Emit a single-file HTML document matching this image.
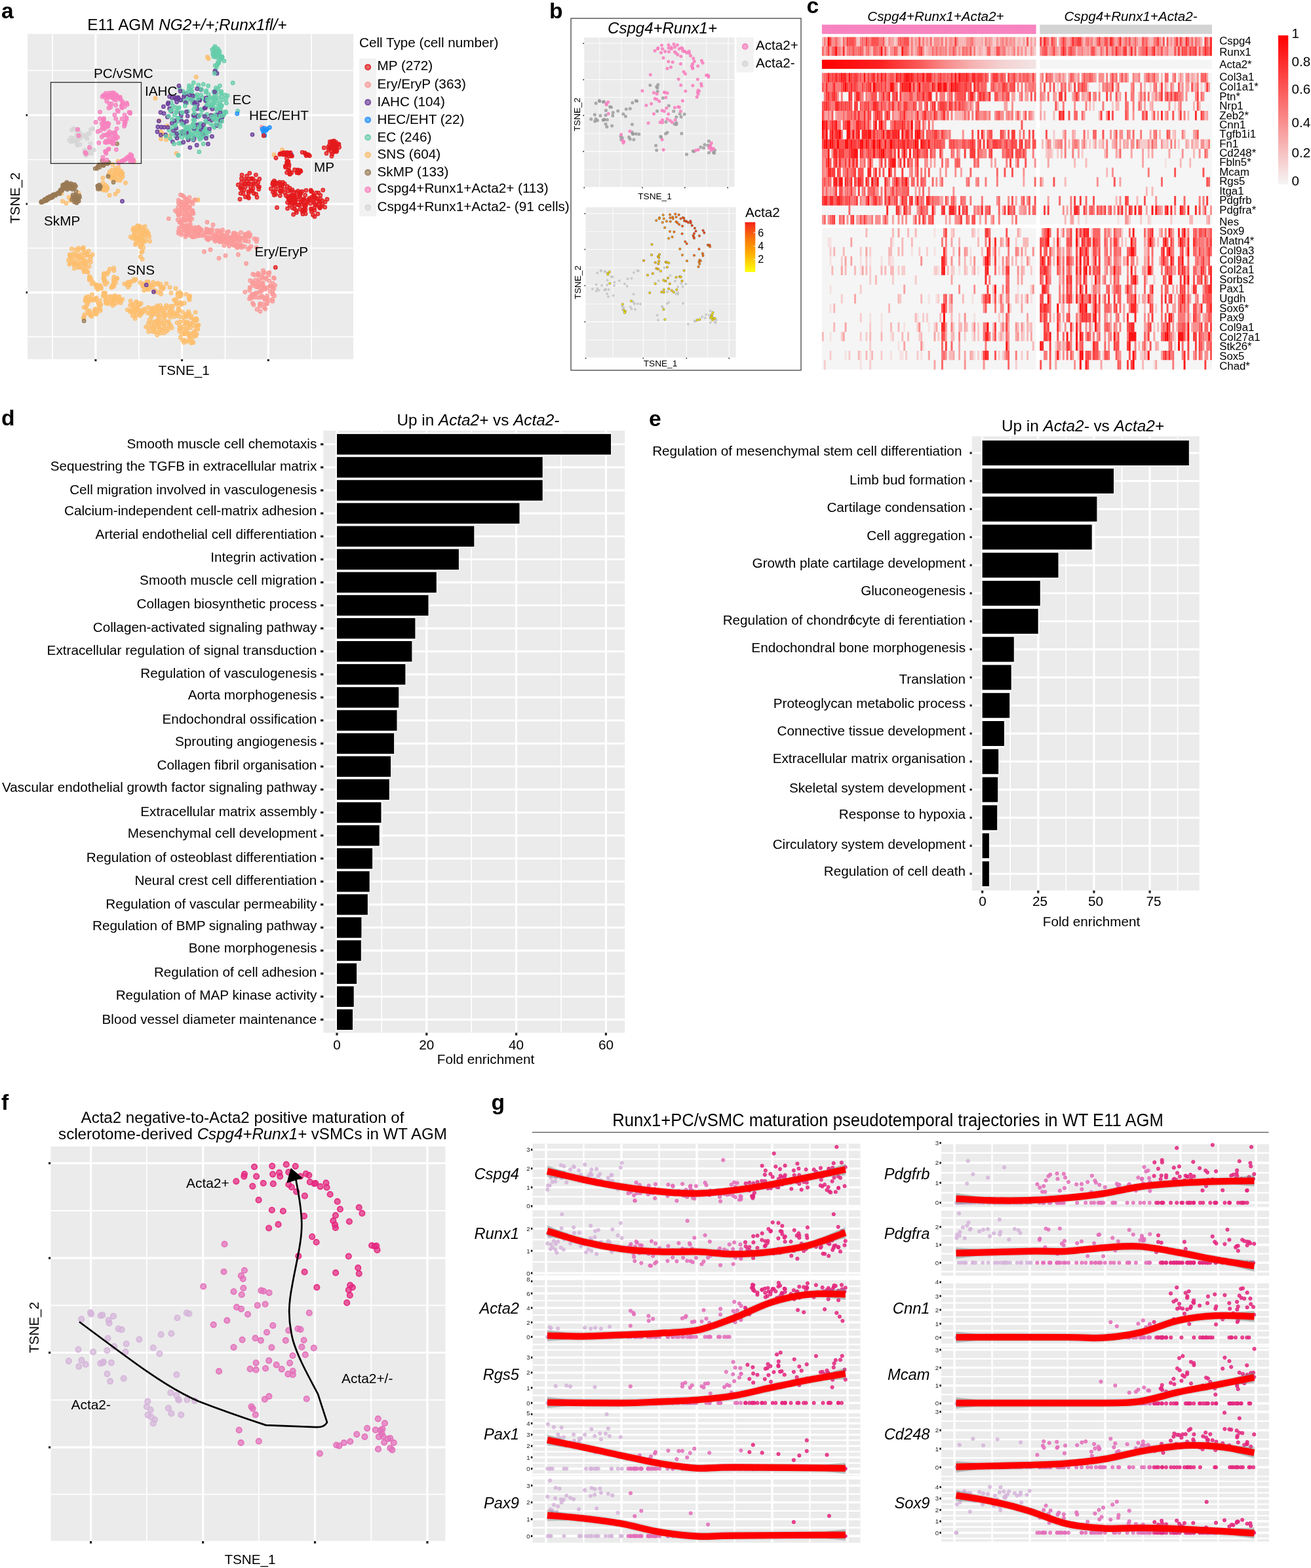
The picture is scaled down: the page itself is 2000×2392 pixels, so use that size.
<!DOCTYPE html>
<html><head><meta charset="utf-8"><title>Figure</title>
<style>html,body{margin:0;padding:0;background:#fff}svg{display:block}text{font-family:'Liberation Sans', sans-serif}</style>
</head><body>
<svg width="2000" height="2392" viewBox="0 0 2000 2392">
<rect width="2000" height="2392" fill="#fff"/>
<rect x="42.1" y="51.7" width="496.9" height="496.2" fill="#ebebeb" />
<path d="M80.0 51.7V547.9M211.8 51.7V547.9M343.5 51.7V547.9M475.2 51.7V547.9M42.1 107.5H539.0M42.1 243.5H539.0M42.1 378.5H539.0M42.1 513.7H539.0" stroke="#fff" stroke-width="1.7" fill="none"/>
<path d="M145.9 51.7V547.9M277.6 51.7V547.9M409.3 51.7V547.9M42.1 175.7H539.0M42.1 311.1H539.0M42.1 446.1H539.0" stroke="#fff" stroke-width="3.1" fill="none"/>
<g fill="#d6d6d6" fill-opacity="0.70" stroke="#d6d6d6" stroke-opacity="0.92" stroke-width="1.43">
<circle cx="109.3" cy="198.6" r="2.69"/>
<circle cx="112.0" cy="196.2" r="2.69"/>
<circle cx="112.2" cy="196.7" r="2.69"/>
<circle cx="115.1" cy="197.3" r="2.69"/>
<circle cx="115.6" cy="197.1" r="2.69"/>
<circle cx="119.0" cy="197.5" r="2.69"/>
<circle cx="117.5" cy="199.0" r="2.69"/>
<circle cx="117.7" cy="200.1" r="2.69"/>
<circle cx="120.5" cy="202.2" r="2.69"/>
<circle cx="121.5" cy="202.5" r="2.69"/>
<circle cx="117.3" cy="205.7" r="2.69"/>
<circle cx="126.8" cy="206.1" r="2.69"/>
<circle cx="122.9" cy="207.8" r="2.69"/>
<circle cx="119.2" cy="208.8" r="2.69"/>
<circle cx="108.4" cy="209.8" r="2.69"/>
<circle cx="112.9" cy="210.8" r="2.69"/>
<circle cx="117.0" cy="210.2" r="2.69"/>
<circle cx="122.6" cy="210.8" r="2.69"/>
<circle cx="105.5" cy="214.1" r="2.69"/>
<circle cx="109.3" cy="213.9" r="2.69"/>
<circle cx="108.5" cy="216.2" r="2.69"/>
<circle cx="110.6" cy="215.4" r="2.69"/>
<circle cx="115.0" cy="215.0" r="2.69"/>
<circle cx="115.7" cy="214.8" r="2.69"/>
<circle cx="116.0" cy="214.5" r="2.69"/>
<circle cx="118.3" cy="214.8" r="2.69"/>
<circle cx="117.0" cy="218.9" r="2.69"/>
<circle cx="122.1" cy="220.6" r="2.69"/>
<circle cx="118.0" cy="221.7" r="2.69"/>
<circle cx="138.3" cy="198.2" r="2.69"/>
<circle cx="141.1" cy="196.3" r="2.69"/>
<circle cx="141.8" cy="196.6" r="2.69"/>
<circle cx="133.3" cy="204.3" r="2.69"/>
<circle cx="136.5" cy="204.0" r="2.69"/>
<circle cx="131.0" cy="209.2" r="2.69"/>
<circle cx="132.9" cy="211.4" r="2.69"/>
<circle cx="138.0" cy="219.2" r="2.69"/>
<circle cx="136.2" cy="225.9" r="2.69"/>
<circle cx="138.0" cy="226.9" r="2.69"/>
<circle cx="138.6" cy="228.4" r="2.69"/>
<circle cx="138.7" cy="228.6" r="2.69"/>
<circle cx="141.2" cy="228.5" r="2.69"/>
<circle cx="143.5" cy="228.8" r="2.69"/>
<circle cx="129.3" cy="229.1" r="2.69"/>
<circle cx="129.0" cy="231.1" r="2.69"/>
<circle cx="130.2" cy="232.3" r="2.69"/>
<circle cx="135.6" cy="231.6" r="2.69"/>
<circle cx="136.5" cy="233.6" r="2.69"/>
<circle cx="139.4" cy="234.1" r="2.69"/>
<circle cx="129.4" cy="234.2" r="2.69"/>
<circle cx="130.4" cy="234.9" r="2.69"/>
<circle cx="131.4" cy="235.9" r="2.69"/>
<circle cx="131.0" cy="237.3" r="2.69"/>
</g>
<g fill="#fdbf6f" fill-opacity="0.70" stroke="#fdbf6f" stroke-opacity="0.92" stroke-width="1.43">
<circle cx="217.3" cy="359.6" r="2.69"/>
<circle cx="214.3" cy="359.4" r="2.69"/>
<circle cx="214.8" cy="354.3" r="2.69"/>
<circle cx="214.9" cy="363.6" r="2.69"/>
<circle cx="210.3" cy="358.4" r="2.69"/>
<circle cx="216.3" cy="356.3" r="2.69"/>
<circle cx="210.9" cy="365.7" r="2.69"/>
<circle cx="211.2" cy="353.0" r="2.69"/>
<circle cx="217.4" cy="360.7" r="2.69"/>
<circle cx="207.8" cy="362.2" r="2.69"/>
<circle cx="218.5" cy="352.5" r="2.69"/>
<circle cx="215.6" cy="366.2" r="2.69"/>
<circle cx="208.1" cy="352.2" r="2.69"/>
<circle cx="220.6" cy="357.4" r="2.69"/>
<circle cx="210.1" cy="363.1" r="2.69"/>
<circle cx="212.3" cy="349.4" r="2.69"/>
<circle cx="217.4" cy="366.6" r="2.69"/>
<circle cx="205.4" cy="359.7" r="2.69"/>
<circle cx="220.2" cy="352.9" r="2.69"/>
<circle cx="212.6" cy="367.9" r="2.69"/>
<circle cx="208.6" cy="350.8" r="2.69"/>
<circle cx="223.3" cy="360.6" r="2.69"/>
<circle cx="207.1" cy="363.5" r="2.69"/>
<circle cx="213.4" cy="347.3" r="2.69"/>
<circle cx="218.6" cy="367.4" r="2.69"/>
<circle cx="204.5" cy="356.4" r="2.69"/>
<circle cx="223.0" cy="354.8" r="2.69"/>
<circle cx="208.6" cy="371.0" r="2.69"/>
<circle cx="211.2" cy="345.7" r="2.69"/>
<circle cx="222.3" cy="367.0" r="2.69"/>
<circle cx="206.6" cy="362.9" r="2.69"/>
<circle cx="219.0" cy="350.6" r="2.69"/>
<circle cx="215.5" cy="370.7" r="2.69"/>
<circle cx="204.9" cy="349.2" r="2.69"/>
<circle cx="226.4" cy="356.6" r="2.69"/>
<circle cx="207.5" cy="366.9" r="2.69"/>
<circle cx="213.4" cy="345.3" r="2.69"/>
<circle cx="220.2" cy="369.1" r="2.69"/>
<circle cx="205.2" cy="358.7" r="2.69"/>
<circle cx="224.1" cy="351.9" r="2.69"/>
<circle cx="213.8" cy="375.6" r="2.69"/>
<circle cx="207.8" cy="346.4" r="2.69"/>
<circle cx="227.7" cy="360.9" r="2.69"/>
<circle cx="202.1" cy="363.6" r="2.69"/>
<circle cx="217.8" cy="346.8" r="2.69"/>
<circle cx="216.5" cy="373.2" r="2.69"/>
<circle cx="202.7" cy="350.7" r="2.69"/>
<circle cx="226.1" cy="355.6" r="2.69"/>
<circle cx="206.4" cy="372.9" r="2.69"/>
<circle cx="210.4" cy="344.1" r="2.69"/>
<circle cx="228.6" cy="368.0" r="2.69"/>
<circle cx="199.2" cy="361.3" r="2.69"/>
<circle cx="221.1" cy="345.3" r="2.69"/>
<circle cx="215.7" cy="372.5" r="2.69"/>
<circle cx="203.8" cy="348.0" r="2.69"/>
<circle cx="215.8" cy="384.7" r="2.69"/>
<circle cx="217.3" cy="383.8" r="2.69"/>
<circle cx="218.6" cy="377.7" r="2.69"/>
<circle cx="214.4" cy="391.7" r="2.69"/>
<circle cx="217.3" cy="395.3" r="2.69"/>
<circle cx="214.3" cy="377.1" r="2.69"/>
<circle cx="122.1" cy="392.9" r="2.69"/>
<circle cx="125.9" cy="394.5" r="2.69"/>
<circle cx="119.2" cy="392.4" r="2.69"/>
<circle cx="123.5" cy="387.8" r="2.69"/>
<circle cx="123.6" cy="402.1" r="2.69"/>
<circle cx="116.2" cy="389.8" r="2.69"/>
<circle cx="127.4" cy="395.4" r="2.69"/>
<circle cx="118.9" cy="397.9" r="2.69"/>
<circle cx="121.8" cy="391.1" r="2.69"/>
<circle cx="125.1" cy="399.7" r="2.69"/>
<circle cx="112.8" cy="392.6" r="2.69"/>
<circle cx="128.0" cy="389.7" r="2.69"/>
<circle cx="118.5" cy="403.8" r="2.69"/>
<circle cx="116.6" cy="387.9" r="2.69"/>
<circle cx="129.3" cy="398.3" r="2.69"/>
<circle cx="112.8" cy="401.3" r="2.69"/>
<circle cx="128.7" cy="385.7" r="2.69"/>
<circle cx="128.0" cy="403.0" r="2.69"/>
<circle cx="109.4" cy="389.3" r="2.69"/>
<circle cx="133.8" cy="389.9" r="2.69"/>
<circle cx="113.0" cy="402.9" r="2.69"/>
<circle cx="119.2" cy="381.5" r="2.69"/>
<circle cx="130.9" cy="401.6" r="2.69"/>
<circle cx="110.6" cy="396.8" r="2.69"/>
<circle cx="131.1" cy="385.3" r="2.69"/>
<circle cx="119.5" cy="403.5" r="2.69"/>
<circle cx="112.0" cy="387.1" r="2.69"/>
<circle cx="133.8" cy="398.4" r="2.69"/>
<circle cx="114.3" cy="399.7" r="2.69"/>
<circle cx="125.9" cy="379.3" r="2.69"/>
<circle cx="130.2" cy="403.8" r="2.69"/>
<circle cx="107.3" cy="393.4" r="2.69"/>
<circle cx="133.2" cy="387.8" r="2.69"/>
<circle cx="119.5" cy="408.0" r="2.69"/>
<circle cx="115.1" cy="380.8" r="2.69"/>
<circle cx="138.2" cy="400.1" r="2.69"/>
<circle cx="106.8" cy="401.0" r="2.69"/>
<circle cx="127.4" cy="380.4" r="2.69"/>
<circle cx="125.9" cy="409.3" r="2.69"/>
<circle cx="106.2" cy="388.2" r="2.69"/>
<circle cx="138.2" cy="391.4" r="2.69"/>
<circle cx="112.9" cy="404.1" r="2.69"/>
<circle cx="119.8" cy="378.4" r="2.69"/>
<circle cx="136.1" cy="406.6" r="2.69"/>
<circle cx="104.5" cy="397.0" r="2.69"/>
<circle cx="135.2" cy="382.8" r="2.69"/>
<circle cx="122.1" cy="407.4" r="2.69"/>
<circle cx="109.3" cy="379.6" r="2.69"/>
<circle cx="137.9" cy="395.7" r="2.69"/>
<circle cx="105.8" cy="403.3" r="2.69"/>
<circle cx="127.2" cy="377.3" r="2.69"/>
<circle cx="131.7" cy="409.6" r="2.69"/>
<circle cx="106.6" cy="391.1" r="2.69"/>
<circle cx="141.1" cy="388.5" r="2.69"/>
<circle cx="113.5" cy="409.4" r="2.69"/>
<circle cx="136.9" cy="424.6" r="2.69"/>
<circle cx="142.2" cy="430.9" r="2.69"/>
<circle cx="136.2" cy="427.1" r="2.69"/>
<circle cx="153.4" cy="439.7" r="2.69"/>
<circle cx="139.1" cy="426.6" r="2.69"/>
<circle cx="146.8" cy="438.6" r="2.69"/>
<circle cx="134.0" cy="415.2" r="2.69"/>
<circle cx="140.1" cy="432.8" r="2.69"/>
<circle cx="153.2" cy="436.2" r="2.69"/>
<circle cx="128.3" cy="414.7" r="2.69"/>
<circle cx="146.8" cy="434.5" r="2.69"/>
<circle cx="136.7" cy="423.0" r="2.69"/>
<circle cx="128.3" cy="412.1" r="2.69"/>
<circle cx="151.9" cy="435.3" r="2.69"/>
<circle cx="133.0" cy="414.3" r="2.69"/>
<circle cx="136.8" cy="422.0" r="2.69"/>
<circle cx="151.1" cy="439.2" r="2.69"/>
<circle cx="148.1" cy="435.4" r="2.69"/>
<circle cx="136.3" cy="423.5" r="2.69"/>
<circle cx="149.0" cy="441.5" r="2.69"/>
<circle cx="145.8" cy="434.7" r="2.69"/>
<circle cx="138.4" cy="424.6" r="2.69"/>
<circle cx="159.5" cy="427.1" r="2.69"/>
<circle cx="160.0" cy="427.9" r="2.69"/>
<circle cx="173.8" cy="412.8" r="2.69"/>
<circle cx="178.0" cy="424.2" r="2.69"/>
<circle cx="171.6" cy="435.9" r="2.69"/>
<circle cx="173.6" cy="430.2" r="2.69"/>
<circle cx="165.4" cy="414.4" r="2.69"/>
<circle cx="173.6" cy="409.0" r="2.69"/>
<circle cx="173.5" cy="427.5" r="2.69"/>
<circle cx="167.5" cy="410.5" r="2.69"/>
<circle cx="174.4" cy="428.0" r="2.69"/>
<circle cx="163.5" cy="417.4" r="2.69"/>
<circle cx="162.7" cy="417.9" r="2.69"/>
<circle cx="173.7" cy="437.0" r="2.69"/>
<circle cx="173.9" cy="426.5" r="2.69"/>
<circle cx="173.4" cy="432.8" r="2.69"/>
<circle cx="157.7" cy="423.6" r="2.69"/>
<circle cx="159.2" cy="421.9" r="2.69"/>
<circle cx="158.1" cy="425.2" r="2.69"/>
<circle cx="172.7" cy="434.1" r="2.69"/>
<circle cx="163.3" cy="431.5" r="2.69"/>
<circle cx="158.2" cy="417.8" r="2.69"/>
<circle cx="159.1" cy="429.6" r="2.69"/>
<circle cx="170.0" cy="438.5" r="2.69"/>
<circle cx="160.5" cy="433.7" r="2.69"/>
<circle cx="173.9" cy="422.7" r="2.69"/>
<circle cx="178.8" cy="425.1" r="2.69"/>
<circle cx="159.3" cy="417.1" r="2.69"/>
<circle cx="176.6" cy="431.3" r="2.69"/>
<circle cx="170.9" cy="438.1" r="2.69"/>
<circle cx="130.6" cy="469.2" r="2.69"/>
<circle cx="127.9" cy="468.8" r="2.69"/>
<circle cx="141.6" cy="478.5" r="2.69"/>
<circle cx="146.3" cy="457.7" r="2.69"/>
<circle cx="133.5" cy="460.4" r="2.69"/>
<circle cx="145.0" cy="472.7" r="2.69"/>
<circle cx="141.2" cy="458.1" r="2.69"/>
<circle cx="148.1" cy="477.1" r="2.69"/>
<circle cx="144.3" cy="473.6" r="2.69"/>
<circle cx="145.4" cy="455.6" r="2.69"/>
<circle cx="131.2" cy="454.0" r="2.69"/>
<circle cx="135.5" cy="459.1" r="2.69"/>
<circle cx="134.7" cy="452.7" r="2.69"/>
<circle cx="152.5" cy="458.5" r="2.69"/>
<circle cx="151.8" cy="464.8" r="2.69"/>
<circle cx="139.2" cy="456.6" r="2.69"/>
<circle cx="133.8" cy="478.0" r="2.69"/>
<circle cx="145.1" cy="477.8" r="2.69"/>
<circle cx="145.7" cy="471.2" r="2.69"/>
<circle cx="151.6" cy="470.8" r="2.69"/>
<circle cx="143.3" cy="456.8" r="2.69"/>
<circle cx="132.1" cy="453.2" r="2.69"/>
<circle cx="139.1" cy="457.8" r="2.69"/>
<circle cx="146.6" cy="479.4" r="2.69"/>
<circle cx="133.8" cy="462.6" r="2.69"/>
<circle cx="147.0" cy="454.3" r="2.69"/>
<circle cx="150.8" cy="465.4" r="2.69"/>
<circle cx="130.0" cy="457.5" r="2.69"/>
<circle cx="133.1" cy="473.4" r="2.69"/>
<circle cx="136.7" cy="477.8" r="2.69"/>
<circle cx="139.8" cy="456.0" r="2.69"/>
<circle cx="140.3" cy="449.5" r="2.69"/>
<circle cx="149.2" cy="461.6" r="2.69"/>
<circle cx="136.6" cy="474.2" r="2.69"/>
<circle cx="139.8" cy="482.7" r="2.69"/>
<circle cx="132.1" cy="466.5" r="2.69"/>
<circle cx="153.1" cy="473.8" r="2.69"/>
<circle cx="134.1" cy="462.0" r="2.69"/>
<circle cx="152.6" cy="470.4" r="2.69"/>
<circle cx="130.1" cy="459.3" r="2.69"/>
<circle cx="138.2" cy="481.4" r="2.69"/>
<circle cx="153.9" cy="464.7" r="2.69"/>
<circle cx="127.5" cy="485.0" r="2.69"/>
<circle cx="129.0" cy="480.0" r="2.69"/>
<circle cx="154.6" cy="439.6" r="2.69"/>
<circle cx="157.7" cy="451.2" r="2.69"/>
<circle cx="160.5" cy="447.2" r="2.69"/>
<circle cx="160.0" cy="450.4" r="2.69"/>
<circle cx="157.9" cy="446.9" r="2.69"/>
<circle cx="159.5" cy="448.3" r="2.69"/>
<circle cx="157.8" cy="451.4" r="2.69"/>
<circle cx="174.3" cy="456.9" r="2.69"/>
<circle cx="173.6" cy="458.9" r="2.69"/>
<circle cx="169.3" cy="458.0" r="2.69"/>
<circle cx="174.9" cy="455.1" r="2.69"/>
<circle cx="172.4" cy="461.1" r="2.69"/>
<circle cx="170.2" cy="456.8" r="2.69"/>
<circle cx="180.6" cy="458.0" r="2.69"/>
<circle cx="167.7" cy="461.3" r="2.69"/>
<circle cx="171.6" cy="453.5" r="2.69"/>
<circle cx="180.5" cy="460.9" r="2.69"/>
<circle cx="163.1" cy="458.6" r="2.69"/>
<circle cx="179.6" cy="454.4" r="2.69"/>
<circle cx="172.7" cy="463.4" r="2.69"/>
<circle cx="165.9" cy="453.0" r="2.69"/>
<circle cx="183.7" cy="458.8" r="2.69"/>
<circle cx="161.4" cy="461.2" r="2.69"/>
<circle cx="176.7" cy="453.1" r="2.69"/>
<circle cx="176.0" cy="463.3" r="2.69"/>
<circle cx="160.7" cy="453.8" r="2.69"/>
<circle cx="186.8" cy="456.6" r="2.69"/>
<circle cx="165.4" cy="463.6" r="2.69"/>
<circle cx="169.3" cy="452.3" r="2.69"/>
<circle cx="184.1" cy="462.0" r="2.69"/>
<circle cx="161.0" cy="458.3" r="2.69"/>
<circle cx="181.8" cy="452.5" r="2.69"/>
<circle cx="172.0" cy="466.0" r="2.69"/>
<circle cx="160.9" cy="453.1" r="2.69"/>
<circle cx="184.4" cy="458.2" r="2.69"/>
<circle cx="161.9" cy="462.7" r="2.69"/>
<circle cx="175.3" cy="450.9" r="2.69"/>
<circle cx="232.1" cy="435.2" r="2.69"/>
<circle cx="235.1" cy="434.4" r="2.69"/>
<circle cx="219.7" cy="443.1" r="2.69"/>
<circle cx="228.8" cy="435.2" r="2.69"/>
<circle cx="224.4" cy="429.8" r="2.69"/>
<circle cx="245.6" cy="443.0" r="2.69"/>
<circle cx="197.6" cy="435.1" r="2.69"/>
<circle cx="196.4" cy="430.2" r="2.69"/>
<circle cx="193.4" cy="433.9" r="2.69"/>
<circle cx="217.6" cy="434.6" r="2.69"/>
<circle cx="245.1" cy="437.5" r="2.69"/>
<circle cx="200.4" cy="429.4" r="2.69"/>
<circle cx="213.9" cy="431.2" r="2.69"/>
<circle cx="259.0" cy="438.3" r="2.69"/>
<circle cx="204.5" cy="426.1" r="2.69"/>
<circle cx="207.3" cy="426.2" r="2.69"/>
<circle cx="245.7" cy="448.6" r="2.69"/>
<circle cx="217.6" cy="432.9" r="2.69"/>
<circle cx="226.0" cy="430.1" r="2.69"/>
<circle cx="200.0" cy="430.1" r="2.69"/>
<circle cx="232.5" cy="438.4" r="2.69"/>
<circle cx="223.7" cy="430.3" r="2.69"/>
<circle cx="236.8" cy="443.4" r="2.69"/>
<circle cx="189.8" cy="433.1" r="2.69"/>
<circle cx="225.5" cy="439.5" r="2.69"/>
<circle cx="244.6" cy="433.2" r="2.69"/>
<circle cx="241.9" cy="446.2" r="2.69"/>
<circle cx="197.5" cy="434.9" r="2.69"/>
<circle cx="240.4" cy="432.0" r="2.69"/>
<circle cx="194.3" cy="431.5" r="2.69"/>
<circle cx="248.6" cy="440.4" r="2.69"/>
<circle cx="247.5" cy="437.8" r="2.69"/>
<circle cx="233.6" cy="430.7" r="2.69"/>
<circle cx="235.7" cy="445.4" r="2.69"/>
<circle cx="227.4" cy="441.6" r="2.69"/>
<circle cx="219.4" cy="435.6" r="2.69"/>
<circle cx="249.6" cy="438.7" r="2.69"/>
<circle cx="195.3" cy="437.9" r="2.69"/>
<circle cx="240.7" cy="433.4" r="2.69"/>
<circle cx="217.7" cy="436.3" r="2.69"/>
<circle cx="223.9" cy="441.7" r="2.69"/>
<circle cx="218.6" cy="437.1" r="2.69"/>
<circle cx="205.1" cy="428.3" r="2.69"/>
<circle cx="226.5" cy="438.8" r="2.69"/>
<circle cx="253.8" cy="432.6" r="2.69"/>
<circle cx="211.8" cy="473.2" r="2.69"/>
<circle cx="205.1" cy="471.9" r="2.69"/>
<circle cx="208.2" cy="469.3" r="2.69"/>
<circle cx="207.4" cy="474.0" r="2.69"/>
<circle cx="204.5" cy="468.9" r="2.69"/>
<circle cx="211.7" cy="472.8" r="2.69"/>
<circle cx="205.3" cy="475.7" r="2.69"/>
<circle cx="207.9" cy="468.9" r="2.69"/>
<circle cx="215.6" cy="477.3" r="2.69"/>
<circle cx="202.4" cy="475.1" r="2.69"/>
<circle cx="210.2" cy="466.6" r="2.69"/>
<circle cx="207.9" cy="479.7" r="2.69"/>
<circle cx="202.2" cy="465.8" r="2.69"/>
<circle cx="215.8" cy="473.5" r="2.69"/>
<circle cx="200.7" cy="476.0" r="2.69"/>
<circle cx="206.7" cy="462.0" r="2.69"/>
<circle cx="213.5" cy="478.8" r="2.69"/>
<circle cx="200.2" cy="472.3" r="2.69"/>
<circle cx="213.1" cy="465.2" r="2.69"/>
<circle cx="205.7" cy="482.6" r="2.69"/>
<circle cx="201.8" cy="464.7" r="2.69"/>
<circle cx="217.7" cy="476.6" r="2.69"/>
<circle cx="198.0" cy="475.2" r="2.69"/>
<circle cx="212.3" cy="463.0" r="2.69"/>
<circle cx="213.2" cy="481.4" r="2.69"/>
<circle cx="198.5" cy="465.6" r="2.69"/>
<circle cx="220.6" cy="471.3" r="2.69"/>
<circle cx="202.2" cy="481.5" r="2.69"/>
<circle cx="208.4" cy="460.1" r="2.69"/>
<circle cx="215.3" cy="478.9" r="2.69"/>
<circle cx="194.4" cy="472.7" r="2.69"/>
<circle cx="215.3" cy="462.8" r="2.69"/>
<circle cx="206.1" cy="485.9" r="2.69"/>
<circle cx="199.1" cy="459.1" r="2.69"/>
<circle cx="220.7" cy="473.9" r="2.69"/>
<circle cx="246.2" cy="473.6" r="2.69"/>
<circle cx="250.6" cy="473.2" r="2.69"/>
<circle cx="251.1" cy="477.6" r="2.69"/>
<circle cx="240.2" cy="474.1" r="2.69"/>
<circle cx="260.1" cy="474.0" r="2.69"/>
<circle cx="244.7" cy="478.0" r="2.69"/>
<circle cx="247.1" cy="471.0" r="2.69"/>
<circle cx="258.4" cy="476.6" r="2.69"/>
<circle cx="238.9" cy="476.6" r="2.69"/>
<circle cx="257.1" cy="470.5" r="2.69"/>
<circle cx="250.7" cy="479.1" r="2.69"/>
<circle cx="239.6" cy="470.5" r="2.69"/>
<circle cx="264.5" cy="476.4" r="2.69"/>
<circle cx="235.1" cy="479.1" r="2.69"/>
<circle cx="247.3" cy="470.3" r="2.69"/>
<circle cx="263.4" cy="479.3" r="2.69"/>
<circle cx="235.4" cy="474.9" r="2.69"/>
<circle cx="262.2" cy="470.9" r="2.69"/>
<circle cx="249.2" cy="482.8" r="2.69"/>
<circle cx="236.4" cy="469.4" r="2.69"/>
<circle cx="269.5" cy="478.4" r="2.69"/>
<circle cx="233.3" cy="478.7" r="2.69"/>
<circle cx="252.6" cy="469.0" r="2.69"/>
<circle cx="257.3" cy="480.9" r="2.69"/>
<circle cx="232.6" cy="471.6" r="2.69"/>
<circle cx="272.0" cy="472.5" r="2.69"/>
<circle cx="240.9" cy="481.5" r="2.69"/>
<circle cx="241.7" cy="468.9" r="2.69"/>
<circle cx="263.4" cy="479.2" r="2.69"/>
<circle cx="232.2" cy="475.2" r="2.69"/>
<circle cx="260.1" cy="467.2" r="2.69"/>
<circle cx="251.7" cy="482.5" r="2.69"/>
<circle cx="232.0" cy="470.1" r="2.69"/>
<circle cx="278.7" cy="476.1" r="2.69"/>
<circle cx="230.5" cy="480.6" r="2.69"/>
<circle cx="253.7" cy="465.9" r="2.69"/>
<circle cx="265.4" cy="483.2" r="2.69"/>
<circle cx="228.2" cy="475.4" r="2.69"/>
<circle cx="272.4" cy="470.2" r="2.69"/>
<circle cx="242.7" cy="483.5" r="2.69"/>
<circle cx="239.8" cy="466.7" r="2.69"/>
<circle cx="270.5" cy="478.0" r="2.69"/>
<circle cx="225.5" cy="477.5" r="2.69"/>
<circle cx="263.4" cy="467.0" r="2.69"/>
<circle cx="259.9" cy="484.0" r="2.69"/>
<circle cx="226.1" cy="469.0" r="2.69"/>
<circle cx="273.8" cy="473.4" r="2.69"/>
<circle cx="231.2" cy="483.1" r="2.69"/>
<circle cx="244.4" cy="465.8" r="2.69"/>
<circle cx="270.0" cy="482.1" r="2.69"/>
<circle cx="288.2" cy="455.3" r="2.69"/>
<circle cx="269.1" cy="463.3" r="2.69"/>
<circle cx="267.0" cy="458.6" r="2.69"/>
<circle cx="274.7" cy="461.5" r="2.69"/>
<circle cx="289.1" cy="453.5" r="2.69"/>
<circle cx="271.1" cy="447.5" r="2.69"/>
<circle cx="274.5" cy="452.3" r="2.69"/>
<circle cx="284.1" cy="449.0" r="2.69"/>
<circle cx="276.7" cy="464.6" r="2.69"/>
<circle cx="276.4" cy="448.3" r="2.69"/>
<circle cx="275.9" cy="450.4" r="2.69"/>
<circle cx="265.7" cy="457.6" r="2.69"/>
<circle cx="272.7" cy="462.7" r="2.69"/>
<circle cx="271.8" cy="447.4" r="2.69"/>
<circle cx="269.0" cy="456.3" r="2.69"/>
<circle cx="281.4" cy="462.3" r="2.69"/>
<circle cx="289.1" cy="457.3" r="2.69"/>
<circle cx="276.2" cy="450.8" r="2.69"/>
<circle cx="271.2" cy="450.2" r="2.69"/>
<circle cx="269.2" cy="463.3" r="2.69"/>
<circle cx="276.5" cy="462.4" r="2.69"/>
<circle cx="289.5" cy="451.3" r="2.69"/>
<circle cx="274.4" cy="445.9" r="2.69"/>
<circle cx="275.6" cy="451.1" r="2.69"/>
<circle cx="269.7" cy="463.6" r="2.69"/>
<circle cx="239.8" cy="498.5" r="2.69"/>
<circle cx="242.5" cy="495.3" r="2.69"/>
<circle cx="243.2" cy="500.0" r="2.69"/>
<circle cx="239.0" cy="493.9" r="2.69"/>
<circle cx="250.5" cy="500.7" r="2.69"/>
<circle cx="234.1" cy="499.5" r="2.69"/>
<circle cx="245.2" cy="493.3" r="2.69"/>
<circle cx="244.2" cy="502.0" r="2.69"/>
<circle cx="235.7" cy="493.0" r="2.69"/>
<circle cx="250.2" cy="496.3" r="2.69"/>
<circle cx="235.6" cy="505.2" r="2.69"/>
<circle cx="240.9" cy="491.0" r="2.69"/>
<circle cx="248.6" cy="503.5" r="2.69"/>
<circle cx="231.7" cy="499.9" r="2.69"/>
<circle cx="250.6" cy="493.8" r="2.69"/>
<circle cx="242.4" cy="506.1" r="2.69"/>
<circle cx="232.2" cy="490.3" r="2.69"/>
<circle cx="256.9" cy="498.0" r="2.69"/>
<circle cx="235.1" cy="502.1" r="2.69"/>
<circle cx="246.3" cy="489.5" r="2.69"/>
<circle cx="250.1" cy="508.1" r="2.69"/>
<circle cx="230.0" cy="494.4" r="2.69"/>
<circle cx="257.7" cy="492.4" r="2.69"/>
<circle cx="237.6" cy="506.8" r="2.69"/>
<circle cx="238.2" cy="489.8" r="2.69"/>
<circle cx="256.7" cy="502.6" r="2.69"/>
<circle cx="226.0" cy="500.5" r="2.69"/>
<circle cx="250.9" cy="489.2" r="2.69"/>
<circle cx="244.8" cy="508.3" r="2.69"/>
<circle cx="226.4" cy="492.9" r="2.69"/>
<circle cx="260.6" cy="496.6" r="2.69"/>
<circle cx="232.7" cy="505.9" r="2.69"/>
<circle cx="241.1" cy="488.5" r="2.69"/>
<circle cx="254.1" cy="505.5" r="2.69"/>
<circle cx="222.7" cy="498.6" r="2.69"/>
<circle cx="256.8" cy="490.6" r="2.69"/>
<circle cx="239.8" cy="511.1" r="2.69"/>
<circle cx="228.1" cy="488.0" r="2.69"/>
<circle cx="262.1" cy="500.3" r="2.69"/>
<circle cx="226.7" cy="506.0" r="2.69"/>
<circle cx="286.8" cy="501.1" r="2.69"/>
<circle cx="289.3" cy="496.1" r="2.69"/>
<circle cx="284.2" cy="507.8" r="2.69"/>
<circle cx="288.7" cy="495.2" r="2.69"/>
<circle cx="291.0" cy="499.8" r="2.69"/>
<circle cx="283.4" cy="501.7" r="2.69"/>
<circle cx="290.9" cy="493.3" r="2.69"/>
<circle cx="288.2" cy="509.7" r="2.69"/>
<circle cx="284.6" cy="492.0" r="2.69"/>
<circle cx="294.9" cy="496.4" r="2.69"/>
<circle cx="285.3" cy="507.2" r="2.69"/>
<circle cx="286.2" cy="491.6" r="2.69"/>
<circle cx="292.4" cy="508.6" r="2.69"/>
<circle cx="280.4" cy="497.6" r="2.69"/>
<circle cx="295.0" cy="490.3" r="2.69"/>
<circle cx="287.7" cy="511.7" r="2.69"/>
<circle cx="284.0" cy="491.9" r="2.69"/>
<circle cx="296.5" cy="505.9" r="2.69"/>
<circle cx="281.1" cy="508.7" r="2.69"/>
<circle cx="286.6" cy="492.1" r="2.69"/>
<circle cx="291.2" cy="512.5" r="2.69"/>
<circle cx="283.7" cy="493.9" r="2.69"/>
<circle cx="299.3" cy="496.3" r="2.69"/>
<circle cx="281.4" cy="509.4" r="2.69"/>
<circle cx="284.1" cy="483.5" r="2.69"/>
<circle cx="296.3" cy="507.6" r="2.69"/>
<circle cx="278.9" cy="503.3" r="2.69"/>
<circle cx="295.2" cy="487.7" r="2.69"/>
<circle cx="289.5" cy="516.2" r="2.69"/>
<circle cx="279.9" cy="490.1" r="2.69"/>
<circle cx="301.9" cy="502.2" r="2.69"/>
<circle cx="282.8" cy="509.0" r="2.69"/>
<circle cx="290.7" cy="484.6" r="2.69"/>
<circle cx="296.1" cy="512.8" r="2.69"/>
<circle cx="274.0" cy="496.5" r="2.69"/>
<circle cx="299.3" cy="489.0" r="2.69"/>
<circle cx="284.6" cy="521.0" r="2.69"/>
<circle cx="282.6" cy="481.9" r="2.69"/>
<circle cx="297.0" cy="507.4" r="2.69"/>
<circle cx="277.1" cy="509.3" r="2.69"/>
<circle cx="291.9" cy="482.2" r="2.69"/>
<circle cx="292.6" cy="517.2" r="2.69"/>
<circle cx="274.6" cy="490.8" r="2.69"/>
<circle cx="301.6" cy="496.2" r="2.69"/>
<circle cx="281.3" cy="518.9" r="2.69"/>
<circle cx="287.8" cy="479.6" r="2.69"/>
<circle cx="298.7" cy="512.6" r="2.69"/>
<circle cx="276.0" cy="500.2" r="2.69"/>
<circle cx="297.0" cy="487.0" r="2.69"/>
<circle cx="288.1" cy="519.9" r="2.69"/>
<circle cx="279.6" cy="483.8" r="2.69"/>
<circle cx="299.7" cy="502.0" r="2.69"/>
<circle cx="275.4" cy="515.0" r="2.69"/>
<circle cx="288.4" cy="478.2" r="2.69"/>
<circle cx="293.5" cy="522.2" r="2.69"/>
<circle cx="270.1" cy="492.3" r="2.69"/>
<circle cx="299.6" cy="485.9" r="2.69"/>
<circle cx="280.5" cy="522.5" r="2.69"/>
<circle cx="283.7" cy="479.6" r="2.69"/>
<circle cx="300.1" cy="509.6" r="2.69"/>
<circle cx="273.9" cy="505.0" r="2.69"/>
<circle cx="298.2" cy="476.3" r="2.69"/>
<circle cx="291.6" cy="523.2" r="2.69"/>
<circle cx="274.6" cy="483.0" r="2.69"/>
<circle cx="302.9" cy="495.9" r="2.69"/>
<circle cx="278.6" cy="519.1" r="2.69"/>
<circle cx="287.4" cy="475.3" r="2.69"/>
<circle cx="294.9" cy="522.5" r="2.69"/>
<circle cx="273.9" cy="501.2" r="2.69"/>
<circle cx="300.4" cy="488.1" r="2.69"/>
<circle cx="297.0" cy="305.0" r="2.69"/>
<circle cx="302.0" cy="305.0" r="2.69"/>
<circle cx="128.0" cy="484.0" r="2.69"/>
<circle cx="268.0" cy="440.0" r="2.69"/>
<circle cx="261.0" cy="447.0" r="2.69"/>
<circle cx="179.4" cy="265.7" r="2.69"/>
<circle cx="173.8" cy="266.9" r="2.69"/>
<circle cx="178.8" cy="264.8" r="2.69"/>
<circle cx="175.4" cy="268.7" r="2.69"/>
<circle cx="175.7" cy="263.1" r="2.69"/>
<circle cx="183.7" cy="266.5" r="2.69"/>
<circle cx="171.6" cy="269.7" r="2.69"/>
<circle cx="178.8" cy="260.2" r="2.69"/>
<circle cx="179.8" cy="271.1" r="2.69"/>
<circle cx="170.5" cy="263.6" r="2.69"/>
<circle cx="185.5" cy="263.3" r="2.69"/>
<circle cx="174.0" cy="272.5" r="2.69"/>
<circle cx="176.6" cy="259.6" r="2.69"/>
<circle cx="185.0" cy="269.0" r="2.69"/>
<circle cx="168.2" cy="269.7" r="2.69"/>
<circle cx="181.6" cy="261.0" r="2.69"/>
<circle cx="178.0" cy="274.5" r="2.69"/>
<circle cx="167.1" cy="262.0" r="2.69"/>
<circle cx="187.0" cy="264.4" r="2.69"/>
<circle cx="169.6" cy="272.0" r="2.69"/>
<circle cx="176.4" cy="256.8" r="2.69"/>
<circle cx="184.9" cy="272.3" r="2.69"/>
<circle cx="165.9" cy="266.1" r="2.69"/>
<circle cx="184.5" cy="260.6" r="2.69"/>
<circle cx="175.5" cy="274.7" r="2.69"/>
<circle cx="171.1" cy="259.1" r="2.69"/>
<circle cx="187.2" cy="269.3" r="2.69"/>
<circle cx="167.2" cy="269.7" r="2.69"/>
<circle cx="180.7" cy="255.5" r="2.69"/>
<circle cx="182.8" cy="275.6" r="2.69"/>
<circle cx="159.6" cy="287.9" r="2.69"/>
<circle cx="160.3" cy="285.8" r="2.69"/>
<circle cx="161.6" cy="289.1" r="2.69"/>
<circle cx="157.6" cy="286.6" r="2.69"/>
<circle cx="163.3" cy="285.0" r="2.69"/>
<circle cx="158.5" cy="290.2" r="2.69"/>
<circle cx="158.1" cy="284.8" r="2.69"/>
<circle cx="164.1" cy="288.1" r="2.69"/>
<circle cx="155.7" cy="288.9" r="2.69"/>
<circle cx="161.0" cy="282.5" r="2.69"/>
<circle cx="161.9" cy="290.6" r="2.69"/>
<circle cx="155.1" cy="285.0" r="2.69"/>
<circle cx="180.0" cy="291.5" r="2.69"/>
<circle cx="176.0" cy="296.0" r="2.69"/>
<circle cx="167.0" cy="298.0" r="2.69"/>
<circle cx="191.5" cy="279.0" r="2.69"/>
<circle cx="157.0" cy="271.5" r="2.69"/>
<circle cx="157.0" cy="279.0" r="2.69"/>
<circle cx="180.0" cy="246.0" r="2.69"/>
<circle cx="172.0" cy="251.0" r="2.69"/>
<circle cx="204.5" cy="246.0" r="2.69"/>
<circle cx="94.0" cy="295.0" r="2.69"/>
<circle cx="120.0" cy="294.5" r="2.69"/>
<circle cx="105.0" cy="301.0" r="2.69"/>
<circle cx="111.0" cy="301.0" r="2.69"/>
<circle cx="107.5" cy="306.0" r="2.69"/>
<circle cx="95.5" cy="307.0" r="2.69"/>
<circle cx="101.0" cy="310.0" r="2.69"/>
<circle cx="316.5" cy="87.0" r="2.69"/>
<circle cx="318.0" cy="89.5" r="2.69"/>
<circle cx="299.3" cy="117.5" r="2.69"/>
<circle cx="243.0" cy="184.0" r="2.69"/>
<circle cx="255.0" cy="192.0" r="2.69"/>
<circle cx="245.5" cy="201.0" r="2.69"/>
<circle cx="248.0" cy="204.0" r="2.69"/>
<circle cx="259.0" cy="207.5" r="2.69"/>
<circle cx="245.5" cy="212.0" r="2.69"/>
<circle cx="253.5" cy="213.0" r="2.69"/>
<circle cx="269.0" cy="234.0" r="2.69"/>
<circle cx="430.5" cy="228.5" r="2.69"/>
<circle cx="418.0" cy="236.0" r="2.69"/>
<circle cx="237.0" cy="150.0" r="2.69"/>
<circle cx="297.0" cy="305.0" r="2.69"/>
<circle cx="302.0" cy="305.0" r="2.69"/>
<circle cx="128.0" cy="484.0" r="2.69"/>
</g>
<g fill="#fb9a99" fill-opacity="0.70" stroke="#fb9a99" stroke-opacity="0.92" stroke-width="1.43">
<circle cx="283.8" cy="318.4" r="2.69"/>
<circle cx="282.7" cy="325.3" r="2.69"/>
<circle cx="279.8" cy="315.1" r="2.69"/>
<circle cx="283.1" cy="320.9" r="2.69"/>
<circle cx="280.8" cy="329.1" r="2.69"/>
<circle cx="281.1" cy="315.0" r="2.69"/>
<circle cx="283.1" cy="321.1" r="2.69"/>
<circle cx="279.0" cy="321.8" r="2.69"/>
<circle cx="285.0" cy="315.7" r="2.69"/>
<circle cx="283.2" cy="329.7" r="2.69"/>
<circle cx="277.0" cy="317.4" r="2.69"/>
<circle cx="284.7" cy="323.6" r="2.69"/>
<circle cx="277.2" cy="326.4" r="2.69"/>
<circle cx="283.1" cy="313.6" r="2.69"/>
<circle cx="287.6" cy="328.3" r="2.69"/>
<circle cx="272.6" cy="324.0" r="2.69"/>
<circle cx="287.0" cy="315.7" r="2.69"/>
<circle cx="280.5" cy="334.2" r="2.69"/>
<circle cx="278.4" cy="311.8" r="2.69"/>
<circle cx="288.5" cy="326.4" r="2.69"/>
<circle cx="273.5" cy="326.7" r="2.69"/>
<circle cx="284.0" cy="311.7" r="2.69"/>
<circle cx="283.9" cy="335.6" r="2.69"/>
<circle cx="277.3" cy="318.8" r="2.69"/>
<circle cx="288.9" cy="317.5" r="2.69"/>
<circle cx="276.1" cy="334.3" r="2.69"/>
<circle cx="280.5" cy="310.5" r="2.69"/>
<circle cx="288.9" cy="328.8" r="2.69"/>
<circle cx="272.9" cy="327.9" r="2.69"/>
<circle cx="285.3" cy="309.2" r="2.69"/>
<circle cx="282.9" cy="336.3" r="2.69"/>
<circle cx="275.6" cy="311.6" r="2.69"/>
<circle cx="289.8" cy="321.0" r="2.69"/>
<circle cx="276.7" cy="338.2" r="2.69"/>
<circle cx="283.6" cy="308.3" r="2.69"/>
<circle cx="286.8" cy="335.2" r="2.69"/>
<circle cx="271.8" cy="320.8" r="2.69"/>
<circle cx="289.5" cy="315.3" r="2.69"/>
<circle cx="280.7" cy="336.3" r="2.69"/>
<circle cx="277.6" cy="307.9" r="2.69"/>
<circle cx="290.0" cy="330.0" r="2.69"/>
<circle cx="272.0" cy="327.9" r="2.69"/>
<circle cx="286.9" cy="306.9" r="2.69"/>
<circle cx="283.2" cy="335.5" r="2.69"/>
<circle cx="272.4" cy="309.5" r="2.69"/>
<circle cx="293.6" cy="322.3" r="2.69"/>
<circle cx="275.2" cy="339.2" r="2.69"/>
<circle cx="280.5" cy="299.9" r="2.69"/>
<circle cx="289.8" cy="334.5" r="2.69"/>
<circle cx="274.1" cy="324.5" r="2.69"/>
<circle cx="289.9" cy="307.9" r="2.69"/>
<circle cx="281.5" cy="344.1" r="2.69"/>
<circle cx="275.5" cy="307.7" r="2.69"/>
<circle cx="294.4" cy="324.7" r="2.69"/>
<circle cx="271.2" cy="335.2" r="2.69"/>
<circle cx="284.9" cy="303.4" r="2.69"/>
<circle cx="288.3" cy="344.2" r="2.69"/>
<circle cx="271.7" cy="315.9" r="2.69"/>
<circle cx="294.1" cy="310.9" r="2.69"/>
<circle cx="277.1" cy="341.5" r="2.69"/>
<circle cx="278.0" cy="298.1" r="2.69"/>
<circle cx="292.7" cy="333.9" r="2.69"/>
<circle cx="270.1" cy="323.5" r="2.69"/>
<circle cx="289.2" cy="301.2" r="2.69"/>
<circle cx="284.8" cy="347.2" r="2.69"/>
<circle cx="272.3" cy="305.3" r="2.69"/>
<circle cx="293.5" cy="321.0" r="2.69"/>
<circle cx="273.7" cy="338.7" r="2.69"/>
<circle cx="282.7" cy="303.1" r="2.69"/>
<circle cx="289.8" cy="337.2" r="2.69"/>
<circle cx="267.4" cy="321.3" r="2.69"/>
<circle cx="292.9" cy="307.8" r="2.69"/>
<circle cx="280.1" cy="347.1" r="2.69"/>
<circle cx="275.5" cy="297.2" r="2.69"/>
<circle cx="294.9" cy="325.7" r="2.69"/>
<circle cx="285.2" cy="351.4" r="2.69"/>
<circle cx="287.9" cy="353.1" r="2.69"/>
<circle cx="283.4" cy="351.9" r="2.69"/>
<circle cx="290.1" cy="351.9" r="2.69"/>
<circle cx="285.7" cy="356.3" r="2.69"/>
<circle cx="280.7" cy="350.2" r="2.69"/>
<circle cx="293.1" cy="351.8" r="2.69"/>
<circle cx="280.3" cy="355.6" r="2.69"/>
<circle cx="286.6" cy="347.5" r="2.69"/>
<circle cx="292.3" cy="356.9" r="2.69"/>
<circle cx="276.3" cy="350.0" r="2.69"/>
<circle cx="293.7" cy="348.1" r="2.69"/>
<circle cx="284.1" cy="358.6" r="2.69"/>
<circle cx="284.2" cy="346.0" r="2.69"/>
<circle cx="298.6" cy="353.6" r="2.69"/>
<circle cx="275.4" cy="355.0" r="2.69"/>
<circle cx="291.1" cy="346.6" r="2.69"/>
<circle cx="288.9" cy="358.8" r="2.69"/>
<circle cx="273.2" cy="347.9" r="2.69"/>
<circle cx="299.1" cy="348.9" r="2.69"/>
<circle cx="276.6" cy="358.1" r="2.69"/>
<circle cx="284.6" cy="343.3" r="2.69"/>
<circle cx="296.9" cy="358.0" r="2.69"/>
<circle cx="272.5" cy="352.4" r="2.69"/>
<circle cx="297.6" cy="346.8" r="2.69"/>
<circle cx="283.0" cy="361.3" r="2.69"/>
<circle cx="276.7" cy="344.7" r="2.69"/>
<circle cx="302.3" cy="352.5" r="2.69"/>
<circle cx="272.3" cy="356.0" r="2.69"/>
<circle cx="290.5" cy="342.1" r="2.69"/>
<circle cx="302.0" cy="347.8" r="2.69"/>
<circle cx="299.4" cy="353.7" r="2.69"/>
<circle cx="328.6" cy="365.9" r="2.69"/>
<circle cx="303.8" cy="359.7" r="2.69"/>
<circle cx="316.5" cy="350.1" r="2.69"/>
<circle cx="298.8" cy="361.1" r="2.69"/>
<circle cx="306.6" cy="350.0" r="2.69"/>
<circle cx="301.5" cy="352.5" r="2.69"/>
<circle cx="319.3" cy="354.2" r="2.69"/>
<circle cx="315.6" cy="354.6" r="2.69"/>
<circle cx="338.6" cy="362.6" r="2.69"/>
<circle cx="351.8" cy="366.0" r="2.69"/>
<circle cx="317.5" cy="351.5" r="2.69"/>
<circle cx="293.1" cy="361.0" r="2.69"/>
<circle cx="325.2" cy="364.3" r="2.69"/>
<circle cx="294.3" cy="361.7" r="2.69"/>
<circle cx="343.5" cy="364.2" r="2.69"/>
<circle cx="302.6" cy="348.9" r="2.69"/>
<circle cx="323.4" cy="355.0" r="2.69"/>
<circle cx="334.2" cy="366.2" r="2.69"/>
<circle cx="328.6" cy="357.8" r="2.69"/>
<circle cx="295.7" cy="360.6" r="2.69"/>
<circle cx="301.0" cy="348.7" r="2.69"/>
<circle cx="334.9" cy="354.6" r="2.69"/>
<circle cx="319.3" cy="362.4" r="2.69"/>
<circle cx="302.8" cy="348.9" r="2.69"/>
<circle cx="315.1" cy="363.9" r="2.69"/>
<circle cx="328.4" cy="368.0" r="2.69"/>
<circle cx="333.4" cy="352.0" r="2.69"/>
<circle cx="303.0" cy="346.7" r="2.69"/>
<circle cx="318.7" cy="350.9" r="2.69"/>
<circle cx="317.7" cy="365.8" r="2.69"/>
<circle cx="296.0" cy="353.8" r="2.69"/>
<circle cx="336.4" cy="361.0" r="2.69"/>
<circle cx="335.2" cy="365.5" r="2.69"/>
<circle cx="316.0" cy="362.0" r="2.69"/>
<circle cx="302.8" cy="356.5" r="2.69"/>
<circle cx="337.9" cy="354.5" r="2.69"/>
<circle cx="317.4" cy="365.6" r="2.69"/>
<circle cx="325.6" cy="360.3" r="2.69"/>
<circle cx="330.5" cy="351.8" r="2.69"/>
<circle cx="339.8" cy="365.0" r="2.69"/>
<circle cx="332.8" cy="362.5" r="2.69"/>
<circle cx="330.3" cy="360.3" r="2.69"/>
<circle cx="348.7" cy="353.4" r="2.69"/>
<circle cx="326.6" cy="361.9" r="2.69"/>
<circle cx="331.1" cy="358.2" r="2.69"/>
<circle cx="337.6" cy="364.7" r="2.69"/>
<circle cx="337.7" cy="367.8" r="2.69"/>
<circle cx="313.4" cy="354.4" r="2.69"/>
<circle cx="333.7" cy="366.0" r="2.69"/>
<circle cx="317.7" cy="354.7" r="2.69"/>
<circle cx="304.0" cy="348.5" r="2.69"/>
<circle cx="314.7" cy="349.3" r="2.69"/>
<circle cx="321.3" cy="351.7" r="2.69"/>
<circle cx="337.9" cy="361.9" r="2.69"/>
<circle cx="302.7" cy="359.0" r="2.69"/>
<circle cx="321.5" cy="355.6" r="2.69"/>
<circle cx="306.0" cy="351.3" r="2.69"/>
<circle cx="318.9" cy="364.3" r="2.69"/>
<circle cx="339.6" cy="358.5" r="2.69"/>
<circle cx="344.2" cy="363.1" r="2.69"/>
<circle cx="346.4" cy="359.0" r="2.69"/>
<circle cx="302.8" cy="347.9" r="2.69"/>
<circle cx="309.2" cy="359.5" r="2.69"/>
<circle cx="335.3" cy="368.9" r="2.69"/>
<circle cx="336.6" cy="363.1" r="2.69"/>
<circle cx="307.2" cy="351.5" r="2.69"/>
<circle cx="316.6" cy="354.9" r="2.69"/>
<circle cx="305.4" cy="353.4" r="2.69"/>
<circle cx="334.1" cy="367.8" r="2.69"/>
<circle cx="327.7" cy="363.4" r="2.69"/>
<circle cx="323.6" cy="349.8" r="2.69"/>
<circle cx="345.9" cy="354.3" r="2.69"/>
<circle cx="311.1" cy="357.9" r="2.69"/>
<circle cx="349.2" cy="361.8" r="2.69"/>
<circle cx="379.4" cy="354.9" r="2.69"/>
<circle cx="373.4" cy="359.5" r="2.69"/>
<circle cx="378.8" cy="380.4" r="2.69"/>
<circle cx="349.6" cy="375.6" r="2.69"/>
<circle cx="359.6" cy="372.9" r="2.69"/>
<circle cx="342.3" cy="359.8" r="2.69"/>
<circle cx="355.2" cy="366.1" r="2.69"/>
<circle cx="373.0" cy="361.3" r="2.69"/>
<circle cx="373.3" cy="376.1" r="2.69"/>
<circle cx="349.1" cy="365.8" r="2.69"/>
<circle cx="369.8" cy="375.4" r="2.69"/>
<circle cx="337.6" cy="362.9" r="2.69"/>
<circle cx="379.2" cy="368.4" r="2.69"/>
<circle cx="388.0" cy="364.2" r="2.69"/>
<circle cx="363.2" cy="376.3" r="2.69"/>
<circle cx="363.1" cy="376.0" r="2.69"/>
<circle cx="361.6" cy="360.8" r="2.69"/>
<circle cx="361.0" cy="363.2" r="2.69"/>
<circle cx="355.8" cy="365.9" r="2.69"/>
<circle cx="358.7" cy="356.2" r="2.69"/>
<circle cx="365.6" cy="361.6" r="2.69"/>
<circle cx="366.7" cy="374.3" r="2.69"/>
<circle cx="346.3" cy="361.7" r="2.69"/>
<circle cx="367.4" cy="374.4" r="2.69"/>
<circle cx="365.9" cy="365.8" r="2.69"/>
<circle cx="341.3" cy="367.2" r="2.69"/>
<circle cx="355.5" cy="360.2" r="2.69"/>
<circle cx="391.2" cy="377.6" r="2.69"/>
<circle cx="346.7" cy="371.1" r="2.69"/>
<circle cx="380.6" cy="378.2" r="2.69"/>
<circle cx="338.6" cy="368.8" r="2.69"/>
<circle cx="361.2" cy="364.0" r="2.69"/>
<circle cx="382.9" cy="375.9" r="2.69"/>
<circle cx="356.8" cy="360.2" r="2.69"/>
<circle cx="381.8" cy="357.9" r="2.69"/>
<circle cx="368.7" cy="377.5" r="2.69"/>
<circle cx="344.7" cy="368.5" r="2.69"/>
<circle cx="367.6" cy="354.6" r="2.69"/>
<circle cx="357.2" cy="363.7" r="2.69"/>
<circle cx="354.9" cy="370.7" r="2.69"/>
<circle cx="377.7" cy="356.5" r="2.69"/>
<circle cx="358.4" cy="356.5" r="2.69"/>
<circle cx="339.6" cy="350.6" r="2.69"/>
<circle cx="391.9" cy="364.7" r="2.69"/>
<circle cx="355.9" cy="373.5" r="2.69"/>
<circle cx="366.4" cy="369.8" r="2.69"/>
<circle cx="375.1" cy="366.9" r="2.69"/>
<circle cx="376.0" cy="360.7" r="2.69"/>
<circle cx="356.9" cy="374.3" r="2.69"/>
<circle cx="330.9" cy="362.9" r="2.69"/>
<circle cx="356.9" cy="355.4" r="2.69"/>
<circle cx="366.1" cy="363.4" r="2.69"/>
<circle cx="373.6" cy="367.4" r="2.69"/>
<circle cx="352.9" cy="366.6" r="2.69"/>
<circle cx="359.2" cy="359.5" r="2.69"/>
<circle cx="391.4" cy="368.4" r="2.69"/>
<circle cx="351.1" cy="371.7" r="2.69"/>
<circle cx="364.2" cy="365.7" r="2.69"/>
<circle cx="362.7" cy="357.8" r="2.69"/>
<circle cx="368.0" cy="363.6" r="2.69"/>
<circle cx="374.2" cy="357.1" r="2.69"/>
<circle cx="341.9" cy="374.5" r="2.69"/>
<circle cx="361.5" cy="374.4" r="2.69"/>
<circle cx="339.0" cy="363.1" r="2.69"/>
<circle cx="361.2" cy="369.6" r="2.69"/>
<circle cx="362.4" cy="377.7" r="2.69"/>
<circle cx="380.0" cy="359.2" r="2.69"/>
<circle cx="355.8" cy="357.0" r="2.69"/>
<circle cx="360.9" cy="376.9" r="2.69"/>
<circle cx="347.9" cy="369.6" r="2.69"/>
<circle cx="378.3" cy="358.7" r="2.69"/>
<circle cx="380.5" cy="361.2" r="2.69"/>
<circle cx="360.6" cy="372.9" r="2.69"/>
<circle cx="353.2" cy="361.9" r="2.69"/>
<circle cx="400.0" cy="438.8" r="2.69"/>
<circle cx="400.9" cy="433.9" r="2.69"/>
<circle cx="399.0" cy="444.3" r="2.69"/>
<circle cx="394.3" cy="437.7" r="2.69"/>
<circle cx="404.2" cy="439.7" r="2.69"/>
<circle cx="397.2" cy="443.6" r="2.69"/>
<circle cx="398.1" cy="433.3" r="2.69"/>
<circle cx="404.7" cy="441.3" r="2.69"/>
<circle cx="391.0" cy="447.0" r="2.69"/>
<circle cx="401.8" cy="437.3" r="2.69"/>
<circle cx="399.8" cy="451.6" r="2.69"/>
<circle cx="393.2" cy="435.5" r="2.69"/>
<circle cx="412.8" cy="436.7" r="2.69"/>
<circle cx="394.9" cy="446.3" r="2.69"/>
<circle cx="400.9" cy="431.3" r="2.69"/>
<circle cx="403.9" cy="454.4" r="2.69"/>
<circle cx="391.7" cy="437.9" r="2.69"/>
<circle cx="407.8" cy="438.7" r="2.69"/>
<circle cx="393.8" cy="453.9" r="2.69"/>
<circle cx="395.1" cy="426.6" r="2.69"/>
<circle cx="411.8" cy="444.4" r="2.69"/>
<circle cx="390.4" cy="447.6" r="2.69"/>
<circle cx="404.6" cy="423.8" r="2.69"/>
<circle cx="406.9" cy="456.9" r="2.69"/>
<circle cx="390.7" cy="432.6" r="2.69"/>
<circle cx="412.0" cy="435.8" r="2.69"/>
<circle cx="388.9" cy="452.0" r="2.69"/>
<circle cx="399.6" cy="422.2" r="2.69"/>
<circle cx="407.6" cy="451.2" r="2.69"/>
<circle cx="387.6" cy="435.8" r="2.69"/>
<circle cx="410.8" cy="428.5" r="2.69"/>
<circle cx="396.8" cy="463.6" r="2.69"/>
<circle cx="394.7" cy="429.8" r="2.69"/>
<circle cx="415.7" cy="442.7" r="2.69"/>
<circle cx="384.4" cy="449.1" r="2.69"/>
<circle cx="401.5" cy="416.6" r="2.69"/>
<circle cx="407.2" cy="454.6" r="2.69"/>
<circle cx="385.4" cy="429.5" r="2.69"/>
<circle cx="414.9" cy="436.1" r="2.69"/>
<circle cx="398.0" cy="453.5" r="2.69"/>
<circle cx="394.5" cy="418.5" r="2.69"/>
<circle cx="415.5" cy="448.4" r="2.69"/>
<circle cx="386.6" cy="448.4" r="2.69"/>
<circle cx="406.4" cy="425.9" r="2.69"/>
<circle cx="403.8" cy="457.0" r="2.69"/>
<circle cx="389.9" cy="427.5" r="2.69"/>
<circle cx="416.2" cy="437.5" r="2.69"/>
<circle cx="388.5" cy="453.4" r="2.69"/>
<circle cx="400.4" cy="424.2" r="2.69"/>
<circle cx="411.2" cy="458.2" r="2.69"/>
<circle cx="381.2" cy="439.2" r="2.69"/>
<circle cx="418.4" cy="424.6" r="2.69"/>
<circle cx="396.8" cy="463.4" r="2.69"/>
<circle cx="388.4" cy="419.5" r="2.69"/>
<circle cx="416.5" cy="448.0" r="2.69"/>
<circle cx="381.9" cy="452.5" r="2.69"/>
<circle cx="409.6" cy="416.9" r="2.69"/>
<circle cx="407.3" cy="463.1" r="2.69"/>
<circle cx="385.1" cy="432.7" r="2.69"/>
<circle cx="416.3" cy="432.2" r="2.69"/>
<circle cx="385.5" cy="462.3" r="2.69"/>
<circle cx="393.2" cy="419.8" r="2.69"/>
<circle cx="415.7" cy="456.4" r="2.69"/>
<circle cx="380.6" cy="443.0" r="2.69"/>
<circle cx="410.0" cy="419.9" r="2.69"/>
<circle cx="401.2" cy="464.1" r="2.69"/>
<circle cx="385.7" cy="418.1" r="2.69"/>
<circle cx="417.9" cy="440.6" r="2.69"/>
<circle cx="383.4" cy="454.9" r="2.69"/>
<circle cx="403.3" cy="415.8" r="2.69"/>
<circle cx="407.4" cy="463.4" r="2.69"/>
<circle cx="381.2" cy="438.7" r="2.69"/>
<circle cx="417.5" cy="423.6" r="2.69"/>
<circle cx="396.2" cy="467.1" r="2.69"/>
<circle cx="393.7" cy="417.0" r="2.69"/>
<circle cx="418.6" cy="451.2" r="2.69"/>
<circle cx="380.5" cy="455.8" r="2.69"/>
<circle cx="410.9" cy="415.7" r="2.69"/>
<circle cx="404.8" cy="471.3" r="2.69"/>
<circle cx="381.6" cy="428.0" r="2.69"/>
<circle cx="419.6" cy="435.3" r="2.69"/>
<circle cx="386.9" cy="465.0" r="2.69"/>
<circle cx="401.4" cy="412.6" r="2.69"/>
<circle cx="415.9" cy="459.6" r="2.69"/>
<circle cx="373.8" cy="445.5" r="2.69"/>
<circle cx="257.3" cy="333.6" r="2.69"/>
<circle cx="316.0" cy="339.0" r="2.69"/>
<circle cx="325.0" cy="343.0" r="2.69"/>
<circle cx="334.0" cy="394.0" r="2.69"/>
<circle cx="344.0" cy="390.0" r="2.69"/>
<circle cx="363.5" cy="388.4" r="2.69"/>
<circle cx="375.6" cy="402.0" r="2.69"/>
<circle cx="311.5" cy="384.0" r="2.69"/>
<circle cx="321.0" cy="381.0" r="2.69"/>
<circle cx="392.0" cy="472.0" r="2.69"/>
<circle cx="397.0" cy="475.0" r="2.69"/>
<circle cx="403.0" cy="469.0" r="2.69"/>
<circle cx="298.0" cy="305.0" r="2.69"/>
<circle cx="399.5" cy="194.0" r="2.69"/>
</g>
<g fill="#66cdaa" fill-opacity="0.70" stroke="#66cdaa" stroke-opacity="0.92" stroke-width="1.43">
<circle cx="304.4" cy="201.1" r="2.69"/>
<circle cx="329.1" cy="137.7" r="2.69"/>
<circle cx="273.3" cy="164.2" r="2.69"/>
<circle cx="261.2" cy="156.3" r="2.69"/>
<circle cx="333.1" cy="149.0" r="2.69"/>
<circle cx="329.7" cy="78.3" r="2.69"/>
<circle cx="344.8" cy="171.6" r="2.69"/>
<circle cx="272.0" cy="237.0" r="2.69"/>
<circle cx="321.1" cy="188.4" r="2.69"/>
<circle cx="305.1" cy="212.4" r="2.69"/>
<circle cx="345.4" cy="157.2" r="2.69"/>
<circle cx="307.0" cy="188.7" r="2.69"/>
<circle cx="271.6" cy="165.7" r="2.69"/>
<circle cx="304.7" cy="209.5" r="2.69"/>
<circle cx="329.4" cy="151.9" r="2.69"/>
<circle cx="327.0" cy="194.5" r="2.69"/>
<circle cx="282.9" cy="206.2" r="2.69"/>
<circle cx="333.3" cy="85.1" r="2.69"/>
<circle cx="362.7" cy="169.5" r="2.69"/>
<circle cx="286.5" cy="170.0" r="2.69"/>
<circle cx="334.8" cy="185.2" r="2.69"/>
<circle cx="306.7" cy="174.6" r="2.69"/>
<circle cx="267.8" cy="187.9" r="2.69"/>
<circle cx="321.0" cy="163.6" r="2.69"/>
<circle cx="343.0" cy="145.0" r="2.69"/>
<circle cx="308.2" cy="193.7" r="2.69"/>
<circle cx="299.4" cy="200.1" r="2.69"/>
<circle cx="323.0" cy="160.9" r="2.69"/>
<circle cx="294.4" cy="189.3" r="2.69"/>
<circle cx="330.8" cy="87.8" r="2.69"/>
<circle cx="332.2" cy="95.7" r="2.69"/>
<circle cx="288.5" cy="203.7" r="2.69"/>
<circle cx="309.2" cy="149.0" r="2.69"/>
<circle cx="266.5" cy="150.3" r="2.69"/>
<circle cx="325.5" cy="155.1" r="2.69"/>
<circle cx="337.3" cy="179.2" r="2.69"/>
<circle cx="302.8" cy="129.7" r="2.69"/>
<circle cx="322.1" cy="159.3" r="2.69"/>
<circle cx="329.2" cy="165.7" r="2.69"/>
<circle cx="270.1" cy="185.5" r="2.69"/>
<circle cx="290.5" cy="137.7" r="2.69"/>
<circle cx="314.0" cy="196.1" r="2.69"/>
<circle cx="334.7" cy="183.1" r="2.69"/>
<circle cx="327.4" cy="83.3" r="2.69"/>
<circle cx="288.9" cy="193.1" r="2.69"/>
<circle cx="307.4" cy="210.4" r="2.69"/>
<circle cx="337.1" cy="141.8" r="2.69"/>
<circle cx="330.3" cy="84.7" r="2.69"/>
<circle cx="329.3" cy="106.5" r="2.69"/>
<circle cx="330.1" cy="142.4" r="2.69"/>
<circle cx="315.8" cy="174.3" r="2.69"/>
<circle cx="306.6" cy="145.1" r="2.69"/>
<circle cx="285.3" cy="156.9" r="2.69"/>
<circle cx="335.3" cy="188.9" r="2.69"/>
<circle cx="295.3" cy="126.2" r="2.69"/>
<circle cx="268.8" cy="194.3" r="2.69"/>
<circle cx="327.7" cy="175.4" r="2.69"/>
<circle cx="278.8" cy="139.1" r="2.69"/>
<circle cx="326.0" cy="181.1" r="2.69"/>
<circle cx="326.4" cy="73.3" r="2.69"/>
<circle cx="288.3" cy="210.7" r="2.69"/>
<circle cx="263.4" cy="161.2" r="2.69"/>
<circle cx="333.9" cy="83.1" r="2.69"/>
<circle cx="285.8" cy="151.7" r="2.69"/>
<circle cx="276.1" cy="204.1" r="2.69"/>
<circle cx="285.3" cy="202.2" r="2.69"/>
<circle cx="328.5" cy="75.7" r="2.69"/>
<circle cx="304.4" cy="210.6" r="2.69"/>
<circle cx="327.6" cy="144.3" r="2.69"/>
<circle cx="294.7" cy="151.0" r="2.69"/>
<circle cx="296.4" cy="175.2" r="2.69"/>
<circle cx="355.2" cy="126.5" r="2.69"/>
<circle cx="310.9" cy="207.8" r="2.69"/>
<circle cx="328.4" cy="183.4" r="2.69"/>
<circle cx="300.8" cy="144.3" r="2.69"/>
<circle cx="285.5" cy="148.0" r="2.69"/>
<circle cx="279.5" cy="188.3" r="2.69"/>
<circle cx="347.0" cy="146.0" r="2.69"/>
<circle cx="288.5" cy="200.7" r="2.69"/>
<circle cx="270.9" cy="180.6" r="2.69"/>
<circle cx="267.7" cy="208.3" r="2.69"/>
<circle cx="337.7" cy="139.7" r="2.69"/>
<circle cx="341.9" cy="92.9" r="2.69"/>
<circle cx="341.4" cy="174.8" r="2.69"/>
<circle cx="301.1" cy="191.0" r="2.69"/>
<circle cx="312.0" cy="201.7" r="2.69"/>
<circle cx="295.4" cy="208.4" r="2.69"/>
<circle cx="314.8" cy="138.5" r="2.69"/>
<circle cx="280.2" cy="153.6" r="2.69"/>
<circle cx="331.8" cy="177.2" r="2.69"/>
<circle cx="298.7" cy="197.9" r="2.69"/>
<circle cx="272.7" cy="218.6" r="2.69"/>
<circle cx="322.5" cy="149.8" r="2.69"/>
<circle cx="328.2" cy="100.0" r="2.69"/>
<circle cx="273.9" cy="152.8" r="2.69"/>
<circle cx="293.0" cy="203.9" r="2.69"/>
<circle cx="276.0" cy="218.3" r="2.69"/>
<circle cx="296.9" cy="190.7" r="2.69"/>
<circle cx="257.8" cy="198.5" r="2.69"/>
<circle cx="318.1" cy="143.9" r="2.69"/>
<circle cx="335.4" cy="165.5" r="2.69"/>
<circle cx="303.4" cy="196.8" r="2.69"/>
<circle cx="331.2" cy="81.7" r="2.69"/>
<circle cx="339.2" cy="87.5" r="2.69"/>
<circle cx="304.2" cy="188.9" r="2.69"/>
<circle cx="293.4" cy="157.0" r="2.69"/>
<circle cx="260.0" cy="211.6" r="2.69"/>
<circle cx="298.7" cy="146.3" r="2.69"/>
<circle cx="301.8" cy="152.6" r="2.69"/>
<circle cx="319.1" cy="200.7" r="2.69"/>
<circle cx="324.6" cy="191.8" r="2.69"/>
<circle cx="303.4" cy="198.2" r="2.69"/>
<circle cx="305.3" cy="152.1" r="2.69"/>
<circle cx="328.0" cy="70.9" r="2.69"/>
<circle cx="325.0" cy="79.4" r="2.69"/>
<circle cx="333.8" cy="96.0" r="2.69"/>
<circle cx="338.8" cy="86.5" r="2.69"/>
<circle cx="313.5" cy="176.6" r="2.69"/>
<circle cx="332.0" cy="74.2" r="2.69"/>
<circle cx="326.0" cy="139.9" r="2.69"/>
<circle cx="286.6" cy="198.6" r="2.69"/>
<circle cx="337.9" cy="147.1" r="2.69"/>
<circle cx="276.1" cy="181.6" r="2.69"/>
<circle cx="294.7" cy="176.2" r="2.69"/>
<circle cx="319.5" cy="148.5" r="2.69"/>
<circle cx="277.8" cy="209.7" r="2.69"/>
<circle cx="295.2" cy="197.5" r="2.69"/>
<circle cx="268.3" cy="203.0" r="2.69"/>
<circle cx="315.2" cy="161.3" r="2.69"/>
<circle cx="280.6" cy="191.4" r="2.69"/>
<circle cx="296.5" cy="194.9" r="2.69"/>
<circle cx="314.0" cy="140.7" r="2.69"/>
<circle cx="292.8" cy="143.6" r="2.69"/>
<circle cx="294.9" cy="207.0" r="2.69"/>
<circle cx="309.1" cy="195.7" r="2.69"/>
<circle cx="308.4" cy="168.1" r="2.69"/>
<circle cx="294.9" cy="190.2" r="2.69"/>
<circle cx="288.5" cy="130.7" r="2.69"/>
<circle cx="315.4" cy="207.5" r="2.69"/>
<circle cx="274.1" cy="134.6" r="2.69"/>
<circle cx="312.9" cy="152.6" r="2.69"/>
<circle cx="335.7" cy="159.7" r="2.69"/>
<circle cx="331.7" cy="169.9" r="2.69"/>
<circle cx="340.4" cy="171.4" r="2.69"/>
<circle cx="284.6" cy="198.2" r="2.69"/>
<circle cx="306.2" cy="166.8" r="2.69"/>
<circle cx="305.9" cy="135.9" r="2.69"/>
<circle cx="329.0" cy="110.6" r="2.69"/>
<circle cx="284.6" cy="193.6" r="2.69"/>
<circle cx="314.7" cy="186.3" r="2.69"/>
<circle cx="272.7" cy="206.7" r="2.69"/>
<circle cx="298.3" cy="204.4" r="2.69"/>
</g>
<g fill="#6a3d9a" fill-opacity="0.70" stroke="#6a3d9a" stroke-opacity="0.92" stroke-width="1.43">
<circle cx="284.8" cy="185.1" r="2.69"/>
<circle cx="276.3" cy="176.5" r="2.69"/>
<circle cx="295.6" cy="175.9" r="2.69"/>
<circle cx="280.6" cy="186.8" r="2.69"/>
<circle cx="286.2" cy="177.1" r="2.69"/>
<circle cx="300.7" cy="190.6" r="2.69"/>
<circle cx="276.8" cy="184.9" r="2.69"/>
<circle cx="301.5" cy="176.4" r="2.69"/>
<circle cx="283.9" cy="202.1" r="2.69"/>
<circle cx="284.4" cy="170.6" r="2.69"/>
<circle cx="297.3" cy="179.2" r="2.69"/>
<circle cx="262.3" cy="187.9" r="2.69"/>
<circle cx="300.5" cy="165.9" r="2.69"/>
<circle cx="296.1" cy="196.1" r="2.69"/>
<circle cx="275.8" cy="172.4" r="2.69"/>
<circle cx="302.3" cy="178.1" r="2.69"/>
<circle cx="278.4" cy="200.7" r="2.69"/>
<circle cx="283.1" cy="156.7" r="2.69"/>
<circle cx="307.5" cy="193.7" r="2.69"/>
<circle cx="266.1" cy="184.2" r="2.69"/>
<circle cx="301.1" cy="159.7" r="2.69"/>
<circle cx="284.5" cy="203.2" r="2.69"/>
<circle cx="269.6" cy="155.6" r="2.69"/>
<circle cx="318.3" cy="181.5" r="2.69"/>
<circle cx="268.6" cy="195.7" r="2.69"/>
<circle cx="296.5" cy="157.8" r="2.69"/>
<circle cx="306.9" cy="197.7" r="2.69"/>
<circle cx="261.3" cy="169.7" r="2.69"/>
<circle cx="313.5" cy="164.5" r="2.69"/>
<circle cx="278.9" cy="203.2" r="2.69"/>
<circle cx="275.9" cy="152.7" r="2.69"/>
<circle cx="310.5" cy="190.3" r="2.69"/>
<circle cx="256.1" cy="194.2" r="2.69"/>
<circle cx="297.2" cy="156.5" r="2.69"/>
<circle cx="294.9" cy="213.4" r="2.69"/>
<circle cx="258.6" cy="165.6" r="2.69"/>
<circle cx="312.1" cy="177.7" r="2.69"/>
<circle cx="269.9" cy="203.8" r="2.69"/>
<circle cx="291.9" cy="152.0" r="2.69"/>
<circle cx="309.1" cy="204.2" r="2.69"/>
<circle cx="255.5" cy="178.4" r="2.69"/>
<circle cx="313.9" cy="153.8" r="2.69"/>
<circle cx="286.8" cy="209.9" r="2.69"/>
<circle cx="266.8" cy="148.6" r="2.69"/>
<circle cx="326.1" cy="177.9" r="2.69"/>
<circle cx="264.5" cy="199.4" r="2.69"/>
<circle cx="304.1" cy="152.3" r="2.69"/>
<circle cx="296.2" cy="211.8" r="2.69"/>
<circle cx="256.2" cy="158.6" r="2.69"/>
<circle cx="323.9" cy="166.3" r="2.69"/>
<circle cx="270.1" cy="210.7" r="2.69"/>
<circle cx="281.4" cy="144.9" r="2.69"/>
<circle cx="319.5" cy="196.8" r="2.69"/>
<circle cx="250.6" cy="194.1" r="2.69"/>
<circle cx="304.5" cy="153.2" r="2.69"/>
<circle cx="287.2" cy="213.4" r="2.69"/>
<circle cx="256.6" cy="156.8" r="2.69"/>
<circle cx="323.0" cy="183.1" r="2.69"/>
<circle cx="252.7" cy="205.7" r="2.69"/>
<circle cx="294.0" cy="146.2" r="2.69"/>
<circle cx="314.4" cy="210.9" r="2.69"/>
<circle cx="245.0" cy="171.5" r="2.69"/>
<circle cx="312.0" cy="165.0" r="2.69"/>
<circle cx="279.7" cy="217.0" r="2.69"/>
<circle cx="271.6" cy="148.6" r="2.69"/>
<circle cx="330.8" cy="191.6" r="2.69"/>
<circle cx="240.8" cy="193.5" r="2.69"/>
<circle cx="306.9" cy="137.0" r="2.69"/>
<circle cx="300.2" cy="221.4" r="2.69"/>
<circle cx="249.4" cy="162.7" r="2.69"/>
<circle cx="331.2" cy="175.5" r="2.69"/>
<circle cx="263.5" cy="216.3" r="2.69"/>
<circle cx="280.3" cy="147.4" r="2.69"/>
<circle cx="323.4" cy="208.2" r="2.69"/>
<circle cx="242.3" cy="184.7" r="2.69"/>
<circle cx="314.5" cy="149.3" r="2.69"/>
<circle cx="289.8" cy="225.1" r="2.69"/>
<circle cx="258.5" cy="147.3" r="2.69"/>
<circle cx="336.9" cy="183.8" r="2.69"/>
<circle cx="245.3" cy="206.0" r="2.69"/>
<circle cx="300.7" cy="135.4" r="2.69"/>
<circle cx="317.4" cy="219.7" r="2.69"/>
<circle cx="272.2" cy="150.0" r="2.69"/>
<circle cx="268.0" cy="150.7" r="2.69"/>
<circle cx="272.4" cy="149.8" r="2.69"/>
<circle cx="270.7" cy="150.3" r="2.69"/>
<circle cx="262.2" cy="149.1" r="2.69"/>
<circle cx="273.0" cy="131.0" r="2.69"/>
<circle cx="275.0" cy="139.0" r="2.69"/>
<circle cx="284.0" cy="143.0" r="2.69"/>
<circle cx="289.0" cy="145.0" r="2.69"/>
<circle cx="327.8" cy="108.5" r="2.69"/>
<circle cx="331.0" cy="112.0" r="2.69"/>
<circle cx="327.6" cy="140.0" r="2.69"/>
<circle cx="336.0" cy="172.0" r="2.69"/>
<circle cx="339.0" cy="179.0" r="2.69"/>
<circle cx="322.0" cy="176.0" r="2.69"/>
<circle cx="385.0" cy="205.3" r="2.69"/>
<circle cx="186.5" cy="307.0" r="2.69"/>
<circle cx="223.2" cy="434.7" r="2.69"/>
<circle cx="234.4" cy="445.2" r="2.69"/>
<circle cx="240.0" cy="201.0" r="2.69"/>
<circle cx="246.0" cy="194.0" r="2.69"/>
<circle cx="250.0" cy="173.0" r="2.69"/>
</g>
<g fill="#66cdaa" fill-opacity="0.70" stroke="#66cdaa" stroke-opacity="0.92" stroke-width="1.43">
<circle cx="334.3" cy="92.8" r="2.69"/>
<circle cx="262.9" cy="193.9" r="2.69"/>
<circle cx="344.9" cy="150.8" r="2.69"/>
<circle cx="301.7" cy="207.2" r="2.69"/>
<circle cx="335.0" cy="79.5" r="2.69"/>
<circle cx="302.3" cy="150.2" r="2.69"/>
<circle cx="278.0" cy="172.2" r="2.69"/>
<circle cx="315.7" cy="159.6" r="2.69"/>
<circle cx="335.4" cy="130.8" r="2.69"/>
<circle cx="333.3" cy="81.0" r="2.69"/>
<circle cx="310.9" cy="200.8" r="2.69"/>
<circle cx="294.2" cy="212.2" r="2.69"/>
<circle cx="292.7" cy="132.2" r="2.69"/>
<circle cx="288.1" cy="207.8" r="2.69"/>
<circle cx="281.7" cy="199.1" r="2.69"/>
<circle cx="335.6" cy="193.3" r="2.69"/>
<circle cx="267.7" cy="163.6" r="2.69"/>
<circle cx="281.3" cy="141.9" r="2.69"/>
<circle cx="307.4" cy="136.5" r="2.69"/>
<circle cx="316.2" cy="151.5" r="2.69"/>
<circle cx="331.3" cy="158.0" r="2.69"/>
<circle cx="262.0" cy="167.7" r="2.69"/>
<circle cx="328.5" cy="86.1" r="2.69"/>
<circle cx="337.0" cy="90.1" r="2.69"/>
<circle cx="261.6" cy="204.8" r="2.69"/>
<circle cx="333.8" cy="76.9" r="2.69"/>
<circle cx="333.1" cy="164.7" r="2.69"/>
<circle cx="322.8" cy="178.2" r="2.69"/>
<circle cx="277.2" cy="189.0" r="2.69"/>
<circle cx="253.3" cy="207.8" r="2.69"/>
<circle cx="295.7" cy="192.2" r="2.69"/>
<circle cx="303.8" cy="231.7" r="2.69"/>
<circle cx="275.2" cy="201.2" r="2.69"/>
<circle cx="324.7" cy="83.1" r="2.69"/>
<circle cx="340.8" cy="175.7" r="2.69"/>
<circle cx="310.2" cy="128.6" r="2.69"/>
<circle cx="267.3" cy="191.4" r="2.69"/>
<circle cx="304.1" cy="193.4" r="2.69"/>
<circle cx="326.9" cy="80.6" r="2.69"/>
<circle cx="308.6" cy="207.5" r="2.69"/>
<circle cx="286.5" cy="140.5" r="2.69"/>
<circle cx="316.1" cy="201.6" r="2.69"/>
<circle cx="325.7" cy="181.3" r="2.69"/>
<circle cx="328.4" cy="150.5" r="2.69"/>
<circle cx="312.6" cy="198.9" r="2.69"/>
<circle cx="325.5" cy="157.3" r="2.69"/>
<circle cx="283.4" cy="196.9" r="2.69"/>
<circle cx="335.9" cy="155.7" r="2.69"/>
<circle cx="327.2" cy="112.0" r="2.69"/>
<circle cx="328.2" cy="176.4" r="2.69"/>
<circle cx="324.8" cy="161.7" r="2.69"/>
<circle cx="326.7" cy="178.9" r="2.69"/>
<circle cx="329.3" cy="189.9" r="2.69"/>
<circle cx="265.5" cy="219.7" r="2.69"/>
<circle cx="295.9" cy="194.1" r="2.69"/>
<circle cx="336.1" cy="177.2" r="2.69"/>
<circle cx="338.6" cy="184.9" r="2.69"/>
<circle cx="262.8" cy="182.2" r="2.69"/>
<circle cx="305.4" cy="204.0" r="2.69"/>
<circle cx="297.5" cy="162.7" r="2.69"/>
<circle cx="329.6" cy="82.1" r="2.69"/>
<circle cx="292.8" cy="138.9" r="2.69"/>
<circle cx="327.1" cy="76.5" r="2.69"/>
<circle cx="344.2" cy="170.4" r="2.69"/>
<circle cx="295.1" cy="182.9" r="2.69"/>
<circle cx="277.8" cy="171.4" r="2.69"/>
<circle cx="329.5" cy="133.9" r="2.69"/>
<circle cx="329.3" cy="180.7" r="2.69"/>
<circle cx="292.9" cy="205.3" r="2.69"/>
<circle cx="337.9" cy="88.6" r="2.69"/>
<circle cx="337.1" cy="161.6" r="2.69"/>
<circle cx="282.3" cy="161.4" r="2.69"/>
<circle cx="271.6" cy="180.0" r="2.69"/>
<circle cx="269.6" cy="171.6" r="2.69"/>
<circle cx="318.2" cy="153.8" r="2.69"/>
<circle cx="331.7" cy="98.1" r="2.69"/>
<circle cx="339.7" cy="152.2" r="2.69"/>
<circle cx="332.6" cy="136.0" r="2.69"/>
<circle cx="313.6" cy="184.5" r="2.69"/>
<circle cx="288.8" cy="196.1" r="2.69"/>
<circle cx="330.9" cy="100.7" r="2.69"/>
<circle cx="335.1" cy="84.7" r="2.69"/>
<circle cx="269.0" cy="170.6" r="2.69"/>
<circle cx="257.3" cy="177.2" r="2.69"/>
<circle cx="266.2" cy="175.4" r="2.69"/>
<circle cx="285.9" cy="209.9" r="2.69"/>
<circle cx="288.3" cy="134.7" r="2.69"/>
<circle cx="326.2" cy="148.6" r="2.69"/>
<circle cx="291.9" cy="151.9" r="2.69"/>
<circle cx="296.5" cy="173.1" r="2.69"/>
<circle cx="296.9" cy="183.5" r="2.69"/>
<circle cx="281.3" cy="204.4" r="2.69"/>
<circle cx="323.8" cy="75.6" r="2.69"/>
<circle cx="295.6" cy="167.1" r="2.69"/>
<circle cx="336.6" cy="165.8" r="2.69"/>
<circle cx="331.0" cy="77.0" r="2.69"/>
<circle cx="303.5" cy="177.5" r="2.69"/>
<circle cx="260.0" cy="169.1" r="2.69"/>
<circle cx="325.9" cy="86.5" r="2.69"/>
<circle cx="310.2" cy="219.5" r="2.69"/>
<circle cx="338.4" cy="161.2" r="2.69"/>
<circle cx="317.7" cy="131.0" r="2.69"/>
</g>
<g fill="#997a55" fill-opacity="0.70" stroke="#997a55" stroke-opacity="0.92" stroke-width="1.43">
<circle cx="80.9" cy="299.9" r="2.69"/>
<circle cx="72.0" cy="302.0" r="2.69"/>
<circle cx="63.0" cy="308.7" r="2.69"/>
<circle cx="78.1" cy="301.8" r="2.69"/>
<circle cx="75.0" cy="300.8" r="2.69"/>
<circle cx="77.2" cy="300.4" r="2.69"/>
<circle cx="74.6" cy="300.6" r="2.69"/>
<circle cx="86.7" cy="295.6" r="2.69"/>
<circle cx="74.5" cy="303.0" r="2.69"/>
<circle cx="80.3" cy="298.4" r="2.69"/>
<circle cx="68.4" cy="304.2" r="2.69"/>
<circle cx="79.6" cy="301.1" r="2.69"/>
<circle cx="63.8" cy="307.9" r="2.69"/>
<circle cx="62.8" cy="308.0" r="2.69"/>
<circle cx="81.0" cy="297.1" r="2.69"/>
<circle cx="68.3" cy="304.5" r="2.69"/>
<circle cx="76.9" cy="299.4" r="2.69"/>
<circle cx="84.6" cy="296.6" r="2.69"/>
<circle cx="70.2" cy="306.2" r="2.69"/>
<circle cx="65.1" cy="308.0" r="2.69"/>
<circle cx="77.4" cy="300.4" r="2.69"/>
<circle cx="79.6" cy="299.8" r="2.69"/>
<circle cx="64.4" cy="307.0" r="2.69"/>
<circle cx="64.1" cy="308.1" r="2.69"/>
<circle cx="71.7" cy="304.5" r="2.69"/>
<circle cx="71.8" cy="305.1" r="2.69"/>
<circle cx="74.5" cy="302.9" r="2.69"/>
<circle cx="72.6" cy="302.9" r="2.69"/>
<circle cx="73.4" cy="301.5" r="2.69"/>
<circle cx="82.5" cy="296.7" r="2.69"/>
<circle cx="68.0" cy="306.5" r="2.69"/>
<circle cx="76.8" cy="301.7" r="2.69"/>
<circle cx="68.7" cy="304.6" r="2.69"/>
<circle cx="73.4" cy="303.2" r="2.69"/>
<circle cx="70.4" cy="303.8" r="2.69"/>
<circle cx="84.9" cy="298.0" r="2.69"/>
<circle cx="88.2" cy="294.9" r="2.69"/>
<circle cx="87.8" cy="294.9" r="2.69"/>
<circle cx="74.9" cy="302.2" r="2.69"/>
<circle cx="79.0" cy="300.2" r="2.69"/>
<circle cx="98.9" cy="282.3" r="2.69"/>
<circle cx="95.6" cy="282.5" r="2.69"/>
<circle cx="98.2" cy="286.4" r="2.69"/>
<circle cx="89.5" cy="293.7" r="2.69"/>
<circle cx="91.0" cy="295.6" r="2.69"/>
<circle cx="96.3" cy="285.5" r="2.69"/>
<circle cx="88.1" cy="295.4" r="2.69"/>
<circle cx="92.5" cy="291.1" r="2.69"/>
<circle cx="94.7" cy="289.1" r="2.69"/>
<circle cx="101.4" cy="281.3" r="2.69"/>
<circle cx="94.3" cy="290.8" r="2.69"/>
<circle cx="97.3" cy="283.5" r="2.69"/>
<circle cx="96.5" cy="288.0" r="2.69"/>
<circle cx="97.8" cy="281.3" r="2.69"/>
<circle cx="92.1" cy="289.8" r="2.69"/>
<circle cx="96.3" cy="286.1" r="2.69"/>
<circle cx="94.9" cy="287.3" r="2.69"/>
<circle cx="97.9" cy="285.3" r="2.69"/>
<circle cx="100.6" cy="280.5" r="2.69"/>
<circle cx="94.6" cy="290.2" r="2.69"/>
<circle cx="97.1" cy="287.8" r="2.69"/>
<circle cx="90.8" cy="294.2" r="2.69"/>
<circle cx="108.0" cy="283.0" r="2.69"/>
<circle cx="104.7" cy="284.0" r="2.69"/>
<circle cx="104.3" cy="282.3" r="2.69"/>
<circle cx="108.9" cy="285.5" r="2.69"/>
<circle cx="101.1" cy="286.1" r="2.69"/>
<circle cx="106.4" cy="281.9" r="2.69"/>
<circle cx="109.0" cy="286.8" r="2.69"/>
<circle cx="101.4" cy="283.2" r="2.69"/>
<circle cx="110.2" cy="284.2" r="2.69"/>
<circle cx="102.0" cy="287.3" r="2.69"/>
<circle cx="103.5" cy="280.2" r="2.69"/>
<circle cx="112.0" cy="285.8" r="2.69"/>
<circle cx="97.7" cy="284.4" r="2.69"/>
<circle cx="111.2" cy="281.6" r="2.69"/>
<circle cx="107.0" cy="287.7" r="2.69"/>
<circle cx="100.2" cy="280.6" r="2.69"/>
<circle cx="115.5" cy="284.1" r="2.69"/>
<circle cx="99.0" cy="286.9" r="2.69"/>
<circle cx="108.2" cy="279.8" r="2.69"/>
<circle cx="110.8" cy="288.8" r="2.69"/>
<circle cx="97.9" cy="282.6" r="2.69"/>
<circle cx="113.8" cy="281.6" r="2.69"/>
<circle cx="102.6" cy="289.0" r="2.69"/>
<circle cx="101.9" cy="278.2" r="2.69"/>
<circle cx="113.4" cy="286.5" r="2.69"/>
<circle cx="98.0" cy="285.9" r="2.69"/>
<circle cx="116.2" cy="303.1" r="2.69"/>
<circle cx="114.6" cy="303.5" r="2.69"/>
<circle cx="117.7" cy="301.2" r="2.69"/>
<circle cx="115.2" cy="305.8" r="2.69"/>
<circle cx="112.8" cy="300.7" r="2.69"/>
<circle cx="119.6" cy="303.7" r="2.69"/>
<circle cx="113.4" cy="304.8" r="2.69"/>
<circle cx="117.2" cy="299.0" r="2.69"/>
<circle cx="117.8" cy="307.4" r="2.69"/>
<circle cx="111.2" cy="300.8" r="2.69"/>
<circle cx="121.5" cy="301.1" r="2.69"/>
<circle cx="113.6" cy="308.2" r="2.69"/>
<circle cx="115.2" cy="297.2" r="2.69"/>
<circle cx="120.2" cy="306.8" r="2.69"/>
<circle cx="109.6" cy="304.5" r="2.69"/>
<circle cx="120.9" cy="298.3" r="2.69"/>
<circle cx="116.9" cy="309.6" r="2.69"/>
<circle cx="111.2" cy="297.5" r="2.69"/>
<circle cx="158.9" cy="250.8" r="2.69"/>
<circle cx="164.1" cy="249.8" r="2.69"/>
<circle cx="151.4" cy="251.4" r="2.69"/>
<circle cx="152.0" cy="254.9" r="2.69"/>
<circle cx="160.1" cy="248.3" r="2.69"/>
<circle cx="157.8" cy="249.5" r="2.69"/>
<circle cx="148.1" cy="257.1" r="2.69"/>
<circle cx="158.0" cy="252.7" r="2.69"/>
<circle cx="149.0" cy="254.2" r="2.69"/>
<circle cx="157.1" cy="251.8" r="2.69"/>
<circle cx="151.4" cy="251.3" r="2.69"/>
<circle cx="165.2" cy="247.4" r="2.69"/>
<circle cx="145.1" cy="257.1" r="2.69"/>
<circle cx="166.0" cy="248.1" r="2.69"/>
<circle cx="152.0" cy="285.8" r="2.69"/>
<circle cx="149.4" cy="284.5" r="2.69"/>
<circle cx="151.5" cy="282.2" r="2.69"/>
<circle cx="152.0" cy="288.2" r="2.69"/>
<circle cx="148.8" cy="283.7" r="2.69"/>
<circle cx="153.3" cy="284.7" r="2.69"/>
<circle cx="149.4" cy="288.3" r="2.69"/>
<circle cx="165.0" cy="269.0" r="2.69"/>
<circle cx="173.0" cy="278.0" r="2.69"/>
<circle cx="178.6" cy="219.3" r="2.69"/>
<circle cx="128.2" cy="489.5" r="2.69"/>
<circle cx="156.0" cy="245.0" r="2.69"/>
<circle cx="116.0" cy="292.0" r="2.69"/>
</g>
<g fill="#f781bf" fill-opacity="0.70" stroke="#f781bf" stroke-opacity="0.92" stroke-width="1.43">
<circle cx="161.5" cy="142.2" r="2.69"/>
<circle cx="166.9" cy="141.9" r="2.69"/>
<circle cx="171.2" cy="141.3" r="2.69"/>
<circle cx="173.9" cy="141.9" r="2.69"/>
<circle cx="158.5" cy="144.8" r="2.69"/>
<circle cx="158.4" cy="145.7" r="2.69"/>
<circle cx="162.1" cy="145.7" r="2.69"/>
<circle cx="167.1" cy="144.9" r="2.69"/>
<circle cx="169.1" cy="144.3" r="2.69"/>
<circle cx="169.3" cy="145.7" r="2.69"/>
<circle cx="171.9" cy="144.2" r="2.69"/>
<circle cx="175.4" cy="145.7" r="2.69"/>
<circle cx="177.1" cy="144.7" r="2.69"/>
<circle cx="178.0" cy="145.3" r="2.69"/>
<circle cx="156.0" cy="147.5" r="2.69"/>
<circle cx="161.0" cy="149.3" r="2.69"/>
<circle cx="164.2" cy="148.2" r="2.69"/>
<circle cx="167.2" cy="148.4" r="2.69"/>
<circle cx="171.9" cy="148.7" r="2.69"/>
<circle cx="172.8" cy="149.7" r="2.69"/>
<circle cx="178.3" cy="147.8" r="2.69"/>
<circle cx="179.6" cy="148.4" r="2.69"/>
<circle cx="180.0" cy="148.2" r="2.69"/>
<circle cx="181.4" cy="149.5" r="2.69"/>
<circle cx="183.2" cy="148.1" r="2.69"/>
<circle cx="183.4" cy="149.8" r="2.69"/>
<circle cx="174.2" cy="151.4" r="2.69"/>
<circle cx="176.8" cy="152.9" r="2.69"/>
<circle cx="184.4" cy="152.3" r="2.69"/>
<circle cx="162.8" cy="154.5" r="2.69"/>
<circle cx="186.6" cy="155.0" r="2.69"/>
<circle cx="187.4" cy="157.9" r="2.69"/>
<circle cx="193.1" cy="157.2" r="2.69"/>
<circle cx="194.1" cy="159.4" r="2.69"/>
<circle cx="166.8" cy="158.2" r="2.69"/>
<circle cx="170.2" cy="158.5" r="2.69"/>
<circle cx="176.6" cy="160.4" r="2.69"/>
<circle cx="186.1" cy="160.2" r="2.69"/>
<circle cx="185.3" cy="162.2" r="2.69"/>
<circle cx="185.9" cy="163.6" r="2.69"/>
<circle cx="186.1" cy="164.7" r="2.69"/>
<circle cx="190.2" cy="162.4" r="2.69"/>
<circle cx="168.7" cy="163.5" r="2.69"/>
<circle cx="165.9" cy="164.9" r="2.69"/>
<circle cx="179.0" cy="168.1" r="2.69"/>
<circle cx="180.3" cy="170.1" r="2.69"/>
<circle cx="197.0" cy="171.3" r="2.69"/>
<circle cx="197.9" cy="171.6" r="2.69"/>
<circle cx="198.4" cy="171.5" r="2.69"/>
<circle cx="198.7" cy="173.0" r="2.69"/>
<circle cx="174.8" cy="175.2" r="2.69"/>
<circle cx="190.0" cy="175.3" r="2.69"/>
<circle cx="176.7" cy="181.1" r="2.69"/>
<circle cx="186.1" cy="181.4" r="2.69"/>
<circle cx="192.8" cy="179.6" r="2.69"/>
<circle cx="193.1" cy="181.7" r="2.69"/>
<circle cx="180.4" cy="186.8" r="2.69"/>
<circle cx="190.5" cy="186.0" r="2.69"/>
<circle cx="191.2" cy="186.8" r="2.69"/>
<circle cx="190.0" cy="187.8" r="2.69"/>
<circle cx="190.4" cy="189.8" r="2.69"/>
<circle cx="189.5" cy="192.6" r="2.69"/>
<circle cx="152.5" cy="170.8" r="2.69"/>
<circle cx="152.3" cy="181.0" r="2.69"/>
<circle cx="158.5" cy="180.6" r="2.69"/>
<circle cx="157.5" cy="182.5" r="2.69"/>
<circle cx="158.1" cy="183.7" r="2.69"/>
<circle cx="146.1" cy="186.5" r="2.69"/>
<circle cx="158.2" cy="187.1" r="2.69"/>
<circle cx="155.3" cy="188.4" r="2.69"/>
<circle cx="157.7" cy="189.5" r="2.69"/>
<circle cx="163.6" cy="188.0" r="2.69"/>
<circle cx="164.3" cy="188.2" r="2.69"/>
<circle cx="166.0" cy="188.8" r="2.69"/>
<circle cx="156.2" cy="194.2" r="2.69"/>
<circle cx="157.6" cy="194.8" r="2.69"/>
<circle cx="162.5" cy="193.5" r="2.69"/>
<circle cx="164.8" cy="193.1" r="2.69"/>
<circle cx="159.5" cy="196.8" r="2.69"/>
<circle cx="178.1" cy="196.3" r="2.69"/>
<circle cx="153.3" cy="199.1" r="2.69"/>
<circle cx="149.2" cy="200.7" r="2.69"/>
<circle cx="167.1" cy="201.0" r="2.69"/>
<circle cx="165.3" cy="203.5" r="2.69"/>
<circle cx="171.9" cy="202.8" r="2.69"/>
<circle cx="174.7" cy="202.2" r="2.69"/>
<circle cx="175.5" cy="202.4" r="2.69"/>
<circle cx="157.9" cy="206.2" r="2.69"/>
<circle cx="161.8" cy="205.7" r="2.69"/>
<circle cx="163.5" cy="206.5" r="2.69"/>
<circle cx="171.0" cy="206.5" r="2.69"/>
<circle cx="176.5" cy="206.4" r="2.69"/>
<circle cx="155.3" cy="209.0" r="2.69"/>
<circle cx="166.8" cy="209.1" r="2.69"/>
<circle cx="175.9" cy="209.0" r="2.69"/>
<circle cx="179.5" cy="209.3" r="2.69"/>
<circle cx="173.1" cy="212.1" r="2.69"/>
<circle cx="176.9" cy="211.8" r="2.69"/>
<circle cx="162.0" cy="214.8" r="2.69"/>
<circle cx="165.9" cy="214.0" r="2.69"/>
<circle cx="168.2" cy="215.6" r="2.69"/>
<circle cx="172.2" cy="214.9" r="2.69"/>
<circle cx="160.3" cy="217.1" r="2.69"/>
<circle cx="162.0" cy="217.4" r="2.69"/>
<circle cx="164.9" cy="216.9" r="2.69"/>
<circle cx="169.8" cy="217.1" r="2.69"/>
<circle cx="171.7" cy="219.0" r="2.69"/>
<circle cx="173.1" cy="217.9" r="2.69"/>
<circle cx="173.1" cy="219.2" r="2.69"/>
<circle cx="150.8" cy="217.9" r="2.69"/>
<circle cx="164.7" cy="228.3" r="2.69"/>
<circle cx="166.0" cy="227.2" r="2.69"/>
<circle cx="177.3" cy="228.2" r="2.69"/>
<circle cx="160.6" cy="231.0" r="2.69"/>
<circle cx="161.1" cy="231.8" r="2.69"/>
<circle cx="161.9" cy="234.1" r="2.69"/>
<circle cx="156.9" cy="239.8" r="2.69"/>
<circle cx="157.5" cy="244.4" r="2.69"/>
<circle cx="162.9" cy="243.9" r="2.69"/>
<circle cx="181.3" cy="248.4" r="2.69"/>
<circle cx="186.3" cy="245.3" r="2.69"/>
<circle cx="187.1" cy="245.6" r="2.69"/>
<circle cx="188.6" cy="244.5" r="2.69"/>
<circle cx="190.5" cy="244.0" r="2.69"/>
<circle cx="192.4" cy="241.3" r="2.69"/>
<circle cx="194.9" cy="242.2" r="2.69"/>
<circle cx="195.6" cy="239.1" r="2.69"/>
<circle cx="198.9" cy="235.6" r="2.69"/>
<circle cx="200.9" cy="237.2" r="2.69"/>
<circle cx="198.1" cy="239.7" r="2.69"/>
<circle cx="199.7" cy="239.8" r="2.69"/>
<circle cx="200.2" cy="239.4" r="2.69"/>
<circle cx="199.1" cy="242.3" r="2.69"/>
<circle cx="200.0" cy="241.0" r="2.69"/>
<circle cx="200.4" cy="242.1" r="2.69"/>
<circle cx="200.7" cy="244.3" r="2.69"/>
<circle cx="201.8" cy="243.0" r="2.69"/>
<circle cx="202.6" cy="242.8" r="2.69"/>
<circle cx="203.6" cy="244.4" r="2.69"/>
<circle cx="198.9" cy="246.8" r="2.69"/>
<circle cx="202.6" cy="246.5" r="2.69"/>
<circle cx="203.2" cy="247.1" r="2.69"/>
<circle cx="118.5" cy="197.5" r="2.69"/>
<circle cx="120.0" cy="207.0" r="2.69"/>
<circle cx="130.0" cy="232.5" r="2.69"/>
<circle cx="136.5" cy="225.0" r="2.69"/>
<circle cx="131.5" cy="234.5" r="2.69"/>
</g>
<g fill="#1e90ff" fill-opacity="0.70" stroke="#1e90ff" stroke-opacity="0.92" stroke-width="1.43">
<circle cx="361.8" cy="173.5" r="2.69"/>
<circle cx="411.4" cy="194.5" r="2.69"/>
<circle cx="407.7" cy="196.7" r="2.69"/>
<circle cx="404.1" cy="198.5" r="2.69"/>
<circle cx="401.4" cy="200.3" r="2.69"/>
<circle cx="402.3" cy="203.0" r="2.69"/>
<circle cx="404.0" cy="206.7" r="2.69"/>
<circle cx="400.0" cy="197.0" r="2.69"/>
<circle cx="406.0" cy="199.0" r="2.69"/>
<circle cx="403.0" cy="195.5" r="2.69"/>
<circle cx="444.5" cy="236.0" r="2.69"/>
</g>
<g fill="#e41a1c" fill-opacity="0.70" stroke="#e41a1c" stroke-opacity="0.92" stroke-width="1.43">
<circle cx="509.1" cy="224.9" r="2.69"/>
<circle cx="506.2" cy="221.1" r="2.69"/>
<circle cx="511.1" cy="223.1" r="2.69"/>
<circle cx="507.2" cy="226.2" r="2.69"/>
<circle cx="508.5" cy="217.8" r="2.69"/>
<circle cx="511.8" cy="226.6" r="2.69"/>
<circle cx="505.3" cy="223.1" r="2.69"/>
<circle cx="512.4" cy="219.5" r="2.69"/>
<circle cx="509.7" cy="228.8" r="2.69"/>
<circle cx="505.7" cy="217.8" r="2.69"/>
<circle cx="513.2" cy="225.1" r="2.69"/>
<circle cx="503.3" cy="226.4" r="2.69"/>
<circle cx="509.8" cy="217.1" r="2.69"/>
<circle cx="511.9" cy="230.4" r="2.69"/>
<circle cx="503.0" cy="220.5" r="2.69"/>
<circle cx="515.6" cy="219.8" r="2.69"/>
<circle cx="505.2" cy="231.2" r="2.69"/>
<circle cx="506.6" cy="215.7" r="2.69"/>
<circle cx="514.1" cy="228.8" r="2.69"/>
<circle cx="502.9" cy="226.1" r="2.69"/>
<circle cx="512.5" cy="216.8" r="2.69"/>
<circle cx="509.8" cy="231.4" r="2.69"/>
<circle cx="503.3" cy="216.1" r="2.69"/>
<circle cx="517.6" cy="224.6" r="2.69"/>
<circle cx="501.1" cy="228.7" r="2.69"/>
<circle cx="509.5" cy="214.8" r="2.69"/>
<circle cx="513.4" cy="231.3" r="2.69"/>
<circle cx="500.9" cy="224.0" r="2.69"/>
<circle cx="516.9" cy="219.9" r="2.69"/>
<circle cx="506.8" cy="234.7" r="2.69"/>
<circle cx="494.3" cy="225.5" r="2.69"/>
<circle cx="498.0" cy="234.0" r="2.69"/>
<circle cx="506.0" cy="238.3" r="2.69"/>
<circle cx="437.1" cy="235.8" r="2.69"/>
<circle cx="438.5" cy="234.9" r="2.69"/>
<circle cx="437.3" cy="235.8" r="2.69"/>
<circle cx="444.4" cy="237.5" r="2.69"/>
<circle cx="440.8" cy="233.2" r="2.69"/>
<circle cx="435.6" cy="236.2" r="2.69"/>
<circle cx="445.5" cy="238.1" r="2.69"/>
<circle cx="435.6" cy="235.5" r="2.69"/>
<circle cx="438.8" cy="233.1" r="2.69"/>
<circle cx="432.9" cy="233.8" r="2.69"/>
<circle cx="437.5" cy="232.6" r="2.69"/>
<circle cx="426.9" cy="235.4" r="2.69"/>
<circle cx="432.8" cy="232.6" r="2.69"/>
<circle cx="442.0" cy="238.2" r="2.69"/>
<circle cx="427.3" cy="234.7" r="2.69"/>
<circle cx="431.8" cy="235.8" r="2.69"/>
<circle cx="443.1" cy="233.0" r="2.69"/>
<circle cx="429.1" cy="233.8" r="2.69"/>
<circle cx="466.3" cy="235.3" r="2.69"/>
<circle cx="469.5" cy="236.2" r="2.69"/>
<circle cx="464.9" cy="233.1" r="2.69"/>
<circle cx="470.2" cy="236.7" r="2.69"/>
<circle cx="467.2" cy="237.6" r="2.69"/>
<circle cx="466.7" cy="234.9" r="2.69"/>
<circle cx="461.1" cy="232.3" r="2.69"/>
<circle cx="472.4" cy="237.7" r="2.69"/>
<circle cx="470.5" cy="236.0" r="2.69"/>
<circle cx="442.6" cy="265.5" r="2.69"/>
<circle cx="435.4" cy="255.0" r="2.69"/>
<circle cx="438.3" cy="250.3" r="2.69"/>
<circle cx="437.6" cy="263.3" r="2.69"/>
<circle cx="439.8" cy="259.5" r="2.69"/>
<circle cx="442.0" cy="265.8" r="2.69"/>
<circle cx="439.9" cy="246.3" r="2.69"/>
<circle cx="438.0" cy="248.6" r="2.69"/>
<circle cx="437.4" cy="241.8" r="2.69"/>
<circle cx="441.5" cy="261.1" r="2.69"/>
<circle cx="441.0" cy="251.5" r="2.69"/>
<circle cx="437.6" cy="247.4" r="2.69"/>
<circle cx="439.5" cy="247.4" r="2.69"/>
<circle cx="440.5" cy="254.9" r="2.69"/>
<circle cx="435.3" cy="253.3" r="2.69"/>
<circle cx="438.2" cy="250.1" r="2.69"/>
<circle cx="444.8" cy="263.6" r="2.69"/>
<circle cx="455.7" cy="260.1" r="2.69"/>
<circle cx="449.5" cy="259.0" r="2.69"/>
<circle cx="457.8" cy="260.2" r="2.69"/>
<circle cx="454.0" cy="259.2" r="2.69"/>
<circle cx="458.3" cy="261.1" r="2.69"/>
<circle cx="455.7" cy="264.1" r="2.69"/>
<circle cx="453.6" cy="262.9" r="2.69"/>
<circle cx="456.1" cy="263.4" r="2.69"/>
<circle cx="452.9" cy="263.4" r="2.69"/>
<circle cx="457.8" cy="260.2" r="2.69"/>
<circle cx="458.9" cy="261.3" r="2.69"/>
<circle cx="378.9" cy="280.7" r="2.69"/>
<circle cx="379.8" cy="279.3" r="2.69"/>
<circle cx="382.2" cy="285.4" r="2.69"/>
<circle cx="372.7" cy="280.7" r="2.69"/>
<circle cx="386.0" cy="280.2" r="2.69"/>
<circle cx="379.1" cy="292.2" r="2.69"/>
<circle cx="376.1" cy="276.0" r="2.69"/>
<circle cx="386.0" cy="287.5" r="2.69"/>
<circle cx="374.5" cy="284.9" r="2.69"/>
<circle cx="383.7" cy="272.4" r="2.69"/>
<circle cx="382.7" cy="290.4" r="2.69"/>
<circle cx="373.7" cy="280.7" r="2.69"/>
<circle cx="387.4" cy="281.0" r="2.69"/>
<circle cx="372.4" cy="289.7" r="2.69"/>
<circle cx="380.1" cy="272.8" r="2.69"/>
<circle cx="384.7" cy="291.5" r="2.69"/>
<circle cx="368.1" cy="284.3" r="2.69"/>
<circle cx="390.1" cy="276.5" r="2.69"/>
<circle cx="379.2" cy="294.7" r="2.69"/>
<circle cx="373.4" cy="273.4" r="2.69"/>
<circle cx="393.4" cy="283.9" r="2.69"/>
<circle cx="368.5" cy="289.0" r="2.69"/>
<circle cx="383.8" cy="273.0" r="2.69"/>
<circle cx="387.2" cy="295.0" r="2.69"/>
<circle cx="368.4" cy="278.1" r="2.69"/>
<circle cx="393.8" cy="278.2" r="2.69"/>
<circle cx="371.0" cy="295.4" r="2.69"/>
<circle cx="376.5" cy="268.5" r="2.69"/>
<circle cx="394.7" cy="288.7" r="2.69"/>
<circle cx="366.7" cy="286.6" r="2.69"/>
<circle cx="390.4" cy="266.8" r="2.69"/>
<circle cx="378.2" cy="300.2" r="2.69"/>
<circle cx="368.4" cy="272.3" r="2.69"/>
<circle cx="395.5" cy="285.1" r="2.69"/>
<circle cx="367.0" cy="295.1" r="2.69"/>
<circle cx="380.8" cy="264.2" r="2.69"/>
<circle cx="390.6" cy="296.2" r="2.69"/>
<circle cx="363.3" cy="281.9" r="2.69"/>
<circle cx="395.8" cy="272.9" r="2.69"/>
<circle cx="374.3" cy="300.4" r="2.69"/>
<circle cx="423.7" cy="283.9" r="2.69"/>
<circle cx="428.3" cy="287.0" r="2.69"/>
<circle cx="420.6" cy="288.9" r="2.69"/>
<circle cx="426.6" cy="280.7" r="2.69"/>
<circle cx="427.0" cy="291.4" r="2.69"/>
<circle cx="418.3" cy="281.7" r="2.69"/>
<circle cx="429.8" cy="283.5" r="2.69"/>
<circle cx="419.0" cy="292.4" r="2.69"/>
<circle cx="423.2" cy="279.7" r="2.69"/>
<circle cx="429.1" cy="290.9" r="2.69"/>
<circle cx="417.2" cy="283.0" r="2.69"/>
<circle cx="431.1" cy="281.7" r="2.69"/>
<circle cx="420.6" cy="296.6" r="2.69"/>
<circle cx="420.0" cy="278.2" r="2.69"/>
<circle cx="434.3" cy="288.6" r="2.69"/>
<circle cx="416.4" cy="293.1" r="2.69"/>
<circle cx="426.5" cy="278.0" r="2.69"/>
<circle cx="428.6" cy="292.6" r="2.69"/>
<circle cx="415.7" cy="280.7" r="2.69"/>
<circle cx="434.3" cy="280.4" r="2.69"/>
<circle cx="418.2" cy="297.6" r="2.69"/>
<circle cx="418.4" cy="276.0" r="2.69"/>
<circle cx="434.7" cy="294.3" r="2.69"/>
<circle cx="413.3" cy="287.9" r="2.69"/>
<circle cx="431.5" cy="278.1" r="2.69"/>
<circle cx="427.3" cy="298.6" r="2.69"/>
<circle cx="416.4" cy="278.1" r="2.69"/>
<circle cx="438.4" cy="284.5" r="2.69"/>
<circle cx="467.0" cy="311.8" r="2.69"/>
<circle cx="469.8" cy="305.6" r="2.69"/>
<circle cx="468.8" cy="308.3" r="2.69"/>
<circle cx="462.6" cy="309.1" r="2.69"/>
<circle cx="472.3" cy="304.8" r="2.69"/>
<circle cx="466.0" cy="314.9" r="2.69"/>
<circle cx="461.0" cy="305.6" r="2.69"/>
<circle cx="478.9" cy="308.5" r="2.69"/>
<circle cx="465.1" cy="311.9" r="2.69"/>
<circle cx="464.1" cy="303.6" r="2.69"/>
<circle cx="473.7" cy="310.5" r="2.69"/>
<circle cx="459.3" cy="307.9" r="2.69"/>
<circle cx="478.4" cy="306.2" r="2.69"/>
<circle cx="464.7" cy="314.8" r="2.69"/>
<circle cx="462.6" cy="303.9" r="2.69"/>
<circle cx="480.7" cy="312.5" r="2.69"/>
<circle cx="460.0" cy="311.9" r="2.69"/>
<circle cx="478.0" cy="299.8" r="2.69"/>
<circle cx="474.5" cy="318.4" r="2.69"/>
<circle cx="454.5" cy="304.1" r="2.69"/>
<circle cx="486.3" cy="311.5" r="2.69"/>
<circle cx="455.9" cy="312.9" r="2.69"/>
<circle cx="471.8" cy="302.6" r="2.69"/>
<circle cx="479.6" cy="317.4" r="2.69"/>
<circle cx="449.9" cy="307.9" r="2.69"/>
<circle cx="480.9" cy="301.1" r="2.69"/>
<circle cx="462.5" cy="320.2" r="2.69"/>
<circle cx="456.9" cy="298.0" r="2.69"/>
<circle cx="482.2" cy="313.0" r="2.69"/>
<circle cx="455.4" cy="312.4" r="2.69"/>
<circle cx="475.5" cy="301.0" r="2.69"/>
<circle cx="475.8" cy="319.6" r="2.69"/>
<circle cx="448.9" cy="302.6" r="2.69"/>
<circle cx="484.2" cy="303.2" r="2.69"/>
<circle cx="463.8" cy="320.1" r="2.69"/>
<circle cx="465.6" cy="297.6" r="2.69"/>
<circle cx="490.3" cy="315.0" r="2.69"/>
<circle cx="448.5" cy="310.3" r="2.69"/>
<circle cx="481.6" cy="301.8" r="2.69"/>
<circle cx="466.1" cy="320.0" r="2.69"/>
<circle cx="457.5" cy="299.7" r="2.69"/>
<circle cx="491.9" cy="306.3" r="2.69"/>
<circle cx="458.2" cy="319.2" r="2.69"/>
<circle cx="475.7" cy="292.3" r="2.69"/>
<circle cx="479.8" cy="320.8" r="2.69"/>
<circle cx="447.2" cy="305.4" r="2.69"/>
<circle cx="486.1" cy="306.9" r="2.69"/>
<circle cx="461.1" cy="322.5" r="2.69"/>
<circle cx="460.9" cy="292.1" r="2.69"/>
<circle cx="488.0" cy="316.3" r="2.69"/>
<circle cx="449.5" cy="314.0" r="2.69"/>
<circle cx="478.6" cy="297.9" r="2.69"/>
<circle cx="466.1" cy="326.0" r="2.69"/>
<circle cx="448.8" cy="299.4" r="2.69"/>
<circle cx="488.1" cy="307.9" r="2.69"/>
<circle cx="452.0" cy="321.2" r="2.69"/>
<circle cx="467.0" cy="290.4" r="2.69"/>
<circle cx="487.1" cy="316.1" r="2.69"/>
<circle cx="442.5" cy="307.6" r="2.69"/>
<circle cx="478.4" cy="298.9" r="2.69"/>
<circle cx="463.6" cy="321.9" r="2.69"/>
<circle cx="458.5" cy="296.1" r="2.69"/>
<circle cx="491.9" cy="311.6" r="2.69"/>
<circle cx="445.8" cy="316.9" r="2.69"/>
<circle cx="474.7" cy="291.9" r="2.69"/>
<circle cx="475.3" cy="322.7" r="2.69"/>
<circle cx="440.3" cy="303.8" r="2.69"/>
<circle cx="488.9" cy="303.8" r="2.69"/>
<circle cx="452.4" cy="324.2" r="2.69"/>
<circle cx="458.4" cy="293.2" r="2.69"/>
<circle cx="488.0" cy="317.4" r="2.69"/>
<circle cx="443.9" cy="309.4" r="2.69"/>
<circle cx="485.9" cy="294.2" r="2.69"/>
<circle cx="477.5" cy="327.9" r="2.69"/>
<circle cx="447.2" cy="300.0" r="2.69"/>
<circle cx="496.0" cy="308.2" r="2.69"/>
<circle cx="449.0" cy="318.6" r="2.69"/>
<circle cx="474.2" cy="290.1" r="2.69"/>
<circle cx="484.9" cy="326.2" r="2.69"/>
<circle cx="441.7" cy="304.9" r="2.69"/>
<circle cx="488.8" cy="298.0" r="2.69"/>
<circle cx="461.9" cy="326.5" r="2.69"/>
<circle cx="454.6" cy="291.3" r="2.69"/>
<circle cx="495.7" cy="316.1" r="2.69"/>
<circle cx="438.6" cy="318.1" r="2.69"/>
<circle cx="482.4" cy="294.2" r="2.69"/>
<circle cx="480.0" cy="330.4" r="2.69"/>
<circle cx="444.7" cy="297.8" r="2.69"/>
<circle cx="499.0" cy="303.9" r="2.69"/>
<circle cx="447.6" cy="327.2" r="2.69"/>
<circle cx="442.4" cy="302.0" r="2.69"/>
<circle cx="445.4" cy="297.3" r="2.69"/>
<circle cx="445.7" cy="303.3" r="2.69"/>
<circle cx="440.8" cy="299.1" r="2.69"/>
<circle cx="449.4" cy="299.2" r="2.69"/>
<circle cx="441.8" cy="306.5" r="2.69"/>
<circle cx="443.0" cy="290.6" r="2.69"/>
<circle cx="450.4" cy="306.5" r="2.69"/>
<circle cx="439.0" cy="301.0" r="2.69"/>
<circle cx="448.3" cy="292.9" r="2.69"/>
<circle cx="444.3" cy="309.1" r="2.69"/>
<circle cx="440.0" cy="291.4" r="2.69"/>
<circle cx="452.9" cy="300.8" r="2.69"/>
<circle cx="438.5" cy="308.8" r="2.69"/>
<circle cx="446.0" cy="289.7" r="2.69"/>
<circle cx="450.4" cy="309.8" r="2.69"/>
<circle cx="436.1" cy="298.2" r="2.69"/>
<circle cx="452.2" cy="293.6" r="2.69"/>
<circle cx="442.2" cy="313.1" r="2.69"/>
<circle cx="441.8" cy="287.0" r="2.69"/>
<circle cx="421.0" cy="241.0" r="2.69"/>
<circle cx="422.5" cy="316.7" r="2.69"/>
<circle cx="492.7" cy="290.0" r="2.69"/>
<circle cx="420.3" cy="407.9" r="2.69"/>
<circle cx="402.3" cy="207.0" r="2.69"/>
<circle cx="366.0" cy="304.0" r="2.69"/>
<circle cx="379.5" cy="302.0" r="2.69"/>
<circle cx="392.0" cy="301.0" r="2.69"/>
<circle cx="369.0" cy="267.0" r="2.69"/>
<circle cx="386.0" cy="273.0" r="2.69"/>
</g>
<rect x="77.5" y="125.6" width="138" height="123.8" fill="none" stroke="#2a2a2a" stroke-width="1.3"/>
<rect x="39.5" y="174.2" width="2.6" height="3.0" fill="#222" />
<rect x="39.5" y="309.6" width="2.6" height="3.0" fill="#222" />
<rect x="39.5" y="444.6" width="2.6" height="3.0" fill="#222" />
<rect x="144.4" y="547.9" width="3.0" height="3.2" fill="#222" />
<rect x="276.1" y="547.9" width="3.0" height="3.2" fill="#222" />
<rect x="407.8" y="547.9" width="3.0" height="3.2" fill="#222" />
<text x="143.0" y="119.0" font-size="20.7" text-anchor="start" fill="#000" >PC/vSMC</text>
<text x="221.0" y="146.0" font-size="20.7" text-anchor="start" fill="#000" >IAHC</text>
<text x="354.5" y="159.0" font-size="20.7" text-anchor="start" fill="#000" >EC</text>
<text x="380.0" y="182.5" font-size="20.7" text-anchor="start" fill="#000" >HEC/EHT</text>
<text x="479.0" y="262.0" font-size="20.7" text-anchor="start" fill="#000" >MP</text>
<text x="67.0" y="343.5" font-size="20.7" text-anchor="start" fill="#000" >SkMP</text>
<text x="193.5" y="419.2" font-size="20.7" text-anchor="start" fill="#000" >SNS</text>
<text x="388.5" y="391.0" font-size="20.7" text-anchor="start" fill="#000" >Ery/EryP</text>
<text x="280.6" y="571.5" font-size="20.7" text-anchor="middle" fill="#000" >TSNE_1</text>
<text x="30.0" y="302.0" font-size="20.7" text-anchor="middle" transform="rotate(-90 30.0 302.0)" fill="#000" >TSNE_2</text>
<text x="133.3" y="46.0" font-size="24.3" text-anchor="start" fill="#000" >E11 AGM <tspan font-style="italic">NG2+/+;Runx1fl/+</tspan></text>
<text x="2.0" y="28.0" font-size="33.6" text-anchor="start" font-weight="bold" fill="#000" >a</text>
<text x="548.0" y="72.0" font-size="20.7" text-anchor="start" fill="#000" >Cell Type (cell number)</text>
<rect x="548.0" y="89.0" width="26.0" height="241.0" fill="#f2f2f2" />
<g fill="#e41a1c" fill-opacity="0.64" stroke="#e41a1c" stroke-opacity="0.80" stroke-width="2.10">
<circle cx="561.2" cy="102.4" r="3.95"/>
</g>
<text x="575.5" y="106.9" font-size="20.7" text-anchor="start" fill="#000" >MP (272)</text>
<g fill="#fb9a99" fill-opacity="0.64" stroke="#fb9a99" stroke-opacity="0.80" stroke-width="2.10">
<circle cx="561.2" cy="129.2" r="3.95"/>
</g>
<text x="575.5" y="134.5" font-size="20.7" text-anchor="start" fill="#000" >Ery/EryP (363)</text>
<g fill="#6a3d9a" fill-opacity="0.64" stroke="#6a3d9a" stroke-opacity="0.80" stroke-width="2.10">
<circle cx="561.2" cy="156.1" r="3.95"/>
</g>
<text x="575.5" y="161.6" font-size="20.7" text-anchor="start" fill="#000" >IAHC (104)</text>
<g fill="#1e90ff" fill-opacity="0.64" stroke="#1e90ff" stroke-opacity="0.80" stroke-width="2.10">
<circle cx="561.2" cy="182.9" r="3.95"/>
</g>
<text x="575.5" y="188.9" font-size="20.7" text-anchor="start" fill="#000" >HEC/EHT (22)</text>
<g fill="#66cdaa" fill-opacity="0.64" stroke="#66cdaa" stroke-opacity="0.80" stroke-width="2.10">
<circle cx="561.2" cy="209.8" r="3.95"/>
</g>
<text x="575.5" y="216.1" font-size="20.7" text-anchor="start" fill="#000" >EC (246)</text>
<g fill="#fdbf6f" fill-opacity="0.64" stroke="#fdbf6f" stroke-opacity="0.80" stroke-width="2.10">
<circle cx="561.2" cy="236.2" r="3.95"/>
</g>
<text x="575.5" y="242.2" font-size="20.7" text-anchor="start" fill="#000" >SNS (604)</text>
<g fill="#997a55" fill-opacity="0.64" stroke="#997a55" stroke-opacity="0.80" stroke-width="2.10">
<circle cx="561.2" cy="263.1" r="3.95"/>
</g>
<text x="575.5" y="269.2" font-size="20.7" text-anchor="start" fill="#000" >SkMP (133)</text>
<g fill="#f781bf" fill-opacity="0.64" stroke="#f781bf" stroke-opacity="0.80" stroke-width="2.10">
<circle cx="561.2" cy="289.5" r="3.95"/>
</g>
<text x="575.5" y="294.4" font-size="20.7" text-anchor="start" fill="#000" >Cspg4+Runx1+Acta2+ (113)</text>
<g fill="#d6d6d6" fill-opacity="0.64" stroke="#d6d6d6" stroke-opacity="0.80" stroke-width="2.10">
<circle cx="561.2" cy="316.6" r="3.95"/>
</g>
<text x="575.5" y="322.1" font-size="20.7" text-anchor="start" fill="#000" >Cspg4+Runx1+Acta2- (91 cells)</text>
<rect x="871" y="28" width="351" height="536.8" fill="#fff" stroke="#666" stroke-width="1.6"/>
<rect x="891.3" y="57.2" width="229.2" height="228.0" fill="#ebebeb" />
<path d="M914.8 57.2V285.2M947.9 57.2V285.2M1012.2 57.2V285.2M1077.7 57.2V285.2M891.3 93.9H1120.5M891.3 148.5H1120.5M891.3 203.8H1120.5M891.3 258.7H1120.5" stroke="#fff" stroke-width="0.8" fill="none"/>
<path d="M979.9 57.2V285.2M1044.0 57.2V285.2M1111.0 57.2V285.2M891.3 66.3H1120.5M891.3 121.5H1120.5M891.3 176.2H1120.5M891.3 231.1H1120.5" stroke="#fff" stroke-width="1.1" fill="none"/>
<g fill="#9a9a9a" fill-opacity="0.75" stroke="#9a9a9a" stroke-opacity="0.80" stroke-width="1.05">
<circle cx="991.8" cy="129.9" r="1.98"/>
<circle cx="1003.8" cy="129.2" r="1.98"/>
<circle cx="1001.8" cy="132.3" r="1.98"/>
<circle cx="1002.9" cy="134.0" r="1.98"/>
<circle cx="1003.1" cy="139.4" r="1.98"/>
<circle cx="1011.3" cy="149.4" r="1.98"/>
<circle cx="1020.3" cy="161.2" r="1.98"/>
<circle cx="1002.5" cy="169.4" r="1.98"/>
<circle cx="1027.7" cy="169.8" r="1.98"/>
<circle cx="1037.1" cy="173.7" r="1.98"/>
<circle cx="1044.1" cy="174.2" r="1.98"/>
<circle cx="1031.8" cy="178.6" r="1.98"/>
<circle cx="1039.1" cy="178.2" r="1.98"/>
<circle cx="1016.0" cy="186.1" r="1.98"/>
<circle cx="1029.1" cy="189.3" r="1.98"/>
<circle cx="1031.9" cy="187.6" r="1.98"/>
<circle cx="1031.9" cy="189.7" r="1.98"/>
<circle cx="1015.5" cy="204.0" r="1.98"/>
<circle cx="1018.0" cy="202.3" r="1.98"/>
<circle cx="1039.8" cy="203.8" r="1.98"/>
<circle cx="1007.8" cy="208.3" r="1.98"/>
<circle cx="1008.6" cy="209.5" r="1.98"/>
<circle cx="1000.6" cy="221.9" r="1.98"/>
<circle cx="1001.7" cy="229.2" r="1.98"/>
<circle cx="1047.5" cy="235.5" r="1.98"/>
<circle cx="1057.2" cy="230.6" r="1.98"/>
<circle cx="1058.8" cy="231.0" r="1.98"/>
<circle cx="1069.0" cy="224.4" r="1.98"/>
<circle cx="1073.6" cy="225.8" r="1.98"/>
<circle cx="1075.1" cy="220.8" r="1.98"/>
<circle cx="1081.4" cy="215.3" r="1.98"/>
<circle cx="1079.9" cy="221.8" r="1.98"/>
<circle cx="1082.8" cy="222.0" r="1.98"/>
<circle cx="1090.5" cy="229.2" r="1.98"/>
<circle cx="1081.5" cy="233.0" r="1.98"/>
<circle cx="1088.4" cy="232.4" r="1.98"/>
<circle cx="1089.6" cy="233.4" r="1.98"/>
<circle cx="909.1" cy="157.4" r="1.98"/>
<circle cx="914.4" cy="153.6" r="1.98"/>
<circle cx="914.7" cy="154.5" r="1.98"/>
<circle cx="920.2" cy="155.4" r="1.98"/>
<circle cx="921.3" cy="155.1" r="1.98"/>
<circle cx="930.6" cy="163.1" r="1.98"/>
<circle cx="932.5" cy="163.5" r="1.98"/>
<circle cx="924.4" cy="168.6" r="1.98"/>
<circle cx="942.7" cy="169.2" r="1.98"/>
<circle cx="935.2" cy="171.8" r="1.98"/>
<circle cx="907.3" cy="175.1" r="1.98"/>
<circle cx="915.9" cy="176.5" r="1.98"/>
<circle cx="924.0" cy="175.7" r="1.98"/>
<circle cx="934.7" cy="176.5" r="1.98"/>
<circle cx="901.7" cy="181.8" r="1.98"/>
<circle cx="909.1" cy="181.4" r="1.98"/>
<circle cx="907.6" cy="185.0" r="1.98"/>
<circle cx="911.5" cy="183.7" r="1.98"/>
<circle cx="920.1" cy="183.2" r="1.98"/>
<circle cx="921.5" cy="182.8" r="1.98"/>
<circle cx="921.9" cy="182.3" r="1.98"/>
<circle cx="926.4" cy="182.8" r="1.98"/>
<circle cx="924.0" cy="189.2" r="1.98"/>
<circle cx="933.6" cy="191.9" r="1.98"/>
<circle cx="925.8" cy="193.6" r="1.98"/>
<circle cx="964.8" cy="156.7" r="1.98"/>
<circle cx="970.2" cy="153.8" r="1.98"/>
<circle cx="971.6" cy="154.3" r="1.98"/>
<circle cx="955.3" cy="166.4" r="1.98"/>
<circle cx="961.3" cy="165.8" r="1.98"/>
<circle cx="950.8" cy="174.1" r="1.98"/>
<circle cx="954.4" cy="177.6" r="1.98"/>
<circle cx="964.4" cy="189.8" r="1.98"/>
<circle cx="964.3" cy="201.7" r="1.98"/>
<circle cx="965.3" cy="204.1" r="1.98"/>
<circle cx="965.7" cy="204.5" r="1.98"/>
<circle cx="970.4" cy="204.3" r="1.98"/>
<circle cx="974.8" cy="204.8" r="1.98"/>
<circle cx="947.0" cy="208.3" r="1.98"/>
<circle cx="949.2" cy="210.2" r="1.98"/>
<circle cx="959.6" cy="209.2" r="1.98"/>
<circle cx="961.3" cy="212.3" r="1.98"/>
<circle cx="966.9" cy="213.0" r="1.98"/>
<circle cx="947.7" cy="213.1" r="1.98"/>
</g>
<g fill="#f781bf" fill-opacity="0.85" stroke="#f781bf" stroke-opacity="0.90" stroke-width="1.05">
<circle cx="1009.5" cy="69.0" r="1.98"/>
<circle cx="1019.9" cy="68.5" r="1.98"/>
<circle cx="1028.0" cy="67.6" r="1.98"/>
<circle cx="1033.4" cy="68.7" r="1.98"/>
<circle cx="1003.8" cy="73.2" r="1.98"/>
<circle cx="1003.5" cy="74.6" r="1.98"/>
<circle cx="1010.7" cy="74.6" r="1.98"/>
<circle cx="1020.2" cy="73.3" r="1.98"/>
<circle cx="1024.0" cy="72.3" r="1.98"/>
<circle cx="1024.4" cy="74.6" r="1.98"/>
<circle cx="1029.4" cy="72.1" r="1.98"/>
<circle cx="1036.2" cy="74.6" r="1.98"/>
<circle cx="1039.5" cy="73.0" r="1.98"/>
<circle cx="1041.2" cy="73.9" r="1.98"/>
<circle cx="999.0" cy="77.4" r="1.98"/>
<circle cx="1008.5" cy="80.3" r="1.98"/>
<circle cx="1014.7" cy="78.5" r="1.98"/>
<circle cx="1020.5" cy="78.9" r="1.98"/>
<circle cx="1029.4" cy="79.3" r="1.98"/>
<circle cx="1031.2" cy="80.8" r="1.98"/>
<circle cx="1041.8" cy="77.8" r="1.98"/>
<circle cx="1044.3" cy="78.7" r="1.98"/>
<circle cx="1045.0" cy="78.5" r="1.98"/>
<circle cx="1047.8" cy="80.5" r="1.98"/>
<circle cx="1051.1" cy="78.3" r="1.98"/>
<circle cx="1051.6" cy="81.0" r="1.98"/>
<circle cx="1033.9" cy="83.4" r="1.98"/>
<circle cx="1038.8" cy="85.9" r="1.98"/>
<circle cx="1053.5" cy="85.0" r="1.98"/>
<circle cx="1012.0" cy="88.3" r="1.98"/>
<circle cx="1057.7" cy="89.1" r="1.98"/>
<circle cx="1059.3" cy="93.6" r="1.98"/>
<circle cx="1070.3" cy="92.6" r="1.98"/>
<circle cx="1072.1" cy="96.0" r="1.98"/>
<circle cx="1019.7" cy="94.1" r="1.98"/>
<circle cx="1026.2" cy="94.7" r="1.98"/>
<circle cx="1038.4" cy="97.6" r="1.98"/>
<circle cx="1056.7" cy="97.3" r="1.98"/>
<circle cx="1055.3" cy="100.4" r="1.98"/>
<circle cx="1056.3" cy="102.7" r="1.98"/>
<circle cx="1056.7" cy="104.4" r="1.98"/>
<circle cx="1064.7" cy="100.8" r="1.98"/>
<circle cx="1023.4" cy="102.5" r="1.98"/>
<circle cx="1017.9" cy="104.6" r="1.98"/>
<circle cx="1043.1" cy="109.6" r="1.98"/>
<circle cx="1045.5" cy="112.8" r="1.98"/>
<circle cx="1077.7" cy="114.7" r="1.98"/>
<circle cx="1079.4" cy="115.2" r="1.98"/>
<circle cx="1080.4" cy="114.9" r="1.98"/>
<circle cx="1080.9" cy="117.3" r="1.98"/>
<circle cx="1035.1" cy="120.8" r="1.98"/>
<circle cx="1064.3" cy="121.0" r="1.98"/>
<circle cx="1038.7" cy="130.1" r="1.98"/>
<circle cx="1056.8" cy="130.6" r="1.98"/>
<circle cx="1069.7" cy="127.7" r="1.98"/>
<circle cx="1070.3" cy="131.0" r="1.98"/>
<circle cx="1045.8" cy="139.0" r="1.98"/>
<circle cx="1065.2" cy="137.7" r="1.98"/>
<circle cx="1066.5" cy="139.0" r="1.98"/>
<circle cx="1064.3" cy="140.5" r="1.98"/>
<circle cx="1065.0" cy="143.6" r="1.98"/>
<circle cx="1063.3" cy="148.0" r="1.98"/>
<circle cx="992.2" cy="113.9" r="1.98"/>
<circle cx="979.9" cy="138.5" r="1.98"/>
<circle cx="997.5" cy="141.4" r="1.98"/>
<circle cx="1002.2" cy="143.3" r="1.98"/>
<circle cx="1013.5" cy="140.8" r="1.98"/>
<circle cx="1014.9" cy="141.2" r="1.98"/>
<circle cx="1018.1" cy="142.1" r="1.98"/>
<circle cx="999.2" cy="150.6" r="1.98"/>
<circle cx="1001.9" cy="151.5" r="1.98"/>
<circle cx="1015.8" cy="148.7" r="1.98"/>
<circle cx="1005.7" cy="154.6" r="1.98"/>
<circle cx="1041.4" cy="153.8" r="1.98"/>
<circle cx="993.6" cy="158.2" r="1.98"/>
<circle cx="985.8" cy="160.7" r="1.98"/>
<circle cx="1016.7" cy="165.1" r="1.98"/>
<circle cx="1029.4" cy="164.0" r="1.98"/>
<circle cx="1034.8" cy="163.0" r="1.98"/>
<circle cx="1036.4" cy="163.5" r="1.98"/>
<circle cx="1010.1" cy="168.5" r="1.98"/>
<circle cx="1013.3" cy="169.8" r="1.98"/>
<circle cx="1038.3" cy="169.7" r="1.98"/>
<circle cx="997.5" cy="173.8" r="1.98"/>
<circle cx="1019.6" cy="173.9" r="1.98"/>
<circle cx="1010.5" cy="182.9" r="1.98"/>
<circle cx="1018.0" cy="181.6" r="1.98"/>
<circle cx="1022.3" cy="184.1" r="1.98"/>
<circle cx="1030.1" cy="183.0" r="1.98"/>
<circle cx="1007.1" cy="186.4" r="1.98"/>
<circle cx="1010.5" cy="186.9" r="1.98"/>
<circle cx="1025.4" cy="186.5" r="1.98"/>
<circle cx="989.0" cy="187.7" r="1.98"/>
<circle cx="1010.2" cy="213.0" r="1.98"/>
<circle cx="1012.1" cy="228.4" r="1.98"/>
<circle cx="1061.5" cy="229.3" r="1.98"/>
<circle cx="1065.2" cy="228.5" r="1.98"/>
<circle cx="1085.3" cy="217.9" r="1.98"/>
<circle cx="1083.9" cy="221.3" r="1.98"/>
<circle cx="1081.8" cy="225.8" r="1.98"/>
<circle cx="1083.5" cy="223.9" r="1.98"/>
<circle cx="1084.2" cy="225.6" r="1.98"/>
<circle cx="1084.9" cy="229.1" r="1.98"/>
<circle cx="1087.0" cy="227.0" r="1.98"/>
<circle cx="1088.4" cy="226.7" r="1.98"/>
<circle cx="927.7" cy="155.8" r="1.98"/>
<circle cx="924.9" cy="158.1" r="1.98"/>
<circle cx="925.2" cy="159.7" r="1.98"/>
<circle cx="928.1" cy="173.4" r="1.98"/>
<circle cx="960.9" cy="200.2" r="1.98"/>
<circle cx="947.6" cy="205.2" r="1.98"/>
<circle cx="949.6" cy="214.3" r="1.98"/>
<circle cx="951.7" cy="215.9" r="1.98"/>
<circle cx="950.8" cy="218.0" r="1.98"/>
</g>
<rect x="889.3" y="65.5" width="1.8" height="1.6" fill="#333" />
<rect x="889.3" y="120.7" width="1.8" height="1.6" fill="#333" />
<rect x="889.3" y="175.4" width="1.8" height="1.6" fill="#333" />
<rect x="889.3" y="230.3" width="1.8" height="1.6" fill="#333" />
<rect x="890.5" y="285.4" width="1.6" height="1.8" fill="#333" />
<rect x="979.1" y="285.4" width="1.6" height="1.8" fill="#333" />
<rect x="1044.0" y="285.4" width="1.6" height="1.8" fill="#333" />
<rect x="1109.2" y="285.4" width="1.6" height="1.8" fill="#333" />
<text x="1010.5" y="50.5" font-size="24.0" text-anchor="middle" font-style="italic" fill="#000" >Cspg4+Runx1+</text>
<text x="999.0" y="303.7" font-size="13.6" text-anchor="middle" fill="#000" >TSNE_1</text>
<text x="885.2" y="174.5" font-size="13.6" text-anchor="middle" transform="rotate(-90 885.2 174.5)" fill="#000" >TSNE_2</text>
<rect x="1123.5" y="57.2" width="26.2" height="53.2" fill="#f2f2f2" />
<g fill="#f781bf" fill-opacity="0.68" stroke="#f781bf" stroke-opacity="0.85" stroke-width="2.10">
<circle cx="1136.7" cy="71.0" r="3.95"/>
</g>
<g fill="#d6d6d6" fill-opacity="0.72" stroke="#d6d6d6" stroke-opacity="0.90" stroke-width="2.10">
<circle cx="1136.7" cy="97.2" r="3.95"/>
</g>
<text x="1153.0" y="75.9" font-size="20.6" text-anchor="start" fill="#000" >Acta2+</text>
<text x="1153.0" y="102.7" font-size="20.6" text-anchor="start" fill="#000" >Acta2-</text>
<rect x="893.5" y="316.2" width="229.2" height="229.2" fill="#ebebeb" />
<path d="M934.9 316.2V545.4M1015.0 316.2V545.4M1079.3 316.2V545.4M893.5 353.4H1122.7M893.5 408.1H1122.7M893.5 463.8H1122.7M893.5 518.5H1122.7" stroke="#fff" stroke-width="0.8" fill="none"/>
<path d="M981.3 316.2V545.4M1047.3 316.2V545.4M1112.2 316.2V545.4M893.5 325.8H1122.7M893.5 380.5H1122.7M893.5 435.7H1122.7M893.5 490.9H1122.7" stroke="#fff" stroke-width="1.1" fill="none"/>
<g fill="#c4c4c4" fill-opacity="0.90" stroke="#c4c4c4" stroke-opacity="0.90" stroke-width="0.82">
<circle cx="1013.5" cy="408.4" r="1.54"/>
<circle cx="1022.5" cy="420.2" r="1.54"/>
<circle cx="1004.7" cy="428.4" r="1.54"/>
<circle cx="1029.9" cy="428.8" r="1.54"/>
<circle cx="1039.3" cy="432.7" r="1.54"/>
<circle cx="1046.3" cy="433.2" r="1.54"/>
<circle cx="1034.0" cy="437.6" r="1.54"/>
<circle cx="1041.3" cy="437.2" r="1.54"/>
<circle cx="1018.2" cy="445.1" r="1.54"/>
<circle cx="1031.3" cy="448.3" r="1.54"/>
<circle cx="1034.1" cy="446.6" r="1.54"/>
<circle cx="1034.1" cy="448.7" r="1.54"/>
<circle cx="1017.7" cy="463.0" r="1.54"/>
<circle cx="1020.2" cy="461.3" r="1.54"/>
<circle cx="1042.0" cy="462.8" r="1.54"/>
<circle cx="1010.0" cy="467.3" r="1.54"/>
<circle cx="1010.8" cy="468.5" r="1.54"/>
<circle cx="1002.8" cy="480.9" r="1.54"/>
<circle cx="1003.9" cy="488.2" r="1.54"/>
<circle cx="1049.7" cy="494.5" r="1.54"/>
<circle cx="1059.4" cy="489.6" r="1.54"/>
<circle cx="1061.0" cy="490.0" r="1.54"/>
<circle cx="1071.2" cy="483.4" r="1.54"/>
<circle cx="1075.8" cy="484.8" r="1.54"/>
<circle cx="1077.3" cy="479.8" r="1.54"/>
<circle cx="1083.6" cy="474.3" r="1.54"/>
<circle cx="1082.1" cy="480.8" r="1.54"/>
<circle cx="1085.0" cy="481.0" r="1.54"/>
<circle cx="1092.7" cy="488.2" r="1.54"/>
<circle cx="1083.7" cy="492.0" r="1.54"/>
<circle cx="1090.6" cy="491.4" r="1.54"/>
<circle cx="1091.8" cy="492.4" r="1.54"/>
<circle cx="911.3" cy="416.4" r="1.54"/>
<circle cx="916.6" cy="412.6" r="1.54"/>
<circle cx="916.9" cy="413.5" r="1.54"/>
<circle cx="922.4" cy="414.4" r="1.54"/>
<circle cx="923.5" cy="414.1" r="1.54"/>
<circle cx="932.8" cy="422.1" r="1.54"/>
<circle cx="934.7" cy="422.5" r="1.54"/>
<circle cx="926.6" cy="427.6" r="1.54"/>
<circle cx="944.9" cy="428.2" r="1.54"/>
<circle cx="937.4" cy="430.8" r="1.54"/>
<circle cx="909.5" cy="434.1" r="1.54"/>
<circle cx="918.1" cy="435.5" r="1.54"/>
<circle cx="926.2" cy="434.7" r="1.54"/>
<circle cx="936.9" cy="435.5" r="1.54"/>
<circle cx="903.9" cy="440.8" r="1.54"/>
<circle cx="911.3" cy="440.4" r="1.54"/>
<circle cx="909.8" cy="444.0" r="1.54"/>
<circle cx="913.7" cy="442.7" r="1.54"/>
<circle cx="922.3" cy="442.2" r="1.54"/>
<circle cx="923.7" cy="441.8" r="1.54"/>
<circle cx="924.1" cy="441.3" r="1.54"/>
<circle cx="928.6" cy="441.8" r="1.54"/>
<circle cx="926.2" cy="448.2" r="1.54"/>
<circle cx="935.8" cy="450.9" r="1.54"/>
<circle cx="928.0" cy="452.6" r="1.54"/>
<circle cx="967.0" cy="415.7" r="1.54"/>
<circle cx="972.4" cy="412.8" r="1.54"/>
<circle cx="973.8" cy="413.3" r="1.54"/>
<circle cx="957.5" cy="425.4" r="1.54"/>
<circle cx="963.5" cy="424.8" r="1.54"/>
<circle cx="953.0" cy="433.1" r="1.54"/>
<circle cx="956.6" cy="436.6" r="1.54"/>
<circle cx="966.6" cy="448.8" r="1.54"/>
<circle cx="966.5" cy="460.7" r="1.54"/>
<circle cx="967.5" cy="463.1" r="1.54"/>
<circle cx="967.9" cy="463.5" r="1.54"/>
<circle cx="972.6" cy="463.3" r="1.54"/>
<circle cx="977.0" cy="463.8" r="1.54"/>
<circle cx="949.2" cy="467.3" r="1.54"/>
<circle cx="951.4" cy="469.2" r="1.54"/>
<circle cx="961.8" cy="468.2" r="1.54"/>
<circle cx="963.5" cy="471.3" r="1.54"/>
<circle cx="969.1" cy="472.0" r="1.54"/>
<circle cx="949.9" cy="472.1" r="1.54"/>
</g>
<circle cx="1011.7" cy="328.0" r="1.7" fill="#ff9503" stroke="#6b5a3a" stroke-width="0.55"/>
<circle cx="1022.1" cy="327.5" r="1.7" fill="#ff7d05" stroke="#6b5a3a" stroke-width="0.55"/>
<circle cx="1030.2" cy="326.6" r="1.7" fill="#fe7307" stroke="#6b5a3a" stroke-width="0.55"/>
<circle cx="1035.6" cy="327.7" r="1.7" fill="#fd610a" stroke="#6b5a3a" stroke-width="0.55"/>
<circle cx="1006.0" cy="332.2" r="1.7" fill="#ff9503" stroke="#6b5a3a" stroke-width="0.55"/>
<circle cx="1005.7" cy="333.6" r="1.7" fill="#ff9803" stroke="#6b5a3a" stroke-width="0.55"/>
<circle cx="1012.9" cy="333.6" r="1.7" fill="#ff9104" stroke="#6b5a3a" stroke-width="0.55"/>
<circle cx="1022.4" cy="332.3" r="1.7" fill="#ff7c05" stroke="#6b5a3a" stroke-width="0.55"/>
<circle cx="1026.2" cy="331.3" r="1.7" fill="#ff8005" stroke="#6b5a3a" stroke-width="0.55"/>
<circle cx="1026.6" cy="333.6" r="1.7" fill="#fe7506" stroke="#6b5a3a" stroke-width="0.55"/>
<circle cx="1031.6" cy="331.1" r="1.7" fill="#fe6f08" stroke="#6b5a3a" stroke-width="0.55"/>
<circle cx="1038.4" cy="333.6" r="1.7" fill="#fb4f0e" stroke="#6b5a3a" stroke-width="0.55"/>
<circle cx="1041.7" cy="332.0" r="1.7" fill="#fb520d" stroke="#6b5a3a" stroke-width="0.55"/>
<circle cx="1043.4" cy="332.9" r="1.7" fill="#fa450f" stroke="#6b5a3a" stroke-width="0.55"/>
<circle cx="1001.2" cy="336.4" r="1.7" fill="#ff8d04" stroke="#6b5a3a" stroke-width="0.55"/>
<circle cx="1010.7" cy="339.3" r="1.7" fill="#ff9303" stroke="#6b5a3a" stroke-width="0.55"/>
<circle cx="1016.9" cy="337.5" r="1.7" fill="#ff8f04" stroke="#6b5a3a" stroke-width="0.55"/>
<circle cx="1022.7" cy="337.9" r="1.7" fill="#ff7906" stroke="#6b5a3a" stroke-width="0.55"/>
<circle cx="1031.6" cy="338.3" r="1.7" fill="#fe6c08" stroke="#6b5a3a" stroke-width="0.55"/>
<circle cx="1033.4" cy="339.8" r="1.7" fill="#fe6c08" stroke="#6b5a3a" stroke-width="0.55"/>
<circle cx="1044.0" cy="336.8" r="1.7" fill="#fa4110" stroke="#6b5a3a" stroke-width="0.55"/>
<circle cx="1046.5" cy="337.7" r="1.7" fill="#fa4410" stroke="#6b5a3a" stroke-width="0.55"/>
<circle cx="1047.2" cy="337.5" r="1.7" fill="#fa4210" stroke="#6b5a3a" stroke-width="0.55"/>
<circle cx="1050.0" cy="339.5" r="1.7" fill="#f93a12" stroke="#6b5a3a" stroke-width="0.55"/>
<circle cx="1053.3" cy="337.3" r="1.7" fill="#f83013" stroke="#6b5a3a" stroke-width="0.55"/>
<circle cx="1053.8" cy="340.0" r="1.7" fill="#f93912" stroke="#6b5a3a" stroke-width="0.55"/>
<circle cx="1036.1" cy="342.4" r="1.7" fill="#fc5f0b" stroke="#6b5a3a" stroke-width="0.55"/>
<circle cx="1041.0" cy="344.9" r="1.7" fill="#fb500d" stroke="#6b5a3a" stroke-width="0.55"/>
<circle cx="1055.7" cy="344.0" r="1.7" fill="#eb2814" stroke="#6b5a3a" stroke-width="0.55"/>
<circle cx="1014.2" cy="347.3" r="1.7" fill="#ff9503" stroke="#6b5a3a" stroke-width="0.55"/>
<circle cx="1059.9" cy="348.1" r="1.7" fill="#f93b11" stroke="#6b5a3a" stroke-width="0.55"/>
<circle cx="1061.5" cy="352.6" r="1.7" fill="#f83113" stroke="#6b5a3a" stroke-width="0.55"/>
<circle cx="1072.5" cy="351.6" r="1.7" fill="#f93812" stroke="#6b5a3a" stroke-width="0.55"/>
<circle cx="1074.3" cy="355.0" r="1.7" fill="#f93512" stroke="#6b5a3a" stroke-width="0.55"/>
<circle cx="1021.9" cy="353.1" r="1.7" fill="#ff8904" stroke="#6b5a3a" stroke-width="0.55"/>
<circle cx="1028.4" cy="353.7" r="1.7" fill="#fe7606" stroke="#6b5a3a" stroke-width="0.55"/>
<circle cx="1040.6" cy="356.6" r="1.7" fill="#fb530d" stroke="#6b5a3a" stroke-width="0.55"/>
<circle cx="1058.9" cy="356.3" r="1.7" fill="#f93d11" stroke="#6b5a3a" stroke-width="0.55"/>
<circle cx="1057.5" cy="359.4" r="1.7" fill="#fa4110" stroke="#6b5a3a" stroke-width="0.55"/>
<circle cx="1058.5" cy="361.7" r="1.7" fill="#fa490f" stroke="#6b5a3a" stroke-width="0.55"/>
<circle cx="1058.9" cy="363.4" r="1.7" fill="#fa4510" stroke="#6b5a3a" stroke-width="0.55"/>
<circle cx="1066.9" cy="359.8" r="1.7" fill="#fa470f" stroke="#6b5a3a" stroke-width="0.55"/>
<circle cx="1025.6" cy="361.5" r="1.7" fill="#ff8d04" stroke="#6b5a3a" stroke-width="0.55"/>
<circle cx="1020.1" cy="363.6" r="1.7" fill="#ff9c03" stroke="#6b5a3a" stroke-width="0.55"/>
<circle cx="1045.3" cy="368.6" r="1.7" fill="#fc590c" stroke="#6b5a3a" stroke-width="0.55"/>
<circle cx="1047.7" cy="371.8" r="1.7" fill="#fb540d" stroke="#6b5a3a" stroke-width="0.55"/>
<circle cx="1079.9" cy="373.7" r="1.7" fill="#fc5a0b" stroke="#6b5a3a" stroke-width="0.55"/>
<circle cx="1081.6" cy="374.2" r="1.7" fill="#fb510d" stroke="#6b5a3a" stroke-width="0.55"/>
<circle cx="1082.6" cy="373.9" r="1.7" fill="#fc5f0b" stroke="#6b5a3a" stroke-width="0.55"/>
<circle cx="1083.1" cy="376.3" r="1.7" fill="#fd630a" stroke="#6b5a3a" stroke-width="0.55"/>
<circle cx="1037.3" cy="379.8" r="1.7" fill="#ff8b04" stroke="#6b5a3a" stroke-width="0.55"/>
<circle cx="1066.5" cy="380.0" r="1.7" fill="#fc580c" stroke="#6b5a3a" stroke-width="0.55"/>
<circle cx="1040.9" cy="389.1" r="1.7" fill="#ff8e04" stroke="#6b5a3a" stroke-width="0.55"/>
<circle cx="1059.0" cy="389.6" r="1.7" fill="#fd6609" stroke="#6b5a3a" stroke-width="0.55"/>
<circle cx="1071.9" cy="386.7" r="1.7" fill="#fd610a" stroke="#6b5a3a" stroke-width="0.55"/>
<circle cx="1072.5" cy="390.0" r="1.7" fill="#fd6709" stroke="#6b5a3a" stroke-width="0.55"/>
<circle cx="1048.0" cy="398.0" r="1.7" fill="#ff8804" stroke="#6b5a3a" stroke-width="0.55"/>
<circle cx="1067.4" cy="396.7" r="1.7" fill="#fe7407" stroke="#6b5a3a" stroke-width="0.55"/>
<circle cx="1068.7" cy="398.0" r="1.7" fill="#fe7107" stroke="#6b5a3a" stroke-width="0.55"/>
<circle cx="1066.5" cy="399.5" r="1.7" fill="#fe7107" stroke="#6b5a3a" stroke-width="0.55"/>
<circle cx="1067.2" cy="402.6" r="1.7" fill="#ff8005" stroke="#6b5a3a" stroke-width="0.55"/>
<circle cx="1065.5" cy="407.0" r="1.7" fill="#ff7e05" stroke="#6b5a3a" stroke-width="0.55"/>
<circle cx="994.4" cy="372.9" r="1.7" fill="#ffcf02" stroke="#6b5a3a" stroke-width="0.55"/>
<circle cx="994.0" cy="388.9" r="1.7" fill="#ffd403" stroke="#6b5a3a" stroke-width="0.55"/>
<circle cx="1006.0" cy="388.2" r="1.7" fill="#ffc500" stroke="#6b5a3a" stroke-width="0.55"/>
<circle cx="1004.0" cy="391.3" r="1.7" fill="#ffcb01" stroke="#6b5a3a" stroke-width="0.55"/>
<circle cx="1005.1" cy="393.0" r="1.7" fill="#ffb801" stroke="#6b5a3a" stroke-width="0.55"/>
<circle cx="982.1" cy="397.5" r="1.7" fill="#ffb301" stroke="#6b5a3a" stroke-width="0.55"/>
<circle cx="1005.3" cy="398.4" r="1.7" fill="#ffcc02" stroke="#6b5a3a" stroke-width="0.55"/>
<circle cx="999.7" cy="400.4" r="1.7" fill="#ffc300" stroke="#6b5a3a" stroke-width="0.55"/>
<circle cx="1004.4" cy="402.3" r="1.7" fill="#ffc600" stroke="#6b5a3a" stroke-width="0.55"/>
<circle cx="1015.7" cy="399.8" r="1.7" fill="#ffc901" stroke="#6b5a3a" stroke-width="0.55"/>
<circle cx="1017.1" cy="400.2" r="1.7" fill="#ffd002" stroke="#6b5a3a" stroke-width="0.55"/>
<circle cx="1020.3" cy="401.1" r="1.7" fill="#ffda04" stroke="#6b5a3a" stroke-width="0.55"/>
<circle cx="1001.4" cy="409.6" r="1.7" fill="#ffb901" stroke="#6b5a3a" stroke-width="0.55"/>
<circle cx="1004.1" cy="410.5" r="1.7" fill="#ffca01" stroke="#6b5a3a" stroke-width="0.55"/>
<circle cx="1018.0" cy="407.7" r="1.7" fill="#ffdc04" stroke="#6b5a3a" stroke-width="0.55"/>
<circle cx="1007.9" cy="413.6" r="1.7" fill="#ffdd04" stroke="#6b5a3a" stroke-width="0.55"/>
<circle cx="1043.6" cy="412.8" r="1.7" fill="#ffdc04" stroke="#6b5a3a" stroke-width="0.55"/>
<circle cx="995.8" cy="417.2" r="1.7" fill="#ffcc01" stroke="#6b5a3a" stroke-width="0.55"/>
<circle cx="988.0" cy="419.7" r="1.7" fill="#ffdb04" stroke="#6b5a3a" stroke-width="0.55"/>
<circle cx="1018.9" cy="424.1" r="1.7" fill="#ffd102" stroke="#6b5a3a" stroke-width="0.55"/>
<circle cx="1031.6" cy="423.0" r="1.7" fill="#ffe005" stroke="#6b5a3a" stroke-width="0.55"/>
<circle cx="1037.0" cy="422.0" r="1.7" fill="#ffda04" stroke="#6b5a3a" stroke-width="0.55"/>
<circle cx="1038.6" cy="422.5" r="1.7" fill="#ffd703" stroke="#6b5a3a" stroke-width="0.55"/>
<circle cx="1012.3" cy="427.5" r="1.7" fill="#ffe305" stroke="#6b5a3a" stroke-width="0.55"/>
<circle cx="1015.5" cy="428.8" r="1.7" fill="#ffcb01" stroke="#6b5a3a" stroke-width="0.55"/>
<circle cx="1040.5" cy="428.7" r="1.7" fill="#ffcd02" stroke="#6b5a3a" stroke-width="0.55"/>
<circle cx="999.7" cy="432.8" r="1.7" fill="#ffe305" stroke="#6b5a3a" stroke-width="0.55"/>
<circle cx="1021.8" cy="432.9" r="1.7" fill="#ffd203" stroke="#6b5a3a" stroke-width="0.55"/>
<circle cx="1012.7" cy="441.9" r="1.7" fill="#ffe606" stroke="#6b5a3a" stroke-width="0.55"/>
<circle cx="1020.2" cy="440.6" r="1.7" fill="#ffd603" stroke="#6b5a3a" stroke-width="0.55"/>
<circle cx="1024.5" cy="443.1" r="1.7" fill="#ffd703" stroke="#6b5a3a" stroke-width="0.55"/>
<circle cx="1032.3" cy="442.0" r="1.7" fill="#ffe305" stroke="#6b5a3a" stroke-width="0.55"/>
<circle cx="1009.3" cy="445.4" r="1.7" fill="#ffdd04" stroke="#6b5a3a" stroke-width="0.55"/>
<circle cx="1012.7" cy="445.9" r="1.7" fill="#ffe405" stroke="#6b5a3a" stroke-width="0.55"/>
<circle cx="1027.6" cy="445.5" r="1.7" fill="#ffe205" stroke="#6b5a3a" stroke-width="0.55"/>
<circle cx="991.2" cy="446.7" r="1.7" fill="#ffe205" stroke="#6b5a3a" stroke-width="0.55"/>
<circle cx="1012.4" cy="472.0" r="1.7" fill="#ffef07" stroke="#6b5a3a" stroke-width="0.55"/>
<circle cx="1014.3" cy="487.4" r="1.7" fill="#fff609" stroke="#6b5a3a" stroke-width="0.55"/>
<circle cx="1063.7" cy="488.3" r="1.7" fill="#fff609" stroke="#6b5a3a" stroke-width="0.55"/>
<circle cx="1067.4" cy="487.5" r="1.7" fill="#fff609" stroke="#6b5a3a" stroke-width="0.55"/>
<circle cx="1087.5" cy="476.9" r="1.7" fill="#fff208" stroke="#6b5a3a" stroke-width="0.55"/>
<circle cx="1086.1" cy="480.3" r="1.7" fill="#fff308" stroke="#6b5a3a" stroke-width="0.55"/>
<circle cx="1084.0" cy="484.8" r="1.7" fill="#fff508" stroke="#6b5a3a" stroke-width="0.55"/>
<circle cx="1085.7" cy="482.9" r="1.7" fill="#fff308" stroke="#6b5a3a" stroke-width="0.55"/>
<circle cx="1086.4" cy="484.6" r="1.7" fill="#fff508" stroke="#6b5a3a" stroke-width="0.55"/>
<circle cx="1087.1" cy="488.1" r="1.7" fill="#fff609" stroke="#6b5a3a" stroke-width="0.55"/>
<circle cx="1089.2" cy="486.0" r="1.7" fill="#fff508" stroke="#6b5a3a" stroke-width="0.55"/>
<circle cx="1090.6" cy="485.7" r="1.7" fill="#fff508" stroke="#6b5a3a" stroke-width="0.55"/>
<circle cx="929.9" cy="414.8" r="1.7" fill="#fff609" stroke="#6b5a3a" stroke-width="0.55"/>
<circle cx="927.1" cy="417.1" r="1.7" fill="#fff609" stroke="#6b5a3a" stroke-width="0.55"/>
<circle cx="927.4" cy="418.7" r="1.7" fill="#fff609" stroke="#6b5a3a" stroke-width="0.55"/>
<circle cx="930.3" cy="432.4" r="1.7" fill="#fff609" stroke="#6b5a3a" stroke-width="0.55"/>
<circle cx="963.1" cy="459.2" r="1.7" fill="#fff609" stroke="#6b5a3a" stroke-width="0.55"/>
<circle cx="949.8" cy="464.2" r="1.7" fill="#fff609" stroke="#6b5a3a" stroke-width="0.55"/>
<circle cx="951.8" cy="473.3" r="1.7" fill="#fff609" stroke="#6b5a3a" stroke-width="0.55"/>
<circle cx="953.9" cy="474.9" r="1.7" fill="#fff609" stroke="#6b5a3a" stroke-width="0.55"/>
<circle cx="953.0" cy="477.0" r="1.7" fill="#fff609" stroke="#6b5a3a" stroke-width="0.55"/>
<rect x="891.5" y="325.0" width="1.8" height="1.6" fill="#333" />
<rect x="891.5" y="379.7" width="1.8" height="1.6" fill="#333" />
<rect x="891.5" y="434.9" width="1.8" height="1.6" fill="#333" />
<rect x="891.5" y="490.1" width="1.8" height="1.6" fill="#333" />
<rect x="892.7" y="545.6" width="1.6" height="1.8" fill="#333" />
<rect x="980.5" y="545.6" width="1.6" height="1.8" fill="#333" />
<rect x="1046.5" y="545.6" width="1.6" height="1.8" fill="#333" />
<rect x="1111.4" y="545.6" width="1.6" height="1.8" fill="#333" />
<text x="1007.5" y="558.5" font-size="13.6" text-anchor="middle" fill="#000" >TSNE_1</text>
<text x="886.2" y="430.7" font-size="13.6" text-anchor="middle" transform="rotate(-90 886.2 430.7)" fill="#000" >TSNE_2</text>
<text x="1137.0" y="330.5" font-size="20.6" text-anchor="start" fill="#000" >Acta2</text>
<defs><linearGradient id="gb" x1="0" y1="0" x2="0" y2="1"><stop offset="0" stop-color="#f5241a"/><stop offset="0.3" stop-color="#f8700c"/><stop offset="0.6" stop-color="#fda800"/><stop offset="1" stop-color="#ffff10"/></linearGradient></defs>
<rect x="1136.5" y="339.0" width="15.8" height="76.0" fill="url(#gb)" />
<rect x="1149.5" y="354.3" width="2.8" height="1.0" fill="#fff" />
<text x="1156.3" y="360.5" font-size="16" text-anchor="start" fill="#000" >6</text>
<rect x="1149.5" y="375.0" width="2.8" height="1.0" fill="#fff" />
<text x="1156.3" y="381.2" font-size="16" text-anchor="start" fill="#000" >4</text>
<rect x="1149.5" y="395.2" width="2.8" height="1.0" fill="#fff" />
<text x="1156.3" y="401.4" font-size="16" text-anchor="start" fill="#000" >2</text>
<text x="838.0" y="27.8" font-size="33.6" text-anchor="start" font-weight="bold" fill="#000" >b</text>
<rect x="1253.9" y="56.5" width="326.7" height="28.7" fill="#f5f5f5" />
<rect x="1586.3" y="56.5" width="262.6" height="28.7" fill="#f5f5f5" />
<rect x="1253.9" y="91.1" width="326.7" height="14.0" fill="#f5f5f5" />
<rect x="1586.3" y="91.1" width="262.6" height="14.0" fill="#f5f5f5" />
<rect x="1253.9" y="111.2" width="326.7" height="231.3" fill="#f5f5f5" />
<rect x="1586.3" y="111.2" width="262.6" height="231.3" fill="#f5f5f5" />
<rect x="1253.9" y="347.9" width="326.7" height="215.8" fill="#f5f5f5" />
<rect x="1586.3" y="347.9" width="262.6" height="215.8" fill="#f5f5f5" />
<rect x="1253.9" y="37.6" width="326.7" height="14.2" fill="#f781bf" />
<rect x="1586.3" y="37.6" width="262.6" height="14.2" fill="#d3d3d3" />
<path d="M1256.8 37.6v14.2M1259.7 37.6v14.2M1262.6 37.6v14.2M1265.5 37.6v14.2M1268.4 37.6v14.2M1271.2 37.6v14.2M1274.1 37.6v14.2M1277.0 37.6v14.2M1279.9 37.6v14.2M1282.8 37.6v14.2M1285.7 37.6v14.2M1288.6 37.6v14.2M1291.5 37.6v14.2M1294.4 37.6v14.2M1297.3 37.6v14.2M1300.2 37.6v14.2M1303.0 37.6v14.2M1305.9 37.6v14.2M1308.8 37.6v14.2M1311.7 37.6v14.2M1314.6 37.6v14.2M1317.5 37.6v14.2M1320.4 37.6v14.2M1323.3 37.6v14.2M1326.2 37.6v14.2M1329.1 37.6v14.2M1332.0 37.6v14.2M1334.9 37.6v14.2M1337.7 37.6v14.2M1340.6 37.6v14.2M1343.5 37.6v14.2M1346.4 37.6v14.2M1349.3 37.6v14.2M1352.2 37.6v14.2M1355.1 37.6v14.2M1358.0 37.6v14.2M1360.9 37.6v14.2M1363.8 37.6v14.2M1366.7 37.6v14.2M1369.5 37.6v14.2M1372.4 37.6v14.2M1375.3 37.6v14.2M1378.2 37.6v14.2M1381.1 37.6v14.2M1384.0 37.6v14.2M1386.9 37.6v14.2M1389.8 37.6v14.2M1392.7 37.6v14.2M1395.6 37.6v14.2M1398.5 37.6v14.2M1401.3 37.6v14.2M1404.2 37.6v14.2M1407.1 37.6v14.2M1410.0 37.6v14.2M1412.9 37.6v14.2M1415.8 37.6v14.2M1418.7 37.6v14.2M1421.6 37.6v14.2M1424.5 37.6v14.2M1427.4 37.6v14.2M1430.3 37.6v14.2M1433.2 37.6v14.2M1436.0 37.6v14.2M1438.9 37.6v14.2M1441.8 37.6v14.2M1444.7 37.6v14.2M1447.6 37.6v14.2M1450.5 37.6v14.2M1453.4 37.6v14.2M1456.3 37.6v14.2M1459.2 37.6v14.2M1462.1 37.6v14.2M1465.0 37.6v14.2M1467.8 37.6v14.2M1470.7 37.6v14.2M1473.6 37.6v14.2M1476.5 37.6v14.2M1479.4 37.6v14.2M1482.3 37.6v14.2M1485.2 37.6v14.2M1488.1 37.6v14.2M1491.0 37.6v14.2M1493.9 37.6v14.2M1496.8 37.6v14.2M1499.6 37.6v14.2M1502.5 37.6v14.2M1505.4 37.6v14.2M1508.3 37.6v14.2M1511.2 37.6v14.2M1514.1 37.6v14.2M1517.0 37.6v14.2M1519.9 37.6v14.2M1522.8 37.6v14.2M1525.7 37.6v14.2M1528.6 37.6v14.2M1531.5 37.6v14.2M1534.3 37.6v14.2M1537.2 37.6v14.2M1540.1 37.6v14.2M1543.0 37.6v14.2M1545.9 37.6v14.2M1548.8 37.6v14.2M1551.7 37.6v14.2M1554.6 37.6v14.2M1557.5 37.6v14.2M1560.4 37.6v14.2M1563.3 37.6v14.2M1566.1 37.6v14.2M1569.0 37.6v14.2M1571.9 37.6v14.2M1574.8 37.6v14.2M1577.7 37.6v14.2" stroke="#fff" stroke-opacity="0.12" stroke-width="0.6"/>
<defs><linearGradient id="ga" x1="0" y1="0" x2="1" y2="0"><stop offset="0" stop-color="#ff0000"/><stop offset="0.27" stop-color="#fc2020"/><stop offset="0.46" stop-color="#fa5a5a"/><stop offset="0.58" stop-color="#f88c8c"/><stop offset="0.71" stop-color="#f6b4b4"/><stop offset="0.84" stop-color="#f4d2d2"/><stop offset="1" stop-color="#f2e4e4"/></linearGradient></defs>
<rect x="1253.9" y="91.1" width="326.7" height="14.0" fill="url(#ga)" />
<path fill="#f6e1e1" d="M1776.8 241.3h2.9v14.5h-2.9zM1655.6 328.0h2.9v14.5h-2.9zM1704.6 328.0h2.9v14.5h-2.9zM1753.7 328.0h2.9v14.5h-2.9zM1424.5 347.9h2.9v14.4h-2.9zM1491.0 347.9h2.9v14.4h-2.9zM1262.6 362.3h5.8v14.4h-5.8zM1360.9 362.3h2.9v14.4h-2.9zM1514.1 362.3h2.9v14.4h-2.9zM1389.8 376.7h2.9v14.4h-2.9zM1424.5 376.7h2.9v14.4h-2.9zM1479.4 376.7h2.9v14.4h-2.9zM1265.5 391.1h2.9v14.4h-2.9zM1311.7 391.1h2.9v14.4h-2.9zM1326.2 391.1h2.9v14.4h-2.9zM1343.5 391.1h2.9v14.4h-2.9zM1358.0 391.1h5.8v14.4h-5.8zM1514.1 391.1h2.9v14.4h-2.9zM1522.8 391.1h2.9v14.4h-2.9zM1311.7 405.4h2.9v14.4h-2.9zM1430.3 405.4h2.9v14.4h-2.9zM1462.1 405.4h2.9v14.4h-2.9zM1491.0 405.4h2.9v14.4h-2.9zM1265.5 434.2h2.9v14.4h-2.9zM1551.7 434.2h2.9v14.4h-2.9zM1415.8 448.6h2.9v14.4h-2.9zM1427.4 448.6h2.9v14.4h-2.9zM1482.3 448.6h2.9v14.4h-2.9zM1571.9 448.6h2.9v14.4h-2.9zM1265.5 463.0h2.9v14.4h-2.9zM1326.2 477.4h2.9v14.4h-2.9zM1343.5 477.4h2.9v14.4h-2.9zM1398.5 477.4h2.9v14.4h-2.9zM1485.2 477.4h2.9v14.4h-2.9zM1343.5 491.8h2.9v14.4h-2.9zM1378.2 491.8h2.9v14.4h-2.9zM1415.8 491.8h2.9v14.4h-2.9zM1618.0 491.8h2.9v14.4h-2.9zM1265.5 506.2h2.9v14.4h-2.9zM1358.0 506.2h2.9v14.4h-2.9zM1482.3 506.2h2.9v14.4h-2.9zM1531.5 506.2h2.9v14.4h-2.9zM1664.2 506.2h2.9v14.4h-2.9zM1369.5 520.5h2.9v14.4h-2.9zM1407.1 520.5h2.9v14.4h-2.9zM1664.2 520.5h2.9v14.4h-2.9zM1288.6 534.9h2.9v14.4h-2.9zM1311.7 534.9h2.9v14.4h-2.9zM1326.2 534.9h2.9v14.4h-2.9zM1358.0 534.9h2.9v14.4h-2.9zM1372.4 534.9h5.8v14.4h-5.8zM1404.2 534.9h2.9v14.4h-2.9zM1485.2 534.9h2.9v14.4h-2.9zM1311.7 549.3h2.9v14.4h-2.9zM1759.4 549.3h2.9v14.4h-2.9z"/>
<path fill="#f7cccc" d="M1282.8 56.5h2.9v14.3h-2.9zM1308.8 56.5h2.9v14.3h-2.9zM1352.2 56.5h2.9v14.3h-2.9zM1363.8 56.5h2.9v14.3h-2.9zM1421.6 56.5h2.9v14.3h-2.9zM1438.9 56.5h2.9v14.3h-2.9zM1499.6 56.5h2.9v14.3h-2.9zM1514.1 56.5h5.8v14.3h-5.8zM1548.8 56.5h2.9v14.3h-2.9zM1557.5 56.5h2.9v14.3h-2.9zM1563.3 56.5h2.9v14.3h-2.9zM1569.0 56.5h2.9v14.3h-2.9zM1574.8 56.5h2.9v14.3h-2.9zM1355.1 70.8h2.9v14.4h-2.9zM1410.0 70.8h2.9v14.4h-2.9zM1488.1 70.8h2.9v14.4h-2.9zM1499.6 70.8h2.9v14.4h-2.9zM1548.8 70.8h2.9v14.4h-2.9zM1560.4 70.8h2.9v14.4h-2.9zM1566.1 70.8h5.8v14.4h-5.8zM1577.7 70.8h2.9v14.4h-2.9zM1733.5 70.8h2.9v14.4h-2.9zM1606.5 111.2h2.9v14.5h-2.9zM1797.0 111.2h2.9v14.5h-2.9zM1814.3 111.2h2.9v14.5h-2.9zM1822.9 111.2h2.9v14.5h-2.9zM1612.3 125.7h2.9v14.5h-2.9zM1658.4 125.7h2.9v14.5h-2.9zM1675.8 125.7h2.9v14.5h-2.9zM1753.7 125.7h2.9v14.5h-2.9zM1768.1 125.7h2.9v14.5h-2.9zM1779.6 125.7h2.9v14.5h-2.9zM1831.6 125.7h2.9v14.5h-2.9zM1667.1 154.6h2.9v14.5h-2.9zM1696.0 154.6h2.9v14.5h-2.9zM1791.2 154.6h2.9v14.5h-2.9zM1606.5 197.9h2.9v14.5h-2.9zM1788.3 197.9h2.9v14.5h-2.9zM1606.5 212.4h2.9v14.5h-2.9zM1655.6 212.4h2.9v14.5h-2.9zM1661.3 212.4h2.9v14.5h-2.9zM1667.1 212.4h2.9v14.5h-2.9zM1675.8 212.4h5.8v14.5h-5.8zM1739.2 212.4h11.5v14.5h-11.5zM1753.7 212.4h2.9v14.5h-2.9zM1773.9 212.4h5.8v14.5h-5.8zM1797.0 212.4h2.9v14.5h-2.9zM1820.0 212.4h2.9v14.5h-2.9zM1837.4 212.4h2.9v14.5h-2.9zM1595.0 226.9h2.9v14.5h-2.9zM1603.6 226.9h2.9v14.5h-2.9zM1612.3 226.9h2.9v14.5h-2.9zM1649.8 226.9h2.9v14.5h-2.9zM1704.6 226.9h2.9v14.5h-2.9zM1644.0 328.0h2.9v14.5h-2.9zM1721.9 328.0h2.9v14.5h-2.9zM1739.2 328.0h2.9v14.5h-2.9zM1750.8 328.0h2.9v14.5h-2.9zM1785.4 328.0h2.9v14.5h-2.9zM1450.5 347.9h2.9v14.4h-2.9zM1485.2 347.9h2.9v14.4h-2.9zM1554.6 347.9h2.9v14.4h-2.9zM1618.0 347.9h2.9v14.4h-2.9zM1664.2 347.9h2.9v14.4h-2.9zM1710.4 347.9h2.9v14.4h-2.9zM1747.9 347.9h2.9v14.4h-2.9zM1808.5 347.9h2.9v14.4h-2.9zM1548.8 362.3h2.9v14.4h-2.9zM1664.2 362.3h2.9v14.4h-2.9zM1696.0 362.3h2.9v14.4h-2.9zM1716.2 362.3h2.9v14.4h-2.9zM1747.9 362.3h2.9v14.4h-2.9zM1265.5 376.7h2.9v14.4h-2.9zM1311.7 376.7h2.9v14.4h-2.9zM1326.2 376.7h2.9v14.4h-2.9zM1401.3 376.7h2.9v14.4h-2.9zM1412.9 376.7h2.9v14.4h-2.9zM1522.8 376.7h2.9v14.4h-2.9zM1618.0 376.7h2.9v14.4h-2.9zM1644.0 376.7h2.9v14.4h-2.9zM1664.2 376.7h2.9v14.4h-2.9zM1282.8 391.1h2.9v14.4h-2.9zM1320.4 391.1h2.9v14.4h-2.9zM1355.1 391.1h2.9v14.4h-2.9zM1479.4 391.1h2.9v14.4h-2.9zM1557.5 391.1h2.9v14.4h-2.9zM1569.0 391.1h2.9v14.4h-2.9zM1618.0 391.1h2.9v14.4h-2.9zM1664.2 391.1h2.9v14.4h-2.9zM1326.2 405.4h2.9v14.4h-2.9zM1369.5 405.4h2.9v14.4h-2.9zM1375.3 405.4h5.8v14.4h-5.8zM1424.5 405.4h5.8v14.4h-5.8zM1450.5 405.4h5.8v14.4h-5.8zM1473.6 405.4h2.9v14.4h-2.9zM1482.3 405.4h2.9v14.4h-2.9zM1522.8 405.4h2.9v14.4h-2.9zM1531.5 405.4h2.9v14.4h-2.9zM1571.9 405.4h2.9v14.4h-2.9zM1618.0 405.4h2.9v14.4h-2.9zM1664.2 405.4h2.9v14.4h-2.9zM1326.2 419.8h2.9v14.4h-2.9zM1360.9 419.8h2.9v14.4h-2.9zM1395.6 419.8h2.9v14.4h-2.9zM1618.0 419.8h2.9v14.4h-2.9zM1664.2 419.8h2.9v14.4h-2.9zM1759.4 419.8h2.9v14.4h-2.9zM1311.7 434.2h2.9v14.4h-2.9zM1571.9 434.2h2.9v14.4h-2.9zM1664.2 434.2h2.9v14.4h-2.9zM1817.2 434.2h2.9v14.4h-2.9zM1282.8 448.6h2.9v14.4h-2.9zM1372.4 448.6h2.9v14.4h-2.9zM1430.3 448.6h2.9v14.4h-2.9zM1514.1 448.6h2.9v14.4h-2.9zM1522.8 448.6h2.9v14.4h-2.9zM1528.6 448.6h2.9v14.4h-2.9zM1551.7 448.6h2.9v14.4h-2.9zM1563.3 448.6h2.9v14.4h-2.9zM1618.0 448.6h2.9v14.4h-2.9zM1623.8 448.6h2.9v14.4h-2.9zM1635.4 448.6h2.9v14.4h-2.9zM1747.9 448.6h2.9v14.4h-2.9zM1540.1 463.0h2.9v14.4h-2.9zM1618.0 463.0h2.9v14.4h-2.9zM1664.2 463.0h2.9v14.4h-2.9zM1762.3 463.0h2.9v14.4h-2.9zM1311.7 477.4h2.9v14.4h-2.9zM1407.1 477.4h2.9v14.4h-2.9zM1412.9 477.4h2.9v14.4h-2.9zM1462.1 477.4h2.9v14.4h-2.9zM1522.8 477.4h2.9v14.4h-2.9zM1528.6 477.4h2.9v14.4h-2.9zM1606.5 477.4h2.9v14.4h-2.9zM1664.2 477.4h2.9v14.4h-2.9zM1808.5 477.4h2.9v14.4h-2.9zM1814.3 477.4h2.9v14.4h-2.9zM1326.2 491.8h2.9v14.4h-2.9zM1398.5 491.8h2.9v14.4h-2.9zM1424.5 491.8h2.9v14.4h-2.9zM1453.4 491.8h2.9v14.4h-2.9zM1482.3 491.8h2.9v14.4h-2.9zM1491.0 491.8h2.9v14.4h-2.9zM1531.5 491.8h2.9v14.4h-2.9zM1560.4 491.8h2.9v14.4h-2.9zM1569.0 491.8h2.9v14.4h-2.9zM1664.2 491.8h2.9v14.4h-2.9zM1759.4 491.8h2.9v14.4h-2.9zM1282.8 506.2h2.9v14.4h-2.9zM1311.7 506.2h2.9v14.4h-2.9zM1320.4 506.2h2.9v14.4h-2.9zM1360.9 506.2h2.9v14.4h-2.9zM1401.3 506.2h2.9v14.4h-2.9zM1430.3 506.2h2.9v14.4h-2.9zM1470.7 506.2h2.9v14.4h-2.9zM1491.0 506.2h2.9v14.4h-2.9zM1522.8 506.2h2.9v14.4h-2.9zM1528.6 506.2h2.9v14.4h-2.9zM1560.4 506.2h2.9v14.4h-2.9zM1791.2 506.2h2.9v14.4h-2.9zM1326.2 520.5h2.9v14.4h-2.9zM1609.4 520.5h2.9v14.4h-2.9zM1618.0 520.5h2.9v14.4h-2.9zM1747.9 520.5h2.9v14.4h-2.9zM1791.2 520.5h2.9v14.4h-2.9zM1265.5 534.9h2.9v14.4h-2.9zM1294.4 534.9h2.9v14.4h-2.9zM1343.5 534.9h2.9v14.4h-2.9zM1381.1 534.9h2.9v14.4h-2.9zM1398.5 534.9h2.9v14.4h-2.9zM1491.0 534.9h2.9v14.4h-2.9zM1496.8 534.9h2.9v14.4h-2.9zM1522.8 534.9h2.9v14.4h-2.9zM1528.6 534.9h2.9v14.4h-2.9zM1557.5 534.9h2.9v14.4h-2.9zM1644.0 534.9h2.9v14.4h-2.9zM1681.5 534.9h2.9v14.4h-2.9zM1739.2 534.9h5.8v14.4h-5.8zM1256.8 549.3h2.9v14.4h-2.9zM1326.2 549.3h2.9v14.4h-2.9zM1548.8 549.3h2.9v14.4h-2.9z"/>
<path fill="#f8b8b8" d="M1253.9 56.5h2.9v14.3h-2.9zM1305.9 56.5h2.9v14.3h-2.9zM1349.3 56.5h2.9v14.3h-2.9zM1366.7 56.5h2.9v14.3h-2.9zM1386.9 56.5h2.9v14.3h-2.9zM1392.7 56.5h2.9v14.3h-2.9zM1404.2 56.5h2.9v14.3h-2.9zM1410.0 56.5h2.9v14.3h-2.9zM1415.8 56.5h2.9v14.3h-2.9zM1444.7 56.5h2.9v14.3h-2.9zM1462.1 56.5h11.6v14.3h-11.6zM1488.1 56.5h8.7v14.3h-8.7zM1522.8 56.5h2.9v14.3h-2.9zM1551.7 56.5h5.8v14.3h-5.8zM1600.7 56.5h2.9v14.3h-2.9zM1652.7 56.5h2.9v14.3h-2.9zM1667.1 56.5h2.9v14.3h-2.9zM1736.4 56.5h5.8v14.3h-5.8zM1753.7 56.5h5.8v14.3h-5.8zM1771.0 56.5h2.9v14.3h-2.9zM1782.5 56.5h2.9v14.3h-2.9zM1788.3 56.5h2.9v14.3h-2.9zM1820.0 56.5h2.9v14.3h-2.9zM1831.6 56.5h2.9v14.3h-2.9zM1288.6 70.8h2.9v14.4h-2.9zM1317.5 70.8h2.9v14.4h-2.9zM1329.1 70.8h2.9v14.4h-2.9zM1369.5 70.8h5.8v14.4h-5.8zM1386.9 70.8h2.9v14.4h-2.9zM1392.7 70.8h2.9v14.4h-2.9zM1412.9 70.8h2.9v14.4h-2.9zM1444.7 70.8h2.9v14.4h-2.9zM1459.2 70.8h2.9v14.4h-2.9zM1465.0 70.8h2.9v14.4h-2.9zM1482.3 70.8h2.9v14.4h-2.9zM1491.0 70.8h2.9v14.4h-2.9zM1496.8 70.8h2.9v14.4h-2.9zM1502.5 70.8h2.9v14.4h-2.9zM1511.2 70.8h5.8v14.4h-5.8zM1534.3 70.8h2.9v14.4h-2.9zM1540.1 70.8h2.9v14.4h-2.9zM1554.6 70.8h2.9v14.4h-2.9zM1574.8 70.8h2.9v14.4h-2.9zM1615.2 70.8h2.9v14.4h-2.9zM1641.1 70.8h2.9v14.4h-2.9zM1672.9 70.8h5.8v14.4h-5.8zM1684.4 70.8h2.9v14.4h-2.9zM1719.0 70.8h2.9v14.4h-2.9zM1782.5 70.8h8.7v14.4h-8.7zM1825.8 70.8h2.9v14.4h-2.9zM1618.0 111.2h2.9v14.5h-2.9zM1623.8 111.2h2.9v14.5h-2.9zM1641.1 111.2h2.9v14.5h-2.9zM1771.0 111.2h2.9v14.5h-2.9zM1802.7 111.2h2.9v14.5h-2.9zM1820.0 111.2h2.9v14.5h-2.9zM1632.5 125.7h2.9v14.5h-2.9zM1745.0 125.7h2.9v14.5h-2.9zM1799.8 125.7h2.9v14.5h-2.9zM1820.0 125.7h2.9v14.5h-2.9zM1837.4 125.7h2.9v14.5h-2.9zM1655.6 140.1h2.9v14.5h-2.9zM1704.6 140.1h2.9v14.5h-2.9zM1736.4 140.1h2.9v14.5h-2.9zM1742.1 140.1h2.9v14.5h-2.9zM1756.6 140.1h5.8v14.5h-5.8zM1765.2 140.1h2.9v14.5h-2.9zM1586.3 154.6h2.9v14.5h-2.9zM1612.3 154.6h2.9v14.5h-2.9zM1661.3 154.6h2.9v14.5h-2.9zM1701.7 154.6h5.8v14.5h-5.8zM1753.7 154.6h2.9v14.5h-2.9zM1820.0 154.6h2.9v14.5h-2.9zM1828.7 154.6h2.9v14.5h-2.9zM1456.3 169.0h11.6v14.5h-11.6zM1554.6 169.0h2.9v14.5h-2.9zM1574.8 169.0h2.9v14.5h-2.9zM1592.1 169.0h2.9v14.5h-2.9zM1606.5 169.0h2.9v14.5h-2.9zM1675.8 169.0h2.9v14.5h-2.9zM1756.6 169.0h2.9v14.5h-2.9zM1797.0 169.0h2.9v14.5h-2.9zM1811.4 169.0h2.9v14.5h-2.9zM1837.4 169.0h2.9v14.5h-2.9zM1620.9 197.9h2.9v14.5h-2.9zM1638.2 197.9h2.9v14.5h-2.9zM1658.4 197.9h2.9v14.5h-2.9zM1768.1 197.9h2.9v14.5h-2.9zM1791.2 197.9h2.9v14.5h-2.9zM1805.6 197.9h2.9v14.5h-2.9zM1589.2 212.4h2.9v14.5h-2.9zM1595.0 212.4h2.9v14.5h-2.9zM1629.6 212.4h2.9v14.5h-2.9zM1696.0 212.4h2.9v14.5h-2.9zM1716.2 212.4h2.9v14.5h-2.9zM1779.6 212.4h2.9v14.5h-2.9zM1811.4 212.4h2.9v14.5h-2.9zM1822.9 212.4h5.8v14.5h-5.8zM1840.2 212.4h2.9v14.5h-2.9zM1597.8 226.9h5.8v14.5h-5.8zM1618.0 226.9h2.9v14.5h-2.9zM1684.4 226.9h2.9v14.5h-2.9zM1750.8 226.9h2.9v14.5h-2.9zM1820.0 226.9h2.9v14.5h-2.9zM1638.2 241.3h2.9v14.5h-2.9zM1655.6 241.3h2.9v14.5h-2.9zM1799.8 241.3h2.9v14.5h-2.9zM1814.3 241.3h2.9v14.5h-2.9zM1687.3 255.8h2.9v14.5h-2.9zM1589.2 270.2h2.9v14.5h-2.9zM1623.8 270.2h2.9v14.5h-2.9zM1747.9 284.7h2.9v14.5h-2.9zM1756.6 284.7h2.9v14.5h-2.9zM1701.7 299.1h2.9v14.5h-2.9zM1733.5 299.1h2.9v14.5h-2.9zM1623.8 328.0h2.9v14.5h-2.9zM1814.3 328.0h5.8v14.5h-5.8zM1840.2 328.0h2.9v14.5h-2.9zM1320.4 347.9h2.9v14.4h-2.9zM1360.9 347.9h2.9v14.4h-2.9zM1384.0 347.9h2.9v14.4h-2.9zM1395.6 347.9h2.9v14.4h-2.9zM1453.4 347.9h2.9v14.4h-2.9zM1482.3 347.9h2.9v14.4h-2.9zM1693.1 347.9h2.9v14.4h-2.9zM1768.1 347.9h2.9v14.4h-2.9zM1358.0 362.3h2.9v14.4h-2.9zM1375.3 362.3h2.9v14.4h-2.9zM1389.8 362.3h2.9v14.4h-2.9zM1462.1 362.3h2.9v14.4h-2.9zM1491.0 362.3h2.9v14.4h-2.9zM1528.6 362.3h2.9v14.4h-2.9zM1560.4 362.3h8.7v14.4h-8.7zM1606.5 362.3h2.9v14.4h-2.9zM1615.2 362.3h2.9v14.4h-2.9zM1710.4 362.3h2.9v14.4h-2.9zM1765.2 362.3h2.9v14.4h-2.9zM1808.5 362.3h2.9v14.4h-2.9zM1271.2 376.7h2.9v14.4h-2.9zM1285.7 376.7h2.9v14.4h-2.9zM1355.1 376.7h5.8v14.4h-5.8zM1369.5 376.7h2.9v14.4h-2.9zM1375.3 376.7h2.9v14.4h-2.9zM1453.4 376.7h2.9v14.4h-2.9zM1496.8 376.7h2.9v14.4h-2.9zM1514.1 376.7h2.9v14.4h-2.9zM1563.3 376.7h2.9v14.4h-2.9zM1606.5 376.7h2.9v14.4h-2.9zM1745.0 376.7h5.8v14.4h-5.8zM1470.7 391.1h2.9v14.4h-2.9zM1543.0 391.1h2.9v14.4h-2.9zM1548.8 391.1h2.9v14.4h-2.9zM1606.5 391.1h2.9v14.4h-2.9zM1644.0 391.1h2.9v14.4h-2.9zM1716.2 391.1h2.9v14.4h-2.9zM1747.9 391.1h2.9v14.4h-2.9zM1768.1 391.1h2.9v14.4h-2.9zM1268.4 405.4h2.9v14.4h-2.9zM1288.6 405.4h2.9v14.4h-2.9zM1303.0 405.4h2.9v14.4h-2.9zM1320.4 405.4h2.9v14.4h-2.9zM1343.5 405.4h2.9v14.4h-2.9zM1349.3 405.4h2.9v14.4h-2.9zM1358.0 405.4h5.8v14.4h-5.8zM1444.7 405.4h2.9v14.4h-2.9zM1470.7 405.4h2.9v14.4h-2.9zM1560.4 405.4h2.9v14.4h-2.9zM1747.9 405.4h2.9v14.4h-2.9zM1334.9 419.8h2.9v14.4h-2.9zM1747.9 419.8h2.9v14.4h-2.9zM1514.1 434.2h2.9v14.4h-2.9zM1696.0 434.2h2.9v14.4h-2.9zM1369.5 448.6h2.9v14.4h-2.9zM1404.2 448.6h2.9v14.4h-2.9zM1467.8 448.6h2.9v14.4h-2.9zM1496.8 448.6h2.9v14.4h-2.9zM1548.8 448.6h2.9v14.4h-2.9zM1557.5 448.6h2.9v14.4h-2.9zM1664.2 448.6h2.9v14.4h-2.9zM1681.5 448.6h2.9v14.4h-2.9zM1736.4 448.6h2.9v14.4h-2.9zM1791.2 448.6h2.9v14.4h-2.9zM1808.5 448.6h2.9v14.4h-2.9zM1271.2 463.0h2.9v14.4h-2.9zM1355.1 463.0h2.9v14.4h-2.9zM1447.6 463.0h2.9v14.4h-2.9zM1644.0 463.0h2.9v14.4h-2.9zM1745.0 463.0h2.9v14.4h-2.9zM1395.6 477.4h2.9v14.4h-2.9zM1433.2 477.4h2.9v14.4h-2.9zM1450.5 477.4h2.9v14.4h-2.9zM1644.0 477.4h2.9v14.4h-2.9zM1271.2 491.8h2.9v14.4h-2.9zM1358.0 491.8h2.9v14.4h-2.9zM1369.5 491.8h2.9v14.4h-2.9zM1462.1 491.8h5.8v14.4h-5.8zM1473.6 491.8h2.9v14.4h-2.9zM1514.1 491.8h2.9v14.4h-2.9zM1525.7 491.8h2.9v14.4h-2.9zM1551.7 491.8h2.9v14.4h-2.9zM1566.1 491.8h2.9v14.4h-2.9zM1571.9 491.8h2.9v14.4h-2.9zM1635.4 491.8h2.9v14.4h-2.9zM1644.0 491.8h2.9v14.4h-2.9zM1765.2 491.8h2.9v14.4h-2.9zM1794.1 491.8h2.9v14.4h-2.9zM1253.9 506.2h2.9v14.4h-2.9zM1326.2 506.2h2.9v14.4h-2.9zM1343.5 506.2h2.9v14.4h-2.9zM1375.3 506.2h2.9v14.4h-2.9zM1384.0 506.2h2.9v14.4h-2.9zM1404.2 506.2h2.9v14.4h-2.9zM1450.5 506.2h5.8v14.4h-5.8zM1485.2 506.2h2.9v14.4h-2.9zM1557.5 506.2h2.9v14.4h-2.9zM1566.1 506.2h2.9v14.4h-2.9zM1808.5 506.2h2.9v14.4h-2.9zM1574.8 520.5h2.9v14.4h-2.9zM1623.8 520.5h2.9v14.4h-2.9zM1644.0 520.5h2.9v14.4h-2.9zM1736.4 520.5h2.9v14.4h-2.9zM1765.2 520.5h2.9v14.4h-2.9zM1308.8 534.9h2.9v14.4h-2.9zM1320.4 534.9h2.9v14.4h-2.9zM1329.1 534.9h2.9v14.4h-2.9zM1447.6 534.9h5.8v14.4h-5.8zM1482.3 534.9h2.9v14.4h-2.9zM1566.1 534.9h2.9v14.4h-2.9zM1615.2 534.9h2.9v14.4h-2.9zM1664.2 534.9h2.9v14.4h-2.9zM1747.9 534.9h2.9v14.4h-2.9zM1742.1 549.3h2.9v14.4h-2.9z"/>
<path fill="#f8a3a3" d="M1259.7 56.5h2.9v14.3h-2.9zM1279.9 56.5h2.9v14.3h-2.9zM1358.0 56.5h5.8v14.3h-5.8zM1398.5 56.5h2.9v14.3h-2.9zM1433.2 56.5h2.9v14.3h-2.9zM1453.4 56.5h2.9v14.3h-2.9zM1485.2 56.5h2.9v14.3h-2.9zM1496.8 56.5h2.9v14.3h-2.9zM1505.4 56.5h2.9v14.3h-2.9zM1511.2 56.5h2.9v14.3h-2.9zM1531.5 56.5h2.9v14.3h-2.9zM1537.2 56.5h2.9v14.3h-2.9zM1543.0 56.5h2.9v14.3h-2.9zM1560.4 56.5h2.9v14.3h-2.9zM1571.9 56.5h2.9v14.3h-2.9zM1577.7 56.5h2.9v14.3h-2.9zM1589.2 56.5h2.9v14.3h-2.9zM1615.2 56.5h2.9v14.3h-2.9zM1626.7 56.5h5.8v14.3h-5.8zM1670.0 56.5h2.9v14.3h-2.9zM1701.7 56.5h2.9v14.3h-2.9zM1710.4 56.5h2.9v14.3h-2.9zM1724.8 56.5h2.9v14.3h-2.9zM1750.8 56.5h2.9v14.3h-2.9zM1797.0 56.5h2.9v14.3h-2.9zM1805.6 56.5h2.9v14.3h-2.9zM1814.3 56.5h2.9v14.3h-2.9zM1843.1 56.5h2.9v14.3h-2.9zM1256.8 70.8h2.9v14.4h-2.9zM1265.5 70.8h2.9v14.4h-2.9zM1282.8 70.8h2.9v14.4h-2.9zM1326.2 70.8h2.9v14.4h-2.9zM1346.4 70.8h2.9v14.4h-2.9zM1352.2 70.8h2.9v14.4h-2.9zM1395.6 70.8h2.9v14.4h-2.9zM1415.8 70.8h5.8v14.4h-5.8zM1493.9 70.8h2.9v14.4h-2.9zM1517.0 70.8h2.9v14.4h-2.9zM1537.2 70.8h2.9v14.4h-2.9zM1543.0 70.8h2.9v14.4h-2.9zM1597.8 70.8h2.9v14.4h-2.9zM1612.3 70.8h2.9v14.4h-2.9zM1626.7 70.8h2.9v14.4h-2.9zM1652.7 70.8h5.8v14.4h-5.8zM1661.3 70.8h2.9v14.4h-2.9zM1690.2 70.8h5.8v14.4h-5.8zM1727.7 70.8h2.9v14.4h-2.9zM1762.3 70.8h2.9v14.4h-2.9zM1773.9 70.8h2.9v14.4h-2.9zM1794.1 70.8h2.9v14.4h-2.9zM1799.8 70.8h2.9v14.4h-2.9zM1831.6 70.8h2.9v14.4h-2.9zM1586.3 111.2h2.9v14.5h-2.9zM1609.4 111.2h5.8v14.5h-5.8zM1629.6 111.2h2.9v14.5h-2.9zM1638.2 111.2h2.9v14.5h-2.9zM1670.0 111.2h2.9v14.5h-2.9zM1713.3 111.2h2.9v14.5h-2.9zM1719.0 111.2h2.9v14.5h-2.9zM1730.6 111.2h5.8v14.5h-5.8zM1745.0 111.2h2.9v14.5h-2.9zM1762.3 111.2h5.8v14.5h-5.8zM1817.2 111.2h2.9v14.5h-2.9zM1840.2 111.2h2.9v14.5h-2.9zM1566.1 125.7h2.9v14.5h-2.9zM1701.7 125.7h2.9v14.5h-2.9zM1776.8 125.7h2.9v14.5h-2.9zM1788.3 125.7h2.9v14.5h-2.9zM1808.5 125.7h5.8v14.5h-5.8zM1822.9 125.7h2.9v14.5h-2.9zM1843.1 125.7h2.9v14.5h-2.9zM1543.0 140.1h5.8v14.5h-5.8zM1563.3 140.1h5.8v14.5h-5.8zM1592.1 140.1h2.9v14.5h-2.9zM1609.4 140.1h2.9v14.5h-2.9zM1635.4 140.1h2.9v14.5h-2.9zM1649.8 140.1h5.8v14.5h-5.8zM1707.5 140.1h2.9v14.5h-2.9zM1476.5 154.6h2.9v14.5h-2.9zM1482.3 154.6h2.9v14.5h-2.9zM1531.5 154.6h5.8v14.5h-5.8zM1745.0 154.6h2.9v14.5h-2.9zM1756.6 154.6h2.9v14.5h-2.9zM1797.0 154.6h2.9v14.5h-2.9zM1259.7 169.0h2.9v14.5h-2.9zM1265.5 169.0h2.9v14.5h-2.9zM1274.1 169.0h2.9v14.5h-2.9zM1363.8 169.0h5.8v14.5h-5.8zM1392.7 169.0h2.9v14.5h-2.9zM1401.3 169.0h2.9v14.5h-2.9zM1430.3 169.0h2.9v14.5h-2.9zM1441.8 169.0h2.9v14.5h-2.9zM1467.8 169.0h2.9v14.5h-2.9zM1473.6 169.0h2.9v14.5h-2.9zM1505.4 169.0h2.9v14.5h-2.9zM1540.1 169.0h2.9v14.5h-2.9zM1548.8 169.0h2.9v14.5h-2.9zM1560.4 169.0h2.9v14.5h-2.9zM1586.3 169.0h2.9v14.5h-2.9zM1652.7 169.0h2.9v14.5h-2.9zM1776.8 169.0h2.9v14.5h-2.9zM1840.2 169.0h2.9v14.5h-2.9zM1410.0 183.5h2.9v14.5h-2.9zM1635.4 197.9h2.9v14.5h-2.9zM1698.8 197.9h2.9v14.5h-2.9zM1753.7 197.9h2.9v14.5h-2.9zM1820.0 197.9h2.9v14.5h-2.9zM1609.4 212.4h2.9v14.5h-2.9zM1644.0 212.4h2.9v14.5h-2.9zM1649.8 212.4h2.9v14.5h-2.9zM1670.0 212.4h2.9v14.5h-2.9zM1681.5 212.4h2.9v14.5h-2.9zM1698.8 212.4h2.9v14.5h-2.9zM1707.5 212.4h2.9v14.5h-2.9zM1713.3 212.4h2.9v14.5h-2.9zM1719.0 212.4h2.9v14.5h-2.9zM1736.4 212.4h2.9v14.5h-2.9zM1759.4 212.4h2.9v14.5h-2.9zM1808.5 212.4h2.9v14.5h-2.9zM1817.2 212.4h2.9v14.5h-2.9zM1462.1 226.9h2.9v14.5h-2.9zM1644.0 226.9h2.9v14.5h-2.9zM1701.7 226.9h2.9v14.5h-2.9zM1724.8 226.9h2.9v14.5h-2.9zM1742.1 226.9h2.9v14.5h-2.9zM1756.6 226.9h2.9v14.5h-2.9zM1782.5 226.9h2.9v14.5h-2.9zM1418.7 241.3h2.9v14.5h-2.9zM1424.5 241.3h2.9v14.5h-2.9zM1511.2 241.3h2.9v14.5h-2.9zM1517.0 241.3h2.9v14.5h-2.9zM1548.8 241.3h2.9v14.5h-2.9zM1597.8 241.3h2.9v14.5h-2.9zM1742.1 241.3h2.9v14.5h-2.9zM1433.2 255.8h2.9v14.5h-2.9zM1465.0 255.8h2.9v14.5h-2.9zM1433.2 270.2h2.9v14.5h-2.9zM1560.4 270.2h2.9v14.5h-2.9zM1707.5 270.2h2.9v14.5h-2.9zM1256.8 284.7h2.9v14.5h-2.9zM1262.6 284.7h2.9v14.5h-2.9zM1268.4 284.7h2.9v14.5h-2.9zM1285.7 284.7h2.9v14.5h-2.9zM1352.2 284.7h5.8v14.5h-5.8zM1395.6 284.7h2.9v14.5h-2.9zM1314.6 299.1h5.8v14.5h-5.8zM1326.2 299.1h2.9v14.5h-2.9zM1372.4 299.1h2.9v14.5h-2.9zM1433.2 299.1h5.8v14.5h-5.8zM1456.3 299.1h2.9v14.5h-2.9zM1548.8 299.1h2.9v14.5h-2.9zM1597.8 299.1h2.9v14.5h-2.9zM1372.4 313.6h2.9v14.5h-2.9zM1384.0 313.6h2.9v14.5h-2.9zM1488.1 313.6h2.9v14.5h-2.9zM1493.9 313.6h2.9v14.5h-2.9zM1528.6 313.6h2.9v14.5h-2.9zM1554.6 313.6h5.8v14.5h-5.8zM1626.7 313.6h2.9v14.5h-2.9zM1707.5 313.6h2.9v14.5h-2.9zM1747.9 313.6h2.9v14.5h-2.9zM1771.0 313.6h2.9v14.5h-2.9zM1834.5 313.6h2.9v14.5h-2.9zM1305.9 328.0h5.8v14.5h-5.8zM1323.3 328.0h5.8v14.5h-5.8zM1360.9 328.0h2.9v14.5h-2.9zM1392.7 328.0h2.9v14.5h-2.9zM1441.8 328.0h2.9v14.5h-2.9zM1447.6 328.0h2.9v14.5h-2.9zM1493.9 328.0h2.9v14.5h-2.9zM1511.2 328.0h2.9v14.5h-2.9zM1543.0 328.0h2.9v14.5h-2.9zM1632.5 328.0h5.8v14.5h-5.8zM1719.0 328.0h2.9v14.5h-2.9zM1843.1 328.0h2.9v14.5h-2.9zM1369.5 347.9h2.9v14.4h-2.9zM1551.7 347.9h2.9v14.4h-2.9zM1644.0 347.9h2.9v14.4h-2.9zM1687.3 347.9h2.9v14.4h-2.9zM1788.3 347.9h2.9v14.4h-2.9zM1825.8 347.9h2.9v14.4h-2.9zM1297.3 362.3h2.9v14.4h-2.9zM1450.5 362.3h2.9v14.4h-2.9zM1644.0 362.3h2.9v14.4h-2.9zM1745.0 362.3h2.9v14.4h-2.9zM1759.4 362.3h2.9v14.4h-2.9zM1320.4 376.7h2.9v14.4h-2.9zM1473.6 376.7h2.9v14.4h-2.9zM1603.6 376.7h2.9v14.4h-2.9zM1620.9 376.7h2.9v14.4h-2.9zM1632.5 376.7h2.9v14.4h-2.9zM1808.5 376.7h2.9v14.4h-2.9zM1825.8 376.7h2.9v14.4h-2.9zM1288.6 391.1h2.9v14.4h-2.9zM1297.3 391.1h2.9v14.4h-2.9zM1462.1 391.1h2.9v14.4h-2.9zM1693.1 391.1h2.9v14.4h-2.9zM1707.5 391.1h2.9v14.4h-2.9zM1713.3 391.1h2.9v14.4h-2.9zM1733.5 391.1h2.9v14.4h-2.9zM1745.0 391.1h2.9v14.4h-2.9zM1282.8 405.4h2.9v14.4h-2.9zM1314.6 405.4h2.9v14.4h-2.9zM1485.2 405.4h2.9v14.4h-2.9zM1528.6 405.4h2.9v14.4h-2.9zM1557.5 405.4h2.9v14.4h-2.9zM1644.0 405.4h2.9v14.4h-2.9zM1684.4 405.4h2.9v14.4h-2.9zM1696.0 405.4h2.9v14.4h-2.9zM1742.1 405.4h2.9v14.4h-2.9zM1788.3 405.4h5.8v14.4h-5.8zM1808.5 405.4h2.9v14.4h-2.9zM1825.8 405.4h5.8v14.4h-5.8zM1450.5 419.8h2.9v14.4h-2.9zM1551.7 419.8h2.9v14.4h-2.9zM1557.5 419.8h2.9v14.4h-2.9zM1615.2 419.8h2.9v14.4h-2.9zM1644.0 419.8h2.9v14.4h-2.9zM1681.5 419.8h2.9v14.4h-2.9zM1693.1 419.8h2.9v14.4h-2.9zM1808.5 419.8h2.9v14.4h-2.9zM1378.2 434.2h2.9v14.4h-2.9zM1672.9 434.2h2.9v14.4h-2.9zM1788.3 434.2h2.9v14.4h-2.9zM1794.1 434.2h2.9v14.4h-2.9zM1303.0 448.6h2.9v14.4h-2.9zM1447.6 448.6h2.9v14.4h-2.9zM1644.0 448.6h2.9v14.4h-2.9zM1742.1 448.6h5.8v14.4h-5.8zM1814.3 448.6h2.9v14.4h-2.9zM1450.5 463.0h2.9v14.4h-2.9zM1557.5 463.0h2.9v14.4h-2.9zM1620.9 463.0h2.9v14.4h-2.9zM1713.3 463.0h2.9v14.4h-2.9zM1733.5 463.0h2.9v14.4h-2.9zM1788.3 463.0h5.8v14.4h-5.8zM1808.5 463.0h2.9v14.4h-2.9zM1825.8 463.0h2.9v14.4h-2.9zM1566.1 477.4h2.9v14.4h-2.9zM1620.9 477.4h2.9v14.4h-2.9zM1687.3 477.4h2.9v14.4h-2.9zM1693.1 477.4h2.9v14.4h-2.9zM1713.3 477.4h2.9v14.4h-2.9zM1834.5 477.4h2.9v14.4h-2.9zM1288.6 491.8h2.9v14.4h-2.9zM1427.4 491.8h2.9v14.4h-2.9zM1470.7 491.8h2.9v14.4h-2.9zM1537.2 491.8h2.9v14.4h-2.9zM1615.2 491.8h2.9v14.4h-2.9zM1693.1 491.8h2.9v14.4h-2.9zM1745.0 491.8h5.8v14.4h-5.8zM1808.5 491.8h2.9v14.4h-2.9zM1817.2 491.8h2.9v14.4h-2.9zM1285.7 506.2h2.9v14.4h-2.9zM1424.5 506.2h2.9v14.4h-2.9zM1441.8 506.2h2.9v14.4h-2.9zM1514.1 506.2h2.9v14.4h-2.9zM1525.7 506.2h2.9v14.4h-2.9zM1548.8 506.2h2.9v14.4h-2.9zM1571.9 506.2h2.9v14.4h-2.9zM1747.9 506.2h2.9v14.4h-2.9zM1759.4 506.2h2.9v14.4h-2.9zM1788.3 506.2h2.9v14.4h-2.9zM1378.2 520.5h2.9v14.4h-2.9zM1462.1 520.5h2.9v14.4h-2.9zM1620.9 520.5h2.9v14.4h-2.9zM1762.3 520.5h2.9v14.4h-2.9zM1415.8 534.9h2.9v14.4h-2.9zM1453.4 534.9h2.9v14.4h-2.9zM1462.1 534.9h2.9v14.4h-2.9zM1470.7 534.9h2.9v14.4h-2.9zM1479.4 534.9h2.9v14.4h-2.9zM1531.5 534.9h2.9v14.4h-2.9zM1609.4 534.9h2.9v14.4h-2.9zM1745.0 534.9h2.9v14.4h-2.9zM1771.0 534.9h2.9v14.4h-2.9zM1424.5 549.3h2.9v14.4h-2.9zM1609.4 549.3h2.9v14.4h-2.9zM1678.6 549.3h2.9v14.4h-2.9zM1762.3 549.3h2.9v14.4h-2.9z"/>
<path fill="#f98f8f" d="M1268.4 56.5h5.8v14.3h-5.8zM1277.0 56.5h2.9v14.3h-2.9zM1288.6 56.5h2.9v14.3h-2.9zM1355.1 56.5h2.9v14.3h-2.9zM1395.6 56.5h2.9v14.3h-2.9zM1412.9 56.5h2.9v14.3h-2.9zM1424.5 56.5h8.7v14.3h-8.7zM1447.6 56.5h5.8v14.3h-5.8zM1459.2 56.5h2.9v14.3h-2.9zM1473.6 56.5h5.8v14.3h-5.8zM1508.3 56.5h2.9v14.3h-2.9zM1519.9 56.5h2.9v14.3h-2.9zM1525.7 56.5h2.9v14.3h-2.9zM1540.1 56.5h2.9v14.3h-2.9zM1545.9 56.5h2.9v14.3h-2.9zM1609.4 56.5h2.9v14.3h-2.9zM1649.8 56.5h2.9v14.3h-2.9zM1661.3 56.5h2.9v14.3h-2.9zM1678.6 56.5h5.8v14.3h-5.8zM1690.2 56.5h2.9v14.3h-2.9zM1698.8 56.5h2.9v14.3h-2.9zM1713.3 56.5h2.9v14.3h-2.9zM1719.0 56.5h2.9v14.3h-2.9zM1727.7 56.5h2.9v14.3h-2.9zM1733.5 56.5h2.9v14.3h-2.9zM1768.1 56.5h2.9v14.3h-2.9zM1785.4 56.5h2.9v14.3h-2.9zM1802.7 56.5h2.9v14.3h-2.9zM1825.8 56.5h5.8v14.3h-5.8zM1358.0 70.8h5.8v14.4h-5.8zM1407.1 70.8h2.9v14.4h-2.9zM1424.5 70.8h2.9v14.4h-2.9zM1430.3 70.8h2.9v14.4h-2.9zM1436.0 70.8h5.8v14.4h-5.8zM1450.5 70.8h2.9v14.4h-2.9zM1462.1 70.8h2.9v14.4h-2.9zM1476.5 70.8h2.9v14.4h-2.9zM1525.7 70.8h2.9v14.4h-2.9zM1557.5 70.8h2.9v14.4h-2.9zM1563.3 70.8h2.9v14.4h-2.9zM1571.9 70.8h2.9v14.4h-2.9zM1586.3 70.8h2.9v14.4h-2.9zM1600.7 70.8h2.9v14.4h-2.9zM1609.4 70.8h2.9v14.4h-2.9zM1644.0 70.8h5.8v14.4h-5.8zM1658.4 70.8h2.9v14.4h-2.9zM1670.0 70.8h2.9v14.4h-2.9zM1681.5 70.8h2.9v14.4h-2.9zM1698.8 70.8h2.9v14.4h-2.9zM1710.4 70.8h2.9v14.4h-2.9zM1721.9 70.8h2.9v14.4h-2.9zM1736.4 70.8h2.9v14.4h-2.9zM1750.8 70.8h5.8v14.4h-5.8zM1768.1 70.8h2.9v14.4h-2.9zM1776.8 70.8h2.9v14.4h-2.9zM1811.4 70.8h2.9v14.4h-2.9zM1551.7 111.2h2.9v14.5h-2.9zM1571.9 111.2h2.9v14.5h-2.9zM1577.7 111.2h2.9v14.5h-2.9zM1620.9 111.2h2.9v14.5h-2.9zM1644.0 111.2h2.9v14.5h-2.9zM1649.8 111.2h2.9v14.5h-2.9zM1667.1 111.2h2.9v14.5h-2.9zM1675.8 111.2h8.7v14.5h-8.7zM1693.1 111.2h2.9v14.5h-2.9zM1698.8 111.2h2.9v14.5h-2.9zM1707.5 111.2h2.9v14.5h-2.9zM1753.7 111.2h2.9v14.5h-2.9zM1788.3 111.2h2.9v14.5h-2.9zM1799.8 111.2h2.9v14.5h-2.9zM1808.5 111.2h2.9v14.5h-2.9zM1825.8 111.2h2.9v14.5h-2.9zM1329.1 125.7h2.9v14.5h-2.9zM1395.6 125.7h2.9v14.5h-2.9zM1519.9 125.7h2.9v14.5h-2.9zM1537.2 125.7h2.9v14.5h-2.9zM1586.3 125.7h2.9v14.5h-2.9zM1620.9 125.7h2.9v14.5h-2.9zM1684.4 125.7h2.9v14.5h-2.9zM1690.2 125.7h5.8v14.5h-5.8zM1724.8 125.7h2.9v14.5h-2.9zM1802.7 125.7h2.9v14.5h-2.9zM1277.0 140.1h2.9v14.5h-2.9zM1323.3 140.1h2.9v14.5h-2.9zM1375.3 140.1h2.9v14.5h-2.9zM1392.7 140.1h5.8v14.5h-5.8zM1444.7 140.1h2.9v14.5h-2.9zM1522.8 140.1h5.8v14.5h-5.8zM1554.6 140.1h2.9v14.5h-2.9zM1589.2 140.1h2.9v14.5h-2.9zM1606.5 140.1h2.9v14.5h-2.9zM1658.4 140.1h2.9v14.5h-2.9zM1667.1 140.1h2.9v14.5h-2.9zM1782.5 140.1h2.9v14.5h-2.9zM1788.3 140.1h2.9v14.5h-2.9zM1802.7 140.1h2.9v14.5h-2.9zM1808.5 140.1h2.9v14.5h-2.9zM1822.9 140.1h2.9v14.5h-2.9zM1834.5 140.1h2.9v14.5h-2.9zM1352.2 154.6h2.9v14.5h-2.9zM1366.7 154.6h2.9v14.5h-2.9zM1375.3 154.6h2.9v14.5h-2.9zM1444.7 154.6h2.9v14.5h-2.9zM1453.4 154.6h2.9v14.5h-2.9zM1543.0 154.6h2.9v14.5h-2.9zM1638.2 154.6h2.9v14.5h-2.9zM1739.2 154.6h2.9v14.5h-2.9zM1782.5 154.6h2.9v14.5h-2.9zM1256.8 169.0h2.9v14.5h-2.9zM1277.0 169.0h8.7v14.5h-8.7zM1288.6 169.0h2.9v14.5h-2.9zM1320.4 169.0h2.9v14.5h-2.9zM1369.5 169.0h2.9v14.5h-2.9zM1384.0 169.0h5.8v14.5h-5.8zM1404.2 169.0h2.9v14.5h-2.9zM1421.6 169.0h2.9v14.5h-2.9zM1433.2 169.0h2.9v14.5h-2.9zM1493.9 169.0h5.8v14.5h-5.8zM1517.0 169.0h2.9v14.5h-2.9zM1525.7 169.0h5.8v14.5h-5.8zM1534.3 169.0h2.9v14.5h-2.9zM1571.9 169.0h2.9v14.5h-2.9zM1687.3 169.0h2.9v14.5h-2.9zM1727.7 169.0h2.9v14.5h-2.9zM1745.0 169.0h2.9v14.5h-2.9zM1765.2 169.0h2.9v14.5h-2.9zM1297.3 183.5h2.9v14.5h-2.9zM1326.2 183.5h2.9v14.5h-2.9zM1421.6 183.5h2.9v14.5h-2.9zM1433.2 197.9h2.9v14.5h-2.9zM1444.7 197.9h2.9v14.5h-2.9zM1467.8 197.9h2.9v14.5h-2.9zM1499.6 197.9h2.9v14.5h-2.9zM1531.5 197.9h2.9v14.5h-2.9zM1554.6 197.9h2.9v14.5h-2.9zM1693.1 197.9h2.9v14.5h-2.9zM1707.5 197.9h5.8v14.5h-5.8zM1721.9 197.9h2.9v14.5h-2.9zM1822.9 197.9h2.9v14.5h-2.9zM1600.7 212.4h2.9v14.5h-2.9zM1612.3 212.4h5.8v14.5h-5.8zM1635.4 212.4h2.9v14.5h-2.9zM1724.8 212.4h5.8v14.5h-5.8zM1750.8 212.4h2.9v14.5h-2.9zM1762.3 212.4h2.9v14.5h-2.9zM1771.0 212.4h2.9v14.5h-2.9zM1791.2 212.4h2.9v14.5h-2.9zM1831.6 212.4h5.8v14.5h-5.8zM1268.4 226.9h2.9v14.5h-2.9zM1360.9 226.9h2.9v14.5h-2.9zM1436.0 226.9h2.9v14.5h-2.9zM1499.6 226.9h5.8v14.5h-5.8zM1802.7 226.9h2.9v14.5h-2.9zM1828.7 226.9h2.9v14.5h-2.9zM1840.2 226.9h2.9v14.5h-2.9zM1256.8 241.3h2.9v14.5h-2.9zM1277.0 241.3h2.9v14.5h-2.9zM1291.5 241.3h2.9v14.5h-2.9zM1297.3 241.3h2.9v14.5h-2.9zM1314.6 241.3h2.9v14.5h-2.9zM1329.1 241.3h2.9v14.5h-2.9zM1340.6 241.3h2.9v14.5h-2.9zM1369.5 241.3h2.9v14.5h-2.9zM1410.0 241.3h5.8v14.5h-5.8zM1441.8 241.3h2.9v14.5h-2.9zM1488.1 241.3h2.9v14.5h-2.9zM1577.7 241.3h2.9v14.5h-2.9zM1256.8 255.8h2.9v14.5h-2.9zM1386.9 255.8h2.9v14.5h-2.9zM1441.8 255.8h2.9v14.5h-2.9zM1456.3 255.8h2.9v14.5h-2.9zM1560.4 255.8h2.9v14.5h-2.9zM1696.0 255.8h2.9v14.5h-2.9zM1355.1 270.2h2.9v14.5h-2.9zM1372.4 270.2h2.9v14.5h-2.9zM1427.4 270.2h2.9v14.5h-2.9zM1488.1 270.2h2.9v14.5h-2.9zM1672.9 270.2h2.9v14.5h-2.9zM1265.5 284.7h2.9v14.5h-2.9zM1300.2 284.7h5.8v14.5h-5.8zM1334.9 284.7h5.8v14.5h-5.8zM1363.8 284.7h2.9v14.5h-2.9zM1401.3 284.7h2.9v14.5h-2.9zM1415.8 284.7h2.9v14.5h-2.9zM1453.4 284.7h2.9v14.5h-2.9zM1401.3 299.1h2.9v14.5h-2.9zM1444.7 299.1h2.9v14.5h-2.9zM1519.9 299.1h2.9v14.5h-2.9zM1537.2 299.1h2.9v14.5h-2.9zM1566.1 299.1h2.9v14.5h-2.9zM1707.5 299.1h2.9v14.5h-2.9zM1762.3 299.1h2.9v14.5h-2.9zM1398.5 313.6h2.9v14.5h-2.9zM1424.5 313.6h2.9v14.5h-2.9zM1560.4 313.6h5.8v14.5h-5.8zM1620.9 313.6h2.9v14.5h-2.9zM1681.5 313.6h2.9v14.5h-2.9zM1698.8 313.6h2.9v14.5h-2.9zM1768.1 313.6h2.9v14.5h-2.9zM1791.2 313.6h2.9v14.5h-2.9zM1846.0 313.6h2.9v14.5h-2.9zM1253.9 328.0h2.9v14.5h-2.9zM1262.6 328.0h2.9v14.5h-2.9zM1282.8 328.0h2.9v14.5h-2.9zM1291.5 328.0h2.9v14.5h-2.9zM1314.6 328.0h2.9v14.5h-2.9zM1334.9 328.0h8.7v14.5h-8.7zM1346.4 328.0h2.9v14.5h-2.9zM1352.2 328.0h2.9v14.5h-2.9zM1369.5 328.0h2.9v14.5h-2.9zM1375.3 328.0h2.9v14.5h-2.9zM1381.1 328.0h2.9v14.5h-2.9zM1456.3 328.0h5.8v14.5h-5.8zM1716.2 328.0h2.9v14.5h-2.9zM1589.2 347.9h2.9v14.4h-2.9zM1626.7 347.9h5.8v14.4h-5.8zM1704.6 347.9h2.9v14.4h-2.9zM1771.0 347.9h2.9v14.4h-2.9zM1840.2 347.9h2.9v14.4h-2.9zM1525.7 362.3h2.9v14.4h-2.9zM1534.3 362.3h2.9v14.4h-2.9zM1704.6 362.3h2.9v14.4h-2.9zM1837.4 362.3h2.9v14.4h-2.9zM1441.8 376.7h2.9v14.4h-2.9zM1470.7 376.7h2.9v14.4h-2.9zM1551.7 376.7h2.9v14.4h-2.9zM1557.5 376.7h2.9v14.4h-2.9zM1574.8 376.7h2.9v14.4h-2.9zM1615.2 376.7h2.9v14.4h-2.9zM1672.9 376.7h2.9v14.4h-2.9zM1837.4 376.7h2.9v14.4h-2.9zM1404.2 391.1h2.9v14.4h-2.9zM1450.5 391.1h2.9v14.4h-2.9zM1485.2 391.1h2.9v14.4h-2.9zM1499.6 391.1h2.9v14.4h-2.9zM1528.6 391.1h2.9v14.4h-2.9zM1537.2 391.1h2.9v14.4h-2.9zM1566.1 391.1h2.9v14.4h-2.9zM1635.4 391.1h2.9v14.4h-2.9zM1684.4 391.1h5.8v14.4h-5.8zM1704.6 391.1h2.9v14.4h-2.9zM1828.7 391.1h2.9v14.4h-2.9zM1837.4 391.1h5.8v14.4h-5.8zM1551.7 405.4h2.9v14.4h-2.9zM1600.7 405.4h2.9v14.4h-2.9zM1632.5 405.4h2.9v14.4h-2.9zM1693.1 405.4h2.9v14.4h-2.9zM1719.0 405.4h2.9v14.4h-2.9zM1745.0 405.4h2.9v14.4h-2.9zM1756.6 405.4h2.9v14.4h-2.9zM1672.9 419.8h2.9v14.4h-2.9zM1701.7 419.8h2.9v14.4h-2.9zM1733.5 419.8h2.9v14.4h-2.9zM1840.2 419.8h2.9v14.4h-2.9zM1462.1 434.2h2.9v14.4h-2.9zM1485.2 434.2h2.9v14.4h-2.9zM1528.6 434.2h2.9v14.4h-2.9zM1574.8 434.2h2.9v14.4h-2.9zM1620.9 434.2h2.9v14.4h-2.9zM1675.8 434.2h2.9v14.4h-2.9zM1716.2 434.2h2.9v14.4h-2.9zM1834.5 434.2h2.9v14.4h-2.9zM1534.3 448.6h2.9v14.4h-2.9zM1566.1 448.6h2.9v14.4h-2.9zM1756.6 448.6h2.9v14.4h-2.9zM1822.9 448.6h2.9v14.4h-2.9zM1499.6 463.0h2.9v14.4h-2.9zM1525.7 463.0h5.8v14.4h-5.8zM1672.9 463.0h2.9v14.4h-2.9zM1693.1 463.0h2.9v14.4h-2.9zM1828.7 463.0h2.9v14.4h-2.9zM1470.7 477.4h2.9v14.4h-2.9zM1537.2 477.4h2.9v14.4h-2.9zM1589.2 477.4h2.9v14.4h-2.9zM1745.0 477.4h2.9v14.4h-2.9zM1788.3 477.4h2.9v14.4h-2.9zM1825.8 477.4h5.8v14.4h-5.8zM1837.4 477.4h5.8v14.4h-5.8zM1401.3 491.8h2.9v14.4h-2.9zM1441.8 491.8h2.9v14.4h-2.9zM1485.2 491.8h2.9v14.4h-2.9zM1548.8 491.8h2.9v14.4h-2.9zM1557.5 491.8h2.9v14.4h-2.9zM1623.8 491.8h2.9v14.4h-2.9zM1655.6 491.8h2.9v14.4h-2.9zM1675.8 491.8h2.9v14.4h-2.9zM1701.7 491.8h2.9v14.4h-2.9zM1771.0 491.8h2.9v14.4h-2.9zM1788.3 491.8h2.9v14.4h-2.9zM1820.0 491.8h8.7v14.4h-8.7zM1537.2 506.2h2.9v14.4h-2.9zM1551.7 506.2h2.9v14.4h-2.9zM1655.6 506.2h2.9v14.4h-2.9zM1672.9 506.2h2.9v14.4h-2.9zM1684.4 506.2h2.9v14.4h-2.9zM1690.2 506.2h2.9v14.4h-2.9zM1701.7 506.2h2.9v14.4h-2.9zM1837.4 506.2h5.8v14.4h-5.8zM1404.2 520.5h2.9v14.4h-2.9zM1537.2 520.5h2.9v14.4h-2.9zM1612.3 520.5h5.8v14.4h-5.8zM1690.2 520.5h2.9v14.4h-2.9zM1742.1 520.5h2.9v14.4h-2.9zM1834.5 520.5h2.9v14.4h-2.9zM1441.8 534.9h2.9v14.4h-2.9zM1620.9 534.9h2.9v14.4h-2.9zM1635.4 534.9h2.9v14.4h-2.9zM1675.8 534.9h2.9v14.4h-2.9zM1707.5 534.9h2.9v14.4h-2.9zM1820.0 534.9h2.9v14.4h-2.9zM1837.4 534.9h5.8v14.4h-5.8zM1470.7 549.3h2.9v14.4h-2.9zM1499.6 549.3h2.9v14.4h-2.9zM1638.2 549.3h2.9v14.4h-2.9z"/>
<path fill="#fa7a7a" d="M1256.8 56.5h2.9v14.3h-2.9zM1311.7 56.5h2.9v14.3h-2.9zM1317.5 56.5h2.9v14.3h-2.9zM1326.2 56.5h2.9v14.3h-2.9zM1340.6 56.5h5.8v14.3h-5.8zM1389.8 56.5h2.9v14.3h-2.9zM1407.1 56.5h2.9v14.3h-2.9zM1436.0 56.5h2.9v14.3h-2.9zM1441.8 56.5h2.9v14.3h-2.9zM1479.4 56.5h5.8v14.3h-5.8zM1502.5 56.5h2.9v14.3h-2.9zM1528.6 56.5h2.9v14.3h-2.9zM1534.3 56.5h2.9v14.3h-2.9zM1597.8 56.5h2.9v14.3h-2.9zM1618.0 56.5h2.9v14.3h-2.9zM1632.5 56.5h2.9v14.3h-2.9zM1655.6 56.5h2.9v14.3h-2.9zM1664.2 56.5h2.9v14.3h-2.9zM1704.6 56.5h2.9v14.3h-2.9zM1745.0 56.5h2.9v14.3h-2.9zM1759.4 56.5h2.9v14.3h-2.9zM1791.2 56.5h2.9v14.3h-2.9zM1259.7 70.8h2.9v14.4h-2.9zM1277.0 70.8h5.8v14.4h-5.8zM1291.5 70.8h2.9v14.4h-2.9zM1297.3 70.8h2.9v14.4h-2.9zM1303.0 70.8h5.8v14.4h-5.8zM1320.4 70.8h2.9v14.4h-2.9zM1337.7 70.8h2.9v14.4h-2.9zM1384.0 70.8h2.9v14.4h-2.9zM1389.8 70.8h2.9v14.4h-2.9zM1398.5 70.8h2.9v14.4h-2.9zM1433.2 70.8h2.9v14.4h-2.9zM1441.8 70.8h2.9v14.4h-2.9zM1447.6 70.8h2.9v14.4h-2.9zM1456.3 70.8h2.9v14.4h-2.9zM1470.7 70.8h2.9v14.4h-2.9zM1485.2 70.8h2.9v14.4h-2.9zM1528.6 70.8h5.8v14.4h-5.8zM1545.9 70.8h2.9v14.4h-2.9zM1551.7 70.8h2.9v14.4h-2.9zM1603.6 70.8h2.9v14.4h-2.9zM1638.2 70.8h2.9v14.4h-2.9zM1649.8 70.8h2.9v14.4h-2.9zM1707.5 70.8h2.9v14.4h-2.9zM1739.2 70.8h2.9v14.4h-2.9zM1765.2 70.8h2.9v14.4h-2.9zM1779.6 70.8h2.9v14.4h-2.9zM1253.9 111.2h2.9v14.5h-2.9zM1314.6 111.2h2.9v14.5h-2.9zM1320.4 111.2h2.9v14.5h-2.9zM1334.9 111.2h2.9v14.5h-2.9zM1352.2 111.2h2.9v14.5h-2.9zM1363.8 111.2h2.9v14.5h-2.9zM1427.4 111.2h2.9v14.5h-2.9zM1511.2 111.2h2.9v14.5h-2.9zM1522.8 111.2h2.9v14.5h-2.9zM1540.1 111.2h2.9v14.5h-2.9zM1548.8 111.2h2.9v14.5h-2.9zM1557.5 111.2h2.9v14.5h-2.9zM1569.0 111.2h2.9v14.5h-2.9zM1589.2 111.2h2.9v14.5h-2.9zM1597.8 111.2h2.9v14.5h-2.9zM1603.6 111.2h2.9v14.5h-2.9zM1615.2 111.2h2.9v14.5h-2.9zM1655.6 111.2h5.8v14.5h-5.8zM1687.3 111.2h2.9v14.5h-2.9zM1727.7 111.2h2.9v14.5h-2.9zM1736.4 111.2h2.9v14.5h-2.9zM1747.9 111.2h2.9v14.5h-2.9zM1756.6 111.2h2.9v14.5h-2.9zM1811.4 111.2h2.9v14.5h-2.9zM1256.8 125.7h2.9v14.5h-2.9zM1262.6 125.7h5.8v14.5h-5.8zM1274.1 125.7h8.7v14.5h-8.7zM1308.8 125.7h5.8v14.5h-5.8zM1352.2 125.7h2.9v14.5h-2.9zM1366.7 125.7h2.9v14.5h-2.9zM1389.8 125.7h2.9v14.5h-2.9zM1404.2 125.7h2.9v14.5h-2.9zM1418.7 125.7h2.9v14.5h-2.9zM1427.4 125.7h2.9v14.5h-2.9zM1444.7 125.7h2.9v14.5h-2.9zM1493.9 125.7h2.9v14.5h-2.9zM1517.0 125.7h2.9v14.5h-2.9zM1525.7 125.7h2.9v14.5h-2.9zM1551.7 125.7h2.9v14.5h-2.9zM1557.5 125.7h2.9v14.5h-2.9zM1563.3 125.7h2.9v14.5h-2.9zM1569.0 125.7h5.8v14.5h-5.8zM1577.7 125.7h2.9v14.5h-2.9zM1629.6 125.7h2.9v14.5h-2.9zM1646.9 125.7h2.9v14.5h-2.9zM1681.5 125.7h2.9v14.5h-2.9zM1739.2 125.7h2.9v14.5h-2.9zM1759.4 125.7h2.9v14.5h-2.9zM1785.4 125.7h2.9v14.5h-2.9zM1256.8 140.1h2.9v14.5h-2.9zM1282.8 140.1h2.9v14.5h-2.9zM1303.0 140.1h2.9v14.5h-2.9zM1314.6 140.1h2.9v14.5h-2.9zM1320.4 140.1h2.9v14.5h-2.9zM1326.2 140.1h2.9v14.5h-2.9zM1340.6 140.1h2.9v14.5h-2.9zM1349.3 140.1h2.9v14.5h-2.9zM1378.2 140.1h8.7v14.5h-8.7zM1433.2 140.1h8.7v14.5h-8.7zM1485.2 140.1h2.9v14.5h-2.9zM1505.4 140.1h2.9v14.5h-2.9zM1531.5 140.1h2.9v14.5h-2.9zM1586.3 140.1h2.9v14.5h-2.9zM1638.2 140.1h2.9v14.5h-2.9zM1644.0 140.1h2.9v14.5h-2.9zM1670.0 140.1h2.9v14.5h-2.9zM1675.8 140.1h2.9v14.5h-2.9zM1693.1 140.1h2.9v14.5h-2.9zM1724.8 140.1h5.8v14.5h-5.8zM1762.3 140.1h2.9v14.5h-2.9zM1768.1 140.1h2.9v14.5h-2.9zM1797.0 140.1h5.8v14.5h-5.8zM1268.4 154.6h5.8v14.5h-5.8zM1326.2 154.6h2.9v14.5h-2.9zM1340.6 154.6h2.9v14.5h-2.9zM1358.0 154.6h2.9v14.5h-2.9zM1363.8 154.6h2.9v14.5h-2.9zM1386.9 154.6h5.8v14.5h-5.8zM1401.3 154.6h5.8v14.5h-5.8zM1418.7 154.6h2.9v14.5h-2.9zM1459.2 154.6h2.9v14.5h-2.9zM1473.6 154.6h2.9v14.5h-2.9zM1479.4 154.6h2.9v14.5h-2.9zM1488.1 154.6h2.9v14.5h-2.9zM1620.9 154.6h2.9v14.5h-2.9zM1655.6 154.6h2.9v14.5h-2.9zM1681.5 154.6h2.9v14.5h-2.9zM1719.0 154.6h2.9v14.5h-2.9zM1727.7 154.6h2.9v14.5h-2.9zM1799.8 154.6h2.9v14.5h-2.9zM1262.6 169.0h2.9v14.5h-2.9zM1300.2 169.0h2.9v14.5h-2.9zM1305.9 169.0h2.9v14.5h-2.9zM1311.7 169.0h5.8v14.5h-5.8zM1332.0 169.0h2.9v14.5h-2.9zM1360.9 169.0h2.9v14.5h-2.9zM1381.1 169.0h2.9v14.5h-2.9zM1389.8 169.0h2.9v14.5h-2.9zM1395.6 169.0h2.9v14.5h-2.9zM1412.9 169.0h5.8v14.5h-5.8zM1450.5 169.0h2.9v14.5h-2.9zM1482.3 169.0h2.9v14.5h-2.9zM1499.6 169.0h5.8v14.5h-5.8zM1508.3 169.0h2.9v14.5h-2.9zM1537.2 169.0h2.9v14.5h-2.9zM1543.0 169.0h2.9v14.5h-2.9zM1569.0 169.0h2.9v14.5h-2.9zM1719.0 169.0h2.9v14.5h-2.9zM1779.6 169.0h2.9v14.5h-2.9zM1805.6 169.0h2.9v14.5h-2.9zM1262.6 183.5h2.9v14.5h-2.9zM1277.0 183.5h5.8v14.5h-5.8zM1300.2 183.5h5.8v14.5h-5.8zM1320.4 183.5h2.9v14.5h-2.9zM1346.4 183.5h2.9v14.5h-2.9zM1358.0 183.5h2.9v14.5h-2.9zM1381.1 183.5h2.9v14.5h-2.9zM1386.9 183.5h2.9v14.5h-2.9zM1297.3 197.9h2.9v14.5h-2.9zM1303.0 197.9h2.9v14.5h-2.9zM1349.3 197.9h2.9v14.5h-2.9zM1378.2 197.9h2.9v14.5h-2.9zM1386.9 197.9h2.9v14.5h-2.9zM1404.2 197.9h2.9v14.5h-2.9zM1441.8 197.9h2.9v14.5h-2.9zM1447.6 197.9h2.9v14.5h-2.9zM1505.4 197.9h2.9v14.5h-2.9zM1623.8 197.9h2.9v14.5h-2.9zM1719.0 197.9h2.9v14.5h-2.9zM1739.2 197.9h2.9v14.5h-2.9zM1759.4 197.9h2.9v14.5h-2.9zM1802.7 197.9h2.9v14.5h-2.9zM1462.1 212.4h5.8v14.5h-5.8zM1511.2 212.4h2.9v14.5h-2.9zM1528.6 212.4h2.9v14.5h-2.9zM1537.2 212.4h2.9v14.5h-2.9zM1566.1 212.4h2.9v14.5h-2.9zM1597.8 212.4h2.9v14.5h-2.9zM1618.0 212.4h2.9v14.5h-2.9zM1623.8 212.4h2.9v14.5h-2.9zM1638.2 212.4h5.8v14.5h-5.8zM1652.7 212.4h2.9v14.5h-2.9zM1687.3 212.4h2.9v14.5h-2.9zM1701.7 212.4h2.9v14.5h-2.9zM1785.4 212.4h2.9v14.5h-2.9zM1843.1 212.4h2.9v14.5h-2.9zM1253.9 226.9h8.7v14.5h-8.7zM1317.5 226.9h2.9v14.5h-2.9zM1404.2 226.9h2.9v14.5h-2.9zM1421.6 226.9h2.9v14.5h-2.9zM1453.4 226.9h2.9v14.5h-2.9zM1459.2 226.9h2.9v14.5h-2.9zM1493.9 226.9h5.8v14.5h-5.8zM1531.5 226.9h2.9v14.5h-2.9zM1557.5 226.9h2.9v14.5h-2.9zM1563.3 226.9h2.9v14.5h-2.9zM1574.8 226.9h2.9v14.5h-2.9zM1623.8 226.9h2.9v14.5h-2.9zM1635.4 226.9h2.9v14.5h-2.9zM1687.3 226.9h2.9v14.5h-2.9zM1253.9 241.3h2.9v14.5h-2.9zM1282.8 241.3h5.8v14.5h-5.8zM1303.0 241.3h2.9v14.5h-2.9zM1311.7 241.3h2.9v14.5h-2.9zM1323.3 241.3h2.9v14.5h-2.9zM1386.9 241.3h2.9v14.5h-2.9zM1444.7 241.3h2.9v14.5h-2.9zM1534.3 241.3h2.9v14.5h-2.9zM1253.9 255.8h2.9v14.5h-2.9zM1259.7 255.8h2.9v14.5h-2.9zM1285.7 255.8h2.9v14.5h-2.9zM1294.4 255.8h2.9v14.5h-2.9zM1332.0 255.8h2.9v14.5h-2.9zM1389.8 255.8h2.9v14.5h-2.9zM1395.6 255.8h2.9v14.5h-2.9zM1404.2 255.8h2.9v14.5h-2.9zM1410.0 255.8h2.9v14.5h-2.9zM1750.8 255.8h2.9v14.5h-2.9zM1259.7 270.2h2.9v14.5h-2.9zM1277.0 270.2h2.9v14.5h-2.9zM1305.9 270.2h2.9v14.5h-2.9zM1360.9 270.2h2.9v14.5h-2.9zM1384.0 270.2h2.9v14.5h-2.9zM1410.0 270.2h2.9v14.5h-2.9zM1473.6 270.2h2.9v14.5h-2.9zM1491.0 270.2h2.9v14.5h-2.9zM1502.5 270.2h2.9v14.5h-2.9zM1519.9 270.2h2.9v14.5h-2.9zM1586.3 270.2h2.9v14.5h-2.9zM1271.2 284.7h2.9v14.5h-2.9zM1288.6 284.7h2.9v14.5h-2.9zM1294.4 284.7h2.9v14.5h-2.9zM1314.6 284.7h2.9v14.5h-2.9zM1343.5 284.7h2.9v14.5h-2.9zM1358.0 284.7h2.9v14.5h-2.9zM1369.5 284.7h5.8v14.5h-5.8zM1297.3 299.1h5.8v14.5h-5.8zM1311.7 299.1h2.9v14.5h-2.9zM1329.1 299.1h2.9v14.5h-2.9zM1337.7 299.1h2.9v14.5h-2.9zM1343.5 299.1h2.9v14.5h-2.9zM1352.2 299.1h2.9v14.5h-2.9zM1358.0 299.1h5.8v14.5h-5.8zM1395.6 299.1h2.9v14.5h-2.9zM1407.1 299.1h2.9v14.5h-2.9zM1418.7 299.1h2.9v14.5h-2.9zM1424.5 299.1h8.7v14.5h-8.7zM1467.8 299.1h5.8v14.5h-5.8zM1479.4 299.1h2.9v14.5h-2.9zM1496.8 299.1h2.9v14.5h-2.9zM1557.5 299.1h2.9v14.5h-2.9zM1632.5 299.1h2.9v14.5h-2.9zM1828.7 299.1h2.9v14.5h-2.9zM1834.5 299.1h2.9v14.5h-2.9zM1386.9 313.6h2.9v14.5h-2.9zM1401.3 313.6h2.9v14.5h-2.9zM1410.0 313.6h2.9v14.5h-2.9zM1485.2 313.6h2.9v14.5h-2.9zM1491.0 313.6h2.9v14.5h-2.9zM1543.0 313.6h2.9v14.5h-2.9zM1632.5 313.6h2.9v14.5h-2.9zM1655.6 313.6h2.9v14.5h-2.9zM1667.1 313.6h2.9v14.5h-2.9zM1675.8 313.6h2.9v14.5h-2.9zM1690.2 313.6h2.9v14.5h-2.9zM1716.2 313.6h2.9v14.5h-2.9zM1765.2 313.6h2.9v14.5h-2.9zM1805.6 313.6h2.9v14.5h-2.9zM1320.4 328.0h2.9v14.5h-2.9zM1329.1 328.0h2.9v14.5h-2.9zM1410.0 328.0h2.9v14.5h-2.9zM1462.1 328.0h2.9v14.5h-2.9zM1476.5 328.0h2.9v14.5h-2.9zM1502.5 328.0h2.9v14.5h-2.9zM1514.1 328.0h2.9v14.5h-2.9zM1522.8 328.0h2.9v14.5h-2.9zM1438.9 347.9h2.9v14.4h-2.9zM1620.9 347.9h2.9v14.4h-2.9zM1649.8 347.9h2.9v14.4h-2.9zM1690.2 347.9h2.9v14.4h-2.9zM1701.7 347.9h2.9v14.4h-2.9zM1707.5 347.9h2.9v14.4h-2.9zM1776.8 347.9h2.9v14.4h-2.9zM1811.4 347.9h2.9v14.4h-2.9zM1843.1 347.9h2.9v14.4h-2.9zM1436.0 362.3h2.9v14.4h-2.9zM1441.8 362.3h2.9v14.4h-2.9zM1502.5 362.3h2.9v14.4h-2.9zM1655.6 362.3h2.9v14.4h-2.9zM1687.3 362.3h2.9v14.4h-2.9zM1693.1 362.3h2.9v14.4h-2.9zM1727.7 362.3h2.9v14.4h-2.9zM1788.3 362.3h2.9v14.4h-2.9zM1797.0 362.3h2.9v14.4h-2.9zM1825.8 362.3h2.9v14.4h-2.9zM1831.6 362.3h5.8v14.4h-5.8zM1843.1 362.3h2.9v14.4h-2.9zM1462.1 376.7h2.9v14.4h-2.9zM1537.2 376.7h2.9v14.4h-2.9zM1548.8 376.7h2.9v14.4h-2.9zM1626.7 376.7h2.9v14.4h-2.9zM1684.4 376.7h2.9v14.4h-2.9zM1693.1 376.7h2.9v14.4h-2.9zM1704.6 376.7h2.9v14.4h-2.9zM1750.8 376.7h2.9v14.4h-2.9zM1788.3 376.7h2.9v14.4h-2.9zM1831.6 376.7h2.9v14.4h-2.9zM1441.8 391.1h2.9v14.4h-2.9zM1534.3 391.1h2.9v14.4h-2.9zM1615.2 391.1h2.9v14.4h-2.9zM1620.9 391.1h2.9v14.4h-2.9zM1655.6 391.1h2.9v14.4h-2.9zM1667.1 391.1h2.9v14.4h-2.9zM1698.8 391.1h5.8v14.4h-5.8zM1724.8 391.1h5.8v14.4h-5.8zM1756.6 391.1h2.9v14.4h-2.9zM1779.6 391.1h2.9v14.4h-2.9zM1822.9 391.1h2.9v14.4h-2.9zM1615.2 405.4h2.9v14.4h-2.9zM1626.7 405.4h2.9v14.4h-2.9zM1687.3 405.4h2.9v14.4h-2.9zM1701.7 405.4h2.9v14.4h-2.9zM1707.5 405.4h2.9v14.4h-2.9zM1730.6 405.4h2.9v14.4h-2.9zM1771.0 405.4h2.9v14.4h-2.9zM1799.8 405.4h2.9v14.4h-2.9zM1837.4 405.4h2.9v14.4h-2.9zM1508.3 419.8h2.9v14.4h-2.9zM1589.2 419.8h2.9v14.4h-2.9zM1600.7 419.8h2.9v14.4h-2.9zM1620.9 419.8h2.9v14.4h-2.9zM1719.0 419.8h2.9v14.4h-2.9zM1597.8 434.2h2.9v14.4h-2.9zM1615.2 434.2h2.9v14.4h-2.9zM1629.6 434.2h2.9v14.4h-2.9zM1649.8 434.2h2.9v14.4h-2.9zM1667.1 434.2h5.8v14.4h-5.8zM1721.9 434.2h5.8v14.4h-5.8zM1730.6 434.2h2.9v14.4h-2.9zM1771.0 434.2h2.9v14.4h-2.9zM1811.4 434.2h2.9v14.4h-2.9zM1537.2 448.6h2.9v14.4h-2.9zM1600.7 448.6h2.9v14.4h-2.9zM1615.2 448.6h2.9v14.4h-2.9zM1652.7 448.6h5.8v14.4h-5.8zM1721.9 448.6h2.9v14.4h-2.9zM1753.7 448.6h2.9v14.4h-2.9zM1797.0 448.6h2.9v14.4h-2.9zM1825.8 448.6h2.9v14.4h-2.9zM1517.0 463.0h2.9v14.4h-2.9zM1600.7 463.0h2.9v14.4h-2.9zM1629.6 463.0h2.9v14.4h-2.9zM1721.9 463.0h2.9v14.4h-2.9zM1797.0 463.0h2.9v14.4h-2.9zM1802.7 463.0h2.9v14.4h-2.9zM1600.7 477.4h2.9v14.4h-2.9zM1615.2 477.4h2.9v14.4h-2.9zM1641.1 477.4h2.9v14.4h-2.9zM1684.4 477.4h2.9v14.4h-2.9zM1701.7 477.4h2.9v14.4h-2.9zM1750.8 477.4h2.9v14.4h-2.9zM1771.0 477.4h2.9v14.4h-2.9zM1797.0 477.4h11.5v14.4h-11.5zM1450.5 491.8h2.9v14.4h-2.9zM1499.6 491.8h5.8v14.4h-5.8zM1528.6 491.8h2.9v14.4h-2.9zM1661.3 491.8h2.9v14.4h-2.9zM1672.9 491.8h2.9v14.4h-2.9zM1698.8 491.8h2.9v14.4h-2.9zM1707.5 491.8h2.9v14.4h-2.9zM1776.8 491.8h2.9v14.4h-2.9zM1462.1 506.2h2.9v14.4h-2.9zM1499.6 506.2h2.9v14.4h-2.9zM1508.3 506.2h2.9v14.4h-2.9zM1667.1 506.2h2.9v14.4h-2.9zM1693.1 506.2h2.9v14.4h-2.9zM1719.0 506.2h2.9v14.4h-2.9zM1785.4 506.2h2.9v14.4h-2.9zM1834.5 506.2h2.9v14.4h-2.9zM1846.0 506.2h2.9v14.4h-2.9zM1502.5 520.5h2.9v14.4h-2.9zM1632.5 520.5h2.9v14.4h-2.9zM1730.6 520.5h2.9v14.4h-2.9zM1840.2 520.5h5.8v14.4h-5.8zM1436.0 534.9h2.9v14.4h-2.9zM1548.8 534.9h2.9v14.4h-2.9zM1592.1 534.9h5.8v14.4h-5.8zM1704.6 534.9h2.9v14.4h-2.9zM1779.6 534.9h2.9v14.4h-2.9zM1785.4 534.9h2.9v14.4h-2.9zM1802.7 534.9h2.9v14.4h-2.9zM1831.6 534.9h2.9v14.4h-2.9zM1788.3 549.3h2.9v14.4h-2.9z"/>
<path fill="#fb6666" d="M1274.1 56.5h2.9v14.3h-2.9zM1285.7 56.5h2.9v14.3h-2.9zM1303.0 56.5h2.9v14.3h-2.9zM1314.6 56.5h2.9v14.3h-2.9zM1323.3 56.5h2.9v14.3h-2.9zM1369.5 56.5h2.9v14.3h-2.9zM1375.3 56.5h2.9v14.3h-2.9zM1418.7 56.5h2.9v14.3h-2.9zM1595.0 56.5h2.9v14.3h-2.9zM1606.5 56.5h2.9v14.3h-2.9zM1623.8 56.5h2.9v14.3h-2.9zM1638.2 56.5h2.9v14.3h-2.9zM1658.4 56.5h2.9v14.3h-2.9zM1672.9 56.5h2.9v14.3h-2.9zM1716.2 56.5h2.9v14.3h-2.9zM1730.6 56.5h2.9v14.3h-2.9zM1747.9 56.5h2.9v14.3h-2.9zM1762.3 56.5h2.9v14.3h-2.9zM1817.2 56.5h2.9v14.3h-2.9zM1822.9 56.5h2.9v14.3h-2.9zM1840.2 56.5h2.9v14.3h-2.9zM1253.9 70.8h2.9v14.4h-2.9zM1268.4 70.8h2.9v14.4h-2.9zM1294.4 70.8h2.9v14.4h-2.9zM1308.8 70.8h2.9v14.4h-2.9zM1314.6 70.8h2.9v14.4h-2.9zM1323.3 70.8h2.9v14.4h-2.9zM1332.0 70.8h5.8v14.4h-5.8zM1340.6 70.8h2.9v14.4h-2.9zM1366.7 70.8h2.9v14.4h-2.9zM1378.2 70.8h5.8v14.4h-5.8zM1421.6 70.8h2.9v14.4h-2.9zM1427.4 70.8h2.9v14.4h-2.9zM1467.8 70.8h2.9v14.4h-2.9zM1473.6 70.8h2.9v14.4h-2.9zM1505.4 70.8h5.8v14.4h-5.8zM1589.2 70.8h2.9v14.4h-2.9zM1618.0 70.8h2.9v14.4h-2.9zM1635.4 70.8h2.9v14.4h-2.9zM1678.6 70.8h2.9v14.4h-2.9zM1696.0 70.8h2.9v14.4h-2.9zM1704.6 70.8h2.9v14.4h-2.9zM1742.1 70.8h5.8v14.4h-5.8zM1817.2 70.8h2.9v14.4h-2.9zM1834.5 70.8h2.9v14.4h-2.9zM1843.1 70.8h2.9v14.4h-2.9zM1256.8 111.2h2.9v14.5h-2.9zM1291.5 111.2h2.9v14.5h-2.9zM1308.8 111.2h2.9v14.5h-2.9zM1326.2 111.2h2.9v14.5h-2.9zM1340.6 111.2h2.9v14.5h-2.9zM1355.1 111.2h2.9v14.5h-2.9zM1410.0 111.2h2.9v14.5h-2.9zM1421.6 111.2h2.9v14.5h-2.9zM1436.0 111.2h2.9v14.5h-2.9zM1441.8 111.2h2.9v14.5h-2.9zM1447.6 111.2h2.9v14.5h-2.9zM1453.4 111.2h2.9v14.5h-2.9zM1459.2 111.2h2.9v14.5h-2.9zM1479.4 111.2h2.9v14.5h-2.9zM1499.6 111.2h2.9v14.5h-2.9zM1505.4 111.2h2.9v14.5h-2.9zM1531.5 111.2h2.9v14.5h-2.9zM1543.0 111.2h2.9v14.5h-2.9zM1563.3 111.2h2.9v14.5h-2.9zM1600.7 111.2h2.9v14.5h-2.9zM1635.4 111.2h2.9v14.5h-2.9zM1664.2 111.2h2.9v14.5h-2.9zM1701.7 111.2h2.9v14.5h-2.9zM1716.2 111.2h2.9v14.5h-2.9zM1776.8 111.2h5.8v14.5h-5.8zM1791.2 111.2h2.9v14.5h-2.9zM1831.6 111.2h5.8v14.5h-5.8zM1268.4 125.7h2.9v14.5h-2.9zM1317.5 125.7h2.9v14.5h-2.9zM1346.4 125.7h2.9v14.5h-2.9zM1355.1 125.7h2.9v14.5h-2.9zM1363.8 125.7h2.9v14.5h-2.9zM1488.1 125.7h2.9v14.5h-2.9zM1499.6 125.7h5.8v14.5h-5.8zM1511.2 125.7h2.9v14.5h-2.9zM1522.8 125.7h2.9v14.5h-2.9zM1574.8 125.7h2.9v14.5h-2.9zM1600.7 125.7h2.9v14.5h-2.9zM1618.0 125.7h2.9v14.5h-2.9zM1623.8 125.7h2.9v14.5h-2.9zM1655.6 125.7h2.9v14.5h-2.9zM1687.3 125.7h2.9v14.5h-2.9zM1704.6 125.7h2.9v14.5h-2.9zM1727.7 125.7h2.9v14.5h-2.9zM1762.3 125.7h2.9v14.5h-2.9zM1825.8 125.7h2.9v14.5h-2.9zM1265.5 140.1h2.9v14.5h-2.9zM1311.7 140.1h2.9v14.5h-2.9zM1343.5 140.1h2.9v14.5h-2.9zM1404.2 140.1h2.9v14.5h-2.9zM1410.0 140.1h2.9v14.5h-2.9zM1447.6 140.1h2.9v14.5h-2.9zM1456.3 140.1h2.9v14.5h-2.9zM1476.5 140.1h2.9v14.5h-2.9zM1491.0 140.1h2.9v14.5h-2.9zM1502.5 140.1h2.9v14.5h-2.9zM1557.5 140.1h2.9v14.5h-2.9zM1597.8 140.1h2.9v14.5h-2.9zM1739.2 140.1h2.9v14.5h-2.9zM1745.0 140.1h2.9v14.5h-2.9zM1750.8 140.1h2.9v14.5h-2.9zM1776.8 140.1h2.9v14.5h-2.9zM1831.6 140.1h2.9v14.5h-2.9zM1265.5 154.6h2.9v14.5h-2.9zM1314.6 154.6h2.9v14.5h-2.9zM1329.1 154.6h2.9v14.5h-2.9zM1346.4 154.6h5.8v14.5h-5.8zM1372.4 154.6h2.9v14.5h-2.9zM1384.0 154.6h2.9v14.5h-2.9zM1410.0 154.6h2.9v14.5h-2.9zM1430.3 154.6h2.9v14.5h-2.9zM1465.0 154.6h2.9v14.5h-2.9zM1470.7 154.6h2.9v14.5h-2.9zM1716.2 154.6h2.9v14.5h-2.9zM1736.4 154.6h2.9v14.5h-2.9zM1285.7 169.0h2.9v14.5h-2.9zM1291.5 169.0h5.8v14.5h-5.8zM1349.3 169.0h2.9v14.5h-2.9zM1375.3 169.0h2.9v14.5h-2.9zM1418.7 169.0h2.9v14.5h-2.9zM1436.0 169.0h2.9v14.5h-2.9zM1444.7 169.0h2.9v14.5h-2.9zM1470.7 169.0h2.9v14.5h-2.9zM1476.5 169.0h2.9v14.5h-2.9zM1491.0 169.0h2.9v14.5h-2.9zM1519.9 169.0h2.9v14.5h-2.9zM1638.2 169.0h5.8v14.5h-5.8zM1649.8 169.0h2.9v14.5h-2.9zM1834.5 169.0h2.9v14.5h-2.9zM1349.3 183.5h2.9v14.5h-2.9zM1360.9 183.5h2.9v14.5h-2.9zM1395.6 183.5h5.8v14.5h-5.8zM1407.1 183.5h2.9v14.5h-2.9zM1282.8 197.9h2.9v14.5h-2.9zM1329.1 197.9h2.9v14.5h-2.9zM1334.9 197.9h2.9v14.5h-2.9zM1340.6 197.9h2.9v14.5h-2.9zM1415.8 197.9h5.8v14.5h-5.8zM1430.3 197.9h2.9v14.5h-2.9zM1438.9 197.9h2.9v14.5h-2.9zM1560.4 197.9h2.9v14.5h-2.9zM1652.7 197.9h2.9v14.5h-2.9zM1667.1 197.9h5.8v14.5h-5.8zM1727.7 197.9h2.9v14.5h-2.9zM1762.3 197.9h2.9v14.5h-2.9zM1782.5 197.9h2.9v14.5h-2.9zM1326.2 212.4h2.9v14.5h-2.9zM1346.4 212.4h2.9v14.5h-2.9zM1352.2 212.4h2.9v14.5h-2.9zM1418.7 212.4h5.8v14.5h-5.8zM1436.0 212.4h5.8v14.5h-5.8zM1456.3 212.4h5.8v14.5h-5.8zM1473.6 212.4h2.9v14.5h-2.9zM1491.0 212.4h2.9v14.5h-2.9zM1508.3 212.4h2.9v14.5h-2.9zM1540.1 212.4h2.9v14.5h-2.9zM1569.0 212.4h2.9v14.5h-2.9zM1733.5 212.4h2.9v14.5h-2.9zM1756.6 212.4h2.9v14.5h-2.9zM1277.0 226.9h2.9v14.5h-2.9zM1288.6 226.9h5.8v14.5h-5.8zM1320.4 226.9h2.9v14.5h-2.9zM1329.1 226.9h2.9v14.5h-2.9zM1334.9 226.9h2.9v14.5h-2.9zM1352.2 226.9h2.9v14.5h-2.9zM1375.3 226.9h2.9v14.5h-2.9zM1381.1 226.9h2.9v14.5h-2.9zM1407.1 226.9h2.9v14.5h-2.9zM1424.5 226.9h2.9v14.5h-2.9zM1450.5 226.9h2.9v14.5h-2.9zM1528.6 226.9h2.9v14.5h-2.9zM1540.1 226.9h2.9v14.5h-2.9zM1707.5 226.9h2.9v14.5h-2.9zM1837.4 226.9h2.9v14.5h-2.9zM1317.5 241.3h2.9v14.5h-2.9zM1389.8 241.3h2.9v14.5h-2.9zM1395.6 241.3h2.9v14.5h-2.9zM1436.0 241.3h2.9v14.5h-2.9zM1456.3 241.3h2.9v14.5h-2.9zM1462.1 241.3h2.9v14.5h-2.9zM1485.2 241.3h2.9v14.5h-2.9zM1491.0 241.3h2.9v14.5h-2.9zM1288.6 255.8h2.9v14.5h-2.9zM1297.3 255.8h2.9v14.5h-2.9zM1363.8 255.8h2.9v14.5h-2.9zM1479.4 255.8h2.9v14.5h-2.9zM1519.9 255.8h2.9v14.5h-2.9zM1253.9 270.2h2.9v14.5h-2.9zM1265.5 270.2h2.9v14.5h-2.9zM1294.4 270.2h2.9v14.5h-2.9zM1332.0 270.2h2.9v14.5h-2.9zM1352.2 270.2h2.9v14.5h-2.9zM1389.8 270.2h5.8v14.5h-5.8zM1407.1 270.2h2.9v14.5h-2.9zM1421.6 270.2h2.9v14.5h-2.9zM1436.0 270.2h2.9v14.5h-2.9zM1476.5 270.2h2.9v14.5h-2.9zM1577.7 270.2h2.9v14.5h-2.9zM1771.0 270.2h2.9v14.5h-2.9zM1843.1 270.2h2.9v14.5h-2.9zM1253.9 284.7h2.9v14.5h-2.9zM1259.7 284.7h2.9v14.5h-2.9zM1291.5 284.7h2.9v14.5h-2.9zM1317.5 284.7h2.9v14.5h-2.9zM1323.3 284.7h8.7v14.5h-8.7zM1375.3 284.7h8.7v14.5h-8.7zM1407.1 284.7h2.9v14.5h-2.9zM1262.6 299.1h2.9v14.5h-2.9zM1271.2 299.1h2.9v14.5h-2.9zM1285.7 299.1h2.9v14.5h-2.9zM1303.0 299.1h2.9v14.5h-2.9zM1404.2 299.1h2.9v14.5h-2.9zM1450.5 299.1h2.9v14.5h-2.9zM1465.0 299.1h2.9v14.5h-2.9zM1522.8 299.1h2.9v14.5h-2.9zM1615.2 299.1h2.9v14.5h-2.9zM1655.6 299.1h2.9v14.5h-2.9zM1805.6 299.1h2.9v14.5h-2.9zM1294.4 313.6h2.9v14.5h-2.9zM1407.1 313.6h2.9v14.5h-2.9zM1412.9 313.6h2.9v14.5h-2.9zM1456.3 313.6h2.9v14.5h-2.9zM1470.7 313.6h2.9v14.5h-2.9zM1502.5 313.6h5.8v14.5h-5.8zM1522.8 313.6h2.9v14.5h-2.9zM1540.1 313.6h2.9v14.5h-2.9zM1569.0 313.6h2.9v14.5h-2.9zM1574.8 313.6h5.8v14.5h-5.8zM1661.3 313.6h2.9v14.5h-2.9zM1256.8 328.0h2.9v14.5h-2.9zM1265.5 328.0h2.9v14.5h-2.9zM1279.9 328.0h2.9v14.5h-2.9zM1415.8 328.0h5.8v14.5h-5.8zM1548.8 328.0h2.9v14.5h-2.9zM1508.3 347.9h2.9v14.4h-2.9zM1592.1 347.9h2.9v14.4h-2.9zM1600.7 347.9h2.9v14.4h-2.9zM1667.1 347.9h11.5v14.4h-11.5zM1684.4 347.9h2.9v14.4h-2.9zM1721.9 347.9h2.9v14.4h-2.9zM1745.0 347.9h2.9v14.4h-2.9zM1750.8 347.9h2.9v14.4h-2.9zM1785.4 347.9h2.9v14.4h-2.9zM1820.0 347.9h2.9v14.4h-2.9zM1834.5 347.9h2.9v14.4h-2.9zM1592.1 362.3h2.9v14.4h-2.9zM1675.8 362.3h2.9v14.4h-2.9zM1730.6 362.3h2.9v14.4h-2.9zM1756.6 362.3h2.9v14.4h-2.9zM1779.6 362.3h2.9v14.4h-2.9zM1805.6 362.3h2.9v14.4h-2.9zM1828.7 362.3h2.9v14.4h-2.9zM1592.1 376.7h2.9v14.4h-2.9zM1612.3 376.7h2.9v14.4h-2.9zM1629.6 376.7h2.9v14.4h-2.9zM1652.7 376.7h2.9v14.4h-2.9zM1658.4 376.7h2.9v14.4h-2.9zM1687.3 376.7h2.9v14.4h-2.9zM1698.8 376.7h5.8v14.4h-5.8zM1707.5 376.7h2.9v14.4h-2.9zM1719.0 376.7h2.9v14.4h-2.9zM1730.6 376.7h2.9v14.4h-2.9zM1756.6 376.7h2.9v14.4h-2.9zM1785.4 376.7h2.9v14.4h-2.9zM1799.8 376.7h2.9v14.4h-2.9zM1820.0 376.7h5.8v14.4h-5.8zM1834.5 376.7h2.9v14.4h-2.9zM1840.2 376.7h2.9v14.4h-2.9zM1846.0 376.7h2.9v14.4h-2.9zM1508.3 391.1h2.9v14.4h-2.9zM1600.7 391.1h2.9v14.4h-2.9zM1632.5 391.1h2.9v14.4h-2.9zM1771.0 391.1h2.9v14.4h-2.9zM1776.8 391.1h2.9v14.4h-2.9zM1799.8 391.1h2.9v14.4h-2.9zM1811.4 391.1h2.9v14.4h-2.9zM1825.8 391.1h2.9v14.4h-2.9zM1831.6 391.1h2.9v14.4h-2.9zM1517.0 405.4h2.9v14.4h-2.9zM1597.8 405.4h2.9v14.4h-2.9zM1620.9 405.4h2.9v14.4h-2.9zM1670.0 405.4h2.9v14.4h-2.9zM1704.6 405.4h2.9v14.4h-2.9zM1776.8 405.4h2.9v14.4h-2.9zM1782.5 405.4h2.9v14.4h-2.9zM1820.0 405.4h5.8v14.4h-5.8zM1534.3 419.8h5.8v14.4h-5.8zM1597.8 419.8h2.9v14.4h-2.9zM1641.1 419.8h2.9v14.4h-2.9zM1646.9 419.8h2.9v14.4h-2.9zM1655.6 419.8h2.9v14.4h-2.9zM1675.8 419.8h2.9v14.4h-2.9zM1684.4 419.8h2.9v14.4h-2.9zM1704.6 419.8h2.9v14.4h-2.9zM1745.0 419.8h2.9v14.4h-2.9zM1776.8 419.8h2.9v14.4h-2.9zM1825.8 419.8h5.8v14.4h-5.8zM1537.2 434.2h2.9v14.4h-2.9zM1641.1 434.2h2.9v14.4h-2.9zM1687.3 434.2h2.9v14.4h-2.9zM1698.8 434.2h2.9v14.4h-2.9zM1707.5 434.2h2.9v14.4h-2.9zM1745.0 434.2h2.9v14.4h-2.9zM1753.7 434.2h2.9v14.4h-2.9zM1776.8 434.2h5.8v14.4h-5.8zM1438.9 448.6h2.9v14.4h-2.9zM1450.5 448.6h2.9v14.4h-2.9zM1499.6 448.6h2.9v14.4h-2.9zM1525.7 448.6h2.9v14.4h-2.9zM1620.9 448.6h2.9v14.4h-2.9zM1646.9 448.6h2.9v14.4h-2.9zM1658.4 448.6h2.9v14.4h-2.9zM1667.1 448.6h2.9v14.4h-2.9zM1704.6 448.6h5.8v14.4h-5.8zM1719.0 448.6h2.9v14.4h-2.9zM1727.7 448.6h2.9v14.4h-2.9zM1837.4 448.6h2.9v14.4h-2.9zM1441.8 463.0h2.9v14.4h-2.9zM1667.1 463.0h2.9v14.4h-2.9zM1675.8 463.0h2.9v14.4h-2.9zM1684.4 463.0h8.7v14.4h-8.7zM1707.5 463.0h2.9v14.4h-2.9zM1771.0 463.0h2.9v14.4h-2.9zM1811.4 463.0h2.9v14.4h-2.9zM1840.2 463.0h2.9v14.4h-2.9zM1646.9 477.4h2.9v14.4h-2.9zM1675.8 477.4h2.9v14.4h-2.9zM1704.6 477.4h2.9v14.4h-2.9zM1811.4 477.4h2.9v14.4h-2.9zM1846.0 477.4h2.9v14.4h-2.9zM1595.0 491.8h2.9v14.4h-2.9zM1684.4 491.8h2.9v14.4h-2.9zM1690.2 491.8h2.9v14.4h-2.9zM1773.9 491.8h2.9v14.4h-2.9zM1797.0 491.8h5.8v14.4h-5.8zM1828.7 491.8h2.9v14.4h-2.9zM1837.4 491.8h5.8v14.4h-5.8zM1534.3 506.2h2.9v14.4h-2.9zM1597.8 506.2h2.9v14.4h-2.9zM1620.9 506.2h2.9v14.4h-2.9zM1632.5 506.2h2.9v14.4h-2.9zM1661.3 506.2h2.9v14.4h-2.9zM1675.8 506.2h2.9v14.4h-2.9zM1745.0 506.2h2.9v14.4h-2.9zM1771.0 506.2h2.9v14.4h-2.9zM1831.6 506.2h2.9v14.4h-2.9zM1436.0 520.5h2.9v14.4h-2.9zM1450.5 520.5h2.9v14.4h-2.9zM1646.9 520.5h2.9v14.4h-2.9zM1684.4 520.5h2.9v14.4h-2.9zM1745.0 520.5h2.9v14.4h-2.9zM1782.5 520.5h2.9v14.4h-2.9zM1802.7 520.5h2.9v14.4h-2.9zM1438.9 534.9h2.9v14.4h-2.9zM1534.3 534.9h2.9v14.4h-2.9zM1626.7 534.9h2.9v14.4h-2.9zM1690.2 534.9h2.9v14.4h-2.9zM1730.6 534.9h2.9v14.4h-2.9zM1788.3 534.9h2.9v14.4h-2.9zM1822.9 534.9h2.9v14.4h-2.9zM1436.0 549.3h2.9v14.4h-2.9zM1537.2 549.3h2.9v14.4h-2.9zM1600.7 549.3h2.9v14.4h-2.9zM1707.5 549.3h2.9v14.4h-2.9z"/>
<path fill="#fc5252" d="M1294.4 56.5h8.7v14.3h-8.7zM1329.1 56.5h11.6v14.3h-11.6zM1346.4 56.5h2.9v14.3h-2.9zM1372.4 56.5h2.9v14.3h-2.9zM1378.2 56.5h8.7v14.3h-8.7zM1401.3 56.5h2.9v14.3h-2.9zM1566.1 56.5h2.9v14.3h-2.9zM1641.1 56.5h2.9v14.3h-2.9zM1684.4 56.5h5.8v14.3h-5.8zM1696.0 56.5h2.9v14.3h-2.9zM1721.9 56.5h2.9v14.3h-2.9zM1742.1 56.5h2.9v14.3h-2.9zM1773.9 56.5h2.9v14.3h-2.9zM1779.6 56.5h2.9v14.3h-2.9zM1811.4 56.5h2.9v14.3h-2.9zM1271.2 70.8h2.9v14.4h-2.9zM1300.2 70.8h2.9v14.4h-2.9zM1311.7 70.8h2.9v14.4h-2.9zM1349.3 70.8h2.9v14.4h-2.9zM1363.8 70.8h2.9v14.4h-2.9zM1401.3 70.8h2.9v14.4h-2.9zM1453.4 70.8h2.9v14.4h-2.9zM1479.4 70.8h2.9v14.4h-2.9zM1519.9 70.8h5.8v14.4h-5.8zM1592.1 70.8h5.8v14.4h-5.8zM1623.8 70.8h2.9v14.4h-2.9zM1629.6 70.8h2.9v14.4h-2.9zM1664.2 70.8h5.8v14.4h-5.8zM1730.6 70.8h2.9v14.4h-2.9zM1756.6 70.8h2.9v14.4h-2.9zM1771.0 70.8h2.9v14.4h-2.9zM1791.2 70.8h2.9v14.4h-2.9zM1805.6 70.8h5.8v14.4h-5.8zM1820.0 70.8h2.9v14.4h-2.9zM1828.7 70.8h2.9v14.4h-2.9zM1840.2 70.8h2.9v14.4h-2.9zM1259.7 111.2h2.9v14.5h-2.9zM1265.5 111.2h2.9v14.5h-2.9zM1271.2 111.2h2.9v14.5h-2.9zM1277.0 111.2h2.9v14.5h-2.9zM1300.2 111.2h2.9v14.5h-2.9zM1311.7 111.2h2.9v14.5h-2.9zM1346.4 111.2h2.9v14.5h-2.9zM1358.0 111.2h5.8v14.5h-5.8zM1375.3 111.2h2.9v14.5h-2.9zM1395.6 111.2h2.9v14.5h-2.9zM1401.3 111.2h5.8v14.5h-5.8zM1424.5 111.2h2.9v14.5h-2.9zM1430.3 111.2h2.9v14.5h-2.9zM1438.9 111.2h2.9v14.5h-2.9zM1444.7 111.2h2.9v14.5h-2.9zM1488.1 111.2h2.9v14.5h-2.9zM1525.7 111.2h5.8v14.5h-5.8zM1554.6 111.2h2.9v14.5h-2.9zM1560.4 111.2h2.9v14.5h-2.9zM1566.1 111.2h2.9v14.5h-2.9zM1595.0 111.2h2.9v14.5h-2.9zM1632.5 111.2h2.9v14.5h-2.9zM1652.7 111.2h2.9v14.5h-2.9zM1661.3 111.2h2.9v14.5h-2.9zM1696.0 111.2h2.9v14.5h-2.9zM1710.4 111.2h2.9v14.5h-2.9zM1750.8 111.2h2.9v14.5h-2.9zM1759.4 111.2h2.9v14.5h-2.9zM1837.4 111.2h2.9v14.5h-2.9zM1253.9 125.7h2.9v14.5h-2.9zM1282.8 125.7h2.9v14.5h-2.9zM1294.4 125.7h2.9v14.5h-2.9zM1300.2 125.7h2.9v14.5h-2.9zM1305.9 125.7h2.9v14.5h-2.9zM1320.4 125.7h2.9v14.5h-2.9zM1337.7 125.7h5.8v14.5h-5.8zM1372.4 125.7h2.9v14.5h-2.9zM1398.5 125.7h2.9v14.5h-2.9zM1407.1 125.7h11.6v14.5h-11.6zM1436.0 125.7h2.9v14.5h-2.9zM1447.6 125.7h2.9v14.5h-2.9zM1465.0 125.7h5.8v14.5h-5.8zM1476.5 125.7h2.9v14.5h-2.9zM1496.8 125.7h2.9v14.5h-2.9zM1514.1 125.7h2.9v14.5h-2.9zM1534.3 125.7h2.9v14.5h-2.9zM1540.1 125.7h5.8v14.5h-5.8zM1592.1 125.7h2.9v14.5h-2.9zM1606.5 125.7h2.9v14.5h-2.9zM1644.0 125.7h2.9v14.5h-2.9zM1652.7 125.7h2.9v14.5h-2.9zM1797.0 125.7h2.9v14.5h-2.9zM1817.2 125.7h2.9v14.5h-2.9zM1274.1 140.1h2.9v14.5h-2.9zM1329.1 140.1h8.7v14.5h-8.7zM1352.2 140.1h2.9v14.5h-2.9zM1360.9 140.1h5.8v14.5h-5.8zM1386.9 140.1h5.8v14.5h-5.8zM1401.3 140.1h2.9v14.5h-2.9zM1412.9 140.1h2.9v14.5h-2.9zM1427.4 140.1h2.9v14.5h-2.9zM1450.5 140.1h2.9v14.5h-2.9zM1459.2 140.1h11.6v14.5h-11.6zM1496.8 140.1h2.9v14.5h-2.9zM1517.0 140.1h5.8v14.5h-5.8zM1528.6 140.1h2.9v14.5h-2.9zM1534.3 140.1h5.8v14.5h-5.8zM1571.9 140.1h2.9v14.5h-2.9zM1577.7 140.1h2.9v14.5h-2.9zM1701.7 140.1h2.9v14.5h-2.9zM1716.2 140.1h2.9v14.5h-2.9zM1794.1 140.1h2.9v14.5h-2.9zM1253.9 154.6h2.9v14.5h-2.9zM1279.9 154.6h2.9v14.5h-2.9zM1285.7 154.6h2.9v14.5h-2.9zM1291.5 154.6h2.9v14.5h-2.9zM1297.3 154.6h2.9v14.5h-2.9zM1311.7 154.6h2.9v14.5h-2.9zM1317.5 154.6h5.8v14.5h-5.8zM1355.1 154.6h2.9v14.5h-2.9zM1395.6 154.6h2.9v14.5h-2.9zM1441.8 154.6h2.9v14.5h-2.9zM1467.8 154.6h2.9v14.5h-2.9zM1491.0 154.6h2.9v14.5h-2.9zM1609.4 154.6h2.9v14.5h-2.9zM1825.8 154.6h2.9v14.5h-2.9zM1268.4 169.0h2.9v14.5h-2.9zM1297.3 169.0h2.9v14.5h-2.9zM1326.2 169.0h2.9v14.5h-2.9zM1343.5 169.0h2.9v14.5h-2.9zM1355.1 169.0h2.9v14.5h-2.9zM1372.4 169.0h2.9v14.5h-2.9zM1407.1 169.0h2.9v14.5h-2.9zM1427.4 169.0h2.9v14.5h-2.9zM1488.1 169.0h2.9v14.5h-2.9zM1522.8 169.0h2.9v14.5h-2.9zM1551.7 169.0h2.9v14.5h-2.9zM1563.3 169.0h2.9v14.5h-2.9zM1618.0 169.0h2.9v14.5h-2.9zM1629.6 169.0h2.9v14.5h-2.9zM1696.0 169.0h2.9v14.5h-2.9zM1716.2 169.0h2.9v14.5h-2.9zM1742.1 169.0h2.9v14.5h-2.9zM1759.4 169.0h2.9v14.5h-2.9zM1788.3 169.0h2.9v14.5h-2.9zM1265.5 183.5h2.9v14.5h-2.9zM1285.7 183.5h2.9v14.5h-2.9zM1314.6 183.5h2.9v14.5h-2.9zM1332.0 183.5h2.9v14.5h-2.9zM1366.7 183.5h8.7v14.5h-8.7zM1384.0 183.5h2.9v14.5h-2.9zM1415.8 183.5h2.9v14.5h-2.9zM1557.5 183.5h2.9v14.5h-2.9zM1256.8 197.9h2.9v14.5h-2.9zM1271.2 197.9h2.9v14.5h-2.9zM1337.7 197.9h2.9v14.5h-2.9zM1343.5 197.9h2.9v14.5h-2.9zM1358.0 197.9h2.9v14.5h-2.9zM1407.1 197.9h2.9v14.5h-2.9zM1412.9 197.9h2.9v14.5h-2.9zM1421.6 197.9h2.9v14.5h-2.9zM1482.3 197.9h2.9v14.5h-2.9zM1508.3 197.9h5.8v14.5h-5.8zM1528.6 197.9h2.9v14.5h-2.9zM1537.2 197.9h2.9v14.5h-2.9zM1569.0 197.9h2.9v14.5h-2.9zM1595.0 197.9h2.9v14.5h-2.9zM1681.5 197.9h2.9v14.5h-2.9zM1701.7 197.9h2.9v14.5h-2.9zM1779.6 197.9h2.9v14.5h-2.9zM1825.8 197.9h2.9v14.5h-2.9zM1274.1 212.4h2.9v14.5h-2.9zM1279.9 212.4h8.7v14.5h-8.7zM1305.9 212.4h2.9v14.5h-2.9zM1317.5 212.4h2.9v14.5h-2.9zM1334.9 212.4h2.9v14.5h-2.9zM1343.5 212.4h2.9v14.5h-2.9zM1355.1 212.4h2.9v14.5h-2.9zM1366.7 212.4h2.9v14.5h-2.9zM1381.1 212.4h2.9v14.5h-2.9zM1386.9 212.4h5.8v14.5h-5.8zM1412.9 212.4h2.9v14.5h-2.9zM1427.4 212.4h8.7v14.5h-8.7zM1447.6 212.4h5.8v14.5h-5.8zM1467.8 212.4h5.8v14.5h-5.8zM1476.5 212.4h2.9v14.5h-2.9zM1485.2 212.4h2.9v14.5h-2.9zM1522.8 212.4h5.8v14.5h-5.8zM1531.5 212.4h2.9v14.5h-2.9zM1545.9 212.4h5.8v14.5h-5.8zM1563.3 212.4h2.9v14.5h-2.9zM1574.8 212.4h5.8v14.5h-5.8zM1326.2 226.9h2.9v14.5h-2.9zM1337.7 226.9h2.9v14.5h-2.9zM1349.3 226.9h2.9v14.5h-2.9zM1355.1 226.9h2.9v14.5h-2.9zM1395.6 226.9h2.9v14.5h-2.9zM1401.3 226.9h2.9v14.5h-2.9zM1410.0 226.9h2.9v14.5h-2.9zM1491.0 226.9h2.9v14.5h-2.9zM1508.3 226.9h2.9v14.5h-2.9zM1534.3 226.9h5.8v14.5h-5.8zM1548.8 226.9h5.8v14.5h-5.8zM1265.5 241.3h2.9v14.5h-2.9zM1271.2 241.3h2.9v14.5h-2.9zM1349.3 241.3h2.9v14.5h-2.9zM1355.1 241.3h2.9v14.5h-2.9zM1459.2 241.3h2.9v14.5h-2.9zM1551.7 241.3h2.9v14.5h-2.9zM1563.3 241.3h2.9v14.5h-2.9zM1279.9 255.8h2.9v14.5h-2.9zM1300.2 255.8h2.9v14.5h-2.9zM1308.8 255.8h8.7v14.5h-8.7zM1340.6 255.8h2.9v14.5h-2.9zM1346.4 255.8h2.9v14.5h-2.9zM1358.0 255.8h2.9v14.5h-2.9zM1415.8 255.8h2.9v14.5h-2.9zM1531.5 255.8h2.9v14.5h-2.9zM1543.0 255.8h2.9v14.5h-2.9zM1791.2 255.8h2.9v14.5h-2.9zM1834.5 255.8h2.9v14.5h-2.9zM1256.8 270.2h2.9v14.5h-2.9zM1262.6 270.2h2.9v14.5h-2.9zM1314.6 270.2h2.9v14.5h-2.9zM1323.3 270.2h2.9v14.5h-2.9zM1334.9 270.2h2.9v14.5h-2.9zM1363.8 270.2h2.9v14.5h-2.9zM1369.5 270.2h2.9v14.5h-2.9zM1378.2 270.2h2.9v14.5h-2.9zM1398.5 270.2h2.9v14.5h-2.9zM1404.2 270.2h2.9v14.5h-2.9zM1606.5 270.2h2.9v14.5h-2.9zM1698.8 270.2h2.9v14.5h-2.9zM1840.2 270.2h2.9v14.5h-2.9zM1279.9 284.7h5.8v14.5h-5.8zM1332.0 284.7h2.9v14.5h-2.9zM1366.7 284.7h2.9v14.5h-2.9zM1384.0 284.7h2.9v14.5h-2.9zM1274.1 299.1h2.9v14.5h-2.9zM1288.6 299.1h5.8v14.5h-5.8zM1320.4 299.1h2.9v14.5h-2.9zM1340.6 299.1h2.9v14.5h-2.9zM1363.8 299.1h2.9v14.5h-2.9zM1378.2 299.1h5.8v14.5h-5.8zM1421.6 299.1h2.9v14.5h-2.9zM1441.8 299.1h2.9v14.5h-2.9zM1453.4 299.1h2.9v14.5h-2.9zM1543.0 299.1h2.9v14.5h-2.9zM1560.4 299.1h2.9v14.5h-2.9zM1569.0 299.1h2.9v14.5h-2.9zM1577.7 299.1h2.9v14.5h-2.9zM1667.1 299.1h2.9v14.5h-2.9zM1719.0 299.1h2.9v14.5h-2.9zM1745.0 299.1h2.9v14.5h-2.9zM1381.1 313.6h2.9v14.5h-2.9zM1545.9 313.6h2.9v14.5h-2.9zM1644.0 313.6h2.9v14.5h-2.9zM1664.2 313.6h2.9v14.5h-2.9zM1672.9 313.6h2.9v14.5h-2.9zM1678.6 313.6h2.9v14.5h-2.9zM1693.1 313.6h2.9v14.5h-2.9zM1724.8 313.6h2.9v14.5h-2.9zM1828.7 313.6h2.9v14.5h-2.9zM1837.4 313.6h2.9v14.5h-2.9zM1268.4 328.0h2.9v14.5h-2.9zM1285.7 328.0h2.9v14.5h-2.9zM1297.3 328.0h2.9v14.5h-2.9zM1311.7 328.0h2.9v14.5h-2.9zM1349.3 328.0h2.9v14.5h-2.9zM1395.6 328.0h2.9v14.5h-2.9zM1401.3 328.0h2.9v14.5h-2.9zM1473.6 328.0h2.9v14.5h-2.9zM1482.3 328.0h5.8v14.5h-5.8zM1534.3 347.9h2.9v14.4h-2.9zM1595.0 347.9h2.9v14.4h-2.9zM1612.3 347.9h2.9v14.4h-2.9zM1698.8 347.9h2.9v14.4h-2.9zM1753.7 347.9h2.9v14.4h-2.9zM1802.7 347.9h2.9v14.4h-2.9zM1822.9 347.9h2.9v14.4h-2.9zM1828.7 347.9h5.8v14.4h-5.8zM1846.0 347.9h2.9v14.4h-2.9zM1589.2 362.3h2.9v14.4h-2.9zM1626.7 362.3h5.8v14.4h-5.8zM1670.0 362.3h5.8v14.4h-5.8zM1684.4 362.3h2.9v14.4h-2.9zM1750.8 362.3h2.9v14.4h-2.9zM1822.9 362.3h2.9v14.4h-2.9zM1840.2 362.3h2.9v14.4h-2.9zM1517.0 376.7h2.9v14.4h-2.9zM1595.0 376.7h2.9v14.4h-2.9zM1600.7 376.7h2.9v14.4h-2.9zM1641.1 376.7h2.9v14.4h-2.9zM1649.8 376.7h2.9v14.4h-2.9zM1667.1 376.7h5.8v14.4h-5.8zM1675.8 376.7h2.9v14.4h-2.9zM1721.9 376.7h2.9v14.4h-2.9zM1771.0 376.7h2.9v14.4h-2.9zM1586.3 391.1h2.9v14.4h-2.9zM1592.1 391.1h2.9v14.4h-2.9zM1690.2 391.1h2.9v14.4h-2.9zM1750.8 391.1h2.9v14.4h-2.9zM1788.3 391.1h2.9v14.4h-2.9zM1843.1 391.1h2.9v14.4h-2.9zM1589.2 405.4h2.9v14.4h-2.9zM1612.3 405.4h2.9v14.4h-2.9zM1629.6 405.4h2.9v14.4h-2.9zM1667.1 405.4h2.9v14.4h-2.9zM1672.9 405.4h2.9v14.4h-2.9zM1785.4 405.4h2.9v14.4h-2.9zM1811.4 405.4h2.9v14.4h-2.9zM1843.1 405.4h2.9v14.4h-2.9zM1586.3 419.8h2.9v14.4h-2.9zM1629.6 419.8h2.9v14.4h-2.9zM1698.8 419.8h2.9v14.4h-2.9zM1724.8 419.8h2.9v14.4h-2.9zM1773.9 419.8h2.9v14.4h-2.9zM1820.0 419.8h2.9v14.4h-2.9zM1534.3 434.2h2.9v14.4h-2.9zM1595.0 434.2h2.9v14.4h-2.9zM1690.2 434.2h2.9v14.4h-2.9zM1701.7 434.2h5.8v14.4h-5.8zM1802.7 434.2h2.9v14.4h-2.9zM1837.4 434.2h5.8v14.4h-5.8zM1441.8 448.6h2.9v14.4h-2.9zM1505.4 448.6h2.9v14.4h-2.9zM1517.0 448.6h2.9v14.4h-2.9zM1586.3 448.6h5.8v14.4h-5.8zM1684.4 448.6h2.9v14.4h-2.9zM1724.8 448.6h2.9v14.4h-2.9zM1771.0 448.6h2.9v14.4h-2.9zM1782.5 448.6h2.9v14.4h-2.9zM1799.8 448.6h2.9v14.4h-2.9zM1811.4 448.6h2.9v14.4h-2.9zM1834.5 448.6h2.9v14.4h-2.9zM1840.2 448.6h8.7v14.4h-8.7zM1436.0 463.0h2.9v14.4h-2.9zM1502.5 463.0h2.9v14.4h-2.9zM1589.2 463.0h2.9v14.4h-2.9zM1597.8 463.0h2.9v14.4h-2.9zM1698.8 463.0h2.9v14.4h-2.9zM1756.6 463.0h2.9v14.4h-2.9zM1779.6 463.0h2.9v14.4h-2.9zM1805.6 463.0h2.9v14.4h-2.9zM1820.0 463.0h5.8v14.4h-5.8zM1843.1 463.0h2.9v14.4h-2.9zM1534.3 477.4h2.9v14.4h-2.9zM1595.0 477.4h2.9v14.4h-2.9zM1626.7 477.4h2.9v14.4h-2.9zM1658.4 477.4h2.9v14.4h-2.9zM1776.8 477.4h2.9v14.4h-2.9zM1822.9 477.4h2.9v14.4h-2.9zM1843.1 477.4h2.9v14.4h-2.9zM1646.9 491.8h2.9v14.4h-2.9zM1687.3 491.8h2.9v14.4h-2.9zM1719.0 491.8h2.9v14.4h-2.9zM1750.8 491.8h2.9v14.4h-2.9zM1802.7 491.8h5.8v14.4h-5.8zM1436.0 506.2h5.8v14.4h-5.8zM1517.0 506.2h2.9v14.4h-2.9zM1612.3 506.2h2.9v14.4h-2.9zM1704.6 506.2h2.9v14.4h-2.9zM1773.9 506.2h2.9v14.4h-2.9zM1782.5 506.2h2.9v14.4h-2.9zM1805.6 506.2h2.9v14.4h-2.9zM1649.8 520.5h2.9v14.4h-2.9zM1670.0 520.5h5.8v14.4h-5.8zM1701.7 520.5h5.8v14.4h-5.8zM1753.7 520.5h2.9v14.4h-2.9zM1785.4 520.5h2.9v14.4h-2.9zM1831.6 520.5h2.9v14.4h-2.9zM1846.0 520.5h2.9v14.4h-2.9zM1517.0 534.9h2.9v14.4h-2.9zM1537.2 534.9h2.9v14.4h-2.9zM1600.7 534.9h2.9v14.4h-2.9zM1632.5 534.9h2.9v14.4h-2.9zM1655.6 534.9h2.9v14.4h-2.9zM1661.3 534.9h2.9v14.4h-2.9zM1670.0 534.9h5.8v14.4h-5.8zM1684.4 534.9h5.8v14.4h-5.8zM1701.7 534.9h2.9v14.4h-2.9zM1721.9 534.9h2.9v14.4h-2.9zM1773.9 534.9h2.9v14.4h-2.9zM1811.4 534.9h2.9v14.4h-2.9zM1828.7 534.9h2.9v14.4h-2.9zM1846.0 534.9h2.9v14.4h-2.9zM1586.3 549.3h2.9v14.4h-2.9zM1658.4 549.3h2.9v14.4h-2.9zM1704.6 549.3h2.9v14.4h-2.9z"/>
<path fill="#fc3d3d" d="M1265.5 56.5h2.9v14.3h-2.9zM1291.5 56.5h2.9v14.3h-2.9zM1320.4 56.5h2.9v14.3h-2.9zM1456.3 56.5h2.9v14.3h-2.9zM1586.3 56.5h2.9v14.3h-2.9zM1603.6 56.5h2.9v14.3h-2.9zM1620.9 56.5h2.9v14.3h-2.9zM1644.0 56.5h5.8v14.3h-5.8zM1675.8 56.5h2.9v14.3h-2.9zM1765.2 56.5h2.9v14.3h-2.9zM1794.1 56.5h2.9v14.3h-2.9zM1799.8 56.5h2.9v14.3h-2.9zM1837.4 56.5h2.9v14.3h-2.9zM1262.6 70.8h2.9v14.4h-2.9zM1404.2 70.8h2.9v14.4h-2.9zM1606.5 70.8h2.9v14.4h-2.9zM1632.5 70.8h2.9v14.4h-2.9zM1687.3 70.8h2.9v14.4h-2.9zM1713.3 70.8h5.8v14.4h-5.8zM1797.0 70.8h2.9v14.4h-2.9zM1802.7 70.8h2.9v14.4h-2.9zM1814.3 70.8h2.9v14.4h-2.9zM1822.9 70.8h2.9v14.4h-2.9zM1268.4 111.2h2.9v14.5h-2.9zM1279.9 111.2h2.9v14.5h-2.9zM1297.3 111.2h2.9v14.5h-2.9zM1303.0 111.2h5.8v14.5h-5.8zM1323.3 111.2h2.9v14.5h-2.9zM1329.1 111.2h2.9v14.5h-2.9zM1369.5 111.2h2.9v14.5h-2.9zM1392.7 111.2h2.9v14.5h-2.9zM1433.2 111.2h2.9v14.5h-2.9zM1465.0 111.2h8.7v14.5h-8.7zM1476.5 111.2h2.9v14.5h-2.9zM1491.0 111.2h8.7v14.5h-8.7zM1502.5 111.2h2.9v14.5h-2.9zM1514.1 111.2h8.7v14.5h-8.7zM1537.2 111.2h2.9v14.5h-2.9zM1545.9 111.2h2.9v14.5h-2.9zM1574.8 111.2h2.9v14.5h-2.9zM1291.5 125.7h2.9v14.5h-2.9zM1303.0 125.7h2.9v14.5h-2.9zM1314.6 125.7h2.9v14.5h-2.9zM1323.3 125.7h2.9v14.5h-2.9zM1334.9 125.7h2.9v14.5h-2.9zM1343.5 125.7h2.9v14.5h-2.9zM1349.3 125.7h2.9v14.5h-2.9zM1424.5 125.7h2.9v14.5h-2.9zM1462.1 125.7h2.9v14.5h-2.9zM1470.7 125.7h5.8v14.5h-5.8zM1479.4 125.7h2.9v14.5h-2.9zM1491.0 125.7h2.9v14.5h-2.9zM1528.6 125.7h5.8v14.5h-5.8zM1545.9 125.7h2.9v14.5h-2.9zM1638.2 125.7h2.9v14.5h-2.9zM1649.8 125.7h2.9v14.5h-2.9zM1696.0 125.7h2.9v14.5h-2.9zM1771.0 125.7h2.9v14.5h-2.9zM1840.2 125.7h2.9v14.5h-2.9zM1259.7 140.1h2.9v14.5h-2.9zM1268.4 140.1h2.9v14.5h-2.9zM1297.3 140.1h2.9v14.5h-2.9zM1372.4 140.1h2.9v14.5h-2.9zM1398.5 140.1h2.9v14.5h-2.9zM1470.7 140.1h2.9v14.5h-2.9zM1615.2 140.1h5.8v14.5h-5.8zM1623.8 140.1h2.9v14.5h-2.9zM1641.1 140.1h2.9v14.5h-2.9zM1661.3 140.1h2.9v14.5h-2.9zM1687.3 140.1h2.9v14.5h-2.9zM1771.0 140.1h2.9v14.5h-2.9zM1779.6 140.1h2.9v14.5h-2.9zM1785.4 140.1h2.9v14.5h-2.9zM1791.2 140.1h2.9v14.5h-2.9zM1825.8 140.1h2.9v14.5h-2.9zM1256.8 154.6h2.9v14.5h-2.9zM1262.6 154.6h2.9v14.5h-2.9zM1282.8 154.6h2.9v14.5h-2.9zM1288.6 154.6h2.9v14.5h-2.9zM1294.4 154.6h2.9v14.5h-2.9zM1303.0 154.6h5.8v14.5h-5.8zM1323.3 154.6h2.9v14.5h-2.9zM1337.7 154.6h2.9v14.5h-2.9zM1343.5 154.6h2.9v14.5h-2.9zM1369.5 154.6h2.9v14.5h-2.9zM1378.2 154.6h5.8v14.5h-5.8zM1392.7 154.6h2.9v14.5h-2.9zM1412.9 154.6h2.9v14.5h-2.9zM1421.6 154.6h2.9v14.5h-2.9zM1433.2 154.6h8.7v14.5h-8.7zM1450.5 154.6h2.9v14.5h-2.9zM1456.3 154.6h2.9v14.5h-2.9zM1462.1 154.6h2.9v14.5h-2.9zM1253.9 169.0h2.9v14.5h-2.9zM1303.0 169.0h2.9v14.5h-2.9zM1323.3 169.0h2.9v14.5h-2.9zM1334.9 169.0h2.9v14.5h-2.9zM1340.6 169.0h2.9v14.5h-2.9zM1678.6 169.0h2.9v14.5h-2.9zM1747.9 169.0h2.9v14.5h-2.9zM1799.8 169.0h2.9v14.5h-2.9zM1831.6 169.0h2.9v14.5h-2.9zM1271.2 183.5h2.9v14.5h-2.9zM1288.6 183.5h2.9v14.5h-2.9zM1311.7 183.5h2.9v14.5h-2.9zM1323.3 183.5h2.9v14.5h-2.9zM1378.2 183.5h2.9v14.5h-2.9zM1401.3 183.5h2.9v14.5h-2.9zM1265.5 197.9h2.9v14.5h-2.9zM1424.5 197.9h5.8v14.5h-5.8zM1436.0 197.9h2.9v14.5h-2.9zM1491.0 197.9h2.9v14.5h-2.9zM1525.7 197.9h2.9v14.5h-2.9zM1543.0 197.9h5.8v14.5h-5.8zM1574.8 197.9h2.9v14.5h-2.9zM1253.9 212.4h2.9v14.5h-2.9zM1262.6 212.4h2.9v14.5h-2.9zM1271.2 212.4h2.9v14.5h-2.9zM1294.4 212.4h2.9v14.5h-2.9zM1300.2 212.4h5.8v14.5h-5.8zM1308.8 212.4h2.9v14.5h-2.9zM1329.1 212.4h2.9v14.5h-2.9zM1360.9 212.4h5.8v14.5h-5.8zM1372.4 212.4h2.9v14.5h-2.9zM1392.7 212.4h2.9v14.5h-2.9zM1410.0 212.4h2.9v14.5h-2.9zM1424.5 212.4h2.9v14.5h-2.9zM1453.4 212.4h2.9v14.5h-2.9zM1479.4 212.4h2.9v14.5h-2.9zM1493.9 212.4h2.9v14.5h-2.9zM1499.6 212.4h2.9v14.5h-2.9zM1514.1 212.4h8.7v14.5h-8.7zM1534.3 212.4h2.9v14.5h-2.9zM1543.0 212.4h2.9v14.5h-2.9zM1554.6 212.4h2.9v14.5h-2.9zM1282.8 226.9h5.8v14.5h-5.8zM1294.4 226.9h2.9v14.5h-2.9zM1314.6 226.9h2.9v14.5h-2.9zM1323.3 226.9h2.9v14.5h-2.9zM1358.0 226.9h2.9v14.5h-2.9zM1363.8 226.9h2.9v14.5h-2.9zM1392.7 226.9h2.9v14.5h-2.9zM1412.9 226.9h2.9v14.5h-2.9zM1418.7 226.9h2.9v14.5h-2.9zM1433.2 226.9h2.9v14.5h-2.9zM1470.7 226.9h2.9v14.5h-2.9zM1479.4 226.9h8.7v14.5h-8.7zM1511.2 226.9h2.9v14.5h-2.9zM1543.0 226.9h2.9v14.5h-2.9zM1554.6 226.9h2.9v14.5h-2.9zM1560.4 226.9h2.9v14.5h-2.9zM1259.7 241.3h2.9v14.5h-2.9zM1288.6 241.3h2.9v14.5h-2.9zM1343.5 241.3h2.9v14.5h-2.9zM1372.4 241.3h2.9v14.5h-2.9zM1384.0 241.3h2.9v14.5h-2.9zM1540.1 241.3h2.9v14.5h-2.9zM1268.4 255.8h5.8v14.5h-5.8zM1277.0 255.8h2.9v14.5h-2.9zM1291.5 255.8h2.9v14.5h-2.9zM1303.0 255.8h2.9v14.5h-2.9zM1375.3 255.8h2.9v14.5h-2.9zM1398.5 255.8h2.9v14.5h-2.9zM1291.5 270.2h2.9v14.5h-2.9zM1303.0 270.2h2.9v14.5h-2.9zM1375.3 270.2h2.9v14.5h-2.9zM1274.1 284.7h2.9v14.5h-2.9zM1297.3 284.7h2.9v14.5h-2.9zM1308.8 284.7h2.9v14.5h-2.9zM1349.3 284.7h2.9v14.5h-2.9zM1360.9 284.7h2.9v14.5h-2.9zM1253.9 299.1h2.9v14.5h-2.9zM1282.8 299.1h2.9v14.5h-2.9zM1294.4 299.1h2.9v14.5h-2.9zM1305.9 299.1h2.9v14.5h-2.9zM1332.0 299.1h2.9v14.5h-2.9zM1349.3 299.1h2.9v14.5h-2.9zM1366.7 299.1h2.9v14.5h-2.9zM1386.9 299.1h2.9v14.5h-2.9zM1638.2 299.1h2.9v14.5h-2.9zM1646.9 299.1h2.9v14.5h-2.9zM1716.2 299.1h2.9v14.5h-2.9zM1791.2 299.1h2.9v14.5h-2.9zM1840.2 299.1h2.9v14.5h-2.9zM1369.5 313.6h2.9v14.5h-2.9zM1404.2 313.6h2.9v14.5h-2.9zM1436.0 313.6h2.9v14.5h-2.9zM1467.8 313.6h2.9v14.5h-2.9zM1508.3 313.6h2.9v14.5h-2.9zM1531.5 313.6h2.9v14.5h-2.9zM1592.1 313.6h2.9v14.5h-2.9zM1597.8 313.6h2.9v14.5h-2.9zM1652.7 313.6h2.9v14.5h-2.9zM1684.4 313.6h2.9v14.5h-2.9zM1704.6 313.6h2.9v14.5h-2.9zM1736.4 313.6h5.8v14.5h-5.8zM1776.8 313.6h2.9v14.5h-2.9zM1802.7 313.6h2.9v14.5h-2.9zM1271.2 328.0h2.9v14.5h-2.9zM1300.2 328.0h2.9v14.5h-2.9zM1317.5 328.0h2.9v14.5h-2.9zM1407.1 328.0h2.9v14.5h-2.9zM1421.6 328.0h2.9v14.5h-2.9zM1465.0 328.0h2.9v14.5h-2.9zM1441.8 347.9h2.9v14.4h-2.9zM1502.5 347.9h5.8v14.4h-5.8zM1632.5 347.9h2.9v14.4h-2.9zM1646.9 347.9h2.9v14.4h-2.9zM1837.4 347.9h2.9v14.4h-2.9zM1537.2 362.3h2.9v14.4h-2.9zM1586.3 362.3h2.9v14.4h-2.9zM1632.5 362.3h2.9v14.4h-2.9zM1652.7 362.3h2.9v14.4h-2.9zM1661.3 362.3h2.9v14.4h-2.9zM1698.8 362.3h5.8v14.4h-5.8zM1773.9 362.3h2.9v14.4h-2.9zM1785.4 362.3h2.9v14.4h-2.9zM1802.7 362.3h2.9v14.4h-2.9zM1846.0 362.3h2.9v14.4h-2.9zM1508.3 376.7h2.9v14.4h-2.9zM1586.3 376.7h2.9v14.4h-2.9zM1779.6 376.7h2.9v14.4h-2.9zM1802.7 376.7h2.9v14.4h-2.9zM1828.7 376.7h2.9v14.4h-2.9zM1843.1 376.7h2.9v14.4h-2.9zM1517.0 391.1h2.9v14.4h-2.9zM1626.7 391.1h5.8v14.4h-5.8zM1641.1 391.1h2.9v14.4h-2.9zM1652.7 391.1h2.9v14.4h-2.9zM1675.8 391.1h2.9v14.4h-2.9zM1719.0 391.1h2.9v14.4h-2.9zM1797.0 391.1h2.9v14.4h-2.9zM1834.5 391.1h2.9v14.4h-2.9zM1534.3 405.4h5.8v14.4h-5.8zM1586.3 405.4h2.9v14.4h-2.9zM1595.0 405.4h2.9v14.4h-2.9zM1661.3 405.4h2.9v14.4h-2.9zM1675.8 405.4h2.9v14.4h-2.9zM1779.6 405.4h2.9v14.4h-2.9zM1797.0 405.4h2.9v14.4h-2.9zM1805.6 405.4h2.9v14.4h-2.9zM1834.5 405.4h2.9v14.4h-2.9zM1799.8 419.8h2.9v14.4h-2.9zM1831.6 419.8h2.9v14.4h-2.9zM1837.4 419.8h2.9v14.4h-2.9zM1505.4 434.2h2.9v14.4h-2.9zM1626.7 434.2h2.9v14.4h-2.9zM1632.5 434.2h2.9v14.4h-2.9zM1799.8 434.2h2.9v14.4h-2.9zM1805.6 434.2h2.9v14.4h-2.9zM1822.9 434.2h2.9v14.4h-2.9zM1626.7 448.6h2.9v14.4h-2.9zM1632.5 448.6h2.9v14.4h-2.9zM1675.8 448.6h2.9v14.4h-2.9zM1698.8 448.6h2.9v14.4h-2.9zM1805.6 448.6h2.9v14.4h-2.9zM1537.2 463.0h2.9v14.4h-2.9zM1595.0 463.0h2.9v14.4h-2.9zM1652.7 463.0h2.9v14.4h-2.9zM1701.7 463.0h2.9v14.4h-2.9zM1753.7 463.0h2.9v14.4h-2.9zM1799.8 463.0h2.9v14.4h-2.9zM1586.3 477.4h2.9v14.4h-2.9zM1592.1 477.4h2.9v14.4h-2.9zM1612.3 477.4h2.9v14.4h-2.9zM1629.6 477.4h2.9v14.4h-2.9zM1652.7 477.4h2.9v14.4h-2.9zM1661.3 477.4h2.9v14.4h-2.9zM1667.1 477.4h2.9v14.4h-2.9zM1756.6 477.4h2.9v14.4h-2.9zM1820.0 477.4h2.9v14.4h-2.9zM1517.0 491.8h2.9v14.4h-2.9zM1534.3 491.8h2.9v14.4h-2.9zM1592.1 491.8h2.9v14.4h-2.9zM1597.8 491.8h2.9v14.4h-2.9zM1721.9 491.8h2.9v14.4h-2.9zM1753.7 491.8h2.9v14.4h-2.9zM1782.5 491.8h2.9v14.4h-2.9zM1831.6 491.8h2.9v14.4h-2.9zM1846.0 491.8h2.9v14.4h-2.9zM1592.1 506.2h5.8v14.4h-5.8zM1649.8 506.2h2.9v14.4h-2.9zM1658.4 506.2h2.9v14.4h-2.9zM1750.8 506.2h2.9v14.4h-2.9zM1820.0 506.2h5.8v14.4h-5.8zM1828.7 506.2h2.9v14.4h-2.9zM1441.8 520.5h2.9v14.4h-2.9zM1600.7 520.5h2.9v14.4h-2.9zM1626.7 520.5h5.8v14.4h-5.8zM1698.8 520.5h2.9v14.4h-2.9zM1719.0 520.5h2.9v14.4h-2.9zM1811.4 520.5h2.9v14.4h-2.9zM1822.9 520.5h2.9v14.4h-2.9zM1828.7 520.5h2.9v14.4h-2.9zM1499.6 534.9h2.9v14.4h-2.9zM1658.4 534.9h2.9v14.4h-2.9zM1667.1 534.9h2.9v14.4h-2.9zM1719.0 549.3h2.9v14.4h-2.9zM1724.8 549.3h2.9v14.4h-2.9zM1837.4 549.3h2.9v14.4h-2.9z"/>
<path fill="#fd2929" d="M1592.1 56.5h2.9v14.3h-2.9zM1635.4 56.5h2.9v14.3h-2.9zM1693.1 56.5h2.9v14.3h-2.9zM1707.5 56.5h2.9v14.3h-2.9zM1808.5 56.5h2.9v14.3h-2.9zM1846.0 56.5h2.9v14.3h-2.9zM1285.7 70.8h2.9v14.4h-2.9zM1620.9 70.8h2.9v14.4h-2.9zM1701.7 70.8h2.9v14.4h-2.9zM1724.8 70.8h2.9v14.4h-2.9zM1747.9 70.8h2.9v14.4h-2.9zM1759.4 70.8h2.9v14.4h-2.9zM1837.4 70.8h2.9v14.4h-2.9zM1846.0 70.8h2.9v14.4h-2.9zM1274.1 111.2h2.9v14.5h-2.9zM1285.7 111.2h5.8v14.5h-5.8zM1332.0 111.2h2.9v14.5h-2.9zM1337.7 111.2h2.9v14.5h-2.9zM1349.3 111.2h2.9v14.5h-2.9zM1372.4 111.2h2.9v14.5h-2.9zM1378.2 111.2h2.9v14.5h-2.9zM1386.9 111.2h2.9v14.5h-2.9zM1398.5 111.2h2.9v14.5h-2.9zM1412.9 111.2h8.7v14.5h-8.7zM1450.5 111.2h2.9v14.5h-2.9zM1482.3 111.2h5.8v14.5h-5.8zM1259.7 125.7h2.9v14.5h-2.9zM1271.2 125.7h2.9v14.5h-2.9zM1285.7 125.7h2.9v14.5h-2.9zM1297.3 125.7h2.9v14.5h-2.9zM1326.2 125.7h2.9v14.5h-2.9zM1378.2 125.7h8.7v14.5h-8.7zM1392.7 125.7h2.9v14.5h-2.9zM1453.4 125.7h2.9v14.5h-2.9zM1459.2 125.7h2.9v14.5h-2.9zM1485.2 125.7h2.9v14.5h-2.9zM1262.6 140.1h2.9v14.5h-2.9zM1271.2 140.1h2.9v14.5h-2.9zM1294.4 140.1h2.9v14.5h-2.9zM1305.9 140.1h5.8v14.5h-5.8zM1346.4 140.1h2.9v14.5h-2.9zM1355.1 140.1h2.9v14.5h-2.9zM1366.7 140.1h2.9v14.5h-2.9zM1407.1 140.1h2.9v14.5h-2.9zM1415.8 140.1h5.8v14.5h-5.8zM1479.4 140.1h5.8v14.5h-5.8zM1493.9 140.1h2.9v14.5h-2.9zM1499.6 140.1h2.9v14.5h-2.9zM1508.3 140.1h2.9v14.5h-2.9zM1259.7 154.6h2.9v14.5h-2.9zM1274.1 154.6h5.8v14.5h-5.8zM1332.0 154.6h5.8v14.5h-5.8zM1360.9 154.6h2.9v14.5h-2.9zM1424.5 154.6h2.9v14.5h-2.9zM1447.6 154.6h2.9v14.5h-2.9zM1308.8 169.0h2.9v14.5h-2.9zM1317.5 169.0h2.9v14.5h-2.9zM1337.7 169.0h2.9v14.5h-2.9zM1352.2 169.0h2.9v14.5h-2.9zM1378.2 169.0h2.9v14.5h-2.9zM1398.5 169.0h2.9v14.5h-2.9zM1410.0 169.0h2.9v14.5h-2.9zM1424.5 169.0h2.9v14.5h-2.9zM1438.9 169.0h2.9v14.5h-2.9zM1615.2 169.0h2.9v14.5h-2.9zM1620.9 169.0h2.9v14.5h-2.9zM1771.0 169.0h2.9v14.5h-2.9zM1822.9 169.0h2.9v14.5h-2.9zM1256.8 183.5h2.9v14.5h-2.9zM1268.4 183.5h2.9v14.5h-2.9zM1305.9 183.5h5.8v14.5h-5.8zM1317.5 183.5h2.9v14.5h-2.9zM1340.6 183.5h2.9v14.5h-2.9zM1363.8 183.5h2.9v14.5h-2.9zM1375.3 183.5h2.9v14.5h-2.9zM1274.1 197.9h5.8v14.5h-5.8zM1305.9 197.9h2.9v14.5h-2.9zM1314.6 197.9h8.7v14.5h-8.7zM1332.0 197.9h2.9v14.5h-2.9zM1352.2 197.9h5.8v14.5h-5.8zM1360.9 197.9h8.7v14.5h-8.7zM1381.1 197.9h5.8v14.5h-5.8zM1389.8 197.9h2.9v14.5h-2.9zM1496.8 197.9h2.9v14.5h-2.9zM1323.3 212.4h2.9v14.5h-2.9zM1337.7 212.4h2.9v14.5h-2.9zM1369.5 212.4h2.9v14.5h-2.9zM1375.3 212.4h5.8v14.5h-5.8zM1384.0 212.4h2.9v14.5h-2.9zM1407.1 212.4h2.9v14.5h-2.9zM1482.3 212.4h2.9v14.5h-2.9zM1505.4 212.4h2.9v14.5h-2.9zM1557.5 212.4h2.9v14.5h-2.9zM1271.2 226.9h5.8v14.5h-5.8zM1279.9 226.9h2.9v14.5h-2.9zM1297.3 226.9h5.8v14.5h-5.8zM1311.7 226.9h2.9v14.5h-2.9zM1340.6 226.9h2.9v14.5h-2.9zM1274.1 241.3h2.9v14.5h-2.9zM1279.9 241.3h2.9v14.5h-2.9zM1294.4 241.3h2.9v14.5h-2.9zM1300.2 241.3h2.9v14.5h-2.9zM1305.9 241.3h2.9v14.5h-2.9zM1326.2 241.3h2.9v14.5h-2.9zM1358.0 241.3h2.9v14.5h-2.9zM1378.2 241.3h2.9v14.5h-2.9zM1398.5 241.3h2.9v14.5h-2.9zM1262.6 255.8h5.8v14.5h-5.8zM1323.3 255.8h5.8v14.5h-5.8zM1334.9 255.8h2.9v14.5h-2.9zM1271.2 270.2h2.9v14.5h-2.9zM1288.6 270.2h2.9v14.5h-2.9zM1297.3 270.2h2.9v14.5h-2.9zM1311.7 270.2h2.9v14.5h-2.9zM1320.4 270.2h2.9v14.5h-2.9zM1349.3 270.2h2.9v14.5h-2.9zM1256.8 299.1h5.8v14.5h-5.8zM1265.5 299.1h5.8v14.5h-5.8zM1277.0 299.1h5.8v14.5h-5.8zM1334.9 299.1h2.9v14.5h-2.9zM1355.1 299.1h2.9v14.5h-2.9zM1375.3 299.1h2.9v14.5h-2.9zM1389.8 299.1h2.9v14.5h-2.9zM1412.9 299.1h5.8v14.5h-5.8zM1352.2 313.6h2.9v14.5h-2.9zM1366.7 313.6h2.9v14.5h-2.9zM1378.2 313.6h2.9v14.5h-2.9zM1438.9 313.6h2.9v14.5h-2.9zM1447.6 313.6h8.7v14.5h-8.7zM1462.1 313.6h2.9v14.5h-2.9zM1473.6 313.6h2.9v14.5h-2.9zM1496.8 313.6h2.9v14.5h-2.9zM1537.2 313.6h2.9v14.5h-2.9zM1638.2 313.6h5.8v14.5h-5.8zM1710.4 313.6h2.9v14.5h-2.9zM1721.9 313.6h2.9v14.5h-2.9zM1785.4 313.6h2.9v14.5h-2.9zM1822.9 313.6h2.9v14.5h-2.9zM1641.1 347.9h2.9v14.4h-2.9zM1655.6 347.9h2.9v14.4h-2.9zM1756.6 347.9h2.9v14.4h-2.9zM1797.0 347.9h2.9v14.4h-2.9zM1508.3 362.3h2.9v14.4h-2.9zM1517.0 362.3h2.9v14.4h-2.9zM1595.0 362.3h2.9v14.4h-2.9zM1649.8 362.3h2.9v14.4h-2.9zM1658.4 362.3h2.9v14.4h-2.9zM1667.1 362.3h2.9v14.4h-2.9zM1811.4 362.3h2.9v14.4h-2.9zM1820.0 362.3h2.9v14.4h-2.9zM1438.9 376.7h2.9v14.4h-2.9zM1773.9 376.7h2.9v14.4h-2.9zM1436.0 391.1h5.8v14.4h-5.8zM1597.8 391.1h2.9v14.4h-2.9zM1670.0 391.1h2.9v14.4h-2.9zM1773.9 391.1h2.9v14.4h-2.9zM1436.0 405.4h2.9v14.4h-2.9zM1502.5 405.4h2.9v14.4h-2.9zM1592.1 405.4h2.9v14.4h-2.9zM1641.1 405.4h2.9v14.4h-2.9zM1646.9 405.4h2.9v14.4h-2.9zM1652.7 405.4h2.9v14.4h-2.9zM1802.7 405.4h2.9v14.4h-2.9zM1831.6 405.4h2.9v14.4h-2.9zM1846.0 405.4h2.9v14.4h-2.9zM1502.5 419.8h2.9v14.4h-2.9zM1595.0 419.8h2.9v14.4h-2.9zM1626.7 419.8h2.9v14.4h-2.9zM1632.5 419.8h2.9v14.4h-2.9zM1652.7 419.8h2.9v14.4h-2.9zM1727.7 419.8h2.9v14.4h-2.9zM1846.0 419.8h2.9v14.4h-2.9zM1589.2 434.2h5.8v14.4h-5.8zM1719.0 434.2h2.9v14.4h-2.9zM1756.6 434.2h2.9v14.4h-2.9zM1820.0 434.2h2.9v14.4h-2.9zM1843.1 434.2h5.8v14.4h-5.8zM1502.5 448.6h2.9v14.4h-2.9zM1508.3 448.6h2.9v14.4h-2.9zM1629.6 448.6h2.9v14.4h-2.9zM1641.1 448.6h2.9v14.4h-2.9zM1670.0 448.6h2.9v14.4h-2.9zM1690.2 448.6h2.9v14.4h-2.9zM1750.8 448.6h2.9v14.4h-2.9zM1776.8 448.6h2.9v14.4h-2.9zM1785.4 448.6h2.9v14.4h-2.9zM1586.3 463.0h2.9v14.4h-2.9zM1592.1 463.0h2.9v14.4h-2.9zM1649.8 463.0h2.9v14.4h-2.9zM1724.8 463.0h8.7v14.4h-8.7zM1831.6 463.0h2.9v14.4h-2.9zM1846.0 463.0h2.9v14.4h-2.9zM1649.8 477.4h2.9v14.4h-2.9zM1655.6 477.4h2.9v14.4h-2.9zM1719.0 477.4h2.9v14.4h-2.9zM1730.6 477.4h2.9v14.4h-2.9zM1785.4 477.4h2.9v14.4h-2.9zM1436.0 491.8h5.8v14.4h-5.8zM1612.3 491.8h2.9v14.4h-2.9zM1632.5 491.8h2.9v14.4h-2.9zM1641.1 491.8h2.9v14.4h-2.9zM1724.8 491.8h5.8v14.4h-5.8zM1502.5 506.2h5.8v14.4h-5.8zM1589.2 520.5h2.9v14.4h-2.9zM1667.1 520.5h2.9v14.4h-2.9zM1505.4 534.9h2.9v14.4h-2.9zM1776.8 534.9h2.9v14.4h-2.9zM1782.5 534.9h2.9v14.4h-2.9zM1805.6 534.9h2.9v14.4h-2.9z"/>
<path fill="#fe1414" d="M1274.1 70.8h2.9v14.4h-2.9zM1343.5 70.8h2.9v14.4h-2.9zM1375.3 70.8h2.9v14.4h-2.9zM1262.6 111.2h2.9v14.5h-2.9zM1282.8 111.2h2.9v14.5h-2.9zM1294.4 111.2h2.9v14.5h-2.9zM1317.5 111.2h2.9v14.5h-2.9zM1343.5 111.2h2.9v14.5h-2.9zM1366.7 111.2h2.9v14.5h-2.9zM1381.1 111.2h5.8v14.5h-5.8zM1389.8 111.2h2.9v14.5h-2.9zM1407.1 111.2h2.9v14.5h-2.9zM1456.3 111.2h2.9v14.5h-2.9zM1462.1 111.2h2.9v14.5h-2.9zM1473.6 111.2h2.9v14.5h-2.9zM1358.0 125.7h5.8v14.5h-5.8zM1375.3 125.7h2.9v14.5h-2.9zM1421.6 125.7h2.9v14.5h-2.9zM1433.2 125.7h2.9v14.5h-2.9zM1438.9 125.7h5.8v14.5h-5.8zM1456.3 125.7h2.9v14.5h-2.9zM1690.2 169.0h2.9v14.5h-2.9zM1259.7 183.5h2.9v14.5h-2.9zM1274.1 183.5h2.9v14.5h-2.9zM1291.5 183.5h5.8v14.5h-5.8zM1334.9 183.5h2.9v14.5h-2.9zM1253.9 197.9h2.9v14.5h-2.9zM1268.4 197.9h2.9v14.5h-2.9zM1291.5 197.9h5.8v14.5h-5.8zM1300.2 197.9h2.9v14.5h-2.9zM1308.8 197.9h2.9v14.5h-2.9zM1323.3 197.9h5.8v14.5h-5.8zM1346.4 197.9h2.9v14.5h-2.9zM1369.5 197.9h2.9v14.5h-2.9zM1395.6 197.9h2.9v14.5h-2.9zM1401.3 197.9h2.9v14.5h-2.9zM1256.8 212.4h2.9v14.5h-2.9zM1268.4 212.4h2.9v14.5h-2.9zM1288.6 212.4h5.8v14.5h-5.8zM1297.3 212.4h2.9v14.5h-2.9zM1311.7 212.4h5.8v14.5h-5.8zM1320.4 212.4h2.9v14.5h-2.9zM1349.3 212.4h2.9v14.5h-2.9zM1398.5 212.4h2.9v14.5h-2.9zM1415.8 212.4h2.9v14.5h-2.9zM1262.6 226.9h2.9v14.5h-2.9zM1303.0 226.9h5.8v14.5h-5.8zM1332.0 226.9h2.9v14.5h-2.9zM1343.5 226.9h2.9v14.5h-2.9zM1369.5 226.9h2.9v14.5h-2.9zM1378.2 226.9h2.9v14.5h-2.9zM1386.9 226.9h2.9v14.5h-2.9zM1398.5 226.9h2.9v14.5h-2.9zM1262.6 241.3h2.9v14.5h-2.9zM1360.9 241.3h5.8v14.5h-5.8zM1355.1 255.8h2.9v14.5h-2.9zM1274.1 270.2h2.9v14.5h-2.9zM1279.9 270.2h5.8v14.5h-5.8zM1308.8 270.2h2.9v14.5h-2.9zM1329.1 270.2h2.9v14.5h-2.9zM1337.7 270.2h2.9v14.5h-2.9zM1366.7 270.2h2.9v14.5h-2.9zM1381.1 270.2h2.9v14.5h-2.9zM1323.3 299.1h2.9v14.5h-2.9zM1398.5 299.1h2.9v14.5h-2.9zM1421.6 313.6h2.9v14.5h-2.9zM1730.6 313.6h2.9v14.5h-2.9zM1756.6 313.6h2.9v14.5h-2.9zM1762.3 313.6h2.9v14.5h-2.9zM1779.6 313.6h2.9v14.5h-2.9zM1799.8 313.6h2.9v14.5h-2.9zM1811.4 313.6h2.9v14.5h-2.9zM1652.7 347.9h2.9v14.4h-2.9zM1658.4 347.9h2.9v14.4h-2.9zM1727.7 347.9h2.9v14.4h-2.9zM1782.5 347.9h2.9v14.4h-2.9zM1612.3 362.3h2.9v14.4h-2.9zM1776.8 362.3h2.9v14.4h-2.9zM1799.8 362.3h2.9v14.4h-2.9zM1505.4 376.7h2.9v14.4h-2.9zM1646.9 376.7h2.9v14.4h-2.9zM1655.6 376.7h2.9v14.4h-2.9zM1724.8 376.7h5.8v14.4h-5.8zM1502.5 391.1h2.9v14.4h-2.9zM1589.2 391.1h2.9v14.4h-2.9zM1612.3 391.1h2.9v14.4h-2.9zM1646.9 391.1h2.9v14.4h-2.9zM1658.4 391.1h2.9v14.4h-2.9zM1785.4 391.1h2.9v14.4h-2.9zM1802.7 391.1h2.9v14.4h-2.9zM1438.9 405.4h2.9v14.4h-2.9zM1505.4 405.4h2.9v14.4h-2.9zM1698.8 405.4h2.9v14.4h-2.9zM1724.8 405.4h2.9v14.4h-2.9zM1750.8 405.4h5.8v14.4h-5.8zM1670.0 419.8h2.9v14.4h-2.9zM1782.5 419.8h5.8v14.4h-5.8zM1805.6 419.8h2.9v14.4h-2.9zM1517.0 434.2h2.9v14.4h-2.9zM1646.9 434.2h2.9v14.4h-2.9zM1655.6 434.2h2.9v14.4h-2.9zM1597.8 448.6h2.9v14.4h-2.9zM1649.8 448.6h2.9v14.4h-2.9zM1661.3 448.6h2.9v14.4h-2.9zM1730.6 448.6h2.9v14.4h-2.9zM1802.7 448.6h2.9v14.4h-2.9zM1438.9 463.0h2.9v14.4h-2.9zM1646.9 463.0h2.9v14.4h-2.9zM1670.0 463.0h2.9v14.4h-2.9zM1670.0 477.4h2.9v14.4h-2.9zM1782.5 477.4h2.9v14.4h-2.9zM1670.0 491.8h2.9v14.4h-2.9zM1779.6 491.8h2.9v14.4h-2.9zM1811.4 491.8h2.9v14.4h-2.9zM1600.7 506.2h2.9v14.4h-2.9zM1626.7 506.2h2.9v14.4h-2.9zM1646.9 506.2h2.9v14.4h-2.9zM1698.8 506.2h2.9v14.4h-2.9zM1721.9 506.2h11.5v14.4h-11.5zM1776.8 506.2h2.9v14.4h-2.9zM1797.0 506.2h8.7v14.4h-8.7zM1843.1 506.2h2.9v14.4h-2.9zM1534.3 520.5h2.9v14.4h-2.9zM1586.3 520.5h2.9v14.4h-2.9zM1641.1 520.5h2.9v14.4h-2.9zM1721.9 520.5h2.9v14.4h-2.9zM1502.5 534.9h2.9v14.4h-2.9zM1612.3 534.9h2.9v14.4h-2.9zM1646.9 534.9h2.9v14.4h-2.9zM1655.6 549.3h2.9v14.4h-2.9zM1805.6 549.3h2.9v14.4h-2.9z"/>
<path fill="#ff0000" d="M1262.6 56.5h2.9v14.3h-2.9zM1288.6 125.7h2.9v14.5h-2.9zM1332.0 125.7h2.9v14.5h-2.9zM1386.9 125.7h2.9v14.5h-2.9zM1401.3 125.7h2.9v14.5h-2.9zM1430.3 125.7h2.9v14.5h-2.9zM1450.5 125.7h2.9v14.5h-2.9zM1253.9 183.5h2.9v14.5h-2.9zM1343.5 183.5h2.9v14.5h-2.9zM1389.8 183.5h2.9v14.5h-2.9zM1259.7 197.9h2.9v14.5h-2.9zM1279.9 197.9h2.9v14.5h-2.9zM1375.3 197.9h2.9v14.5h-2.9zM1398.5 197.9h2.9v14.5h-2.9zM1259.7 212.4h2.9v14.5h-2.9zM1265.5 212.4h2.9v14.5h-2.9zM1277.0 212.4h2.9v14.5h-2.9zM1332.0 212.4h2.9v14.5h-2.9zM1340.6 212.4h2.9v14.5h-2.9zM1358.0 212.4h2.9v14.5h-2.9zM1395.6 212.4h2.9v14.5h-2.9zM1404.2 212.4h2.9v14.5h-2.9zM1346.4 226.9h2.9v14.5h-2.9zM1597.8 347.9h2.9v14.4h-2.9zM1805.6 347.9h2.9v14.4h-2.9zM1597.8 362.3h2.9v14.4h-2.9zM1641.1 362.3h2.9v14.4h-2.9zM1724.8 362.3h2.9v14.4h-2.9zM1753.7 362.3h2.9v14.4h-2.9zM1782.5 376.7h2.9v14.4h-2.9zM1811.4 376.7h2.9v14.4h-2.9zM1505.4 391.1h2.9v14.4h-2.9zM1655.6 405.4h2.9v14.4h-2.9zM1730.6 419.8h2.9v14.4h-2.9zM1811.4 419.8h2.9v14.4h-2.9zM1612.3 463.0h2.9v14.4h-2.9zM1655.6 463.0h2.9v14.4h-2.9zM1438.9 477.4h2.9v14.4h-2.9zM1505.4 491.8h2.9v14.4h-2.9zM1641.1 506.2h2.9v14.4h-2.9zM1779.6 506.2h2.9v14.4h-2.9zM1811.4 506.2h2.9v14.4h-2.9zM1797.0 520.5h2.9v14.4h-2.9zM1649.8 534.9h2.9v14.4h-2.9zM1727.7 534.9h2.9v14.4h-2.9zM1750.8 534.9h2.9v14.4h-2.9zM1646.9 549.3h2.9v14.4h-2.9zM1727.7 549.3h2.9v14.4h-2.9z"/>
<text x="1860.2" y="68.4" font-size="16.8" text-anchor="start" fill="#000" >Cspg4</text>
<text x="1860.2" y="84.7" font-size="16.8" text-anchor="start" fill="#000" >Runx1</text>
<text x="1860.2" y="103.7" font-size="16.8" text-anchor="start" fill="#000" >Acta2*</text>
<text x="1860.2" y="123.3" font-size="16.8" text-anchor="start" fill="#000" >Col3a1</text>
<text x="1860.2" y="138.2" font-size="16.8" text-anchor="start" fill="#000" >Col1a1*</text>
<text x="1860.2" y="152.6" font-size="16.8" text-anchor="start" fill="#000" >Ptn*</text>
<text x="1860.2" y="167.3" font-size="16.8" text-anchor="start" fill="#000" >Nrp1</text>
<text x="1860.2" y="181.6" font-size="16.8" text-anchor="start" fill="#000" >Zeb2*</text>
<text x="1860.2" y="196.0" font-size="16.8" text-anchor="start" fill="#000" >Cnn1</text>
<text x="1860.2" y="210.4" font-size="16.8" text-anchor="start" fill="#000" >Tgfb1i1</text>
<text x="1860.2" y="225.0" font-size="16.8" text-anchor="start" fill="#000" >Fn1</text>
<text x="1860.2" y="238.6" font-size="16.8" text-anchor="start" fill="#000" >Cd248*</text>
<text x="1860.2" y="253.3" font-size="16.8" text-anchor="start" fill="#000" >Fbln5*</text>
<text x="1860.2" y="268.2" font-size="16.8" text-anchor="start" fill="#000" >Mcam</text>
<text x="1860.2" y="282.3" font-size="16.8" text-anchor="start" fill="#000" >Rgs5</text>
<text x="1860.2" y="297.0" font-size="16.8" text-anchor="start" fill="#000" >Itga1</text>
<text x="1860.2" y="311.4" font-size="16.8" text-anchor="start" fill="#000" >Pdgfrb</text>
<text x="1860.2" y="326.0" font-size="16.8" text-anchor="start" fill="#000" >Pdgfra*</text>
<text x="1860.2" y="343.6" font-size="16.8" text-anchor="start" fill="#000" >Nes</text>
<text x="1860.2" y="358.3" font-size="16.8" text-anchor="start" fill="#000" >Sox9</text>
<text x="1860.2" y="373.0" font-size="16.8" text-anchor="start" fill="#000" >Matn4*</text>
<text x="1860.2" y="387.6" font-size="16.8" text-anchor="start" fill="#000" >Col9a3</text>
<text x="1860.2" y="402.3" font-size="16.8" text-anchor="start" fill="#000" >Col9a2</text>
<text x="1860.2" y="416.9" font-size="16.8" text-anchor="start" fill="#000" >Col2a1</text>
<text x="1860.2" y="431.6" font-size="16.8" text-anchor="start" fill="#000" >Sorbs2</text>
<text x="1860.2" y="446.3" font-size="16.8" text-anchor="start" fill="#000" >Pax1</text>
<text x="1860.2" y="460.9" font-size="16.8" text-anchor="start" fill="#000" >Ugdh</text>
<text x="1860.2" y="475.6" font-size="16.8" text-anchor="start" fill="#000" >Sox6*</text>
<text x="1860.2" y="490.2" font-size="16.8" text-anchor="start" fill="#000" >Pax9</text>
<text x="1860.2" y="504.9" font-size="16.8" text-anchor="start" fill="#000" >Col9a1</text>
<text x="1860.2" y="519.6" font-size="16.8" text-anchor="start" fill="#000" >Col27a1</text>
<text x="1860.2" y="534.2" font-size="16.8" text-anchor="start" fill="#000" >Stk26*</text>
<text x="1860.2" y="548.9" font-size="16.8" text-anchor="start" fill="#000" >Sox5</text>
<text x="1860.2" y="563.5" font-size="16.8" text-anchor="start" fill="#000" >Chad*</text>
<text x="1427.5" y="31.6" font-size="20.65" text-anchor="middle" font-style="italic" fill="#000" >Cspg4+Runx1+Acta2+</text>
<text x="1725.0" y="31.6" font-size="20.65" text-anchor="middle" font-style="italic" fill="#000" >Cspg4+Runx1+Acta2-</text>
<defs><linearGradient id="gc" x1="0" y1="0" x2="0" y2="1"><stop offset="0" stop-color="#ff0000"/><stop offset="1" stop-color="#f5f5f5"/></linearGradient></defs>
<rect x="1950.0" y="54.0" width="15.3" height="227.3" fill="url(#gc)" />
<text x="1970.6" y="58.3" font-size="20.6" text-anchor="start" fill="#000" >1</text>
<text x="1970.6" y="100.6" font-size="20.6" text-anchor="start" fill="#000" >0.8</text>
<text x="1970.6" y="143.0" font-size="20.6" text-anchor="start" fill="#000" >0.6</text>
<text x="1970.6" y="194.2" font-size="20.6" text-anchor="start" fill="#000" >0.4</text>
<text x="1970.6" y="240.3" font-size="20.6" text-anchor="start" fill="#000" >0.2</text>
<text x="1970.6" y="282.6" font-size="20.6" text-anchor="start" fill="#000" >0</text>
<text x="1230.6" y="19.7" font-size="33.6" text-anchor="start" font-weight="bold" fill="#000" >c</text>
<rect x="493.4" y="656.9" width="459.8" height="918.6" fill="#ebebeb" />
<path d="M582.4 656.9V1575.5M719.2 656.9V1575.5M856.0 656.9V1575.5" stroke="#fff" stroke-width="1.7" fill="none"/>
<path d="M514.0 656.9V1575.5M650.8 656.9V1575.5M787.6 656.9V1575.5M924.4 656.9V1575.5M493.4 677.8H953.2M493.4 712.9H953.2M493.4 748.0H953.2M493.4 783.1H953.2M493.4 818.2H953.2M493.4 853.3H953.2M493.4 888.4H953.2M493.4 923.5H953.2M493.4 958.6H953.2M493.4 993.7H953.2M493.4 1028.8H953.2M493.4 1063.9H953.2M493.4 1099.0H953.2M493.4 1134.2H953.2M493.4 1169.3H953.2M493.4 1204.4H953.2M493.4 1239.5H953.2M493.4 1274.6H953.2M493.4 1309.7H953.2M493.4 1344.8H953.2M493.4 1379.9H953.2M493.4 1415.0H953.2M493.4 1450.1H953.2M493.4 1485.2H953.2M493.4 1520.3H953.2M493.4 1555.4H953.2" stroke="#fff" stroke-width="3.1" fill="none"/>
<rect x="512.4" y="660.2" width="420.2" height="35.1" fill="#fff" />
<rect x="514.0" y="662.1" width="418.0" height="31.4" fill="#000" />
<rect x="489.0" y="676.2" width="4.4" height="3.2" fill="#222" />
<text x="483.3" y="683.7" font-size="20.7" text-anchor="end" fill="#000" >Smooth muscle cell chemotaxis</text>
<rect x="512.4" y="695.4" width="315.9" height="35.1" fill="#fff" />
<rect x="514.0" y="697.2" width="313.7" height="31.4" fill="#000" />
<rect x="489.0" y="711.3" width="4.4" height="3.2" fill="#222" />
<text x="483.3" y="717.7" font-size="20.7" text-anchor="end" fill="#000" >Sequestring the TGFB in extracellular matrix</text>
<rect x="512.4" y="730.5" width="315.9" height="35.1" fill="#fff" />
<rect x="514.0" y="732.3" width="313.7" height="31.4" fill="#000" />
<rect x="489.0" y="746.4" width="4.4" height="3.2" fill="#222" />
<text x="483.3" y="754.0" font-size="20.7" text-anchor="end" fill="#000" >Cell migration involved in vasculogenesis</text>
<rect x="512.4" y="765.6" width="280.7" height="35.1" fill="#fff" />
<rect x="514.0" y="767.4" width="278.5" height="31.4" fill="#000" />
<rect x="489.0" y="781.5" width="4.4" height="3.2" fill="#222" />
<text x="483.3" y="786.4" font-size="20.7" text-anchor="end" fill="#000" >Calcium-independent cell-matrix adhesion</text>
<rect x="512.4" y="800.7" width="211.5" height="35.1" fill="#fff" />
<rect x="514.0" y="802.5" width="209.3" height="31.4" fill="#000" />
<rect x="489.0" y="816.6" width="4.4" height="3.2" fill="#222" />
<text x="483.3" y="822.0" font-size="20.7" text-anchor="end" fill="#000" >Arterial endothelial cell differentiation</text>
<rect x="512.4" y="835.8" width="188.1" height="35.1" fill="#fff" />
<rect x="514.0" y="837.6" width="185.9" height="31.4" fill="#000" />
<rect x="489.0" y="851.7" width="4.4" height="3.2" fill="#222" />
<text x="483.3" y="856.7" font-size="20.7" text-anchor="end" fill="#000" >Integrin activation</text>
<rect x="512.4" y="870.9" width="154.0" height="35.1" fill="#fff" />
<rect x="514.0" y="872.7" width="151.8" height="31.4" fill="#000" />
<rect x="489.0" y="886.8" width="4.4" height="3.2" fill="#222" />
<text x="483.3" y="892.4" font-size="20.7" text-anchor="end" fill="#000" >Smooth muscle cell migration</text>
<rect x="512.4" y="906.0" width="141.7" height="35.1" fill="#fff" />
<rect x="514.0" y="907.8" width="139.5" height="31.4" fill="#000" />
<rect x="489.0" y="921.9" width="4.4" height="3.2" fill="#222" />
<text x="483.3" y="927.6" font-size="20.7" text-anchor="end" fill="#000" >Collagen biosynthetic process</text>
<rect x="512.4" y="941.1" width="121.6" height="35.1" fill="#fff" />
<rect x="514.0" y="942.9" width="119.4" height="31.4" fill="#000" />
<rect x="489.0" y="957.0" width="4.4" height="3.2" fill="#222" />
<text x="483.3" y="964.4" font-size="20.7" text-anchor="end" fill="#000" >Collagen-activated signaling pathway</text>
<rect x="512.4" y="976.2" width="116.6" height="35.1" fill="#fff" />
<rect x="514.0" y="978.0" width="114.4" height="31.4" fill="#000" />
<rect x="489.0" y="992.1" width="4.4" height="3.2" fill="#222" />
<text x="483.3" y="999.0" font-size="20.7" text-anchor="end" fill="#000" >Extracellular regulation of signal transduction</text>
<rect x="512.4" y="1011.3" width="106.6" height="35.1" fill="#fff" />
<rect x="514.0" y="1013.1" width="104.4" height="31.4" fill="#000" />
<rect x="489.0" y="1027.2" width="4.4" height="3.2" fill="#222" />
<text x="483.3" y="1034.2" font-size="20.7" text-anchor="end" fill="#000" >Regulation of vasculogenesis</text>
<rect x="512.4" y="1046.4" width="96.5" height="35.1" fill="#fff" />
<rect x="514.0" y="1048.2" width="94.3" height="31.4" fill="#000" />
<rect x="489.0" y="1062.3" width="4.4" height="3.2" fill="#222" />
<text x="483.3" y="1067.1" font-size="20.7" text-anchor="end" fill="#000" >Aorta morphogenesis</text>
<rect x="512.4" y="1081.5" width="93.7" height="35.1" fill="#fff" />
<rect x="514.0" y="1083.3" width="91.5" height="31.4" fill="#000" />
<rect x="489.0" y="1097.4" width="4.4" height="3.2" fill="#222" />
<text x="483.3" y="1103.9" font-size="20.7" text-anchor="end" fill="#000" >Endochondral ossification</text>
<rect x="512.4" y="1116.6" width="89.3" height="35.1" fill="#fff" />
<rect x="514.0" y="1118.5" width="87.1" height="31.4" fill="#000" />
<rect x="489.0" y="1132.6" width="4.4" height="3.2" fill="#222" />
<text x="483.3" y="1138.0" font-size="20.7" text-anchor="end" fill="#000" >Sprouting angiogenesis</text>
<rect x="512.4" y="1151.7" width="84.3" height="35.1" fill="#fff" />
<rect x="514.0" y="1153.6" width="82.1" height="31.4" fill="#000" />
<rect x="489.0" y="1167.7" width="4.4" height="3.2" fill="#222" />
<text x="483.3" y="1174.2" font-size="20.7" text-anchor="end" fill="#000" >Collagen fibril organisation</text>
<rect x="512.4" y="1186.8" width="82.0" height="35.1" fill="#fff" />
<rect x="514.0" y="1188.7" width="79.8" height="31.4" fill="#000" />
<rect x="489.0" y="1202.8" width="4.4" height="3.2" fill="#222" />
<text x="483.3" y="1208.3" font-size="20.7" text-anchor="end" fill="#000" >Vascular endothelial growth factor signaling pathway</text>
<rect x="512.4" y="1221.9" width="69.7" height="35.1" fill="#fff" />
<rect x="514.0" y="1223.8" width="67.5" height="31.4" fill="#000" />
<rect x="489.0" y="1237.9" width="4.4" height="3.2" fill="#222" />
<text x="483.3" y="1245.1" font-size="20.7" text-anchor="end" fill="#000" >Extracellular matrix assembly</text>
<rect x="512.4" y="1257.0" width="66.9" height="35.1" fill="#fff" />
<rect x="514.0" y="1258.9" width="64.7" height="31.4" fill="#000" />
<rect x="489.0" y="1273.0" width="4.4" height="3.2" fill="#222" />
<text x="483.3" y="1277.5" font-size="20.7" text-anchor="end" fill="#000" >Mesenchymal cell development</text>
<rect x="512.4" y="1292.1" width="56.3" height="35.1" fill="#fff" />
<rect x="514.0" y="1294.0" width="54.1" height="31.4" fill="#000" />
<rect x="489.0" y="1308.1" width="4.4" height="3.2" fill="#222" />
<text x="483.3" y="1314.9" font-size="20.7" text-anchor="end" fill="#000" >Regulation of osteoblast differentiation</text>
<rect x="512.4" y="1327.2" width="51.9" height="35.1" fill="#fff" />
<rect x="514.0" y="1329.1" width="49.7" height="31.4" fill="#000" />
<rect x="489.0" y="1343.2" width="4.4" height="3.2" fill="#222" />
<text x="483.3" y="1350.0" font-size="20.7" text-anchor="end" fill="#000" >Neural crest cell differentiation</text>
<rect x="512.4" y="1362.3" width="49.1" height="35.1" fill="#fff" />
<rect x="514.0" y="1364.2" width="46.9" height="31.4" fill="#000" />
<rect x="489.0" y="1378.3" width="4.4" height="3.2" fill="#222" />
<text x="483.3" y="1386.3" font-size="20.7" text-anchor="end" fill="#000" >Regulation of vascular permeability</text>
<rect x="512.4" y="1397.4" width="39.6" height="35.1" fill="#fff" />
<rect x="514.0" y="1399.3" width="37.4" height="31.4" fill="#000" />
<rect x="489.0" y="1413.4" width="4.4" height="3.2" fill="#222" />
<text x="483.3" y="1419.2" font-size="20.7" text-anchor="end" fill="#000" >Regulation of BMP signaling pathway</text>
<rect x="512.4" y="1432.5" width="39.0" height="35.1" fill="#fff" />
<rect x="514.0" y="1434.4" width="36.8" height="31.4" fill="#000" />
<rect x="489.0" y="1448.5" width="4.4" height="3.2" fill="#222" />
<text x="483.3" y="1453.3" font-size="20.7" text-anchor="end" fill="#000" >Bone morphogenesis</text>
<rect x="512.4" y="1467.6" width="32.3" height="35.1" fill="#fff" />
<rect x="514.0" y="1469.5" width="30.1" height="31.4" fill="#000" />
<rect x="489.0" y="1483.6" width="4.4" height="3.2" fill="#222" />
<text x="483.3" y="1490.1" font-size="20.7" text-anchor="end" fill="#000" >Regulation of cell adhesion</text>
<rect x="512.4" y="1502.7" width="27.9" height="35.1" fill="#fff" />
<rect x="514.0" y="1504.6" width="25.7" height="31.4" fill="#000" />
<rect x="489.0" y="1518.7" width="4.4" height="3.2" fill="#222" />
<text x="483.3" y="1525.3" font-size="20.7" text-anchor="end" fill="#000" >Regulation of MAP kinase activity</text>
<rect x="512.4" y="1537.8" width="26.2" height="35.1" fill="#fff" />
<rect x="514.0" y="1539.7" width="24.0" height="31.4" fill="#000" />
<rect x="489.0" y="1553.8" width="4.4" height="3.2" fill="#222" />
<text x="483.3" y="1561.6" font-size="20.7" text-anchor="end" fill="#000" >Blood vessel diameter maintenance</text>
<rect x="512.4" y="1575.5" width="3.2" height="4.0" fill="#222" />
<text x="514.0" y="1601.3" font-size="20.7" text-anchor="middle" fill="#000" >0</text>
<rect x="649.2" y="1575.5" width="3.2" height="4.0" fill="#222" />
<text x="650.8" y="1601.3" font-size="20.7" text-anchor="middle" fill="#000" >20</text>
<rect x="786.0" y="1575.5" width="3.2" height="4.0" fill="#222" />
<text x="787.6" y="1601.3" font-size="20.7" text-anchor="middle" fill="#000" >40</text>
<rect x="922.8" y="1575.5" width="3.2" height="4.0" fill="#222" />
<text x="924.4" y="1601.3" font-size="20.7" text-anchor="middle" fill="#000" >60</text>
<text x="741.0" y="1623.2" font-size="20.7" text-anchor="middle" fill="#000" >Fold enrichment</text>
<text x="605.5" y="648.5" font-size="24.3" text-anchor="start" fill="#000" >Up in <tspan font-style="italic">Acta2+</tspan> vs <tspan font-style="italic">Acta2-</tspan></text>
<text x="2.0" y="649.0" font-size="33.6" text-anchor="start" font-weight="bold" fill="#000" >d</text>
<rect x="1482.8" y="665.4" width="346.9" height="693.1" fill="#ebebeb" />
<path d="M1541.2 665.4V1358.5M1626.3 665.4V1358.5M1711.5 665.4V1358.5M1796.6 665.4V1358.5" stroke="#fff" stroke-width="1.7" fill="none"/>
<path d="M1498.6 665.4V1358.5M1583.8 665.4V1358.5M1668.9 665.4V1358.5M1754.0 665.4V1358.5M1482.8 691.0H1829.7M1482.8 733.8H1829.7M1482.8 776.6H1829.7M1482.8 819.4H1829.7M1482.8 862.2H1829.7M1482.8 905.0H1829.7M1482.8 947.8H1829.7M1482.8 990.6H1829.7M1482.8 1033.4H1829.7M1482.8 1076.2H1829.7M1482.8 1119.0H1829.7M1482.8 1161.8H1829.7M1482.8 1204.6H1829.7M1482.8 1247.4H1829.7M1482.8 1290.2H1829.7M1482.8 1333.0H1829.7" stroke="#fff" stroke-width="3.1" fill="none"/>
<rect x="1497.0" y="669.6" width="317.4" height="42.8" fill="#fff" />
<rect x="1498.6" y="672.0" width="315.2" height="38.0" fill="#000" />
<text x="1467.4" y="694.6" font-size="20.7" text-anchor="end" fill="#000" xml:space="preserve">Regulation of mesenchymal stem cell differentiation</text>
<rect x="1479.5" y="689.4" width="3.2" height="3.2" fill="#222" />
<rect x="1497.0" y="712.4" width="202.6" height="42.8" fill="#fff" />
<rect x="1498.6" y="714.8" width="200.4" height="38.0" fill="#000" />
<text x="1473.0" y="739.2" font-size="20.7" text-anchor="end" fill="#000" xml:space="preserve">Limb bud formation</text>
<rect x="1479.5" y="732.2" width="3.2" height="3.2" fill="#222" />
<rect x="1497.0" y="755.2" width="177.0" height="42.8" fill="#fff" />
<rect x="1498.6" y="757.6" width="174.8" height="38.0" fill="#000" />
<text x="1473.0" y="780.7" font-size="20.7" text-anchor="end" fill="#000" xml:space="preserve">Cartilage condensation</text>
<rect x="1479.5" y="775.0" width="3.2" height="3.2" fill="#222" />
<rect x="1497.0" y="798.0" width="169.3" height="42.8" fill="#fff" />
<rect x="1498.6" y="800.4" width="167.1" height="38.0" fill="#000" />
<text x="1473.0" y="823.7" font-size="20.7" text-anchor="end" fill="#000" xml:space="preserve">Cell aggregation</text>
<rect x="1479.5" y="817.8" width="3.2" height="3.2" fill="#222" />
<rect x="1497.0" y="840.8" width="118.1" height="42.8" fill="#fff" />
<rect x="1498.6" y="843.2" width="115.9" height="38.0" fill="#000" />
<text x="1473.0" y="866.3" font-size="20.7" text-anchor="end" fill="#000" xml:space="preserve">Growth plate cartilage development</text>
<rect x="1479.5" y="860.6" width="3.2" height="3.2" fill="#222" />
<rect x="1497.0" y="883.6" width="90.4" height="42.8" fill="#fff" />
<rect x="1498.6" y="886.0" width="88.2" height="38.0" fill="#000" />
<text x="1473.0" y="907.8" font-size="20.7" text-anchor="end" fill="#000" xml:space="preserve">Gluconeogenesis</text>
<rect x="1479.5" y="903.4" width="3.2" height="3.2" fill="#222" />
<rect x="1497.0" y="926.4" width="87.3" height="42.8" fill="#fff" />
<rect x="1498.6" y="928.8" width="85.1" height="38.0" fill="#000" />
<text x="1473.0" y="953.4" font-size="20.7" text-anchor="end" fill="#000" xml:space="preserve">Regulation of chondrocyte di ferentiation</text>
<text x="1296.3" y="953.4" font-size="20.7" text-anchor="start" fill="#000" >f</text>
<rect x="1479.5" y="946.2" width="3.2" height="3.2" fill="#222" />
<rect x="1497.0" y="969.2" width="50.4" height="42.8" fill="#fff" />
<rect x="1498.6" y="971.6" width="48.2" height="38.0" fill="#000" />
<text x="1473.0" y="994.9" font-size="20.7" text-anchor="end" fill="#000" xml:space="preserve">Endochondral bone morphogenesis</text>
<rect x="1479.5" y="989.0" width="3.2" height="3.2" fill="#222" />
<rect x="1497.0" y="1012.0" width="46.3" height="42.8" fill="#fff" />
<rect x="1498.6" y="1014.4" width="44.1" height="38.0" fill="#000" />
<text x="1473.0" y="1042.6" font-size="20.7" text-anchor="end" fill="#000" xml:space="preserve">Translation</text>
<rect x="1479.5" y="1031.8" width="3.2" height="3.2" fill="#222" />
<rect x="1497.0" y="1054.8" width="43.8" height="42.8" fill="#fff" />
<rect x="1498.6" y="1057.2" width="41.6" height="38.0" fill="#000" />
<text x="1473.0" y="1080.0" font-size="20.7" text-anchor="end" fill="#000" xml:space="preserve">Proteoglycan metabolic process</text>
<rect x="1479.5" y="1074.6" width="3.2" height="3.2" fill="#222" />
<rect x="1497.0" y="1097.6" width="35.5" height="42.8" fill="#fff" />
<rect x="1498.6" y="1100.0" width="33.3" height="38.0" fill="#000" />
<text x="1473.0" y="1122.4" font-size="20.7" text-anchor="end" fill="#000" xml:space="preserve">Connective tissue development</text>
<rect x="1479.5" y="1117.4" width="3.2" height="3.2" fill="#222" />
<rect x="1497.0" y="1140.4" width="26.8" height="42.8" fill="#fff" />
<rect x="1498.6" y="1142.8" width="24.6" height="38.0" fill="#000" />
<text x="1473.0" y="1163.8" font-size="20.7" text-anchor="end" fill="#000" xml:space="preserve">Extracellular matrix organisation</text>
<rect x="1479.5" y="1160.2" width="3.2" height="3.2" fill="#222" />
<rect x="1497.0" y="1183.2" width="25.8" height="42.8" fill="#fff" />
<rect x="1498.6" y="1185.6" width="23.6" height="38.0" fill="#000" />
<text x="1473.0" y="1209.4" font-size="20.7" text-anchor="end" fill="#000" xml:space="preserve">Skeletal system development</text>
<rect x="1479.5" y="1203.0" width="3.2" height="3.2" fill="#222" />
<rect x="1497.0" y="1226.0" width="24.8" height="42.8" fill="#fff" />
<rect x="1498.6" y="1228.4" width="22.6" height="38.0" fill="#000" />
<text x="1473.0" y="1248.9" font-size="20.7" text-anchor="end" fill="#000" xml:space="preserve">Response to hypoxia</text>
<rect x="1479.5" y="1245.8" width="3.2" height="3.2" fill="#222" />
<rect x="1497.0" y="1268.8" width="12.5" height="42.8" fill="#fff" />
<rect x="1498.6" y="1271.2" width="10.3" height="38.0" fill="#000" />
<text x="1473.0" y="1294.5" font-size="20.7" text-anchor="end" fill="#000" xml:space="preserve">Circulatory system development</text>
<rect x="1479.5" y="1288.6" width="3.2" height="3.2" fill="#222" />
<rect x="1497.0" y="1311.6" width="12.5" height="42.8" fill="#fff" />
<rect x="1498.6" y="1314.0" width="10.3" height="38.0" fill="#000" />
<text x="1473.0" y="1336.0" font-size="20.7" text-anchor="end" fill="#000" xml:space="preserve">Regulation of cell death</text>
<rect x="1479.5" y="1331.4" width="3.2" height="3.2" fill="#222" />
<rect x="1497.0" y="1358.5" width="3.2" height="4.0" fill="#222" />
<text x="1499.1" y="1382.0" font-size="20.7" text-anchor="middle" fill="#000" >0</text>
<rect x="1582.2" y="1358.5" width="3.2" height="4.0" fill="#222" />
<text x="1586.4" y="1382.0" font-size="20.7" text-anchor="middle" fill="#000" >25</text>
<rect x="1667.3" y="1358.5" width="3.2" height="4.0" fill="#222" />
<text x="1671.5" y="1382.0" font-size="20.7" text-anchor="middle" fill="#000" >50</text>
<rect x="1752.5" y="1358.5" width="3.2" height="4.0" fill="#222" />
<text x="1760.0" y="1382.0" font-size="20.7" text-anchor="middle" fill="#000" >75</text>
<text x="1665.0" y="1412.5" font-size="20.7" text-anchor="middle" fill="#000" >Fold enrichment</text>
<text x="1528.0" y="658.0" font-size="24.3" text-anchor="start" fill="#000" >Up in <tspan font-style="italic">Acta2-</tspan> vs <tspan font-style="italic">Acta2+</tspan></text>
<text x="990.0" y="650.0" font-size="33.6" text-anchor="start" font-weight="bold" fill="#000" >e</text>
<rect x="77.5" y="1749.0" width="601.9" height="601.6" fill="#ebebeb" />
<path d="M223.9 1749.0V2350.6M394.8 1749.0V2350.6M566.2 1749.0V2350.6M77.5 1847.0H679.4M77.5 1991.4H679.4M77.5 2135.7H679.4M77.5 2279.6H679.4" stroke="#fff" stroke-width="1.8" fill="none"/>
<path d="M138.6 1749.0V2350.6M309.6 1749.0V2350.6M480.5 1749.0V2350.6M651.9 1749.0V2350.6M77.5 1774.5H679.4M77.5 1919.2H679.4M77.5 2063.5H679.4M77.5 2207.9H679.4" stroke="#fff" stroke-width="3.2" fill="none"/>
<g fill="#d5b5da" fill-opacity="0.72" stroke="#d5b5da" stroke-opacity="0.90" stroke-width="1.84">
<circle cx="124.2" cy="2012.3" r="4.18"/>
<circle cx="138.0" cy="2002.3" r="4.18"/>
<circle cx="139.0" cy="2004.6" r="4.18"/>
<circle cx="153.5" cy="2007.0" r="4.18"/>
<circle cx="156.3" cy="2006.1" r="4.18"/>
<circle cx="173.0" cy="2007.9" r="4.18"/>
<circle cx="165.7" cy="2014.1" r="4.18"/>
<circle cx="166.5" cy="2018.3" r="4.18"/>
<circle cx="180.7" cy="2027.1" r="4.18"/>
<circle cx="185.8" cy="2028.3" r="4.18"/>
<circle cx="164.5" cy="2041.6" r="4.18"/>
<circle cx="212.4" cy="2043.3" r="4.18"/>
<circle cx="192.7" cy="2050.0" r="4.18"/>
<circle cx="174.1" cy="2054.2" r="4.18"/>
<circle cx="119.5" cy="2058.6" r="4.18"/>
<circle cx="142.2" cy="2062.4" r="4.18"/>
<circle cx="163.4" cy="2060.2" r="4.18"/>
<circle cx="191.4" cy="2062.4" r="4.18"/>
<circle cx="104.9" cy="2076.3" r="4.18"/>
<circle cx="124.4" cy="2075.2" r="4.18"/>
<circle cx="120.2" cy="2084.6" r="4.18"/>
<circle cx="130.6" cy="2081.4" r="4.18"/>
<circle cx="153.2" cy="2079.9" r="4.18"/>
<circle cx="156.8" cy="2078.8" r="4.18"/>
<circle cx="157.9" cy="2077.5" r="4.18"/>
<circle cx="169.8" cy="2078.8" r="4.18"/>
<circle cx="163.4" cy="2095.8" r="4.18"/>
<circle cx="188.7" cy="2102.9" r="4.18"/>
<circle cx="168.1" cy="2107.2" r="4.18"/>
<circle cx="270.5" cy="2010.5" r="4.18"/>
<circle cx="284.7" cy="2002.8" r="4.18"/>
<circle cx="288.4" cy="2004.1" r="4.18"/>
<circle cx="245.6" cy="2035.8" r="4.18"/>
<circle cx="261.4" cy="2034.3" r="4.18"/>
<circle cx="233.7" cy="2056.0" r="4.18"/>
<circle cx="243.4" cy="2065.1" r="4.18"/>
<circle cx="269.4" cy="2097.2" r="4.18"/>
<circle cx="260.3" cy="2124.7" r="4.18"/>
<circle cx="269.3" cy="2128.6" r="4.18"/>
<circle cx="272.0" cy="2134.9" r="4.18"/>
<circle cx="272.9" cy="2135.9" r="4.18"/>
<circle cx="285.3" cy="2135.5" r="4.18"/>
<circle cx="297.0" cy="2136.8" r="4.18"/>
<circle cx="225.3" cy="2137.9" r="4.18"/>
<circle cx="223.9" cy="2145.9" r="4.18"/>
<circle cx="229.7" cy="2150.8" r="4.18"/>
<circle cx="256.9" cy="2148.2" r="4.18"/>
<circle cx="261.4" cy="2156.4" r="4.18"/>
<circle cx="276.2" cy="2158.3" r="4.18"/>
<circle cx="225.5" cy="2158.6" r="4.18"/>
<circle cx="230.6" cy="2161.7" r="4.18"/>
<circle cx="236.1" cy="2165.9" r="4.18"/>
<circle cx="233.7" cy="2171.4" r="4.18"/>
</g>
<g fill="#e36fba" fill-opacity="0.72" stroke="#e36fba" stroke-opacity="0.90" stroke-width="1.84">
<circle cx="342.5" cy="1897.9" r="4.18"/>
<circle cx="341.5" cy="1940.0" r="4.18"/>
<circle cx="372.9" cy="1938.0" r="4.18"/>
<circle cx="367.8" cy="1946.2" r="4.18"/>
<circle cx="370.7" cy="1950.8" r="4.18"/>
<circle cx="310.2" cy="1962.5" r="4.18"/>
<circle cx="371.3" cy="1965.0" r="4.18"/>
<circle cx="356.5" cy="1970.3" r="4.18"/>
<circle cx="368.7" cy="1975.0" r="4.18"/>
<circle cx="398.4" cy="1968.7" r="4.18"/>
<circle cx="402.0" cy="1969.6" r="4.18"/>
<circle cx="410.6" cy="1972.1" r="4.18"/>
<circle cx="361.0" cy="1994.2" r="4.18"/>
<circle cx="368.0" cy="1996.8" r="4.18"/>
<circle cx="392.8" cy="1991.3" r="4.18"/>
<circle cx="404.6" cy="1989.5" r="4.18"/>
<circle cx="378.0" cy="2005.0" r="4.18"/>
<circle cx="471.8" cy="2002.8" r="4.18"/>
<circle cx="346.3" cy="2014.3" r="4.18"/>
<circle cx="325.7" cy="2020.8" r="4.18"/>
<circle cx="416.3" cy="2022.1" r="4.18"/>
<circle cx="407.0" cy="2032.5" r="4.18"/>
<circle cx="440.3" cy="2029.6" r="4.18"/>
<circle cx="454.5" cy="2027.0" r="4.18"/>
<circle cx="458.5" cy="2028.1" r="4.18"/>
<circle cx="369.6" cy="2043.8" r="4.18"/>
<circle cx="389.5" cy="2041.4" r="4.18"/>
<circle cx="397.9" cy="2044.9" r="4.18"/>
<circle cx="435.8" cy="2044.9" r="4.18"/>
<circle cx="463.6" cy="2044.5" r="4.18"/>
<circle cx="356.5" cy="2055.3" r="4.18"/>
<circle cx="414.4" cy="2055.6" r="4.18"/>
<circle cx="460.4" cy="2054.9" r="4.18"/>
<circle cx="478.8" cy="2056.4" r="4.18"/>
<circle cx="446.5" cy="2068.0" r="4.18"/>
<circle cx="465.8" cy="2066.7" r="4.18"/>
<circle cx="390.6" cy="2079.1" r="4.18"/>
<circle cx="410.2" cy="2075.7" r="4.18"/>
<circle cx="421.7" cy="2082.2" r="4.18"/>
<circle cx="442.1" cy="2079.3" r="4.18"/>
<circle cx="381.6" cy="2088.4" r="4.18"/>
<circle cx="390.6" cy="2089.7" r="4.18"/>
<circle cx="405.1" cy="2087.5" r="4.18"/>
<circle cx="429.7" cy="2088.6" r="4.18"/>
<circle cx="439.4" cy="2096.1" r="4.18"/>
<circle cx="446.7" cy="2091.5" r="4.18"/>
<circle cx="446.7" cy="2097.2" r="4.18"/>
<circle cx="334.1" cy="2091.9" r="4.18"/>
<circle cx="403.9" cy="2134.7" r="4.18"/>
<circle cx="410.4" cy="2130.2" r="4.18"/>
<circle cx="467.7" cy="2134.0" r="4.18"/>
<circle cx="383.5" cy="2145.8" r="4.18"/>
<circle cx="385.6" cy="2148.9" r="4.18"/>
<circle cx="389.8" cy="2158.2" r="4.18"/>
<circle cx="364.7" cy="2181.7" r="4.18"/>
<circle cx="367.6" cy="2200.9" r="4.18"/>
<circle cx="394.8" cy="2198.7" r="4.18"/>
<circle cx="487.9" cy="2217.3" r="4.18"/>
<circle cx="513.2" cy="2204.5" r="4.18"/>
<circle cx="517.4" cy="2205.6" r="4.18"/>
<circle cx="524.7" cy="2201.0" r="4.18"/>
<circle cx="534.3" cy="2199.0" r="4.18"/>
<circle cx="544.2" cy="2188.1" r="4.18"/>
<circle cx="556.4" cy="2191.8" r="4.18"/>
<circle cx="560.2" cy="2178.8" r="4.18"/>
<circle cx="576.8" cy="2164.4" r="4.18"/>
<circle cx="587.0" cy="2171.2" r="4.18"/>
<circle cx="572.8" cy="2181.4" r="4.18"/>
<circle cx="580.6" cy="2181.9" r="4.18"/>
<circle cx="583.4" cy="2180.1" r="4.18"/>
<circle cx="577.9" cy="2191.9" r="4.18"/>
<circle cx="582.5" cy="2186.8" r="4.18"/>
<circle cx="584.3" cy="2191.4" r="4.18"/>
<circle cx="586.1" cy="2200.5" r="4.18"/>
<circle cx="591.6" cy="2195.0" r="4.18"/>
<circle cx="595.2" cy="2194.1" r="4.18"/>
<circle cx="600.7" cy="2200.9" r="4.18"/>
<circle cx="577.0" cy="2210.7" r="4.18"/>
<circle cx="595.2" cy="2209.2" r="4.18"/>
<circle cx="598.3" cy="2211.8" r="4.18"/>
</g>
<g fill="#e4277f" fill-opacity="0.72" stroke="#e4277f" stroke-opacity="0.90" stroke-width="1.84">
<circle cx="388.0" cy="1780.0" r="4.18"/>
<circle cx="415.2" cy="1778.8" r="4.18"/>
<circle cx="436.7" cy="1776.4" r="4.18"/>
<circle cx="450.7" cy="1779.1" r="4.18"/>
<circle cx="372.9" cy="1791.0" r="4.18"/>
<circle cx="372.3" cy="1794.6" r="4.18"/>
<circle cx="391.1" cy="1794.6" r="4.18"/>
<circle cx="416.1" cy="1791.3" r="4.18"/>
<circle cx="426.1" cy="1788.8" r="4.18"/>
<circle cx="427.2" cy="1794.6" r="4.18"/>
<circle cx="440.3" cy="1788.2" r="4.18"/>
<circle cx="458.2" cy="1794.6" r="4.18"/>
<circle cx="466.7" cy="1790.6" r="4.18"/>
<circle cx="471.3" cy="1792.8" r="4.18"/>
<circle cx="360.3" cy="1802.1" r="4.18"/>
<circle cx="385.3" cy="1809.6" r="4.18"/>
<circle cx="401.7" cy="1805.0" r="4.18"/>
<circle cx="416.8" cy="1805.9" r="4.18"/>
<circle cx="440.3" cy="1807.0" r="4.18"/>
<circle cx="444.9" cy="1811.0" r="4.18"/>
<circle cx="472.8" cy="1803.2" r="4.18"/>
<circle cx="479.5" cy="1805.6" r="4.18"/>
<circle cx="481.3" cy="1805.0" r="4.18"/>
<circle cx="488.6" cy="1810.1" r="4.18"/>
<circle cx="497.4" cy="1804.5" r="4.18"/>
<circle cx="498.6" cy="1811.4" r="4.18"/>
<circle cx="452.2" cy="1817.9" r="4.18"/>
<circle cx="464.9" cy="1824.3" r="4.18"/>
<circle cx="503.6" cy="1822.0" r="4.18"/>
<circle cx="394.6" cy="1830.7" r="4.18"/>
<circle cx="514.7" cy="1832.9" r="4.18"/>
<circle cx="518.9" cy="1844.7" r="4.18"/>
<circle cx="547.7" cy="1842.0" r="4.18"/>
<circle cx="552.4" cy="1850.9" r="4.18"/>
<circle cx="414.8" cy="1846.0" r="4.18"/>
<circle cx="431.8" cy="1847.5" r="4.18"/>
<circle cx="464.0" cy="1855.1" r="4.18"/>
<circle cx="511.9" cy="1854.2" r="4.18"/>
<circle cx="508.3" cy="1862.4" r="4.18"/>
<circle cx="511.0" cy="1868.4" r="4.18"/>
<circle cx="511.9" cy="1873.0" r="4.18"/>
<circle cx="532.9" cy="1863.5" r="4.18"/>
<circle cx="424.5" cy="1867.9" r="4.18"/>
<circle cx="410.1" cy="1873.5" r="4.18"/>
<circle cx="476.2" cy="1886.6" r="4.18"/>
<circle cx="482.6" cy="1895.0" r="4.18"/>
<circle cx="567.1" cy="1900.0" r="4.18"/>
<circle cx="571.5" cy="1901.2" r="4.18"/>
<circle cx="574.3" cy="1900.7" r="4.18"/>
<circle cx="575.5" cy="1906.9" r="4.18"/>
<circle cx="455.3" cy="1916.2" r="4.18"/>
<circle cx="531.8" cy="1916.5" r="4.18"/>
<circle cx="464.6" cy="1940.4" r="4.18"/>
<circle cx="512.1" cy="1941.7" r="4.18"/>
<circle cx="546.2" cy="1934.2" r="4.18"/>
<circle cx="547.7" cy="1942.8" r="4.18"/>
<circle cx="483.3" cy="1963.9" r="4.18"/>
<circle cx="534.2" cy="1960.5" r="4.18"/>
<circle cx="537.8" cy="1963.9" r="4.18"/>
<circle cx="531.8" cy="1967.9" r="4.18"/>
<circle cx="533.8" cy="1975.9" r="4.18"/>
<circle cx="529.2" cy="1987.4" r="4.18"/>
</g>
<path d="M121 2016.5 C150 2038 195 2072 222.8 2091.2 C250 2110 280 2128 303 2137.7 C340 2152 375 2164 405.7 2174.1 L482.2 2177.2 C492 2177.5 496 2175 499 2169.9 L485 2126.7 C470 2098 455 2072 447 2045 C438 2010 441 1985 445.8 1960.5 C452 1925 462 1890 460 1860 C459 1838 455 1818 451.5 1800" fill="none" stroke="#000" stroke-width="2.7" stroke-linejoin="round"/>
<path d="M444 1782.5 L438 1804 L461 1797 Z" fill="#000" stroke="#000" stroke-width="1" stroke-linejoin="round"/>
<rect x="74.0" y="1772.9" width="3.2" height="3.2" fill="#222" />
<rect x="74.0" y="1917.6" width="3.2" height="3.2" fill="#222" />
<rect x="74.0" y="2061.9" width="3.2" height="3.2" fill="#222" />
<rect x="74.0" y="2206.3" width="3.2" height="3.2" fill="#222" />
<rect x="137.0" y="2351.0" width="3.2" height="3.6" fill="#222" />
<rect x="308.0" y="2351.0" width="3.2" height="3.6" fill="#222" />
<rect x="478.9" y="2351.0" width="3.2" height="3.6" fill="#222" />
<rect x="650.3" y="2351.0" width="3.2" height="3.6" fill="#222" />
<text x="284.0" y="1811.5" font-size="20.9" text-anchor="start" fill="#000" >Acta2+</text>
<text x="521.0" y="2109.5" font-size="20.9" text-anchor="start" fill="#000" >Acta2+/-</text>
<text x="108.5" y="2150.0" font-size="20.9" text-anchor="start" fill="#000" >Acta2-</text>
<text x="381.5" y="2386.0" font-size="20.7" text-anchor="middle" fill="#000" >TSNE_1</text>
<text x="58.5" y="2025.0" font-size="20.7" text-anchor="middle" transform="rotate(-90 58.5 2025.0)" fill="#000" >TSNE_2</text>
<text x="370.0" y="1713.0" font-size="24.1" text-anchor="middle" fill="#000" >Acta2 negative-to-Acta2 positive maturation of</text>
<text x="385.5" y="1738.2" font-size="24.1" text-anchor="middle" fill="#000" >sclerotome-derived <tspan font-style="italic">Cspg4+Runx1+</tspan> vSMCs in WT AGM</text>
<text x="2.0" y="1693.2" font-size="33.6" text-anchor="start" font-weight="bold" fill="#000" >f</text>
<text x="1354.5" y="1717.6" font-size="27" text-anchor="middle" fill="#000" textLength="840.5" lengthAdjust="spacingAndGlyphs">Runx1+PC/vSMC maturation pseudotemporal trajectories in WT E11 AGM</text>
<line x1="812.0" y1="1727.3" x2="1935.5" y2="1727.3" stroke="#555" stroke-width="1.3" />
<rect x="812.5" y="1744.7" width="500.0" height="96.9" fill="#ebebeb" />
<path d="M812.5 1825.7H1312.5M812.5 1797.0H1312.5M812.5 1768.2H1312.5M890.5 1744.7V1841.6M1005.5 1744.7V1841.6M1120.5 1744.7V1841.6M1235.5 1744.7V1841.6" stroke="#fff" stroke-width="2.3" fill="none"/>
<path d="M812.5 1840.0H1312.5M812.5 1811.3H1312.5M812.5 1782.6H1312.5M812.5 1753.9H1312.5M833.0 1744.7V1841.6M948.0 1744.7V1841.6M1063.0 1744.7V1841.6M1178.0 1744.7V1841.6M1293.0 1744.7V1841.6" stroke="#fff" stroke-width="3.4" fill="none"/>
<g fill="#d5b5da" fill-opacity="0.85" stroke="#d5b5da" stroke-opacity="0.90" stroke-width="0.93">
<circle cx="835.3" cy="1814.7" r="2.64"/>
<circle cx="836.0" cy="1808.5" r="2.64"/>
<circle cx="838.6" cy="1808.4" r="2.64"/>
<circle cx="839.8" cy="1788.3" r="2.64"/>
<circle cx="840.5" cy="1796.8" r="2.64"/>
<circle cx="842.7" cy="1803.0" r="2.64"/>
<circle cx="844.9" cy="1788.2" r="2.64"/>
<circle cx="847.1" cy="1802.4" r="2.64"/>
<circle cx="847.7" cy="1796.4" r="2.64"/>
<circle cx="849.4" cy="1787.3" r="2.64"/>
<circle cx="851.2" cy="1793.7" r="2.64"/>
<circle cx="853.6" cy="1789.5" r="2.64"/>
<circle cx="855.8" cy="1777.5" r="2.64"/>
<circle cx="856.6" cy="1797.1" r="2.64"/>
<circle cx="859.9" cy="1788.9" r="2.64"/>
<circle cx="860.5" cy="1779.1" r="2.64"/>
<circle cx="864.2" cy="1803.9" r="2.64"/>
<circle cx="870.1" cy="1784.0" r="2.64"/>
<circle cx="875.1" cy="1779.5" r="2.64"/>
<circle cx="876.0" cy="1780.4" r="2.64"/>
<circle cx="883.1" cy="1785.4" r="2.64"/>
<circle cx="883.7" cy="1800.9" r="2.64"/>
<circle cx="886.1" cy="1792.2" r="2.64"/>
<circle cx="892.2" cy="1776.6" r="2.64"/>
<circle cx="894.0" cy="1799.6" r="2.64"/>
<circle cx="897.7" cy="1793.3" r="2.64"/>
<circle cx="900.9" cy="1790.0" r="2.64"/>
<circle cx="901.2" cy="1791.7" r="2.64"/>
<circle cx="902.3" cy="1784.1" r="2.64"/>
<circle cx="902.5" cy="1792.3" r="2.64"/>
<circle cx="907.2" cy="1804.6" r="2.64"/>
<circle cx="907.4" cy="1799.1" r="2.64"/>
<circle cx="908.1" cy="1804.8" r="2.64"/>
<circle cx="910.1" cy="1783.4" r="2.64"/>
<circle cx="910.2" cy="1806.7" r="2.64"/>
<circle cx="912.8" cy="1794.0" r="2.64"/>
<circle cx="915.3" cy="1790.8" r="2.64"/>
<circle cx="916.9" cy="1800.5" r="2.64"/>
<circle cx="924.0" cy="1808.6" r="2.64"/>
<circle cx="927.8" cy="1796.9" r="2.64"/>
<circle cx="929.9" cy="1802.1" r="2.64"/>
<circle cx="932.7" cy="1792.5" r="2.64"/>
<circle cx="933.2" cy="1792.7" r="2.64"/>
<circle cx="934.3" cy="1801.6" r="2.64"/>
<circle cx="942.6" cy="1814.2" r="2.64"/>
<circle cx="946.8" cy="1781.0" r="2.64"/>
<circle cx="948.7" cy="1774.0" r="2.64"/>
</g>
<g fill="#e36fba" fill-opacity="0.85" stroke="#e36fba" stroke-opacity="0.90" stroke-width="0.93">
<circle cx="958.5" cy="1820.3" r="2.64"/>
<circle cx="961.8" cy="1818.1" r="2.64"/>
<circle cx="962.4" cy="1818.5" r="2.64"/>
<circle cx="966.3" cy="1814.3" r="2.64"/>
<circle cx="967.1" cy="1823.5" r="2.64"/>
<circle cx="968.3" cy="1831.4" r="2.64"/>
<circle cx="968.8" cy="1831.8" r="2.64"/>
<circle cx="970.6" cy="1804.0" r="2.64"/>
<circle cx="971.8" cy="1820.3" r="2.64"/>
<circle cx="975.7" cy="1807.6" r="2.64"/>
<circle cx="976.8" cy="1820.2" r="2.64"/>
<circle cx="978.3" cy="1813.0" r="2.64"/>
<circle cx="978.8" cy="1812.3" r="2.64"/>
<circle cx="988.4" cy="1819.2" r="2.64"/>
<circle cx="988.7" cy="1822.1" r="2.64"/>
<circle cx="989.4" cy="1813.6" r="2.64"/>
<circle cx="989.7" cy="1808.7" r="2.64"/>
<circle cx="991.4" cy="1820.1" r="2.64"/>
<circle cx="993.0" cy="1818.7" r="2.64"/>
<circle cx="993.9" cy="1819.3" r="2.64"/>
<circle cx="996.1" cy="1820.2" r="2.64"/>
<circle cx="999.0" cy="1813.7" r="2.64"/>
<circle cx="999.1" cy="1827.9" r="2.64"/>
<circle cx="1000.0" cy="1806.5" r="2.64"/>
<circle cx="1001.3" cy="1816.0" r="2.64"/>
<circle cx="1006.2" cy="1816.6" r="2.64"/>
<circle cx="1018.4" cy="1824.5" r="2.64"/>
<circle cx="1019.4" cy="1807.2" r="2.64"/>
<circle cx="1026.2" cy="1808.7" r="2.64"/>
<circle cx="1026.6" cy="1809.8" r="2.64"/>
<circle cx="1032.4" cy="1831.8" r="2.64"/>
<circle cx="1035.4" cy="1816.9" r="2.64"/>
<circle cx="1040.9" cy="1820.1" r="2.64"/>
<circle cx="1041.1" cy="1806.1" r="2.64"/>
<circle cx="1042.1" cy="1823.7" r="2.64"/>
<circle cx="1045.4" cy="1824.3" r="2.64"/>
<circle cx="1046.6" cy="1815.0" r="2.64"/>
<circle cx="1048.2" cy="1826.1" r="2.64"/>
<circle cx="1051.9" cy="1820.9" r="2.64"/>
<circle cx="1052.7" cy="1810.1" r="2.64"/>
<circle cx="1053.5" cy="1808.9" r="2.64"/>
<circle cx="1053.7" cy="1814.4" r="2.64"/>
<circle cx="1055.7" cy="1816.2" r="2.64"/>
<circle cx="1056.9" cy="1827.5" r="2.64"/>
<circle cx="1059.3" cy="1828.5" r="2.64"/>
<circle cx="1061.9" cy="1809.3" r="2.64"/>
<circle cx="1070.5" cy="1820.2" r="2.64"/>
<circle cx="1073.5" cy="1817.8" r="2.64"/>
<circle cx="1075.6" cy="1804.2" r="2.64"/>
<circle cx="1077.5" cy="1808.0" r="2.64"/>
<circle cx="1080.1" cy="1818.6" r="2.64"/>
<circle cx="1082.2" cy="1823.2" r="2.64"/>
<circle cx="1082.8" cy="1818.0" r="2.64"/>
<circle cx="1083.7" cy="1816.2" r="2.64"/>
<circle cx="1095.9" cy="1815.8" r="2.64"/>
<circle cx="1098.0" cy="1825.9" r="2.64"/>
<circle cx="1099.0" cy="1821.9" r="2.64"/>
<circle cx="1099.1" cy="1832.6" r="2.64"/>
<circle cx="1105.0" cy="1821.4" r="2.64"/>
<circle cx="1109.2" cy="1822.8" r="2.64"/>
<circle cx="1112.7" cy="1822.1" r="2.64"/>
<circle cx="1115.7" cy="1807.1" r="2.64"/>
<circle cx="1118.2" cy="1823.9" r="2.64"/>
<circle cx="1118.6" cy="1816.6" r="2.64"/>
<circle cx="1120.1" cy="1803.7" r="2.64"/>
<circle cx="1121.6" cy="1810.5" r="2.64"/>
<circle cx="1121.9" cy="1826.3" r="2.64"/>
<circle cx="1124.6" cy="1804.6" r="2.64"/>
<circle cx="1127.9" cy="1830.3" r="2.64"/>
<circle cx="1129.4" cy="1824.7" r="2.64"/>
<circle cx="1130.1" cy="1828.5" r="2.64"/>
<circle cx="1130.4" cy="1829.6" r="2.64"/>
<circle cx="1130.6" cy="1825.4" r="2.64"/>
<circle cx="1103.2" cy="1769.7" r="2.64"/>
</g>
<g fill="#e4277f" fill-opacity="0.85" stroke="#e4277f" stroke-opacity="0.90" stroke-width="0.93">
<circle cx="1137.0" cy="1814.4" r="2.64"/>
<circle cx="1137.7" cy="1805.3" r="2.64"/>
<circle cx="1140.4" cy="1815.3" r="2.64"/>
<circle cx="1143.3" cy="1804.2" r="2.64"/>
<circle cx="1143.3" cy="1816.2" r="2.64"/>
<circle cx="1147.0" cy="1824.7" r="2.64"/>
<circle cx="1148.0" cy="1826.2" r="2.64"/>
<circle cx="1148.4" cy="1827.7" r="2.64"/>
<circle cx="1149.1" cy="1823.4" r="2.64"/>
<circle cx="1149.2" cy="1825.2" r="2.64"/>
<circle cx="1149.4" cy="1805.1" r="2.64"/>
<circle cx="1150.9" cy="1819.5" r="2.64"/>
<circle cx="1155.4" cy="1809.4" r="2.64"/>
<circle cx="1155.5" cy="1803.2" r="2.64"/>
<circle cx="1162.3" cy="1801.6" r="2.64"/>
<circle cx="1162.6" cy="1778.4" r="2.64"/>
<circle cx="1166.8" cy="1792.1" r="2.64"/>
<circle cx="1167.2" cy="1801.8" r="2.64"/>
<circle cx="1167.8" cy="1785.6" r="2.64"/>
<circle cx="1170.6" cy="1806.6" r="2.64"/>
<circle cx="1171.5" cy="1812.8" r="2.64"/>
<circle cx="1172.4" cy="1809.0" r="2.64"/>
<circle cx="1175.4" cy="1790.9" r="2.64"/>
<circle cx="1176.0" cy="1812.6" r="2.64"/>
<circle cx="1178.7" cy="1795.4" r="2.64"/>
<circle cx="1180.5" cy="1809.3" r="2.64"/>
<circle cx="1183.3" cy="1779.6" r="2.64"/>
<circle cx="1185.1" cy="1810.8" r="2.64"/>
<circle cx="1187.4" cy="1811.3" r="2.64"/>
<circle cx="1187.5" cy="1803.4" r="2.64"/>
<circle cx="1187.8" cy="1798.5" r="2.64"/>
<circle cx="1190.0" cy="1783.5" r="2.64"/>
<circle cx="1190.7" cy="1793.6" r="2.64"/>
<circle cx="1192.5" cy="1795.7" r="2.64"/>
<circle cx="1193.3" cy="1806.4" r="2.64"/>
<circle cx="1193.4" cy="1806.7" r="2.64"/>
<circle cx="1196.7" cy="1795.6" r="2.64"/>
<circle cx="1197.6" cy="1778.2" r="2.64"/>
<circle cx="1197.6" cy="1792.7" r="2.64"/>
<circle cx="1197.8" cy="1799.6" r="2.64"/>
<circle cx="1206.5" cy="1803.7" r="2.64"/>
<circle cx="1207.3" cy="1813.6" r="2.64"/>
<circle cx="1210.9" cy="1785.5" r="2.64"/>
<circle cx="1211.7" cy="1792.8" r="2.64"/>
<circle cx="1215.6" cy="1803.1" r="2.64"/>
<circle cx="1216.4" cy="1775.1" r="2.64"/>
<circle cx="1218.4" cy="1782.7" r="2.64"/>
<circle cx="1219.3" cy="1805.9" r="2.64"/>
<circle cx="1219.3" cy="1792.6" r="2.64"/>
<circle cx="1222.7" cy="1814.8" r="2.64"/>
<circle cx="1226.1" cy="1803.0" r="2.64"/>
<circle cx="1229.6" cy="1784.1" r="2.64"/>
<circle cx="1230.7" cy="1803.9" r="2.64"/>
<circle cx="1231.4" cy="1796.0" r="2.64"/>
<circle cx="1231.9" cy="1811.5" r="2.64"/>
<circle cx="1241.6" cy="1784.2" r="2.64"/>
<circle cx="1244.9" cy="1787.5" r="2.64"/>
<circle cx="1251.8" cy="1808.5" r="2.64"/>
<circle cx="1251.9" cy="1781.8" r="2.64"/>
<circle cx="1252.7" cy="1799.6" r="2.64"/>
<circle cx="1254.6" cy="1809.8" r="2.64"/>
<circle cx="1255.5" cy="1794.2" r="2.64"/>
<circle cx="1258.0" cy="1807.2" r="2.64"/>
<circle cx="1261.5" cy="1815.4" r="2.64"/>
<circle cx="1263.1" cy="1789.2" r="2.64"/>
<circle cx="1263.6" cy="1810.8" r="2.64"/>
<circle cx="1263.8" cy="1790.9" r="2.64"/>
<circle cx="1264.2" cy="1782.8" r="2.64"/>
<circle cx="1265.2" cy="1783.7" r="2.64"/>
<circle cx="1265.3" cy="1817.6" r="2.64"/>
<circle cx="1267.1" cy="1819.0" r="2.64"/>
<circle cx="1269.6" cy="1802.1" r="2.64"/>
<circle cx="1270.2" cy="1781.5" r="2.64"/>
<circle cx="1271.7" cy="1774.4" r="2.64"/>
<circle cx="1272.5" cy="1796.5" r="2.64"/>
<circle cx="1274.8" cy="1818.3" r="2.64"/>
<circle cx="1278.7" cy="1794.6" r="2.64"/>
<circle cx="1279.1" cy="1812.4" r="2.64"/>
<circle cx="1279.1" cy="1812.2" r="2.64"/>
<circle cx="1282.0" cy="1796.8" r="2.64"/>
<circle cx="1283.9" cy="1773.6" r="2.64"/>
<circle cx="1284.7" cy="1785.3" r="2.64"/>
<circle cx="1288.5" cy="1809.4" r="2.64"/>
<circle cx="1289.7" cy="1780.5" r="2.64"/>
<circle cx="1276.3" cy="1749.6" r="2.64"/>
<circle cx="1180.7" cy="1759.6" r="2.64"/>
</g>
<path d="M834.9 1786.7C844.0 1788.8 870.7 1795.5 889.5 1799.4C908.4 1803.4 928.4 1807.3 947.9 1810.4C967.3 1813.4 986.7 1816.0 1006.2 1817.7C1025.6 1819.4 1045.7 1820.9 1064.5 1820.6C1083.3 1820.3 1100.3 1818.2 1119.2 1815.8C1138.0 1813.5 1158.4 1810.1 1177.5 1806.7C1196.6 1803.4 1215.3 1799.6 1234.0 1795.8C1252.7 1792.0 1280.5 1786.1 1289.8 1784.1" stroke="#8a9a9a" stroke-opacity="0.22" stroke-width="13.5" fill="none"/>
<path d="M834.9 1777.9L864.9 1788.4L864.9 1799.0L834.9 1795.5Z" fill="#6f7c7c" fill-opacity="0.38"/>
<path d="M1289.8 1775.3L1259.8 1785.1L1259.8 1795.7L1289.8 1792.9Z" fill="#6f7c7c" fill-opacity="0.38"/>
<path d="M834.9 1786.7C844.0 1788.8 870.7 1795.5 889.5 1799.4C908.4 1803.4 928.4 1807.3 947.9 1810.4C967.3 1813.4 986.7 1816.0 1006.2 1817.7C1025.6 1819.4 1045.7 1820.9 1064.5 1820.6C1083.3 1820.3 1100.3 1818.2 1119.2 1815.8C1138.0 1813.5 1158.4 1810.1 1177.5 1806.7C1196.6 1803.4 1215.3 1799.6 1234.0 1795.8C1252.7 1792.0 1280.5 1786.1 1289.8 1784.1" stroke="#ff0000" stroke-width="10.2" fill="none"/>
<rect x="809.9" y="1838.5" width="2.4" height="3.0" fill="#111" />
<text x="808.5" y="1843.4" font-size="9.6" text-anchor="end" fill="#222" >0</text>
<rect x="809.9" y="1809.8" width="2.4" height="3.0" fill="#111" />
<text x="808.5" y="1814.7" font-size="9.6" text-anchor="end" fill="#222" >1</text>
<rect x="809.9" y="1781.1" width="2.4" height="3.0" fill="#111" />
<text x="808.5" y="1786.0" font-size="9.6" text-anchor="end" fill="#222" >2</text>
<rect x="809.9" y="1752.4" width="2.4" height="3.0" fill="#111" />
<text x="808.5" y="1757.3" font-size="9.6" text-anchor="end" fill="#222" >3</text>
<text x="792.0" y="1798.7" font-size="23.7" text-anchor="end" font-style="italic" fill="#000" >Cspg4</text>
<rect x="812.5" y="1846.4" width="500.0" height="99.1" fill="#ebebeb" />
<path d="M812.5 1925.1H1312.5M812.5 1891.2H1312.5M812.5 1857.3H1312.5M890.5 1846.4V1945.5M1005.5 1846.4V1945.5M1120.5 1846.4V1945.5M1235.5 1846.4V1945.5" stroke="#fff" stroke-width="2.3" fill="none"/>
<path d="M812.5 1942.1H1312.5M812.5 1908.2H1312.5M812.5 1874.3H1312.5M833.0 1846.4V1945.5M948.0 1846.4V1945.5M1063.0 1846.4V1945.5M1178.0 1846.4V1945.5M1293.0 1846.4V1945.5" stroke="#fff" stroke-width="3.4" fill="none"/>
<g fill="#d5b5da" fill-opacity="0.85" stroke="#d5b5da" stroke-opacity="0.90" stroke-width="0.93">
<circle cx="835.3" cy="1897.0" r="2.64"/>
<circle cx="836.0" cy="1881.4" r="2.64"/>
<circle cx="838.6" cy="1886.2" r="2.64"/>
<circle cx="839.8" cy="1905.6" r="2.64"/>
<circle cx="840.5" cy="1898.3" r="2.64"/>
<circle cx="842.7" cy="1902.8" r="2.64"/>
<circle cx="844.9" cy="1893.2" r="2.64"/>
<circle cx="847.1" cy="1906.2" r="2.64"/>
<circle cx="847.7" cy="1897.5" r="2.64"/>
<circle cx="849.4" cy="1911.1" r="2.64"/>
<circle cx="851.2" cy="1894.0" r="2.64"/>
<circle cx="853.6" cy="1886.0" r="2.64"/>
<circle cx="855.8" cy="1903.3" r="2.64"/>
<circle cx="856.6" cy="1873.8" r="2.64"/>
<circle cx="859.9" cy="1906.3" r="2.64"/>
<circle cx="860.5" cy="1890.5" r="2.64"/>
<circle cx="864.2" cy="1883.6" r="2.64"/>
<circle cx="870.1" cy="1896.9" r="2.64"/>
<circle cx="875.1" cy="1872.3" r="2.64"/>
<circle cx="876.0" cy="1881.0" r="2.64"/>
<circle cx="883.1" cy="1890.2" r="2.64"/>
<circle cx="883.7" cy="1880.6" r="2.64"/>
<circle cx="886.1" cy="1901.1" r="2.64"/>
<circle cx="892.2" cy="1897.9" r="2.64"/>
<circle cx="894.0" cy="1910.4" r="2.64"/>
<circle cx="897.7" cy="1906.0" r="2.64"/>
<circle cx="900.9" cy="1889.0" r="2.64"/>
<circle cx="901.2" cy="1869.9" r="2.64"/>
<circle cx="902.3" cy="1908.3" r="2.64"/>
<circle cx="902.5" cy="1892.1" r="2.64"/>
<circle cx="907.2" cy="1899.5" r="2.64"/>
<circle cx="907.4" cy="1887.2" r="2.64"/>
<circle cx="908.1" cy="1877.9" r="2.64"/>
<circle cx="910.1" cy="1912.9" r="2.64"/>
<circle cx="910.2" cy="1898.2" r="2.64"/>
<circle cx="912.8" cy="1876.4" r="2.64"/>
<circle cx="915.3" cy="1895.8" r="2.64"/>
<circle cx="916.9" cy="1894.9" r="2.64"/>
<circle cx="924.0" cy="1899.0" r="2.64"/>
<circle cx="927.8" cy="1893.3" r="2.64"/>
<circle cx="929.9" cy="1895.3" r="2.64"/>
<circle cx="932.7" cy="1906.9" r="2.64"/>
<circle cx="933.2" cy="1909.7" r="2.64"/>
<circle cx="934.3" cy="1875.5" r="2.64"/>
<circle cx="942.6" cy="1884.7" r="2.64"/>
<circle cx="946.8" cy="1865.8" r="2.64"/>
<circle cx="948.7" cy="1888.6" r="2.64"/>
<circle cx="857.3" cy="1852.3" r="2.64"/>
</g>
<g fill="#e36fba" fill-opacity="0.85" stroke="#e36fba" stroke-opacity="0.90" stroke-width="0.93">
<circle cx="958.5" cy="1903.2" r="2.64"/>
<circle cx="961.8" cy="1899.7" r="2.64"/>
<circle cx="962.4" cy="1897.9" r="2.64"/>
<circle cx="966.3" cy="1912.4" r="2.64"/>
<circle cx="967.1" cy="1917.4" r="2.64"/>
<circle cx="968.3" cy="1923.7" r="2.64"/>
<circle cx="968.8" cy="1901.9" r="2.64"/>
<circle cx="970.6" cy="1894.0" r="2.64"/>
<circle cx="971.8" cy="1895.9" r="2.64"/>
<circle cx="975.7" cy="1911.6" r="2.64"/>
<circle cx="976.8" cy="1899.7" r="2.64"/>
<circle cx="978.3" cy="1926.8" r="2.64"/>
<circle cx="978.8" cy="1900.0" r="2.64"/>
<circle cx="988.4" cy="1911.8" r="2.64"/>
<circle cx="988.7" cy="1910.6" r="2.64"/>
<circle cx="989.4" cy="1912.6" r="2.64"/>
<circle cx="989.7" cy="1912.7" r="2.64"/>
<circle cx="991.4" cy="1930.6" r="2.64"/>
<circle cx="993.0" cy="1931.0" r="2.64"/>
<circle cx="993.9" cy="1893.5" r="2.64"/>
<circle cx="996.1" cy="1916.0" r="2.64"/>
<circle cx="999.0" cy="1911.6" r="2.64"/>
<circle cx="999.1" cy="1927.2" r="2.64"/>
<circle cx="1000.0" cy="1896.9" r="2.64"/>
<circle cx="1001.3" cy="1925.2" r="2.64"/>
<circle cx="1006.2" cy="1904.1" r="2.64"/>
<circle cx="1018.4" cy="1923.6" r="2.64"/>
<circle cx="1019.4" cy="1900.8" r="2.64"/>
<circle cx="1026.2" cy="1918.2" r="2.64"/>
<circle cx="1026.6" cy="1907.6" r="2.64"/>
<circle cx="1032.4" cy="1924.1" r="2.64"/>
<circle cx="1035.4" cy="1896.4" r="2.64"/>
<circle cx="1040.9" cy="1906.0" r="2.64"/>
<circle cx="1041.1" cy="1904.7" r="2.64"/>
<circle cx="1042.1" cy="1918.6" r="2.64"/>
<circle cx="1045.4" cy="1911.1" r="2.64"/>
<circle cx="1046.6" cy="1906.2" r="2.64"/>
<circle cx="1048.2" cy="1923.4" r="2.64"/>
<circle cx="1051.9" cy="1896.6" r="2.64"/>
<circle cx="1052.7" cy="1898.5" r="2.64"/>
<circle cx="1053.5" cy="1908.6" r="2.64"/>
<circle cx="1053.7" cy="1923.8" r="2.64"/>
<circle cx="1055.7" cy="1904.7" r="2.64"/>
<circle cx="1056.9" cy="1925.4" r="2.64"/>
<circle cx="1059.3" cy="1888.3" r="2.64"/>
<circle cx="1061.9" cy="1918.8" r="2.64"/>
<circle cx="1070.5" cy="1928.5" r="2.64"/>
<circle cx="1073.5" cy="1924.5" r="2.64"/>
<circle cx="1075.6" cy="1884.4" r="2.64"/>
<circle cx="1077.5" cy="1911.7" r="2.64"/>
<circle cx="1080.1" cy="1918.5" r="2.64"/>
<circle cx="1082.2" cy="1908.7" r="2.64"/>
<circle cx="1082.8" cy="1894.0" r="2.64"/>
<circle cx="1083.7" cy="1915.7" r="2.64"/>
<circle cx="1095.9" cy="1907.8" r="2.64"/>
<circle cx="1098.0" cy="1904.5" r="2.64"/>
<circle cx="1099.0" cy="1930.1" r="2.64"/>
<circle cx="1099.1" cy="1910.7" r="2.64"/>
<circle cx="1105.0" cy="1906.2" r="2.64"/>
<circle cx="1109.2" cy="1908.2" r="2.64"/>
<circle cx="1112.7" cy="1898.3" r="2.64"/>
<circle cx="1115.7" cy="1911.0" r="2.64"/>
<circle cx="1118.2" cy="1905.5" r="2.64"/>
<circle cx="1118.6" cy="1928.3" r="2.64"/>
<circle cx="1120.1" cy="1895.3" r="2.64"/>
<circle cx="1121.6" cy="1913.5" r="2.64"/>
<circle cx="1121.9" cy="1918.8" r="2.64"/>
<circle cx="1124.6" cy="1912.5" r="2.64"/>
<circle cx="1127.9" cy="1910.1" r="2.64"/>
<circle cx="1129.4" cy="1898.4" r="2.64"/>
<circle cx="1130.1" cy="1918.6" r="2.64"/>
<circle cx="1130.4" cy="1920.3" r="2.64"/>
<circle cx="1130.6" cy="1905.4" r="2.64"/>
<circle cx="1048.6" cy="1862.4" r="2.64"/>
</g>
<g fill="#e4277f" fill-opacity="0.85" stroke="#e4277f" stroke-opacity="0.90" stroke-width="0.93">
<circle cx="1137.0" cy="1895.0" r="2.64"/>
<circle cx="1137.7" cy="1901.3" r="2.64"/>
<circle cx="1140.4" cy="1906.0" r="2.64"/>
<circle cx="1143.3" cy="1907.8" r="2.64"/>
<circle cx="1143.3" cy="1902.3" r="2.64"/>
<circle cx="1147.0" cy="1909.4" r="2.64"/>
<circle cx="1148.0" cy="1913.8" r="2.64"/>
<circle cx="1148.4" cy="1911.4" r="2.64"/>
<circle cx="1149.1" cy="1919.1" r="2.64"/>
<circle cx="1149.2" cy="1885.8" r="2.64"/>
<circle cx="1149.4" cy="1895.2" r="2.64"/>
<circle cx="1150.9" cy="1911.6" r="2.64"/>
<circle cx="1155.4" cy="1903.7" r="2.64"/>
<circle cx="1155.5" cy="1885.0" r="2.64"/>
<circle cx="1162.3" cy="1891.6" r="2.64"/>
<circle cx="1162.6" cy="1881.5" r="2.64"/>
<circle cx="1166.8" cy="1901.1" r="2.64"/>
<circle cx="1167.2" cy="1893.3" r="2.64"/>
<circle cx="1167.8" cy="1900.0" r="2.64"/>
<circle cx="1170.6" cy="1896.3" r="2.64"/>
<circle cx="1171.5" cy="1893.0" r="2.64"/>
<circle cx="1172.4" cy="1874.8" r="2.64"/>
<circle cx="1175.4" cy="1878.5" r="2.64"/>
<circle cx="1176.0" cy="1877.9" r="2.64"/>
<circle cx="1178.7" cy="1864.8" r="2.64"/>
<circle cx="1180.5" cy="1912.1" r="2.64"/>
<circle cx="1183.3" cy="1910.4" r="2.64"/>
<circle cx="1185.1" cy="1911.2" r="2.64"/>
<circle cx="1187.4" cy="1889.2" r="2.64"/>
<circle cx="1187.5" cy="1865.6" r="2.64"/>
<circle cx="1187.8" cy="1905.2" r="2.64"/>
<circle cx="1190.0" cy="1911.1" r="2.64"/>
<circle cx="1190.7" cy="1878.1" r="2.64"/>
<circle cx="1192.5" cy="1878.6" r="2.64"/>
<circle cx="1193.3" cy="1870.1" r="2.64"/>
<circle cx="1193.4" cy="1882.7" r="2.64"/>
<circle cx="1196.7" cy="1887.9" r="2.64"/>
<circle cx="1197.6" cy="1906.5" r="2.64"/>
<circle cx="1197.6" cy="1894.2" r="2.64"/>
<circle cx="1197.8" cy="1886.3" r="2.64"/>
<circle cx="1206.5" cy="1894.0" r="2.64"/>
<circle cx="1207.3" cy="1915.7" r="2.64"/>
<circle cx="1210.9" cy="1908.1" r="2.64"/>
<circle cx="1211.7" cy="1876.6" r="2.64"/>
<circle cx="1215.6" cy="1884.9" r="2.64"/>
<circle cx="1216.4" cy="1920.1" r="2.64"/>
<circle cx="1218.4" cy="1881.4" r="2.64"/>
<circle cx="1219.3" cy="1884.7" r="2.64"/>
<circle cx="1219.3" cy="1888.3" r="2.64"/>
<circle cx="1222.7" cy="1897.2" r="2.64"/>
<circle cx="1226.1" cy="1908.3" r="2.64"/>
<circle cx="1229.6" cy="1905.6" r="2.64"/>
<circle cx="1230.7" cy="1884.6" r="2.64"/>
<circle cx="1231.4" cy="1888.5" r="2.64"/>
<circle cx="1231.9" cy="1872.5" r="2.64"/>
<circle cx="1241.6" cy="1899.3" r="2.64"/>
<circle cx="1244.9" cy="1901.9" r="2.64"/>
<circle cx="1251.8" cy="1903.3" r="2.64"/>
<circle cx="1251.9" cy="1895.8" r="2.64"/>
<circle cx="1252.7" cy="1901.7" r="2.64"/>
<circle cx="1254.6" cy="1895.6" r="2.64"/>
<circle cx="1255.5" cy="1912.5" r="2.64"/>
<circle cx="1258.0" cy="1912.7" r="2.64"/>
<circle cx="1261.5" cy="1891.9" r="2.64"/>
<circle cx="1263.1" cy="1896.5" r="2.64"/>
<circle cx="1263.6" cy="1894.2" r="2.64"/>
<circle cx="1263.8" cy="1888.5" r="2.64"/>
<circle cx="1264.2" cy="1915.9" r="2.64"/>
<circle cx="1265.2" cy="1890.2" r="2.64"/>
<circle cx="1265.3" cy="1897.7" r="2.64"/>
<circle cx="1267.1" cy="1892.3" r="2.64"/>
<circle cx="1269.6" cy="1892.3" r="2.64"/>
<circle cx="1270.2" cy="1906.8" r="2.64"/>
<circle cx="1271.7" cy="1903.5" r="2.64"/>
<circle cx="1272.5" cy="1900.5" r="2.64"/>
<circle cx="1274.8" cy="1900.2" r="2.64"/>
<circle cx="1278.7" cy="1871.7" r="2.64"/>
<circle cx="1279.1" cy="1902.3" r="2.64"/>
<circle cx="1279.1" cy="1902.9" r="2.64"/>
<circle cx="1282.0" cy="1909.2" r="2.64"/>
<circle cx="1283.9" cy="1881.2" r="2.64"/>
<circle cx="1284.7" cy="1877.9" r="2.64"/>
<circle cx="1288.5" cy="1899.6" r="2.64"/>
<circle cx="1289.7" cy="1893.1" r="2.64"/>
<circle cx="1271.8" cy="1852.3" r="2.64"/>
</g>
<path d="M834.9 1877.8C844.0 1880.5 870.7 1889.7 889.5 1894.2C908.4 1898.8 928.4 1902.6 947.9 1905.2C967.3 1907.7 986.7 1908.8 1006.2 1909.5C1025.6 1910.3 1045.7 1908.9 1064.5 1909.5C1083.3 1910.1 1100.3 1913.2 1119.2 1913.2C1138.0 1913.2 1158.4 1911.8 1177.5 1909.5C1196.6 1907.3 1215.3 1904.5 1234.0 1899.7C1252.7 1894.8 1280.5 1883.6 1289.8 1880.4" stroke="#8a9a9a" stroke-opacity="0.22" stroke-width="13.5" fill="none"/>
<path d="M834.9 1869.0L864.9 1881.5L864.9 1892.1L834.9 1886.6Z" fill="#6f7c7c" fill-opacity="0.38"/>
<path d="M1289.8 1871.6L1259.8 1885.5L1259.8 1896.1L1289.8 1889.2Z" fill="#6f7c7c" fill-opacity="0.38"/>
<path d="M834.9 1877.8C844.0 1880.5 870.7 1889.7 889.5 1894.2C908.4 1898.8 928.4 1902.6 947.9 1905.2C967.3 1907.7 986.7 1908.8 1006.2 1909.5C1025.6 1910.3 1045.7 1908.9 1064.5 1909.5C1083.3 1910.1 1100.3 1913.2 1119.2 1913.2C1138.0 1913.2 1158.4 1911.8 1177.5 1909.5C1196.6 1907.3 1215.3 1904.5 1234.0 1899.7C1252.7 1894.8 1280.5 1883.6 1289.8 1880.4" stroke="#ff0000" stroke-width="10.2" fill="none"/>
<rect x="809.9" y="1940.6" width="2.4" height="3.0" fill="#111" />
<text x="808.5" y="1945.5" font-size="9.6" text-anchor="end" fill="#222" >0</text>
<rect x="809.9" y="1906.7" width="2.4" height="3.0" fill="#111" />
<text x="808.5" y="1911.6" font-size="9.6" text-anchor="end" fill="#222" >1</text>
<rect x="809.9" y="1872.8" width="2.4" height="3.0" fill="#111" />
<text x="808.5" y="1877.7" font-size="9.6" text-anchor="end" fill="#222" >2</text>
<text x="792.0" y="1889.8" font-size="23.7" text-anchor="end" font-style="italic" fill="#000" >Runx1</text>
<rect x="812.5" y="1952.8" width="500.0" height="96.9" fill="#ebebeb" />
<path d="M812.5 2028.4H1312.5M812.5 2006.2H1312.5M812.5 1984.2H1312.5M812.5 1962.1H1312.5M890.5 1952.8V2049.7M1005.5 1952.8V2049.7M1120.5 1952.8V2049.7M1235.5 1952.8V2049.7" stroke="#fff" stroke-width="2.3" fill="none"/>
<path d="M812.5 2039.4H1312.5M812.5 2017.3H1312.5M812.5 1995.2H1312.5M812.5 1973.1H1312.5M833.0 1952.8V2049.7M948.0 1952.8V2049.7M1063.0 1952.8V2049.7M1178.0 1952.8V2049.7M1293.0 1952.8V2049.7" stroke="#fff" stroke-width="3.4" fill="none"/>
<g fill="#d5b5da" fill-opacity="0.85" stroke="#d5b5da" stroke-opacity="0.90" stroke-width="0.93">
<circle cx="835.3" cy="2039.4" r="2.64"/>
<circle cx="836.0" cy="2039.4" r="2.64"/>
<circle cx="838.6" cy="2024.7" r="2.64"/>
<circle cx="839.8" cy="2039.4" r="2.64"/>
<circle cx="840.5" cy="2025.9" r="2.64"/>
<circle cx="842.7" cy="2039.4" r="2.64"/>
<circle cx="844.9" cy="2039.4" r="2.64"/>
<circle cx="847.1" cy="2039.4" r="2.64"/>
<circle cx="847.7" cy="2039.4" r="2.64"/>
<circle cx="849.4" cy="2039.4" r="2.64"/>
<circle cx="851.2" cy="2026.5" r="2.64"/>
<circle cx="853.6" cy="2039.4" r="2.64"/>
<circle cx="855.8" cy="2039.4" r="2.64"/>
<circle cx="856.6" cy="2039.4" r="2.64"/>
<circle cx="859.9" cy="2039.4" r="2.64"/>
<circle cx="860.5" cy="2039.4" r="2.64"/>
<circle cx="864.2" cy="2039.4" r="2.64"/>
<circle cx="870.1" cy="2039.4" r="2.64"/>
<circle cx="875.1" cy="2039.4" r="2.64"/>
<circle cx="876.0" cy="2039.4" r="2.64"/>
<circle cx="883.1" cy="2039.4" r="2.64"/>
<circle cx="883.7" cy="2039.4" r="2.64"/>
<circle cx="886.1" cy="2039.4" r="2.64"/>
<circle cx="892.2" cy="2025.4" r="2.64"/>
<circle cx="894.0" cy="2039.4" r="2.64"/>
<circle cx="897.7" cy="2039.4" r="2.64"/>
<circle cx="900.9" cy="2039.4" r="2.64"/>
<circle cx="901.2" cy="2026.8" r="2.64"/>
<circle cx="902.3" cy="2039.4" r="2.64"/>
<circle cx="902.5" cy="2039.4" r="2.64"/>
<circle cx="907.2" cy="2039.4" r="2.64"/>
<circle cx="907.4" cy="2039.4" r="2.64"/>
<circle cx="908.1" cy="2025.6" r="2.64"/>
<circle cx="910.1" cy="2039.4" r="2.64"/>
<circle cx="910.2" cy="2039.4" r="2.64"/>
<circle cx="912.8" cy="2039.4" r="2.64"/>
<circle cx="915.3" cy="2039.4" r="2.64"/>
<circle cx="916.9" cy="2026.8" r="2.64"/>
<circle cx="924.0" cy="2039.4" r="2.64"/>
<circle cx="927.8" cy="2039.4" r="2.64"/>
<circle cx="929.9" cy="2023.8" r="2.64"/>
<circle cx="932.7" cy="2039.4" r="2.64"/>
<circle cx="933.2" cy="2039.4" r="2.64"/>
<circle cx="934.3" cy="2039.4" r="2.64"/>
<circle cx="942.6" cy="2039.4" r="2.64"/>
<circle cx="946.8" cy="2039.4" r="2.64"/>
<circle cx="948.7" cy="2039.4" r="2.64"/>
</g>
<g fill="#e36fba" fill-opacity="0.85" stroke="#e36fba" stroke-opacity="0.90" stroke-width="0.93">
<circle cx="958.5" cy="2039.4" r="2.64"/>
<circle cx="961.8" cy="2022.5" r="2.64"/>
<circle cx="962.4" cy="2039.4" r="2.64"/>
<circle cx="966.3" cy="2002.8" r="2.64"/>
<circle cx="967.1" cy="2004.9" r="2.64"/>
<circle cx="968.3" cy="2039.4" r="2.64"/>
<circle cx="968.8" cy="2039.4" r="2.64"/>
<circle cx="970.6" cy="2039.4" r="2.64"/>
<circle cx="971.8" cy="2039.4" r="2.64"/>
<circle cx="975.7" cy="2039.4" r="2.64"/>
<circle cx="976.8" cy="2039.4" r="2.64"/>
<circle cx="978.3" cy="2039.4" r="2.64"/>
<circle cx="978.8" cy="2039.4" r="2.64"/>
<circle cx="988.4" cy="2039.4" r="2.64"/>
<circle cx="988.7" cy="2039.4" r="2.64"/>
<circle cx="989.4" cy="2007.5" r="2.64"/>
<circle cx="989.7" cy="2015.0" r="2.64"/>
<circle cx="991.4" cy="2039.4" r="2.64"/>
<circle cx="993.0" cy="2039.4" r="2.64"/>
<circle cx="993.9" cy="2039.4" r="2.64"/>
<circle cx="996.1" cy="2011.9" r="2.64"/>
<circle cx="999.0" cy="2039.4" r="2.64"/>
<circle cx="999.1" cy="2039.4" r="2.64"/>
<circle cx="1000.0" cy="2039.4" r="2.64"/>
<circle cx="1001.3" cy="2039.4" r="2.64"/>
<circle cx="1006.2" cy="2039.4" r="2.64"/>
<circle cx="1018.4" cy="2039.4" r="2.64"/>
<circle cx="1019.4" cy="2039.4" r="2.64"/>
<circle cx="1026.2" cy="2039.4" r="2.64"/>
<circle cx="1026.6" cy="2039.4" r="2.64"/>
<circle cx="1032.4" cy="2039.4" r="2.64"/>
<circle cx="1035.4" cy="2039.4" r="2.64"/>
<circle cx="1040.9" cy="2011.1" r="2.64"/>
<circle cx="1041.1" cy="2039.4" r="2.64"/>
<circle cx="1042.1" cy="2039.4" r="2.64"/>
<circle cx="1045.4" cy="2009.4" r="2.64"/>
<circle cx="1046.6" cy="2007.6" r="2.64"/>
<circle cx="1048.2" cy="2039.4" r="2.64"/>
<circle cx="1051.9" cy="2039.4" r="2.64"/>
<circle cx="1052.7" cy="2039.4" r="2.64"/>
<circle cx="1053.5" cy="2039.4" r="2.64"/>
<circle cx="1053.7" cy="2039.4" r="2.64"/>
<circle cx="1055.7" cy="2016.7" r="2.64"/>
<circle cx="1056.9" cy="2039.4" r="2.64"/>
<circle cx="1059.3" cy="2016.0" r="2.64"/>
<circle cx="1061.9" cy="2039.4" r="2.64"/>
<circle cx="1070.5" cy="2016.0" r="2.64"/>
<circle cx="1073.5" cy="1998.6" r="2.64"/>
<circle cx="1075.6" cy="2039.4" r="2.64"/>
<circle cx="1077.5" cy="2011.6" r="2.64"/>
<circle cx="1080.1" cy="2039.4" r="2.64"/>
<circle cx="1082.2" cy="2017.9" r="2.64"/>
<circle cx="1082.8" cy="2039.4" r="2.64"/>
<circle cx="1083.7" cy="2039.4" r="2.64"/>
<circle cx="1095.9" cy="2039.4" r="2.64"/>
<circle cx="1098.0" cy="2039.4" r="2.64"/>
<circle cx="1099.0" cy="2005.4" r="2.64"/>
<circle cx="1099.1" cy="1996.7" r="2.64"/>
<circle cx="1105.0" cy="2039.4" r="2.64"/>
<circle cx="1109.2" cy="2039.4" r="2.64"/>
<circle cx="1112.7" cy="2039.4" r="2.64"/>
<circle cx="1115.7" cy="2013.1" r="2.64"/>
<circle cx="1118.2" cy="2014.8" r="2.64"/>
<circle cx="1118.6" cy="1999.9" r="2.64"/>
<circle cx="1120.1" cy="1985.9" r="2.64"/>
<circle cx="1121.6" cy="2017.1" r="2.64"/>
<circle cx="1121.9" cy="2004.7" r="2.64"/>
<circle cx="1124.6" cy="1999.0" r="2.64"/>
<circle cx="1127.9" cy="1988.4" r="2.64"/>
<circle cx="1129.4" cy="2006.9" r="2.64"/>
<circle cx="1130.1" cy="2013.6" r="2.64"/>
<circle cx="1130.4" cy="2012.6" r="2.64"/>
<circle cx="1130.6" cy="1992.2" r="2.64"/>
<circle cx="962.0" cy="1999.6" r="2.64"/>
</g>
<g fill="#e4277f" fill-opacity="0.85" stroke="#e4277f" stroke-opacity="0.90" stroke-width="0.93">
<circle cx="1137.0" cy="1995.0" r="2.64"/>
<circle cx="1137.7" cy="1996.8" r="2.64"/>
<circle cx="1140.4" cy="2004.1" r="2.64"/>
<circle cx="1143.3" cy="2000.1" r="2.64"/>
<circle cx="1143.3" cy="2005.0" r="2.64"/>
<circle cx="1147.0" cy="1964.5" r="2.64"/>
<circle cx="1148.0" cy="1959.8" r="2.64"/>
<circle cx="1148.4" cy="1964.2" r="2.64"/>
<circle cx="1149.1" cy="1967.9" r="2.64"/>
<circle cx="1149.2" cy="1966.3" r="2.64"/>
<circle cx="1149.4" cy="1960.6" r="2.64"/>
<circle cx="1150.9" cy="1969.4" r="2.64"/>
<circle cx="1155.4" cy="1975.0" r="2.64"/>
<circle cx="1155.5" cy="1971.9" r="2.64"/>
<circle cx="1162.3" cy="1967.5" r="2.64"/>
<circle cx="1162.6" cy="1967.6" r="2.64"/>
<circle cx="1166.8" cy="1965.7" r="2.64"/>
<circle cx="1167.2" cy="1972.1" r="2.64"/>
<circle cx="1167.8" cy="1978.7" r="2.64"/>
<circle cx="1170.6" cy="1977.2" r="2.64"/>
<circle cx="1171.5" cy="1964.8" r="2.64"/>
<circle cx="1172.4" cy="1970.4" r="2.64"/>
<circle cx="1175.4" cy="1974.6" r="2.64"/>
<circle cx="1176.0" cy="1970.3" r="2.64"/>
<circle cx="1178.7" cy="1966.2" r="2.64"/>
<circle cx="1180.5" cy="1966.4" r="2.64"/>
<circle cx="1183.3" cy="1970.1" r="2.64"/>
<circle cx="1185.1" cy="1980.2" r="2.64"/>
<circle cx="1187.4" cy="1962.5" r="2.64"/>
<circle cx="1187.5" cy="1979.5" r="2.64"/>
<circle cx="1187.8" cy="1957.0" r="2.64"/>
<circle cx="1190.0" cy="1961.2" r="2.64"/>
<circle cx="1190.7" cy="1976.6" r="2.64"/>
<circle cx="1192.5" cy="1972.8" r="2.64"/>
<circle cx="1193.3" cy="1972.5" r="2.64"/>
<circle cx="1193.4" cy="1974.2" r="2.64"/>
<circle cx="1196.7" cy="1965.7" r="2.64"/>
<circle cx="1197.6" cy="1966.3" r="2.64"/>
<circle cx="1197.6" cy="1970.9" r="2.64"/>
<circle cx="1197.8" cy="1981.9" r="2.64"/>
<circle cx="1206.5" cy="1973.9" r="2.64"/>
<circle cx="1207.3" cy="1976.0" r="2.64"/>
<circle cx="1210.9" cy="1968.3" r="2.64"/>
<circle cx="1211.7" cy="1981.9" r="2.64"/>
<circle cx="1215.6" cy="1971.2" r="2.64"/>
<circle cx="1216.4" cy="1970.2" r="2.64"/>
<circle cx="1218.4" cy="1973.5" r="2.64"/>
<circle cx="1219.3" cy="1962.8" r="2.64"/>
<circle cx="1219.3" cy="1979.7" r="2.64"/>
<circle cx="1222.7" cy="1974.8" r="2.64"/>
<circle cx="1226.1" cy="1963.4" r="2.64"/>
<circle cx="1229.6" cy="1968.0" r="2.64"/>
<circle cx="1230.7" cy="1963.7" r="2.64"/>
<circle cx="1231.4" cy="1964.7" r="2.64"/>
<circle cx="1231.9" cy="1957.7" r="2.64"/>
<circle cx="1241.6" cy="1978.9" r="2.64"/>
<circle cx="1244.9" cy="1960.4" r="2.64"/>
<circle cx="1251.8" cy="1973.8" r="2.64"/>
<circle cx="1251.9" cy="1973.1" r="2.64"/>
<circle cx="1252.7" cy="1974.0" r="2.64"/>
<circle cx="1254.6" cy="1964.0" r="2.64"/>
<circle cx="1255.5" cy="1970.6" r="2.64"/>
<circle cx="1258.0" cy="1970.2" r="2.64"/>
<circle cx="1261.5" cy="1967.9" r="2.64"/>
<circle cx="1263.1" cy="1974.9" r="2.64"/>
<circle cx="1263.6" cy="1981.9" r="2.64"/>
<circle cx="1263.8" cy="1964.8" r="2.64"/>
<circle cx="1264.2" cy="1968.3" r="2.64"/>
<circle cx="1265.2" cy="1968.4" r="2.64"/>
<circle cx="1265.3" cy="1976.6" r="2.64"/>
<circle cx="1267.1" cy="1969.3" r="2.64"/>
<circle cx="1269.6" cy="1970.6" r="2.64"/>
<circle cx="1270.2" cy="1966.7" r="2.64"/>
<circle cx="1271.7" cy="1963.5" r="2.64"/>
<circle cx="1272.5" cy="1961.0" r="2.64"/>
<circle cx="1274.8" cy="1961.7" r="2.64"/>
<circle cx="1278.7" cy="1975.6" r="2.64"/>
<circle cx="1279.1" cy="1969.0" r="2.64"/>
<circle cx="1279.1" cy="1983.4" r="2.64"/>
<circle cx="1282.0" cy="1972.3" r="2.64"/>
<circle cx="1283.9" cy="1960.2" r="2.64"/>
<circle cx="1284.7" cy="1966.7" r="2.64"/>
<circle cx="1288.5" cy="1970.3" r="2.64"/>
<circle cx="1289.7" cy="1964.5" r="2.64"/>
<circle cx="1217.1" cy="1998.5" r="2.64"/>
<circle cx="1226.2" cy="2001.8" r="2.64"/>
<circle cx="1258.1" cy="1997.4" r="2.64"/>
<circle cx="1276.3" cy="2002.9" r="2.64"/>
<circle cx="1280.9" cy="2008.5" r="2.64"/>
<circle cx="1285.4" cy="2015.1" r="2.64"/>
</g>
<path d="M834.9 2037.5C844.0 2037.6 870.7 2038.7 889.5 2038.6C908.4 2038.4 928.4 2037.2 947.9 2036.4C967.3 2035.6 986.7 2035.0 1006.2 2033.8C1025.6 2032.6 1045.7 2032.9 1064.5 2029.1C1083.3 2025.3 1101.6 2017.5 1119.2 2010.9C1136.8 2004.2 1155.0 1994.5 1170.2 1989.0C1185.4 1983.5 1197.5 1980.6 1210.3 1978.0C1223.1 1975.5 1233.5 1974.3 1246.8 1973.7C1260.0 1973.1 1282.6 1974.3 1289.8 1974.4" stroke="#8a9a9a" stroke-opacity="0.22" stroke-width="13.5" fill="none"/>
<path d="M834.9 2028.7L864.9 2032.8L864.9 2043.4L834.9 2046.3Z" fill="#6f7c7c" fill-opacity="0.38"/>
<path d="M1289.8 1965.6L1259.8 1968.6L1259.8 1979.2L1289.8 1983.2Z" fill="#6f7c7c" fill-opacity="0.38"/>
<path d="M834.9 2037.5C844.0 2037.6 870.7 2038.7 889.5 2038.6C908.4 2038.4 928.4 2037.2 947.9 2036.4C967.3 2035.6 986.7 2035.0 1006.2 2033.8C1025.6 2032.6 1045.7 2032.9 1064.5 2029.1C1083.3 2025.3 1101.6 2017.5 1119.2 2010.9C1136.8 2004.2 1155.0 1994.5 1170.2 1989.0C1185.4 1983.5 1197.5 1980.6 1210.3 1978.0C1223.1 1975.5 1233.5 1974.3 1246.8 1973.7C1260.0 1973.1 1282.6 1974.3 1289.8 1974.4" stroke="#ff0000" stroke-width="10.2" fill="none"/>
<rect x="809.9" y="2037.9" width="2.4" height="3.0" fill="#111" />
<text x="808.5" y="2042.8" font-size="9.6" text-anchor="end" fill="#222" >0</text>
<rect x="809.9" y="2015.8" width="2.4" height="3.0" fill="#111" />
<text x="808.5" y="2020.7" font-size="9.6" text-anchor="end" fill="#222" >2</text>
<rect x="809.9" y="1993.7" width="2.4" height="3.0" fill="#111" />
<text x="808.5" y="1998.6" font-size="9.6" text-anchor="end" fill="#222" >4</text>
<rect x="809.9" y="1971.6" width="2.4" height="3.0" fill="#111" />
<text x="808.5" y="1976.5" font-size="9.6" text-anchor="end" fill="#222" >6</text>
<rect x="809.9" y="1953.2" width="2.4" height="3.0" fill="#111" />
<text x="808.5" y="1955.4" font-size="9.6" text-anchor="end" fill="#222" >8</text>
<text x="792.0" y="2004.3" font-size="23.7" text-anchor="end" font-style="italic" fill="#000" >Acta2</text>
<rect x="812.5" y="2052.4" width="500.0" height="98.1" fill="#ebebeb" />
<path d="M812.5 2128.6H1312.5M812.5 2105.5H1312.5M812.5 2082.4H1312.5M812.5 2059.3H1312.5M890.5 2052.4V2150.5M1005.5 2052.4V2150.5M1120.5 2052.4V2150.5M1235.5 2052.4V2150.5" stroke="#fff" stroke-width="2.3" fill="none"/>
<path d="M812.5 2140.2H1312.5M812.5 2117.1H1312.5M812.5 2094.0H1312.5M812.5 2070.9H1312.5M833.0 2052.4V2150.5M948.0 2052.4V2150.5M1063.0 2052.4V2150.5M1178.0 2052.4V2150.5M1293.0 2052.4V2150.5" stroke="#fff" stroke-width="3.4" fill="none"/>
<g fill="#d5b5da" fill-opacity="0.85" stroke="#d5b5da" stroke-opacity="0.90" stroke-width="0.93">
<circle cx="835.3" cy="2140.2" r="2.64"/>
<circle cx="836.0" cy="2140.2" r="2.64"/>
<circle cx="838.6" cy="2140.2" r="2.64"/>
<circle cx="839.8" cy="2140.2" r="2.64"/>
<circle cx="840.5" cy="2140.2" r="2.64"/>
<circle cx="842.7" cy="2140.2" r="2.64"/>
<circle cx="844.9" cy="2140.2" r="2.64"/>
<circle cx="847.1" cy="2140.2" r="2.64"/>
<circle cx="847.7" cy="2114.5" r="2.64"/>
<circle cx="849.4" cy="2140.2" r="2.64"/>
<circle cx="851.2" cy="2140.2" r="2.64"/>
<circle cx="853.6" cy="2140.2" r="2.64"/>
<circle cx="855.8" cy="2140.2" r="2.64"/>
<circle cx="856.6" cy="2140.2" r="2.64"/>
<circle cx="859.9" cy="2140.2" r="2.64"/>
<circle cx="860.5" cy="2140.2" r="2.64"/>
<circle cx="864.2" cy="2113.7" r="2.64"/>
<circle cx="870.1" cy="2115.0" r="2.64"/>
<circle cx="875.1" cy="2140.2" r="2.64"/>
<circle cx="876.0" cy="2140.2" r="2.64"/>
<circle cx="883.1" cy="2140.2" r="2.64"/>
<circle cx="883.7" cy="2140.2" r="2.64"/>
<circle cx="886.1" cy="2140.2" r="2.64"/>
<circle cx="892.2" cy="2140.2" r="2.64"/>
<circle cx="894.0" cy="2140.2" r="2.64"/>
<circle cx="897.7" cy="2140.2" r="2.64"/>
<circle cx="900.9" cy="2140.2" r="2.64"/>
<circle cx="901.2" cy="2140.2" r="2.64"/>
<circle cx="902.3" cy="2140.2" r="2.64"/>
<circle cx="902.5" cy="2140.2" r="2.64"/>
<circle cx="907.2" cy="2140.2" r="2.64"/>
<circle cx="907.4" cy="2140.2" r="2.64"/>
<circle cx="908.1" cy="2140.2" r="2.64"/>
<circle cx="910.1" cy="2140.2" r="2.64"/>
<circle cx="910.2" cy="2140.2" r="2.64"/>
<circle cx="912.8" cy="2140.2" r="2.64"/>
<circle cx="915.3" cy="2140.2" r="2.64"/>
<circle cx="916.9" cy="2140.2" r="2.64"/>
<circle cx="924.0" cy="2140.2" r="2.64"/>
<circle cx="927.8" cy="2140.2" r="2.64"/>
<circle cx="929.9" cy="2140.2" r="2.64"/>
<circle cx="932.7" cy="2140.2" r="2.64"/>
<circle cx="933.2" cy="2140.2" r="2.64"/>
<circle cx="934.3" cy="2140.2" r="2.64"/>
<circle cx="942.6" cy="2140.2" r="2.64"/>
<circle cx="946.8" cy="2140.2" r="2.64"/>
<circle cx="948.7" cy="2140.2" r="2.64"/>
<circle cx="907.4" cy="2115.9" r="2.64"/>
</g>
<g fill="#e36fba" fill-opacity="0.85" stroke="#e36fba" stroke-opacity="0.90" stroke-width="0.93">
<circle cx="958.5" cy="2140.2" r="2.64"/>
<circle cx="961.8" cy="2114.9" r="2.64"/>
<circle cx="962.4" cy="2140.2" r="2.64"/>
<circle cx="966.3" cy="2140.2" r="2.64"/>
<circle cx="967.1" cy="2140.2" r="2.64"/>
<circle cx="968.3" cy="2140.2" r="2.64"/>
<circle cx="968.8" cy="2140.2" r="2.64"/>
<circle cx="970.6" cy="2140.2" r="2.64"/>
<circle cx="971.8" cy="2140.2" r="2.64"/>
<circle cx="975.7" cy="2140.2" r="2.64"/>
<circle cx="976.8" cy="2140.2" r="2.64"/>
<circle cx="978.3" cy="2140.2" r="2.64"/>
<circle cx="978.8" cy="2140.2" r="2.64"/>
<circle cx="988.4" cy="2140.2" r="2.64"/>
<circle cx="988.7" cy="2140.2" r="2.64"/>
<circle cx="989.4" cy="2140.2" r="2.64"/>
<circle cx="989.7" cy="2140.2" r="2.64"/>
<circle cx="991.4" cy="2140.2" r="2.64"/>
<circle cx="993.0" cy="2140.2" r="2.64"/>
<circle cx="993.9" cy="2140.2" r="2.64"/>
<circle cx="996.1" cy="2140.2" r="2.64"/>
<circle cx="999.0" cy="2140.2" r="2.64"/>
<circle cx="999.1" cy="2140.2" r="2.64"/>
<circle cx="1000.0" cy="2140.2" r="2.64"/>
<circle cx="1001.3" cy="2140.2" r="2.64"/>
<circle cx="1006.2" cy="2140.2" r="2.64"/>
<circle cx="1018.4" cy="2140.2" r="2.64"/>
<circle cx="1019.4" cy="2140.2" r="2.64"/>
<circle cx="1026.2" cy="2140.2" r="2.64"/>
<circle cx="1026.6" cy="2140.2" r="2.64"/>
<circle cx="1032.4" cy="2140.2" r="2.64"/>
<circle cx="1035.4" cy="2140.2" r="2.64"/>
<circle cx="1040.9" cy="2115.2" r="2.64"/>
<circle cx="1041.1" cy="2111.1" r="2.64"/>
<circle cx="1042.1" cy="2140.2" r="2.64"/>
<circle cx="1045.4" cy="2109.4" r="2.64"/>
<circle cx="1046.6" cy="2140.2" r="2.64"/>
<circle cx="1048.2" cy="2140.2" r="2.64"/>
<circle cx="1051.9" cy="2140.2" r="2.64"/>
<circle cx="1052.7" cy="2116.8" r="2.64"/>
<circle cx="1053.5" cy="2140.2" r="2.64"/>
<circle cx="1053.7" cy="2140.2" r="2.64"/>
<circle cx="1055.7" cy="2113.3" r="2.64"/>
<circle cx="1056.9" cy="2140.2" r="2.64"/>
<circle cx="1059.3" cy="2140.2" r="2.64"/>
<circle cx="1061.9" cy="2140.2" r="2.64"/>
<circle cx="1070.5" cy="2114.9" r="2.64"/>
<circle cx="1073.5" cy="2116.5" r="2.64"/>
<circle cx="1075.6" cy="2110.8" r="2.64"/>
<circle cx="1077.5" cy="2140.2" r="2.64"/>
<circle cx="1080.1" cy="2110.3" r="2.64"/>
<circle cx="1082.2" cy="2140.2" r="2.64"/>
<circle cx="1082.8" cy="2140.2" r="2.64"/>
<circle cx="1083.7" cy="2125.8" r="2.64"/>
<circle cx="1095.9" cy="2140.2" r="2.64"/>
<circle cx="1098.0" cy="2140.2" r="2.64"/>
<circle cx="1099.0" cy="2140.2" r="2.64"/>
<circle cx="1099.1" cy="2140.2" r="2.64"/>
<circle cx="1105.0" cy="2116.0" r="2.64"/>
<circle cx="1109.2" cy="2112.7" r="2.64"/>
<circle cx="1112.7" cy="2113.8" r="2.64"/>
<circle cx="1115.7" cy="2124.2" r="2.64"/>
<circle cx="1118.2" cy="2096.4" r="2.64"/>
<circle cx="1118.6" cy="2077.7" r="2.64"/>
<circle cx="1120.1" cy="2107.0" r="2.64"/>
<circle cx="1121.6" cy="2086.3" r="2.64"/>
<circle cx="1121.9" cy="2140.2" r="2.64"/>
<circle cx="1124.6" cy="2140.2" r="2.64"/>
<circle cx="1127.9" cy="2101.5" r="2.64"/>
<circle cx="1129.4" cy="2087.0" r="2.64"/>
<circle cx="1130.1" cy="2140.2" r="2.64"/>
<circle cx="1130.4" cy="2095.9" r="2.64"/>
<circle cx="1130.6" cy="2095.7" r="2.64"/>
<circle cx="1107.8" cy="2092.8" r="2.64"/>
</g>
<g fill="#e4277f" fill-opacity="0.85" stroke="#e4277f" stroke-opacity="0.90" stroke-width="0.93">
<circle cx="1137.0" cy="2140.2" r="2.64"/>
<circle cx="1137.7" cy="2140.2" r="2.64"/>
<circle cx="1140.4" cy="2082.0" r="2.64"/>
<circle cx="1143.3" cy="2140.2" r="2.64"/>
<circle cx="1143.3" cy="2103.6" r="2.64"/>
<circle cx="1147.0" cy="2140.2" r="2.64"/>
<circle cx="1148.0" cy="2140.2" r="2.64"/>
<circle cx="1148.4" cy="2085.7" r="2.64"/>
<circle cx="1149.1" cy="2095.3" r="2.64"/>
<circle cx="1149.2" cy="2109.2" r="2.64"/>
<circle cx="1149.4" cy="2140.2" r="2.64"/>
<circle cx="1150.9" cy="2140.2" r="2.64"/>
<circle cx="1155.4" cy="2097.3" r="2.64"/>
<circle cx="1155.5" cy="2140.2" r="2.64"/>
<circle cx="1162.3" cy="2140.2" r="2.64"/>
<circle cx="1162.6" cy="2140.2" r="2.64"/>
<circle cx="1166.8" cy="2103.8" r="2.64"/>
<circle cx="1167.2" cy="2140.2" r="2.64"/>
<circle cx="1167.8" cy="2088.0" r="2.64"/>
<circle cx="1170.6" cy="2087.0" r="2.64"/>
<circle cx="1171.5" cy="2081.0" r="2.64"/>
<circle cx="1172.4" cy="2097.7" r="2.64"/>
<circle cx="1175.4" cy="2084.1" r="2.64"/>
<circle cx="1176.0" cy="2107.9" r="2.64"/>
<circle cx="1178.7" cy="2140.2" r="2.64"/>
<circle cx="1180.5" cy="2093.1" r="2.64"/>
<circle cx="1183.3" cy="2140.2" r="2.64"/>
<circle cx="1185.1" cy="2066.3" r="2.64"/>
<circle cx="1187.4" cy="2083.0" r="2.64"/>
<circle cx="1187.5" cy="2084.2" r="2.64"/>
<circle cx="1187.8" cy="2076.9" r="2.64"/>
<circle cx="1190.0" cy="2092.5" r="2.64"/>
<circle cx="1190.7" cy="2063.4" r="2.64"/>
<circle cx="1192.5" cy="2091.9" r="2.64"/>
<circle cx="1193.3" cy="2140.2" r="2.64"/>
<circle cx="1193.4" cy="2140.2" r="2.64"/>
<circle cx="1196.7" cy="2097.2" r="2.64"/>
<circle cx="1197.6" cy="2140.2" r="2.64"/>
<circle cx="1197.6" cy="2140.2" r="2.64"/>
<circle cx="1197.8" cy="2140.2" r="2.64"/>
<circle cx="1206.5" cy="2140.2" r="2.64"/>
<circle cx="1207.3" cy="2110.9" r="2.64"/>
<circle cx="1210.9" cy="2092.8" r="2.64"/>
<circle cx="1211.7" cy="2073.6" r="2.64"/>
<circle cx="1215.6" cy="2101.0" r="2.64"/>
<circle cx="1216.4" cy="2140.2" r="2.64"/>
<circle cx="1218.4" cy="2140.2" r="2.64"/>
<circle cx="1219.3" cy="2084.6" r="2.64"/>
<circle cx="1219.3" cy="2112.9" r="2.64"/>
<circle cx="1222.7" cy="2091.0" r="2.64"/>
<circle cx="1226.1" cy="2140.2" r="2.64"/>
<circle cx="1229.6" cy="2140.2" r="2.64"/>
<circle cx="1230.7" cy="2081.3" r="2.64"/>
<circle cx="1231.4" cy="2103.0" r="2.64"/>
<circle cx="1231.9" cy="2105.1" r="2.64"/>
<circle cx="1241.6" cy="2140.2" r="2.64"/>
<circle cx="1244.9" cy="2068.7" r="2.64"/>
<circle cx="1251.8" cy="2093.4" r="2.64"/>
<circle cx="1251.9" cy="2100.2" r="2.64"/>
<circle cx="1252.7" cy="2102.5" r="2.64"/>
<circle cx="1254.6" cy="2092.6" r="2.64"/>
<circle cx="1255.5" cy="2140.2" r="2.64"/>
<circle cx="1258.0" cy="2096.2" r="2.64"/>
<circle cx="1261.5" cy="2090.7" r="2.64"/>
<circle cx="1263.1" cy="2094.4" r="2.64"/>
<circle cx="1263.6" cy="2094.4" r="2.64"/>
<circle cx="1263.8" cy="2140.2" r="2.64"/>
<circle cx="1264.2" cy="2096.9" r="2.64"/>
<circle cx="1265.2" cy="2140.2" r="2.64"/>
<circle cx="1265.3" cy="2101.0" r="2.64"/>
<circle cx="1267.1" cy="2140.2" r="2.64"/>
<circle cx="1269.6" cy="2116.3" r="2.64"/>
<circle cx="1270.2" cy="2104.7" r="2.64"/>
<circle cx="1271.7" cy="2086.0" r="2.64"/>
<circle cx="1272.5" cy="2079.9" r="2.64"/>
<circle cx="1274.8" cy="2074.9" r="2.64"/>
<circle cx="1278.7" cy="2140.2" r="2.64"/>
<circle cx="1279.1" cy="2095.9" r="2.64"/>
<circle cx="1279.1" cy="2140.2" r="2.64"/>
<circle cx="1282.0" cy="2074.4" r="2.64"/>
<circle cx="1283.9" cy="2140.2" r="2.64"/>
<circle cx="1284.7" cy="2068.5" r="2.64"/>
<circle cx="1288.5" cy="2089.5" r="2.64"/>
<circle cx="1289.7" cy="2104.5" r="2.64"/>
</g>
<path d="M834.9 2139.5C853.7 2139.6 919.3 2140.4 947.9 2140.3C976.4 2140.1 986.7 2139.2 1006.2 2138.4C1025.6 2137.6 1045.7 2137.0 1064.5 2135.5C1083.3 2134.0 1100.3 2132.5 1119.2 2129.3C1138.0 2126.2 1158.4 2120.6 1177.5 2116.6C1196.6 2112.5 1215.3 2108.4 1234.0 2104.9C1252.7 2101.4 1280.5 2097.0 1289.8 2095.4" stroke="#8a9a9a" stroke-opacity="0.22" stroke-width="13.5" fill="none"/>
<path d="M834.9 2130.7L864.9 2134.4L864.9 2145.0L834.9 2148.3Z" fill="#6f7c7c" fill-opacity="0.38"/>
<path d="M1289.8 2086.6L1259.8 2095.2L1259.8 2105.8L1289.8 2104.2Z" fill="#6f7c7c" fill-opacity="0.38"/>
<path d="M834.9 2139.5C853.7 2139.6 919.3 2140.4 947.9 2140.3C976.4 2140.1 986.7 2139.2 1006.2 2138.4C1025.6 2137.6 1045.7 2137.0 1064.5 2135.5C1083.3 2134.0 1100.3 2132.5 1119.2 2129.3C1138.0 2126.2 1158.4 2120.6 1177.5 2116.6C1196.6 2112.5 1215.3 2108.4 1234.0 2104.9C1252.7 2101.4 1280.5 2097.0 1289.8 2095.4" stroke="#ff0000" stroke-width="10.2" fill="none"/>
<rect x="809.9" y="2138.7" width="2.4" height="3.0" fill="#111" />
<text x="808.5" y="2143.6" font-size="9.6" text-anchor="end" fill="#222" >0</text>
<rect x="809.9" y="2115.6" width="2.4" height="3.0" fill="#111" />
<text x="808.5" y="2120.5" font-size="9.6" text-anchor="end" fill="#222" >1</text>
<rect x="809.9" y="2092.5" width="2.4" height="3.0" fill="#111" />
<text x="808.5" y="2097.4" font-size="9.6" text-anchor="end" fill="#222" >2</text>
<rect x="809.9" y="2069.4" width="2.4" height="3.0" fill="#111" />
<text x="808.5" y="2074.3" font-size="9.6" text-anchor="end" fill="#222" >3</text>
<text x="792.0" y="2104.5" font-size="23.7" text-anchor="end" font-style="italic" fill="#000" >Rgs5</text>
<rect x="812.5" y="2156.0" width="500.0" height="95.4" fill="#ebebeb" />
<path d="M812.5 2249.2H1312.5M812.5 2231.8H1312.5M812.5 2214.6H1312.5M812.5 2197.2H1312.5M812.5 2179.9H1312.5M812.5 2162.7H1312.5M890.5 2156.0V2251.4M1005.5 2156.0V2251.4M1120.5 2156.0V2251.4M1235.5 2156.0V2251.4" stroke="#fff" stroke-width="2.3" fill="none"/>
<path d="M812.5 2240.5H1312.5M812.5 2223.2H1312.5M812.5 2205.9H1312.5M812.5 2188.6H1312.5M812.5 2171.3H1312.5M833.0 2156.0V2251.4M948.0 2156.0V2251.4M1063.0 2156.0V2251.4M1178.0 2156.0V2251.4M1293.0 2156.0V2251.4" stroke="#fff" stroke-width="3.4" fill="none"/>
<g fill="#d5b5da" fill-opacity="0.85" stroke="#d5b5da" stroke-opacity="0.90" stroke-width="0.93">
<circle cx="835.3" cy="2240.5" r="2.64"/>
<circle cx="836.0" cy="2172.6" r="2.64"/>
<circle cx="838.6" cy="2240.5" r="2.64"/>
<circle cx="839.8" cy="2240.5" r="2.64"/>
<circle cx="840.5" cy="2197.4" r="2.64"/>
<circle cx="842.7" cy="2240.5" r="2.64"/>
<circle cx="844.9" cy="2177.1" r="2.64"/>
<circle cx="847.1" cy="2197.5" r="2.64"/>
<circle cx="847.7" cy="2200.5" r="2.64"/>
<circle cx="849.4" cy="2195.9" r="2.64"/>
<circle cx="851.2" cy="2188.4" r="2.64"/>
<circle cx="853.6" cy="2193.4" r="2.64"/>
<circle cx="855.8" cy="2198.8" r="2.64"/>
<circle cx="856.6" cy="2177.7" r="2.64"/>
<circle cx="859.9" cy="2192.3" r="2.64"/>
<circle cx="860.5" cy="2240.5" r="2.64"/>
<circle cx="864.2" cy="2240.5" r="2.64"/>
<circle cx="870.1" cy="2200.3" r="2.64"/>
<circle cx="875.1" cy="2188.3" r="2.64"/>
<circle cx="876.0" cy="2198.0" r="2.64"/>
<circle cx="883.1" cy="2199.7" r="2.64"/>
<circle cx="883.7" cy="2195.0" r="2.64"/>
<circle cx="886.1" cy="2194.3" r="2.64"/>
<circle cx="892.2" cy="2188.6" r="2.64"/>
<circle cx="894.0" cy="2240.5" r="2.64"/>
<circle cx="897.7" cy="2211.2" r="2.64"/>
<circle cx="900.9" cy="2240.5" r="2.64"/>
<circle cx="901.2" cy="2240.5" r="2.64"/>
<circle cx="902.3" cy="2180.3" r="2.64"/>
<circle cx="902.5" cy="2240.5" r="2.64"/>
<circle cx="907.2" cy="2190.7" r="2.64"/>
<circle cx="907.4" cy="2240.5" r="2.64"/>
<circle cx="908.1" cy="2215.4" r="2.64"/>
<circle cx="910.1" cy="2240.5" r="2.64"/>
<circle cx="910.2" cy="2240.5" r="2.64"/>
<circle cx="912.8" cy="2240.5" r="2.64"/>
<circle cx="915.3" cy="2186.7" r="2.64"/>
<circle cx="916.9" cy="2195.6" r="2.64"/>
<circle cx="924.0" cy="2186.9" r="2.64"/>
<circle cx="927.8" cy="2179.2" r="2.64"/>
<circle cx="929.9" cy="2190.7" r="2.64"/>
<circle cx="932.7" cy="2240.5" r="2.64"/>
<circle cx="933.2" cy="2240.5" r="2.64"/>
<circle cx="934.3" cy="2216.2" r="2.64"/>
<circle cx="942.6" cy="2240.5" r="2.64"/>
<circle cx="946.8" cy="2192.4" r="2.64"/>
<circle cx="948.7" cy="2240.5" r="2.64"/>
<circle cx="925.6" cy="2157.5" r="2.64"/>
</g>
<g fill="#e36fba" fill-opacity="0.85" stroke="#e36fba" stroke-opacity="0.90" stroke-width="0.93">
<circle cx="958.5" cy="2240.5" r="2.64"/>
<circle cx="961.8" cy="2240.5" r="2.64"/>
<circle cx="962.4" cy="2240.5" r="2.64"/>
<circle cx="966.3" cy="2240.5" r="2.64"/>
<circle cx="967.1" cy="2240.5" r="2.64"/>
<circle cx="968.3" cy="2240.5" r="2.64"/>
<circle cx="968.8" cy="2240.5" r="2.64"/>
<circle cx="970.6" cy="2240.5" r="2.64"/>
<circle cx="971.8" cy="2240.5" r="2.64"/>
<circle cx="975.7" cy="2220.1" r="2.64"/>
<circle cx="976.8" cy="2240.5" r="2.64"/>
<circle cx="978.3" cy="2240.5" r="2.64"/>
<circle cx="978.8" cy="2240.5" r="2.64"/>
<circle cx="988.4" cy="2240.5" r="2.64"/>
<circle cx="988.7" cy="2240.5" r="2.64"/>
<circle cx="989.4" cy="2240.5" r="2.64"/>
<circle cx="989.7" cy="2226.0" r="2.64"/>
<circle cx="991.4" cy="2240.5" r="2.64"/>
<circle cx="993.0" cy="2221.8" r="2.64"/>
<circle cx="993.9" cy="2240.5" r="2.64"/>
<circle cx="996.1" cy="2240.5" r="2.64"/>
<circle cx="999.0" cy="2240.5" r="2.64"/>
<circle cx="999.1" cy="2217.1" r="2.64"/>
<circle cx="1000.0" cy="2215.1" r="2.64"/>
<circle cx="1001.3" cy="2240.5" r="2.64"/>
<circle cx="1006.2" cy="2240.5" r="2.64"/>
<circle cx="1018.4" cy="2240.5" r="2.64"/>
<circle cx="1019.4" cy="2213.0" r="2.64"/>
<circle cx="1026.2" cy="2240.5" r="2.64"/>
<circle cx="1026.6" cy="2240.5" r="2.64"/>
<circle cx="1032.4" cy="2225.9" r="2.64"/>
<circle cx="1035.4" cy="2213.5" r="2.64"/>
<circle cx="1040.9" cy="2213.4" r="2.64"/>
<circle cx="1041.1" cy="2240.5" r="2.64"/>
<circle cx="1042.1" cy="2240.5" r="2.64"/>
<circle cx="1045.4" cy="2240.5" r="2.64"/>
<circle cx="1046.6" cy="2240.5" r="2.64"/>
<circle cx="1048.2" cy="2223.4" r="2.64"/>
<circle cx="1051.9" cy="2240.5" r="2.64"/>
<circle cx="1052.7" cy="2216.6" r="2.64"/>
<circle cx="1053.5" cy="2240.5" r="2.64"/>
<circle cx="1053.7" cy="2240.5" r="2.64"/>
<circle cx="1055.7" cy="2240.5" r="2.64"/>
<circle cx="1056.9" cy="2240.5" r="2.64"/>
<circle cx="1059.3" cy="2209.9" r="2.64"/>
<circle cx="1061.9" cy="2240.5" r="2.64"/>
<circle cx="1070.5" cy="2240.5" r="2.64"/>
<circle cx="1073.5" cy="2240.5" r="2.64"/>
<circle cx="1075.6" cy="2240.5" r="2.64"/>
<circle cx="1077.5" cy="2240.5" r="2.64"/>
<circle cx="1080.1" cy="2240.5" r="2.64"/>
<circle cx="1082.2" cy="2216.3" r="2.64"/>
<circle cx="1082.8" cy="2240.5" r="2.64"/>
<circle cx="1083.7" cy="2240.5" r="2.64"/>
<circle cx="1095.9" cy="2240.5" r="2.64"/>
<circle cx="1098.0" cy="2240.5" r="2.64"/>
<circle cx="1099.0" cy="2240.5" r="2.64"/>
<circle cx="1099.1" cy="2240.5" r="2.64"/>
<circle cx="1105.0" cy="2240.5" r="2.64"/>
<circle cx="1109.2" cy="2240.5" r="2.64"/>
<circle cx="1112.7" cy="2240.5" r="2.64"/>
<circle cx="1115.7" cy="2240.5" r="2.64"/>
<circle cx="1118.2" cy="2240.5" r="2.64"/>
<circle cx="1118.6" cy="2240.5" r="2.64"/>
<circle cx="1120.1" cy="2240.5" r="2.64"/>
<circle cx="1121.6" cy="2240.5" r="2.64"/>
<circle cx="1121.9" cy="2240.5" r="2.64"/>
<circle cx="1124.6" cy="2240.5" r="2.64"/>
<circle cx="1127.9" cy="2240.5" r="2.64"/>
<circle cx="1129.4" cy="2240.5" r="2.64"/>
<circle cx="1130.1" cy="2240.5" r="2.64"/>
<circle cx="1130.4" cy="2212.7" r="2.64"/>
<circle cx="1130.6" cy="2240.5" r="2.64"/>
</g>
<g fill="#e4277f" fill-opacity="0.85" stroke="#e4277f" stroke-opacity="0.90" stroke-width="0.93">
<circle cx="1137.0" cy="2240.5" r="2.64"/>
<circle cx="1137.7" cy="2240.5" r="2.64"/>
<circle cx="1140.4" cy="2240.5" r="2.64"/>
<circle cx="1143.3" cy="2240.5" r="2.64"/>
<circle cx="1143.3" cy="2215.2" r="2.64"/>
<circle cx="1147.0" cy="2240.5" r="2.64"/>
<circle cx="1148.0" cy="2240.5" r="2.64"/>
<circle cx="1148.4" cy="2240.5" r="2.64"/>
<circle cx="1149.1" cy="2240.5" r="2.64"/>
<circle cx="1149.2" cy="2240.5" r="2.64"/>
<circle cx="1149.4" cy="2240.5" r="2.64"/>
<circle cx="1150.9" cy="2240.5" r="2.64"/>
<circle cx="1155.4" cy="2240.5" r="2.64"/>
<circle cx="1155.5" cy="2240.5" r="2.64"/>
<circle cx="1162.3" cy="2240.5" r="2.64"/>
<circle cx="1162.6" cy="2216.2" r="2.64"/>
<circle cx="1166.8" cy="2240.5" r="2.64"/>
<circle cx="1167.2" cy="2240.5" r="2.64"/>
<circle cx="1167.8" cy="2240.5" r="2.64"/>
<circle cx="1170.6" cy="2240.5" r="2.64"/>
<circle cx="1171.5" cy="2240.5" r="2.64"/>
<circle cx="1172.4" cy="2240.5" r="2.64"/>
<circle cx="1175.4" cy="2240.5" r="2.64"/>
<circle cx="1176.0" cy="2240.5" r="2.64"/>
<circle cx="1178.7" cy="2240.5" r="2.64"/>
<circle cx="1180.5" cy="2240.5" r="2.64"/>
<circle cx="1183.3" cy="2240.5" r="2.64"/>
<circle cx="1185.1" cy="2240.5" r="2.64"/>
<circle cx="1187.4" cy="2240.5" r="2.64"/>
<circle cx="1187.5" cy="2218.1" r="2.64"/>
<circle cx="1187.8" cy="2240.5" r="2.64"/>
<circle cx="1190.0" cy="2240.5" r="2.64"/>
<circle cx="1190.7" cy="2240.5" r="2.64"/>
<circle cx="1192.5" cy="2240.5" r="2.64"/>
<circle cx="1193.3" cy="2240.5" r="2.64"/>
<circle cx="1193.4" cy="2240.5" r="2.64"/>
<circle cx="1196.7" cy="2240.5" r="2.64"/>
<circle cx="1197.6" cy="2240.5" r="2.64"/>
<circle cx="1197.6" cy="2240.5" r="2.64"/>
<circle cx="1197.8" cy="2240.5" r="2.64"/>
<circle cx="1206.5" cy="2240.5" r="2.64"/>
<circle cx="1207.3" cy="2240.5" r="2.64"/>
<circle cx="1210.9" cy="2227.4" r="2.64"/>
<circle cx="1211.7" cy="2240.5" r="2.64"/>
<circle cx="1215.6" cy="2240.5" r="2.64"/>
<circle cx="1216.4" cy="2240.5" r="2.64"/>
<circle cx="1218.4" cy="2240.5" r="2.64"/>
<circle cx="1219.3" cy="2220.4" r="2.64"/>
<circle cx="1219.3" cy="2240.5" r="2.64"/>
<circle cx="1222.7" cy="2240.5" r="2.64"/>
<circle cx="1226.1" cy="2240.5" r="2.64"/>
<circle cx="1229.6" cy="2240.5" r="2.64"/>
<circle cx="1230.7" cy="2213.6" r="2.64"/>
<circle cx="1231.4" cy="2240.5" r="2.64"/>
<circle cx="1231.9" cy="2240.5" r="2.64"/>
<circle cx="1241.6" cy="2240.5" r="2.64"/>
<circle cx="1244.9" cy="2240.5" r="2.64"/>
<circle cx="1251.8" cy="2240.5" r="2.64"/>
<circle cx="1251.9" cy="2240.5" r="2.64"/>
<circle cx="1252.7" cy="2240.5" r="2.64"/>
<circle cx="1254.6" cy="2240.5" r="2.64"/>
<circle cx="1255.5" cy="2240.5" r="2.64"/>
<circle cx="1258.0" cy="2240.5" r="2.64"/>
<circle cx="1261.5" cy="2219.4" r="2.64"/>
<circle cx="1263.1" cy="2240.5" r="2.64"/>
<circle cx="1263.6" cy="2240.5" r="2.64"/>
<circle cx="1263.8" cy="2240.5" r="2.64"/>
<circle cx="1264.2" cy="2240.5" r="2.64"/>
<circle cx="1265.2" cy="2240.5" r="2.64"/>
<circle cx="1265.3" cy="2240.5" r="2.64"/>
<circle cx="1267.1" cy="2240.5" r="2.64"/>
<circle cx="1269.6" cy="2240.5" r="2.64"/>
<circle cx="1270.2" cy="2240.5" r="2.64"/>
<circle cx="1271.7" cy="2240.5" r="2.64"/>
<circle cx="1272.5" cy="2240.5" r="2.64"/>
<circle cx="1274.8" cy="2240.5" r="2.64"/>
<circle cx="1278.7" cy="2240.5" r="2.64"/>
<circle cx="1279.1" cy="2240.5" r="2.64"/>
<circle cx="1279.1" cy="2240.5" r="2.64"/>
<circle cx="1282.0" cy="2240.5" r="2.64"/>
<circle cx="1283.9" cy="2240.5" r="2.64"/>
<circle cx="1284.7" cy="2240.5" r="2.64"/>
<circle cx="1288.5" cy="2240.5" r="2.64"/>
<circle cx="1289.7" cy="2240.5" r="2.64"/>
<circle cx="1230.8" cy="2197.2" r="2.64"/>
<circle cx="1148.8" cy="2204.2" r="2.64"/>
</g>
<path d="M834.9 2196.8C844.0 2198.6 870.7 2203.7 889.5 2207.7C908.4 2211.6 928.4 2216.3 947.9 2220.4C967.3 2224.6 986.7 2229.3 1006.2 2232.5C1025.6 2235.7 1045.7 2238.8 1064.5 2239.8C1083.3 2240.7 1081.6 2238.3 1119.2 2238.3C1156.7 2238.3 1261.3 2239.5 1289.8 2239.8" stroke="#8a9a9a" stroke-opacity="0.22" stroke-width="13.5" fill="none"/>
<path d="M834.9 2187.9L864.9 2197.4L864.9 2208.1L834.9 2205.6Z" fill="#6f7c7c" fill-opacity="0.38"/>
<path d="M1289.8 2231.0L1259.8 2234.2L1259.8 2244.8L1289.8 2248.6Z" fill="#6f7c7c" fill-opacity="0.38"/>
<path d="M834.9 2196.8C844.0 2198.6 870.7 2203.7 889.5 2207.7C908.4 2211.6 928.4 2216.3 947.9 2220.4C967.3 2224.6 986.7 2229.3 1006.2 2232.5C1025.6 2235.7 1045.7 2238.8 1064.5 2239.8C1083.3 2240.7 1081.6 2238.3 1119.2 2238.3C1156.7 2238.3 1261.3 2239.5 1289.8 2239.8" stroke="#ff0000" stroke-width="10.2" fill="none"/>
<rect x="809.9" y="2239.0" width="2.4" height="3.0" fill="#111" />
<text x="808.5" y="2243.9" font-size="9.6" text-anchor="end" fill="#222" >0</text>
<rect x="809.9" y="2221.7" width="2.4" height="3.0" fill="#111" />
<text x="808.5" y="2226.6" font-size="9.6" text-anchor="end" fill="#222" >1</text>
<rect x="809.9" y="2204.4" width="2.4" height="3.0" fill="#111" />
<text x="808.5" y="2209.3" font-size="9.6" text-anchor="end" fill="#222" >2</text>
<rect x="809.9" y="2187.1" width="2.4" height="3.0" fill="#111" />
<text x="808.5" y="2192.0" font-size="9.6" text-anchor="end" fill="#222" >3</text>
<rect x="809.9" y="2169.8" width="2.4" height="3.0" fill="#111" />
<text x="808.5" y="2174.7" font-size="9.6" text-anchor="end" fill="#222" >4</text>
<rect x="809.9" y="2155.9" width="2.4" height="3.0" fill="#111" />
<text x="808.5" y="2158.9" font-size="9.6" text-anchor="end" fill="#222" >5</text>
<text x="792.0" y="2195.7" font-size="23.7" text-anchor="end" font-style="italic" fill="#000" >Pax1</text>
<rect x="812.5" y="2257.0" width="500.0" height="96.5" fill="#ebebeb" />
<path d="M812.5 2330.5H1312.5M812.5 2304.8H1312.5M812.5 2279.1H1312.5M890.5 2257.0V2353.5M1005.5 2257.0V2353.5M1120.5 2257.0V2353.5M1235.5 2257.0V2353.5" stroke="#fff" stroke-width="2.3" fill="none"/>
<path d="M812.5 2343.3H1312.5M812.5 2317.6H1312.5M812.5 2291.9H1312.5M812.5 2266.2H1312.5M833.0 2257.0V2353.5M948.0 2257.0V2353.5M1063.0 2257.0V2353.5M1178.0 2257.0V2353.5M1293.0 2257.0V2353.5" stroke="#fff" stroke-width="3.4" fill="none"/>
<g fill="#d5b5da" fill-opacity="0.85" stroke="#d5b5da" stroke-opacity="0.90" stroke-width="0.93">
<circle cx="835.3" cy="2283.2" r="2.64"/>
<circle cx="836.0" cy="2343.3" r="2.64"/>
<circle cx="838.6" cy="2343.3" r="2.64"/>
<circle cx="839.8" cy="2302.6" r="2.64"/>
<circle cx="840.5" cy="2343.3" r="2.64"/>
<circle cx="842.7" cy="2304.5" r="2.64"/>
<circle cx="844.9" cy="2295.7" r="2.64"/>
<circle cx="847.1" cy="2285.6" r="2.64"/>
<circle cx="847.7" cy="2269.7" r="2.64"/>
<circle cx="849.4" cy="2306.6" r="2.64"/>
<circle cx="851.2" cy="2298.0" r="2.64"/>
<circle cx="853.6" cy="2270.9" r="2.64"/>
<circle cx="855.8" cy="2287.3" r="2.64"/>
<circle cx="856.6" cy="2292.2" r="2.64"/>
<circle cx="859.9" cy="2287.9" r="2.64"/>
<circle cx="860.5" cy="2343.3" r="2.64"/>
<circle cx="864.2" cy="2281.7" r="2.64"/>
<circle cx="870.1" cy="2285.0" r="2.64"/>
<circle cx="875.1" cy="2287.0" r="2.64"/>
<circle cx="876.0" cy="2315.6" r="2.64"/>
<circle cx="883.1" cy="2302.3" r="2.64"/>
<circle cx="883.7" cy="2343.3" r="2.64"/>
<circle cx="886.1" cy="2343.3" r="2.64"/>
<circle cx="892.2" cy="2273.2" r="2.64"/>
<circle cx="894.0" cy="2343.3" r="2.64"/>
<circle cx="897.7" cy="2343.3" r="2.64"/>
<circle cx="900.9" cy="2282.1" r="2.64"/>
<circle cx="901.2" cy="2343.3" r="2.64"/>
<circle cx="902.3" cy="2343.3" r="2.64"/>
<circle cx="902.5" cy="2269.8" r="2.64"/>
<circle cx="907.2" cy="2280.3" r="2.64"/>
<circle cx="907.4" cy="2271.6" r="2.64"/>
<circle cx="908.1" cy="2343.3" r="2.64"/>
<circle cx="910.1" cy="2343.3" r="2.64"/>
<circle cx="910.2" cy="2301.1" r="2.64"/>
<circle cx="912.8" cy="2343.3" r="2.64"/>
<circle cx="915.3" cy="2270.8" r="2.64"/>
<circle cx="916.9" cy="2277.2" r="2.64"/>
<circle cx="924.0" cy="2343.3" r="2.64"/>
<circle cx="927.8" cy="2278.6" r="2.64"/>
<circle cx="929.9" cy="2343.3" r="2.64"/>
<circle cx="932.7" cy="2343.3" r="2.64"/>
<circle cx="933.2" cy="2343.3" r="2.64"/>
<circle cx="934.3" cy="2281.2" r="2.64"/>
<circle cx="942.6" cy="2307.8" r="2.64"/>
<circle cx="946.8" cy="2343.3" r="2.64"/>
<circle cx="948.7" cy="2343.3" r="2.64"/>
<circle cx="839.1" cy="2258.5" r="2.64"/>
</g>
<g fill="#e36fba" fill-opacity="0.85" stroke="#e36fba" stroke-opacity="0.90" stroke-width="0.93">
<circle cx="958.5" cy="2343.3" r="2.64"/>
<circle cx="961.8" cy="2343.3" r="2.64"/>
<circle cx="962.4" cy="2343.3" r="2.64"/>
<circle cx="966.3" cy="2343.3" r="2.64"/>
<circle cx="967.1" cy="2343.3" r="2.64"/>
<circle cx="968.3" cy="2312.9" r="2.64"/>
<circle cx="968.8" cy="2343.3" r="2.64"/>
<circle cx="970.6" cy="2343.3" r="2.64"/>
<circle cx="971.8" cy="2343.3" r="2.64"/>
<circle cx="975.7" cy="2343.3" r="2.64"/>
<circle cx="976.8" cy="2343.3" r="2.64"/>
<circle cx="978.3" cy="2304.8" r="2.64"/>
<circle cx="978.8" cy="2343.3" r="2.64"/>
<circle cx="988.4" cy="2343.3" r="2.64"/>
<circle cx="988.7" cy="2343.3" r="2.64"/>
<circle cx="989.4" cy="2343.3" r="2.64"/>
<circle cx="989.7" cy="2343.3" r="2.64"/>
<circle cx="991.4" cy="2343.3" r="2.64"/>
<circle cx="993.0" cy="2343.3" r="2.64"/>
<circle cx="993.9" cy="2343.3" r="2.64"/>
<circle cx="996.1" cy="2343.3" r="2.64"/>
<circle cx="999.0" cy="2343.3" r="2.64"/>
<circle cx="999.1" cy="2343.3" r="2.64"/>
<circle cx="1000.0" cy="2343.3" r="2.64"/>
<circle cx="1001.3" cy="2343.3" r="2.64"/>
<circle cx="1006.2" cy="2343.3" r="2.64"/>
<circle cx="1018.4" cy="2343.3" r="2.64"/>
<circle cx="1019.4" cy="2343.3" r="2.64"/>
<circle cx="1026.2" cy="2343.3" r="2.64"/>
<circle cx="1026.6" cy="2343.3" r="2.64"/>
<circle cx="1032.4" cy="2343.3" r="2.64"/>
<circle cx="1035.4" cy="2343.3" r="2.64"/>
<circle cx="1040.9" cy="2343.3" r="2.64"/>
<circle cx="1041.1" cy="2343.3" r="2.64"/>
<circle cx="1042.1" cy="2343.3" r="2.64"/>
<circle cx="1045.4" cy="2343.3" r="2.64"/>
<circle cx="1046.6" cy="2343.3" r="2.64"/>
<circle cx="1048.2" cy="2343.3" r="2.64"/>
<circle cx="1051.9" cy="2343.3" r="2.64"/>
<circle cx="1052.7" cy="2343.3" r="2.64"/>
<circle cx="1053.5" cy="2343.3" r="2.64"/>
<circle cx="1053.7" cy="2308.4" r="2.64"/>
<circle cx="1055.7" cy="2343.3" r="2.64"/>
<circle cx="1056.9" cy="2343.3" r="2.64"/>
<circle cx="1059.3" cy="2343.3" r="2.64"/>
<circle cx="1061.9" cy="2343.3" r="2.64"/>
<circle cx="1070.5" cy="2343.3" r="2.64"/>
<circle cx="1073.5" cy="2343.3" r="2.64"/>
<circle cx="1075.6" cy="2343.3" r="2.64"/>
<circle cx="1077.5" cy="2343.3" r="2.64"/>
<circle cx="1080.1" cy="2325.6" r="2.64"/>
<circle cx="1082.2" cy="2343.3" r="2.64"/>
<circle cx="1082.8" cy="2343.3" r="2.64"/>
<circle cx="1083.7" cy="2343.3" r="2.64"/>
<circle cx="1095.9" cy="2343.3" r="2.64"/>
<circle cx="1098.0" cy="2343.3" r="2.64"/>
<circle cx="1099.0" cy="2343.3" r="2.64"/>
<circle cx="1099.1" cy="2343.3" r="2.64"/>
<circle cx="1105.0" cy="2343.3" r="2.64"/>
<circle cx="1109.2" cy="2343.3" r="2.64"/>
<circle cx="1112.7" cy="2343.3" r="2.64"/>
<circle cx="1115.7" cy="2343.3" r="2.64"/>
<circle cx="1118.2" cy="2343.3" r="2.64"/>
<circle cx="1118.6" cy="2343.3" r="2.64"/>
<circle cx="1120.1" cy="2343.3" r="2.64"/>
<circle cx="1121.6" cy="2343.3" r="2.64"/>
<circle cx="1121.9" cy="2343.3" r="2.64"/>
<circle cx="1124.6" cy="2343.3" r="2.64"/>
<circle cx="1127.9" cy="2343.3" r="2.64"/>
<circle cx="1129.4" cy="2343.3" r="2.64"/>
<circle cx="1130.1" cy="2343.3" r="2.64"/>
<circle cx="1130.4" cy="2343.3" r="2.64"/>
<circle cx="1130.6" cy="2343.3" r="2.64"/>
<circle cx="962.0" cy="2277.8" r="2.64"/>
</g>
<g fill="#e4277f" fill-opacity="0.85" stroke="#e4277f" stroke-opacity="0.90" stroke-width="0.93">
<circle cx="1137.0" cy="2343.3" r="2.64"/>
<circle cx="1137.7" cy="2343.3" r="2.64"/>
<circle cx="1140.4" cy="2343.3" r="2.64"/>
<circle cx="1143.3" cy="2343.3" r="2.64"/>
<circle cx="1143.3" cy="2343.3" r="2.64"/>
<circle cx="1147.0" cy="2343.3" r="2.64"/>
<circle cx="1148.0" cy="2343.3" r="2.64"/>
<circle cx="1148.4" cy="2343.3" r="2.64"/>
<circle cx="1149.1" cy="2343.3" r="2.64"/>
<circle cx="1149.2" cy="2343.3" r="2.64"/>
<circle cx="1149.4" cy="2343.3" r="2.64"/>
<circle cx="1150.9" cy="2343.3" r="2.64"/>
<circle cx="1155.4" cy="2343.3" r="2.64"/>
<circle cx="1155.5" cy="2343.3" r="2.64"/>
<circle cx="1162.3" cy="2343.3" r="2.64"/>
<circle cx="1162.6" cy="2343.3" r="2.64"/>
<circle cx="1166.8" cy="2343.3" r="2.64"/>
<circle cx="1167.2" cy="2343.3" r="2.64"/>
<circle cx="1167.8" cy="2343.3" r="2.64"/>
<circle cx="1170.6" cy="2343.3" r="2.64"/>
<circle cx="1171.5" cy="2343.3" r="2.64"/>
<circle cx="1172.4" cy="2343.3" r="2.64"/>
<circle cx="1175.4" cy="2343.3" r="2.64"/>
<circle cx="1176.0" cy="2343.3" r="2.64"/>
<circle cx="1178.7" cy="2343.3" r="2.64"/>
<circle cx="1180.5" cy="2343.3" r="2.64"/>
<circle cx="1183.3" cy="2343.3" r="2.64"/>
<circle cx="1185.1" cy="2343.3" r="2.64"/>
<circle cx="1187.4" cy="2343.3" r="2.64"/>
<circle cx="1187.5" cy="2343.3" r="2.64"/>
<circle cx="1187.8" cy="2343.3" r="2.64"/>
<circle cx="1190.0" cy="2343.3" r="2.64"/>
<circle cx="1190.7" cy="2343.3" r="2.64"/>
<circle cx="1192.5" cy="2343.3" r="2.64"/>
<circle cx="1193.3" cy="2343.3" r="2.64"/>
<circle cx="1193.4" cy="2343.3" r="2.64"/>
<circle cx="1196.7" cy="2343.3" r="2.64"/>
<circle cx="1197.6" cy="2343.3" r="2.64"/>
<circle cx="1197.6" cy="2343.3" r="2.64"/>
<circle cx="1197.8" cy="2343.3" r="2.64"/>
<circle cx="1206.5" cy="2343.3" r="2.64"/>
<circle cx="1207.3" cy="2343.3" r="2.64"/>
<circle cx="1210.9" cy="2321.9" r="2.64"/>
<circle cx="1211.7" cy="2343.3" r="2.64"/>
<circle cx="1215.6" cy="2343.3" r="2.64"/>
<circle cx="1216.4" cy="2343.3" r="2.64"/>
<circle cx="1218.4" cy="2343.3" r="2.64"/>
<circle cx="1219.3" cy="2343.3" r="2.64"/>
<circle cx="1219.3" cy="2343.3" r="2.64"/>
<circle cx="1222.7" cy="2343.3" r="2.64"/>
<circle cx="1226.1" cy="2343.3" r="2.64"/>
<circle cx="1229.6" cy="2343.3" r="2.64"/>
<circle cx="1230.7" cy="2343.3" r="2.64"/>
<circle cx="1231.4" cy="2343.3" r="2.64"/>
<circle cx="1231.9" cy="2343.3" r="2.64"/>
<circle cx="1241.6" cy="2343.3" r="2.64"/>
<circle cx="1244.9" cy="2343.3" r="2.64"/>
<circle cx="1251.8" cy="2343.3" r="2.64"/>
<circle cx="1251.9" cy="2343.3" r="2.64"/>
<circle cx="1252.7" cy="2343.3" r="2.64"/>
<circle cx="1254.6" cy="2343.3" r="2.64"/>
<circle cx="1255.5" cy="2343.3" r="2.64"/>
<circle cx="1258.0" cy="2343.3" r="2.64"/>
<circle cx="1261.5" cy="2343.3" r="2.64"/>
<circle cx="1263.1" cy="2343.3" r="2.64"/>
<circle cx="1263.6" cy="2343.3" r="2.64"/>
<circle cx="1263.8" cy="2343.3" r="2.64"/>
<circle cx="1264.2" cy="2343.3" r="2.64"/>
<circle cx="1265.2" cy="2343.3" r="2.64"/>
<circle cx="1265.3" cy="2343.3" r="2.64"/>
<circle cx="1267.1" cy="2343.3" r="2.64"/>
<circle cx="1269.6" cy="2343.3" r="2.64"/>
<circle cx="1270.2" cy="2343.3" r="2.64"/>
<circle cx="1271.7" cy="2343.3" r="2.64"/>
<circle cx="1272.5" cy="2343.3" r="2.64"/>
<circle cx="1274.8" cy="2343.3" r="2.64"/>
<circle cx="1278.7" cy="2343.3" r="2.64"/>
<circle cx="1279.1" cy="2343.3" r="2.64"/>
<circle cx="1279.1" cy="2343.3" r="2.64"/>
<circle cx="1282.0" cy="2343.3" r="2.64"/>
<circle cx="1283.9" cy="2343.3" r="2.64"/>
<circle cx="1284.7" cy="2343.3" r="2.64"/>
<circle cx="1288.5" cy="2343.3" r="2.64"/>
<circle cx="1289.7" cy="2343.3" r="2.64"/>
<circle cx="1264.9" cy="2312.5" r="2.64"/>
</g>
<path d="M834.9 2311.6C844.0 2312.4 870.7 2314.2 889.5 2316.3C908.4 2318.4 928.4 2320.9 947.9 2324.3C967.3 2327.8 986.7 2333.9 1006.2 2337.1C1025.6 2340.3 1045.7 2342.7 1064.5 2343.6C1083.3 2344.6 1081.6 2342.9 1119.2 2342.6C1156.7 2342.2 1261.3 2341.6 1289.8 2341.5" stroke="#8a9a9a" stroke-opacity="0.22" stroke-width="13.5" fill="none"/>
<path d="M834.9 2302.8L864.9 2308.9L864.9 2319.5L834.9 2320.4Z" fill="#6f7c7c" fill-opacity="0.38"/>
<path d="M1289.8 2332.7L1259.8 2336.3L1259.8 2346.9L1289.8 2350.3Z" fill="#6f7c7c" fill-opacity="0.38"/>
<path d="M834.9 2311.6C844.0 2312.4 870.7 2314.2 889.5 2316.3C908.4 2318.4 928.4 2320.9 947.9 2324.3C967.3 2327.8 986.7 2333.9 1006.2 2337.1C1025.6 2340.3 1045.7 2342.7 1064.5 2343.6C1083.3 2344.6 1081.6 2342.9 1119.2 2342.6C1156.7 2342.2 1261.3 2341.6 1289.8 2341.5" stroke="#ff0000" stroke-width="10.2" fill="none"/>
<rect x="809.9" y="2341.8" width="2.4" height="3.0" fill="#111" />
<text x="808.5" y="2346.7" font-size="9.6" text-anchor="end" fill="#222" >0</text>
<rect x="809.9" y="2316.1" width="2.4" height="3.0" fill="#111" />
<text x="808.5" y="2321.0" font-size="9.6" text-anchor="end" fill="#222" >1</text>
<rect x="809.9" y="2290.4" width="2.4" height="3.0" fill="#111" />
<text x="808.5" y="2295.3" font-size="9.6" text-anchor="end" fill="#222" >2</text>
<rect x="809.9" y="2264.7" width="2.4" height="3.0" fill="#111" />
<text x="808.5" y="2269.6" font-size="9.6" text-anchor="end" fill="#222" >3</text>
<text x="792.0" y="2300.6" font-size="23.7" text-anchor="end" font-style="italic" fill="#000" >Pax9</text>
<rect x="1436.0" y="1745.5" width="500.0" height="95.9" fill="#ebebeb" />
<path d="M1436.0 1819.6H1936.0M1436.0 1789.2H1936.0M1436.0 1758.8H1936.0M1513.5 1745.5V1841.4M1628.5 1745.5V1841.4M1743.5 1745.5V1841.4M1858.5 1745.5V1841.4" stroke="#fff" stroke-width="2.3" fill="none"/>
<path d="M1436.0 1834.8H1936.0M1436.0 1804.4H1936.0M1436.0 1774.0H1936.0M1456.0 1745.5V1841.4M1571.0 1745.5V1841.4M1686.0 1745.5V1841.4M1801.0 1745.5V1841.4M1916.0 1745.5V1841.4" stroke="#fff" stroke-width="3.4" fill="none"/>
<g fill="#d5b5da" fill-opacity="0.85" stroke="#d5b5da" stroke-opacity="0.90" stroke-width="0.93">
<circle cx="1459.3" cy="1834.8" r="2.64"/>
<circle cx="1460.0" cy="1834.8" r="2.64"/>
<circle cx="1462.6" cy="1834.8" r="2.64"/>
<circle cx="1463.8" cy="1834.8" r="2.64"/>
<circle cx="1464.5" cy="1834.8" r="2.64"/>
<circle cx="1466.7" cy="1834.8" r="2.64"/>
<circle cx="1468.9" cy="1834.8" r="2.64"/>
<circle cx="1471.1" cy="1834.8" r="2.64"/>
<circle cx="1471.7" cy="1834.8" r="2.64"/>
<circle cx="1473.4" cy="1834.8" r="2.64"/>
<circle cx="1475.2" cy="1805.6" r="2.64"/>
<circle cx="1477.5" cy="1834.8" r="2.64"/>
<circle cx="1479.8" cy="1834.8" r="2.64"/>
<circle cx="1480.6" cy="1834.8" r="2.64"/>
<circle cx="1483.8" cy="1834.8" r="2.64"/>
<circle cx="1484.4" cy="1791.3" r="2.64"/>
<circle cx="1488.1" cy="1834.8" r="2.64"/>
<circle cx="1494.1" cy="1834.8" r="2.64"/>
<circle cx="1499.1" cy="1834.8" r="2.64"/>
<circle cx="1500.0" cy="1834.8" r="2.64"/>
<circle cx="1507.0" cy="1796.5" r="2.64"/>
<circle cx="1507.7" cy="1834.8" r="2.64"/>
<circle cx="1510.0" cy="1834.8" r="2.64"/>
<circle cx="1516.1" cy="1834.8" r="2.64"/>
<circle cx="1517.9" cy="1834.8" r="2.64"/>
<circle cx="1521.6" cy="1834.8" r="2.64"/>
<circle cx="1524.8" cy="1834.8" r="2.64"/>
<circle cx="1525.2" cy="1834.8" r="2.64"/>
<circle cx="1526.2" cy="1834.8" r="2.64"/>
<circle cx="1526.4" cy="1834.8" r="2.64"/>
<circle cx="1531.1" cy="1834.8" r="2.64"/>
<circle cx="1531.3" cy="1834.8" r="2.64"/>
<circle cx="1532.0" cy="1780.8" r="2.64"/>
<circle cx="1534.0" cy="1834.8" r="2.64"/>
<circle cx="1534.1" cy="1834.8" r="2.64"/>
<circle cx="1536.7" cy="1834.8" r="2.64"/>
<circle cx="1539.3" cy="1834.8" r="2.64"/>
<circle cx="1540.8" cy="1834.8" r="2.64"/>
<circle cx="1547.9" cy="1834.8" r="2.64"/>
<circle cx="1551.7" cy="1834.8" r="2.64"/>
<circle cx="1553.8" cy="1834.8" r="2.64"/>
<circle cx="1556.5" cy="1834.8" r="2.64"/>
<circle cx="1557.1" cy="1834.8" r="2.64"/>
<circle cx="1558.2" cy="1834.8" r="2.64"/>
<circle cx="1566.5" cy="1834.8" r="2.64"/>
<circle cx="1570.7" cy="1834.8" r="2.64"/>
<circle cx="1572.6" cy="1834.8" r="2.64"/>
<circle cx="1476.7" cy="1771.0" r="2.64"/>
</g>
<g fill="#e36fba" fill-opacity="0.85" stroke="#e36fba" stroke-opacity="0.90" stroke-width="0.93">
<circle cx="1582.4" cy="1806.5" r="2.64"/>
<circle cx="1585.7" cy="1834.8" r="2.64"/>
<circle cx="1586.3" cy="1811.7" r="2.64"/>
<circle cx="1590.1" cy="1818.1" r="2.64"/>
<circle cx="1590.9" cy="1834.8" r="2.64"/>
<circle cx="1592.2" cy="1809.4" r="2.64"/>
<circle cx="1592.6" cy="1834.8" r="2.64"/>
<circle cx="1594.4" cy="1818.3" r="2.64"/>
<circle cx="1595.6" cy="1800.7" r="2.64"/>
<circle cx="1599.5" cy="1794.3" r="2.64"/>
<circle cx="1600.7" cy="1834.8" r="2.64"/>
<circle cx="1602.2" cy="1791.8" r="2.64"/>
<circle cx="1602.6" cy="1834.8" r="2.64"/>
<circle cx="1612.2" cy="1834.8" r="2.64"/>
<circle cx="1612.5" cy="1790.2" r="2.64"/>
<circle cx="1613.2" cy="1834.8" r="2.64"/>
<circle cx="1613.5" cy="1798.4" r="2.64"/>
<circle cx="1615.2" cy="1834.8" r="2.64"/>
<circle cx="1616.8" cy="1816.4" r="2.64"/>
<circle cx="1617.8" cy="1834.8" r="2.64"/>
<circle cx="1619.9" cy="1834.8" r="2.64"/>
<circle cx="1622.8" cy="1790.7" r="2.64"/>
<circle cx="1622.9" cy="1834.8" r="2.64"/>
<circle cx="1623.9" cy="1812.4" r="2.64"/>
<circle cx="1625.1" cy="1796.4" r="2.64"/>
<circle cx="1630.0" cy="1803.1" r="2.64"/>
<circle cx="1642.2" cy="1806.7" r="2.64"/>
<circle cx="1643.2" cy="1834.8" r="2.64"/>
<circle cx="1650.0" cy="1806.2" r="2.64"/>
<circle cx="1650.4" cy="1814.2" r="2.64"/>
<circle cx="1656.2" cy="1834.8" r="2.64"/>
<circle cx="1659.2" cy="1803.2" r="2.64"/>
<circle cx="1664.7" cy="1834.8" r="2.64"/>
<circle cx="1664.9" cy="1818.6" r="2.64"/>
<circle cx="1665.8" cy="1793.6" r="2.64"/>
<circle cx="1669.1" cy="1834.8" r="2.64"/>
<circle cx="1670.4" cy="1801.1" r="2.64"/>
<circle cx="1671.9" cy="1804.1" r="2.64"/>
<circle cx="1675.6" cy="1834.8" r="2.64"/>
<circle cx="1676.5" cy="1821.7" r="2.64"/>
<circle cx="1677.2" cy="1807.5" r="2.64"/>
<circle cx="1677.5" cy="1834.8" r="2.64"/>
<circle cx="1679.5" cy="1834.8" r="2.64"/>
<circle cx="1680.6" cy="1834.8" r="2.64"/>
<circle cx="1683.1" cy="1834.8" r="2.64"/>
<circle cx="1685.7" cy="1811.0" r="2.64"/>
<circle cx="1694.3" cy="1818.4" r="2.64"/>
<circle cx="1697.2" cy="1834.8" r="2.64"/>
<circle cx="1699.3" cy="1834.8" r="2.64"/>
<circle cx="1701.3" cy="1834.8" r="2.64"/>
<circle cx="1703.8" cy="1805.9" r="2.64"/>
<circle cx="1705.9" cy="1810.1" r="2.64"/>
<circle cx="1706.5" cy="1810.7" r="2.64"/>
<circle cx="1707.4" cy="1807.2" r="2.64"/>
<circle cx="1719.6" cy="1834.8" r="2.64"/>
<circle cx="1721.7" cy="1807.9" r="2.64"/>
<circle cx="1722.7" cy="1810.7" r="2.64"/>
<circle cx="1722.8" cy="1806.4" r="2.64"/>
<circle cx="1728.8" cy="1834.8" r="2.64"/>
<circle cx="1732.9" cy="1816.4" r="2.64"/>
<circle cx="1736.4" cy="1796.4" r="2.64"/>
<circle cx="1739.4" cy="1834.8" r="2.64"/>
<circle cx="1741.9" cy="1799.0" r="2.64"/>
<circle cx="1742.3" cy="1798.0" r="2.64"/>
<circle cx="1743.8" cy="1805.2" r="2.64"/>
<circle cx="1745.3" cy="1834.8" r="2.64"/>
<circle cx="1745.5" cy="1780.3" r="2.64"/>
<circle cx="1748.3" cy="1787.0" r="2.64"/>
<circle cx="1751.5" cy="1785.7" r="2.64"/>
<circle cx="1753.1" cy="1797.2" r="2.64"/>
<circle cx="1753.8" cy="1834.8" r="2.64"/>
<circle cx="1754.1" cy="1803.2" r="2.64"/>
<circle cx="1754.3" cy="1816.8" r="2.64"/>
</g>
<g fill="#e4277f" fill-opacity="0.85" stroke="#e4277f" stroke-opacity="0.90" stroke-width="0.93">
<circle cx="1760.6" cy="1793.9" r="2.64"/>
<circle cx="1761.3" cy="1773.2" r="2.64"/>
<circle cx="1764.1" cy="1834.8" r="2.64"/>
<circle cx="1766.9" cy="1782.9" r="2.64"/>
<circle cx="1767.0" cy="1834.8" r="2.64"/>
<circle cx="1770.6" cy="1798.8" r="2.64"/>
<circle cx="1771.7" cy="1793.3" r="2.64"/>
<circle cx="1772.1" cy="1834.8" r="2.64"/>
<circle cx="1772.7" cy="1769.7" r="2.64"/>
<circle cx="1772.9" cy="1773.2" r="2.64"/>
<circle cx="1773.1" cy="1834.8" r="2.64"/>
<circle cx="1774.5" cy="1834.8" r="2.64"/>
<circle cx="1779.0" cy="1796.3" r="2.64"/>
<circle cx="1779.1" cy="1792.9" r="2.64"/>
<circle cx="1786.0" cy="1834.8" r="2.64"/>
<circle cx="1786.3" cy="1805.5" r="2.64"/>
<circle cx="1790.4" cy="1799.5" r="2.64"/>
<circle cx="1790.8" cy="1781.3" r="2.64"/>
<circle cx="1791.4" cy="1798.4" r="2.64"/>
<circle cx="1794.2" cy="1799.6" r="2.64"/>
<circle cx="1795.2" cy="1834.8" r="2.64"/>
<circle cx="1796.0" cy="1789.4" r="2.64"/>
<circle cx="1799.0" cy="1779.4" r="2.64"/>
<circle cx="1799.7" cy="1794.9" r="2.64"/>
<circle cx="1802.4" cy="1834.8" r="2.64"/>
<circle cx="1804.1" cy="1834.8" r="2.64"/>
<circle cx="1806.9" cy="1800.7" r="2.64"/>
<circle cx="1808.7" cy="1793.5" r="2.64"/>
<circle cx="1811.0" cy="1794.9" r="2.64"/>
<circle cx="1811.1" cy="1795.2" r="2.64"/>
<circle cx="1811.4" cy="1834.8" r="2.64"/>
<circle cx="1813.6" cy="1834.8" r="2.64"/>
<circle cx="1814.3" cy="1834.8" r="2.64"/>
<circle cx="1816.1" cy="1792.0" r="2.64"/>
<circle cx="1816.9" cy="1797.4" r="2.64"/>
<circle cx="1817.0" cy="1834.8" r="2.64"/>
<circle cx="1820.3" cy="1772.5" r="2.64"/>
<circle cx="1821.2" cy="1834.8" r="2.64"/>
<circle cx="1821.2" cy="1834.8" r="2.64"/>
<circle cx="1821.4" cy="1794.4" r="2.64"/>
<circle cx="1830.1" cy="1782.1" r="2.64"/>
<circle cx="1830.9" cy="1834.8" r="2.64"/>
<circle cx="1834.5" cy="1816.0" r="2.64"/>
<circle cx="1835.3" cy="1834.8" r="2.64"/>
<circle cx="1839.2" cy="1785.7" r="2.64"/>
<circle cx="1840.0" cy="1809.3" r="2.64"/>
<circle cx="1842.0" cy="1788.5" r="2.64"/>
<circle cx="1842.9" cy="1800.2" r="2.64"/>
<circle cx="1842.9" cy="1800.1" r="2.64"/>
<circle cx="1846.3" cy="1834.8" r="2.64"/>
<circle cx="1849.7" cy="1799.1" r="2.64"/>
<circle cx="1853.2" cy="1834.8" r="2.64"/>
<circle cx="1854.3" cy="1834.8" r="2.64"/>
<circle cx="1855.0" cy="1786.8" r="2.64"/>
<circle cx="1855.4" cy="1834.8" r="2.64"/>
<circle cx="1865.2" cy="1815.7" r="2.64"/>
<circle cx="1868.4" cy="1834.8" r="2.64"/>
<circle cx="1875.3" cy="1834.8" r="2.64"/>
<circle cx="1875.4" cy="1834.8" r="2.64"/>
<circle cx="1876.2" cy="1834.8" r="2.64"/>
<circle cx="1878.2" cy="1793.4" r="2.64"/>
<circle cx="1879.0" cy="1803.7" r="2.64"/>
<circle cx="1881.5" cy="1791.9" r="2.64"/>
<circle cx="1885.0" cy="1797.9" r="2.64"/>
<circle cx="1886.6" cy="1790.1" r="2.64"/>
<circle cx="1887.1" cy="1785.3" r="2.64"/>
<circle cx="1887.3" cy="1794.1" r="2.64"/>
<circle cx="1887.7" cy="1800.2" r="2.64"/>
<circle cx="1888.7" cy="1800.5" r="2.64"/>
<circle cx="1888.8" cy="1834.8" r="2.64"/>
<circle cx="1890.7" cy="1771.4" r="2.64"/>
<circle cx="1893.1" cy="1834.8" r="2.64"/>
<circle cx="1893.7" cy="1798.3" r="2.64"/>
<circle cx="1895.2" cy="1834.8" r="2.64"/>
<circle cx="1896.0" cy="1834.8" r="2.64"/>
<circle cx="1898.3" cy="1834.8" r="2.64"/>
<circle cx="1902.2" cy="1816.3" r="2.64"/>
<circle cx="1902.6" cy="1815.9" r="2.64"/>
<circle cx="1902.6" cy="1834.8" r="2.64"/>
<circle cx="1905.5" cy="1795.6" r="2.64"/>
<circle cx="1907.4" cy="1774.1" r="2.64"/>
<circle cx="1908.2" cy="1779.2" r="2.64"/>
<circle cx="1912.0" cy="1798.5" r="2.64"/>
<circle cx="1913.2" cy="1791.2" r="2.64"/>
<circle cx="1909.0" cy="1749.7" r="2.64"/>
<circle cx="1849.8" cy="1746.6" r="2.64"/>
<circle cx="1795.2" cy="1751.2" r="2.64"/>
</g>
<path d="M1458.5 1828.6C1467.0 1829.0 1491.3 1830.7 1509.5 1831.2C1527.8 1831.6 1548.4 1831.8 1567.9 1831.2C1587.3 1830.5 1606.7 1829.3 1626.2 1827.5C1645.6 1825.7 1665.7 1823.4 1684.5 1820.6C1703.3 1817.7 1720.3 1813.0 1739.2 1810.4C1758.0 1807.8 1778.4 1806.2 1797.5 1804.9C1816.6 1803.6 1834.7 1803.0 1854.0 1802.4C1873.3 1801.8 1903.5 1801.4 1913.4 1801.3" stroke="#8a9a9a" stroke-opacity="0.22" stroke-width="13.5" fill="none"/>
<path d="M1458.5 1819.8L1488.5 1824.8L1488.5 1835.4L1458.5 1837.4Z" fill="#6f7c7c" fill-opacity="0.38"/>
<path d="M1913.4 1792.5L1883.4 1796.5L1883.4 1807.1L1913.4 1810.1Z" fill="#6f7c7c" fill-opacity="0.38"/>
<path d="M1458.5 1828.6C1467.0 1829.0 1491.3 1830.7 1509.5 1831.2C1527.8 1831.6 1548.4 1831.8 1567.9 1831.2C1587.3 1830.5 1606.7 1829.3 1626.2 1827.5C1645.6 1825.7 1665.7 1823.4 1684.5 1820.6C1703.3 1817.7 1720.3 1813.0 1739.2 1810.4C1758.0 1807.8 1778.4 1806.2 1797.5 1804.9C1816.6 1803.6 1834.7 1803.0 1854.0 1802.4C1873.3 1801.8 1903.5 1801.4 1913.4 1801.3" stroke="#ff0000" stroke-width="10.2" fill="none"/>
<rect x="1433.4" y="1833.3" width="2.4" height="3.0" fill="#111" />
<text x="1432.0" y="1838.2" font-size="9.6" text-anchor="end" fill="#222" >0</text>
<rect x="1433.4" y="1802.9" width="2.4" height="3.0" fill="#111" />
<text x="1432.0" y="1807.8" font-size="9.6" text-anchor="end" fill="#222" >1</text>
<rect x="1433.4" y="1772.5" width="2.4" height="3.0" fill="#111" />
<text x="1432.0" y="1777.4" font-size="9.6" text-anchor="end" fill="#222" >2</text>
<rect x="1433.4" y="1742.1" width="2.4" height="3.0" fill="#111" />
<text x="1432.0" y="1747.0" font-size="9.6" text-anchor="end" fill="#222" >3</text>
<text x="1418.5" y="1798.7" font-size="23.7" text-anchor="end" font-style="italic" fill="#000" >Pdgfrb</text>
<rect x="1436.0" y="1846.8" width="500.0" height="99.2" fill="#ebebeb" />
<path d="M1436.0 1940.0H1936.0M1436.0 1912.6H1936.0M1436.0 1885.3H1936.0M1436.0 1858.0H1936.0M1513.5 1846.8V1946.0M1628.5 1846.8V1946.0M1743.5 1846.8V1946.0M1858.5 1846.8V1946.0" stroke="#fff" stroke-width="2.3" fill="none"/>
<path d="M1436.0 1926.3H1936.0M1436.0 1899.0H1936.0M1436.0 1871.7H1936.0M1456.0 1846.8V1946.0M1571.0 1846.8V1946.0M1686.0 1846.8V1946.0M1801.0 1846.8V1946.0M1916.0 1846.8V1946.0" stroke="#fff" stroke-width="3.4" fill="none"/>
<g fill="#d5b5da" fill-opacity="0.85" stroke="#d5b5da" stroke-opacity="0.90" stroke-width="0.93">
<circle cx="1459.3" cy="1888.4" r="2.64"/>
<circle cx="1460.0" cy="1883.5" r="2.64"/>
<circle cx="1462.6" cy="1926.3" r="2.64"/>
<circle cx="1463.8" cy="1885.1" r="2.64"/>
<circle cx="1464.5" cy="1879.4" r="2.64"/>
<circle cx="1466.7" cy="1926.3" r="2.64"/>
<circle cx="1468.9" cy="1872.3" r="2.64"/>
<circle cx="1471.1" cy="1926.3" r="2.64"/>
<circle cx="1471.7" cy="1888.8" r="2.64"/>
<circle cx="1473.4" cy="1926.3" r="2.64"/>
<circle cx="1475.2" cy="1869.8" r="2.64"/>
<circle cx="1477.5" cy="1865.0" r="2.64"/>
<circle cx="1479.8" cy="1875.6" r="2.64"/>
<circle cx="1480.6" cy="1874.7" r="2.64"/>
<circle cx="1483.8" cy="1926.3" r="2.64"/>
<circle cx="1484.4" cy="1926.3" r="2.64"/>
<circle cx="1488.1" cy="1926.3" r="2.64"/>
<circle cx="1494.1" cy="1878.5" r="2.64"/>
<circle cx="1499.1" cy="1926.3" r="2.64"/>
<circle cx="1500.0" cy="1875.9" r="2.64"/>
<circle cx="1507.0" cy="1874.9" r="2.64"/>
<circle cx="1507.7" cy="1926.3" r="2.64"/>
<circle cx="1510.0" cy="1885.9" r="2.64"/>
<circle cx="1516.1" cy="1881.4" r="2.64"/>
<circle cx="1517.9" cy="1926.3" r="2.64"/>
<circle cx="1521.6" cy="1926.3" r="2.64"/>
<circle cx="1524.8" cy="1860.4" r="2.64"/>
<circle cx="1525.2" cy="1883.2" r="2.64"/>
<circle cx="1526.2" cy="1879.3" r="2.64"/>
<circle cx="1526.4" cy="1926.3" r="2.64"/>
<circle cx="1531.1" cy="1926.3" r="2.64"/>
<circle cx="1531.3" cy="1926.3" r="2.64"/>
<circle cx="1532.0" cy="1926.3" r="2.64"/>
<circle cx="1534.0" cy="1926.3" r="2.64"/>
<circle cx="1534.1" cy="1926.3" r="2.64"/>
<circle cx="1536.7" cy="1926.3" r="2.64"/>
<circle cx="1539.3" cy="1890.9" r="2.64"/>
<circle cx="1540.8" cy="1926.3" r="2.64"/>
<circle cx="1547.9" cy="1874.8" r="2.64"/>
<circle cx="1551.7" cy="1926.3" r="2.64"/>
<circle cx="1553.8" cy="1876.6" r="2.64"/>
<circle cx="1556.5" cy="1881.1" r="2.64"/>
<circle cx="1557.1" cy="1926.3" r="2.64"/>
<circle cx="1558.2" cy="1926.3" r="2.64"/>
<circle cx="1566.5" cy="1926.3" r="2.64"/>
<circle cx="1570.7" cy="1926.3" r="2.64"/>
<circle cx="1572.6" cy="1926.3" r="2.64"/>
<circle cx="1463.0" cy="1851.2" r="2.64"/>
</g>
<g fill="#e36fba" fill-opacity="0.85" stroke="#e36fba" stroke-opacity="0.90" stroke-width="0.93">
<circle cx="1582.4" cy="1926.3" r="2.64"/>
<circle cx="1585.7" cy="1891.4" r="2.64"/>
<circle cx="1586.3" cy="1889.5" r="2.64"/>
<circle cx="1590.1" cy="1908.6" r="2.64"/>
<circle cx="1590.9" cy="1926.3" r="2.64"/>
<circle cx="1592.2" cy="1926.3" r="2.64"/>
<circle cx="1592.6" cy="1907.7" r="2.64"/>
<circle cx="1594.4" cy="1902.6" r="2.64"/>
<circle cx="1595.6" cy="1874.2" r="2.64"/>
<circle cx="1599.5" cy="1875.7" r="2.64"/>
<circle cx="1600.7" cy="1926.3" r="2.64"/>
<circle cx="1602.2" cy="1926.3" r="2.64"/>
<circle cx="1602.6" cy="1926.3" r="2.64"/>
<circle cx="1612.2" cy="1926.3" r="2.64"/>
<circle cx="1612.5" cy="1926.3" r="2.64"/>
<circle cx="1613.2" cy="1912.9" r="2.64"/>
<circle cx="1613.5" cy="1926.3" r="2.64"/>
<circle cx="1615.2" cy="1926.3" r="2.64"/>
<circle cx="1616.8" cy="1874.1" r="2.64"/>
<circle cx="1617.8" cy="1926.3" r="2.64"/>
<circle cx="1619.9" cy="1897.2" r="2.64"/>
<circle cx="1622.8" cy="1899.7" r="2.64"/>
<circle cx="1622.9" cy="1926.3" r="2.64"/>
<circle cx="1623.9" cy="1893.1" r="2.64"/>
<circle cx="1625.1" cy="1926.3" r="2.64"/>
<circle cx="1630.0" cy="1926.3" r="2.64"/>
<circle cx="1642.2" cy="1926.3" r="2.64"/>
<circle cx="1643.2" cy="1896.6" r="2.64"/>
<circle cx="1650.0" cy="1893.7" r="2.64"/>
<circle cx="1650.4" cy="1926.3" r="2.64"/>
<circle cx="1656.2" cy="1926.3" r="2.64"/>
<circle cx="1659.2" cy="1916.1" r="2.64"/>
<circle cx="1664.7" cy="1926.3" r="2.64"/>
<circle cx="1664.9" cy="1926.3" r="2.64"/>
<circle cx="1665.8" cy="1903.1" r="2.64"/>
<circle cx="1669.1" cy="1896.5" r="2.64"/>
<circle cx="1670.4" cy="1926.3" r="2.64"/>
<circle cx="1671.9" cy="1926.3" r="2.64"/>
<circle cx="1675.6" cy="1883.8" r="2.64"/>
<circle cx="1676.5" cy="1926.3" r="2.64"/>
<circle cx="1677.2" cy="1883.3" r="2.64"/>
<circle cx="1677.5" cy="1926.3" r="2.64"/>
<circle cx="1679.5" cy="1926.3" r="2.64"/>
<circle cx="1680.6" cy="1902.0" r="2.64"/>
<circle cx="1683.1" cy="1916.3" r="2.64"/>
<circle cx="1685.7" cy="1926.3" r="2.64"/>
<circle cx="1694.3" cy="1926.3" r="2.64"/>
<circle cx="1697.2" cy="1888.4" r="2.64"/>
<circle cx="1699.3" cy="1926.3" r="2.64"/>
<circle cx="1701.3" cy="1907.6" r="2.64"/>
<circle cx="1703.8" cy="1902.2" r="2.64"/>
<circle cx="1705.9" cy="1893.7" r="2.64"/>
<circle cx="1706.5" cy="1899.3" r="2.64"/>
<circle cx="1707.4" cy="1926.3" r="2.64"/>
<circle cx="1719.6" cy="1926.3" r="2.64"/>
<circle cx="1721.7" cy="1926.3" r="2.64"/>
<circle cx="1722.7" cy="1876.3" r="2.64"/>
<circle cx="1722.8" cy="1926.3" r="2.64"/>
<circle cx="1728.8" cy="1883.3" r="2.64"/>
<circle cx="1732.9" cy="1926.3" r="2.64"/>
<circle cx="1736.4" cy="1900.4" r="2.64"/>
<circle cx="1739.4" cy="1891.9" r="2.64"/>
<circle cx="1741.9" cy="1885.1" r="2.64"/>
<circle cx="1742.3" cy="1888.3" r="2.64"/>
<circle cx="1743.8" cy="1892.8" r="2.64"/>
<circle cx="1745.3" cy="1892.3" r="2.64"/>
<circle cx="1745.5" cy="1890.1" r="2.64"/>
<circle cx="1748.3" cy="1926.3" r="2.64"/>
<circle cx="1751.5" cy="1926.3" r="2.64"/>
<circle cx="1753.1" cy="1926.3" r="2.64"/>
<circle cx="1753.8" cy="1926.3" r="2.64"/>
<circle cx="1754.1" cy="1926.3" r="2.64"/>
<circle cx="1754.3" cy="1882.7" r="2.64"/>
</g>
<g fill="#e4277f" fill-opacity="0.85" stroke="#e4277f" stroke-opacity="0.90" stroke-width="0.93">
<circle cx="1760.6" cy="1904.0" r="2.64"/>
<circle cx="1761.3" cy="1903.7" r="2.64"/>
<circle cx="1764.1" cy="1910.1" r="2.64"/>
<circle cx="1766.9" cy="1894.6" r="2.64"/>
<circle cx="1767.0" cy="1884.5" r="2.64"/>
<circle cx="1770.6" cy="1926.3" r="2.64"/>
<circle cx="1771.7" cy="1895.7" r="2.64"/>
<circle cx="1772.1" cy="1907.2" r="2.64"/>
<circle cx="1772.7" cy="1904.5" r="2.64"/>
<circle cx="1772.9" cy="1926.3" r="2.64"/>
<circle cx="1773.1" cy="1926.3" r="2.64"/>
<circle cx="1774.5" cy="1926.3" r="2.64"/>
<circle cx="1779.0" cy="1926.3" r="2.64"/>
<circle cx="1779.1" cy="1926.3" r="2.64"/>
<circle cx="1786.0" cy="1926.3" r="2.64"/>
<circle cx="1786.3" cy="1926.3" r="2.64"/>
<circle cx="1790.4" cy="1926.3" r="2.64"/>
<circle cx="1790.8" cy="1926.3" r="2.64"/>
<circle cx="1791.4" cy="1926.3" r="2.64"/>
<circle cx="1794.2" cy="1926.3" r="2.64"/>
<circle cx="1795.2" cy="1926.3" r="2.64"/>
<circle cx="1796.0" cy="1926.3" r="2.64"/>
<circle cx="1799.0" cy="1926.3" r="2.64"/>
<circle cx="1799.7" cy="1926.3" r="2.64"/>
<circle cx="1802.4" cy="1926.3" r="2.64"/>
<circle cx="1804.1" cy="1926.3" r="2.64"/>
<circle cx="1806.9" cy="1894.5" r="2.64"/>
<circle cx="1808.7" cy="1905.2" r="2.64"/>
<circle cx="1811.0" cy="1926.3" r="2.64"/>
<circle cx="1811.1" cy="1926.3" r="2.64"/>
<circle cx="1811.4" cy="1926.3" r="2.64"/>
<circle cx="1813.6" cy="1926.3" r="2.64"/>
<circle cx="1814.3" cy="1926.3" r="2.64"/>
<circle cx="1816.1" cy="1926.3" r="2.64"/>
<circle cx="1816.9" cy="1926.3" r="2.64"/>
<circle cx="1817.0" cy="1926.3" r="2.64"/>
<circle cx="1820.3" cy="1926.3" r="2.64"/>
<circle cx="1821.2" cy="1926.3" r="2.64"/>
<circle cx="1821.2" cy="1926.3" r="2.64"/>
<circle cx="1821.4" cy="1926.3" r="2.64"/>
<circle cx="1830.1" cy="1926.3" r="2.64"/>
<circle cx="1830.9" cy="1926.3" r="2.64"/>
<circle cx="1834.5" cy="1926.3" r="2.64"/>
<circle cx="1835.3" cy="1926.3" r="2.64"/>
<circle cx="1839.2" cy="1926.3" r="2.64"/>
<circle cx="1840.0" cy="1926.3" r="2.64"/>
<circle cx="1842.0" cy="1926.3" r="2.64"/>
<circle cx="1842.9" cy="1926.3" r="2.64"/>
<circle cx="1842.9" cy="1926.3" r="2.64"/>
<circle cx="1846.3" cy="1926.3" r="2.64"/>
<circle cx="1849.7" cy="1886.2" r="2.64"/>
<circle cx="1853.2" cy="1894.5" r="2.64"/>
<circle cx="1854.3" cy="1926.3" r="2.64"/>
<circle cx="1855.0" cy="1926.3" r="2.64"/>
<circle cx="1855.4" cy="1896.9" r="2.64"/>
<circle cx="1865.2" cy="1926.3" r="2.64"/>
<circle cx="1868.4" cy="1897.8" r="2.64"/>
<circle cx="1875.3" cy="1926.3" r="2.64"/>
<circle cx="1875.4" cy="1891.3" r="2.64"/>
<circle cx="1876.2" cy="1926.3" r="2.64"/>
<circle cx="1878.2" cy="1926.3" r="2.64"/>
<circle cx="1879.0" cy="1926.3" r="2.64"/>
<circle cx="1881.5" cy="1926.3" r="2.64"/>
<circle cx="1885.0" cy="1902.8" r="2.64"/>
<circle cx="1886.6" cy="1901.1" r="2.64"/>
<circle cx="1887.1" cy="1926.3" r="2.64"/>
<circle cx="1887.3" cy="1926.3" r="2.64"/>
<circle cx="1887.7" cy="1926.3" r="2.64"/>
<circle cx="1888.7" cy="1900.5" r="2.64"/>
<circle cx="1888.8" cy="1908.1" r="2.64"/>
<circle cx="1890.7" cy="1926.3" r="2.64"/>
<circle cx="1893.1" cy="1926.3" r="2.64"/>
<circle cx="1893.7" cy="1926.3" r="2.64"/>
<circle cx="1895.2" cy="1891.3" r="2.64"/>
<circle cx="1896.0" cy="1926.3" r="2.64"/>
<circle cx="1898.3" cy="1893.3" r="2.64"/>
<circle cx="1902.2" cy="1926.3" r="2.64"/>
<circle cx="1902.6" cy="1894.2" r="2.64"/>
<circle cx="1902.6" cy="1899.7" r="2.64"/>
<circle cx="1905.5" cy="1894.6" r="2.64"/>
<circle cx="1907.4" cy="1896.7" r="2.64"/>
<circle cx="1908.2" cy="1926.3" r="2.64"/>
<circle cx="1912.0" cy="1926.3" r="2.64"/>
<circle cx="1913.2" cy="1897.4" r="2.64"/>
<circle cx="1872.5" cy="1875.8" r="2.64"/>
</g>
<path d="M1458.5 1911.7C1476.7 1911.2 1539.9 1909.3 1567.9 1908.8C1595.8 1908.3 1606.7 1909.7 1626.2 1908.8C1645.6 1907.9 1665.7 1904.5 1684.5 1903.3C1703.3 1902.1 1720.3 1900.3 1739.2 1901.5C1758.0 1902.7 1778.4 1907.3 1797.5 1910.6C1816.6 1914.0 1834.7 1918.1 1854.0 1921.6C1873.3 1925.0 1903.5 1929.8 1913.4 1931.4" stroke="#8a9a9a" stroke-opacity="0.22" stroke-width="13.5" fill="none"/>
<path d="M1458.5 1902.9L1488.5 1905.6L1488.5 1916.2L1458.5 1920.5Z" fill="#6f7c7c" fill-opacity="0.38"/>
<path d="M1913.4 1922.6L1883.4 1921.1L1883.4 1931.7L1913.4 1940.2Z" fill="#6f7c7c" fill-opacity="0.38"/>
<path d="M1458.5 1911.7C1476.7 1911.2 1539.9 1909.3 1567.9 1908.8C1595.8 1908.3 1606.7 1909.7 1626.2 1908.8C1645.6 1907.9 1665.7 1904.5 1684.5 1903.3C1703.3 1902.1 1720.3 1900.3 1739.2 1901.5C1758.0 1902.7 1778.4 1907.3 1797.5 1910.6C1816.6 1914.0 1834.7 1918.1 1854.0 1921.6C1873.3 1925.0 1903.5 1929.8 1913.4 1931.4" stroke="#ff0000" stroke-width="10.2" fill="none"/>
<rect x="1433.4" y="1924.8" width="2.4" height="3.0" fill="#111" />
<text x="1432.0" y="1929.7" font-size="9.6" text-anchor="end" fill="#222" >0</text>
<rect x="1433.4" y="1897.5" width="2.4" height="3.0" fill="#111" />
<text x="1432.0" y="1902.4" font-size="9.6" text-anchor="end" fill="#222" >1</text>
<rect x="1433.4" y="1870.2" width="2.4" height="3.0" fill="#111" />
<text x="1432.0" y="1875.1" font-size="9.6" text-anchor="end" fill="#222" >2</text>
<text x="1418.5" y="1889.8" font-size="23.7" text-anchor="end" font-style="italic" fill="#000" >Pdgfra</text>
<rect x="1436.0" y="1954.4" width="500.0" height="98.4" fill="#ebebeb" />
<path d="M1436.0 2051.0H1936.0M1436.0 2029.9H1936.0M1436.0 2008.8H1936.0M1436.0 1987.7H1936.0M1436.0 1966.6H1936.0M1513.5 1954.4V2052.8M1628.5 1954.4V2052.8M1743.5 1954.4V2052.8M1858.5 1954.4V2052.8" stroke="#fff" stroke-width="2.3" fill="none"/>
<path d="M1436.0 2040.4H1936.0M1436.0 2019.3H1936.0M1436.0 1998.2H1936.0M1436.0 1977.1H1936.0M1436.0 1956.0H1936.0M1456.0 1954.4V2052.8M1571.0 1954.4V2052.8M1686.0 1954.4V2052.8M1801.0 1954.4V2052.8M1916.0 1954.4V2052.8" stroke="#fff" stroke-width="3.4" fill="none"/>
<g fill="#d5b5da" fill-opacity="0.85" stroke="#d5b5da" stroke-opacity="0.90" stroke-width="0.93">
<circle cx="1459.3" cy="2040.4" r="2.64"/>
<circle cx="1460.0" cy="2040.4" r="2.64"/>
<circle cx="1462.6" cy="2040.4" r="2.64"/>
<circle cx="1463.8" cy="2040.4" r="2.64"/>
<circle cx="1464.5" cy="2040.4" r="2.64"/>
<circle cx="1466.7" cy="2040.4" r="2.64"/>
<circle cx="1468.9" cy="2040.4" r="2.64"/>
<circle cx="1471.1" cy="2040.4" r="2.64"/>
<circle cx="1471.7" cy="2040.4" r="2.64"/>
<circle cx="1473.4" cy="2040.4" r="2.64"/>
<circle cx="1475.2" cy="2040.4" r="2.64"/>
<circle cx="1477.5" cy="2040.4" r="2.64"/>
<circle cx="1479.8" cy="2040.4" r="2.64"/>
<circle cx="1480.6" cy="2040.4" r="2.64"/>
<circle cx="1483.8" cy="2040.4" r="2.64"/>
<circle cx="1484.4" cy="2040.4" r="2.64"/>
<circle cx="1488.1" cy="2040.4" r="2.64"/>
<circle cx="1494.1" cy="2040.4" r="2.64"/>
<circle cx="1499.1" cy="2040.4" r="2.64"/>
<circle cx="1500.0" cy="2040.4" r="2.64"/>
<circle cx="1507.0" cy="2040.4" r="2.64"/>
<circle cx="1507.7" cy="2040.4" r="2.64"/>
<circle cx="1510.0" cy="2040.4" r="2.64"/>
<circle cx="1516.1" cy="2040.4" r="2.64"/>
<circle cx="1517.9" cy="2040.4" r="2.64"/>
<circle cx="1521.6" cy="2040.4" r="2.64"/>
<circle cx="1524.8" cy="2040.4" r="2.64"/>
<circle cx="1525.2" cy="2040.4" r="2.64"/>
<circle cx="1526.2" cy="2040.4" r="2.64"/>
<circle cx="1526.4" cy="2040.4" r="2.64"/>
<circle cx="1531.1" cy="2040.4" r="2.64"/>
<circle cx="1531.3" cy="2040.4" r="2.64"/>
<circle cx="1532.0" cy="2040.4" r="2.64"/>
<circle cx="1534.0" cy="2040.4" r="2.64"/>
<circle cx="1534.1" cy="2040.4" r="2.64"/>
<circle cx="1536.7" cy="2040.4" r="2.64"/>
<circle cx="1539.3" cy="2040.4" r="2.64"/>
<circle cx="1540.8" cy="2040.4" r="2.64"/>
<circle cx="1547.9" cy="2040.4" r="2.64"/>
<circle cx="1551.7" cy="2040.4" r="2.64"/>
<circle cx="1553.8" cy="2040.4" r="2.64"/>
<circle cx="1556.5" cy="2040.4" r="2.64"/>
<circle cx="1557.1" cy="2040.4" r="2.64"/>
<circle cx="1558.2" cy="2040.4" r="2.64"/>
<circle cx="1566.5" cy="2040.4" r="2.64"/>
<circle cx="1570.7" cy="2040.4" r="2.64"/>
<circle cx="1572.6" cy="2040.4" r="2.64"/>
</g>
<g fill="#e36fba" fill-opacity="0.85" stroke="#e36fba" stroke-opacity="0.90" stroke-width="0.93">
<circle cx="1582.4" cy="2040.4" r="2.64"/>
<circle cx="1585.7" cy="2040.4" r="2.64"/>
<circle cx="1586.3" cy="2040.4" r="2.64"/>
<circle cx="1590.1" cy="2040.4" r="2.64"/>
<circle cx="1590.9" cy="2040.4" r="2.64"/>
<circle cx="1592.2" cy="2040.4" r="2.64"/>
<circle cx="1592.6" cy="2040.4" r="2.64"/>
<circle cx="1594.4" cy="2040.4" r="2.64"/>
<circle cx="1595.6" cy="2040.4" r="2.64"/>
<circle cx="1599.5" cy="2040.4" r="2.64"/>
<circle cx="1600.7" cy="2040.4" r="2.64"/>
<circle cx="1602.2" cy="2040.4" r="2.64"/>
<circle cx="1602.6" cy="2040.4" r="2.64"/>
<circle cx="1612.2" cy="2040.4" r="2.64"/>
<circle cx="1612.5" cy="2040.4" r="2.64"/>
<circle cx="1613.2" cy="2040.4" r="2.64"/>
<circle cx="1613.5" cy="2040.4" r="2.64"/>
<circle cx="1615.2" cy="2040.4" r="2.64"/>
<circle cx="1616.8" cy="2040.4" r="2.64"/>
<circle cx="1617.8" cy="2040.4" r="2.64"/>
<circle cx="1619.9" cy="2040.4" r="2.64"/>
<circle cx="1622.8" cy="2040.4" r="2.64"/>
<circle cx="1622.9" cy="2040.4" r="2.64"/>
<circle cx="1623.9" cy="2040.4" r="2.64"/>
<circle cx="1625.1" cy="2040.4" r="2.64"/>
<circle cx="1630.0" cy="2040.4" r="2.64"/>
<circle cx="1642.2" cy="2040.4" r="2.64"/>
<circle cx="1643.2" cy="2040.4" r="2.64"/>
<circle cx="1650.0" cy="2040.4" r="2.64"/>
<circle cx="1650.4" cy="2040.4" r="2.64"/>
<circle cx="1656.2" cy="2040.4" r="2.64"/>
<circle cx="1659.2" cy="2040.4" r="2.64"/>
<circle cx="1664.7" cy="2040.4" r="2.64"/>
<circle cx="1664.9" cy="2040.4" r="2.64"/>
<circle cx="1665.8" cy="2040.4" r="2.64"/>
<circle cx="1669.1" cy="2040.4" r="2.64"/>
<circle cx="1670.4" cy="2040.4" r="2.64"/>
<circle cx="1671.9" cy="2040.4" r="2.64"/>
<circle cx="1675.6" cy="2040.4" r="2.64"/>
<circle cx="1676.5" cy="2040.4" r="2.64"/>
<circle cx="1677.2" cy="2040.4" r="2.64"/>
<circle cx="1677.5" cy="2040.4" r="2.64"/>
<circle cx="1679.5" cy="2040.4" r="2.64"/>
<circle cx="1680.6" cy="2040.4" r="2.64"/>
<circle cx="1683.1" cy="2040.4" r="2.64"/>
<circle cx="1685.7" cy="2040.4" r="2.64"/>
<circle cx="1694.3" cy="2017.0" r="2.64"/>
<circle cx="1697.2" cy="2040.4" r="2.64"/>
<circle cx="1699.3" cy="2040.4" r="2.64"/>
<circle cx="1701.3" cy="2040.4" r="2.64"/>
<circle cx="1703.8" cy="2023.2" r="2.64"/>
<circle cx="1705.9" cy="2040.4" r="2.64"/>
<circle cx="1706.5" cy="2040.4" r="2.64"/>
<circle cx="1707.4" cy="2040.4" r="2.64"/>
<circle cx="1719.6" cy="2040.4" r="2.64"/>
<circle cx="1721.7" cy="2040.4" r="2.64"/>
<circle cx="1722.7" cy="2040.4" r="2.64"/>
<circle cx="1722.8" cy="2040.4" r="2.64"/>
<circle cx="1728.8" cy="2040.4" r="2.64"/>
<circle cx="1732.9" cy="2040.4" r="2.64"/>
<circle cx="1736.4" cy="2019.3" r="2.64"/>
<circle cx="1739.4" cy="2040.4" r="2.64"/>
<circle cx="1741.9" cy="2040.4" r="2.64"/>
<circle cx="1742.3" cy="2040.4" r="2.64"/>
<circle cx="1743.8" cy="2014.3" r="2.64"/>
<circle cx="1745.3" cy="2040.4" r="2.64"/>
<circle cx="1745.5" cy="2040.4" r="2.64"/>
<circle cx="1748.3" cy="2024.7" r="2.64"/>
<circle cx="1751.5" cy="2040.4" r="2.64"/>
<circle cx="1753.1" cy="2040.4" r="2.64"/>
<circle cx="1753.8" cy="2020.9" r="2.64"/>
<circle cx="1754.1" cy="2019.8" r="2.64"/>
<circle cx="1754.3" cy="2040.4" r="2.64"/>
</g>
<g fill="#e4277f" fill-opacity="0.85" stroke="#e4277f" stroke-opacity="0.90" stroke-width="0.93">
<circle cx="1760.6" cy="2016.8" r="2.64"/>
<circle cx="1761.3" cy="2023.8" r="2.64"/>
<circle cx="1764.1" cy="2040.4" r="2.64"/>
<circle cx="1766.9" cy="2040.4" r="2.64"/>
<circle cx="1767.0" cy="2040.4" r="2.64"/>
<circle cx="1770.6" cy="2040.4" r="2.64"/>
<circle cx="1771.7" cy="2040.4" r="2.64"/>
<circle cx="1772.1" cy="2040.4" r="2.64"/>
<circle cx="1772.7" cy="2040.4" r="2.64"/>
<circle cx="1772.9" cy="2040.4" r="2.64"/>
<circle cx="1773.1" cy="2040.4" r="2.64"/>
<circle cx="1774.5" cy="2040.4" r="2.64"/>
<circle cx="1779.0" cy="2040.4" r="2.64"/>
<circle cx="1779.1" cy="2040.4" r="2.64"/>
<circle cx="1786.0" cy="1973.2" r="2.64"/>
<circle cx="1786.3" cy="2040.4" r="2.64"/>
<circle cx="1790.4" cy="1985.6" r="2.64"/>
<circle cx="1790.8" cy="2012.4" r="2.64"/>
<circle cx="1791.4" cy="2016.9" r="2.64"/>
<circle cx="1794.2" cy="1983.4" r="2.64"/>
<circle cx="1795.2" cy="1964.1" r="2.64"/>
<circle cx="1796.0" cy="1996.5" r="2.64"/>
<circle cx="1799.0" cy="1988.9" r="2.64"/>
<circle cx="1799.7" cy="1995.0" r="2.64"/>
<circle cx="1802.4" cy="2040.4" r="2.64"/>
<circle cx="1804.1" cy="1996.3" r="2.64"/>
<circle cx="1806.9" cy="2003.9" r="2.64"/>
<circle cx="1808.7" cy="1972.3" r="2.64"/>
<circle cx="1811.0" cy="1997.4" r="2.64"/>
<circle cx="1811.1" cy="1979.9" r="2.64"/>
<circle cx="1811.4" cy="1977.4" r="2.64"/>
<circle cx="1813.6" cy="1969.9" r="2.64"/>
<circle cx="1814.3" cy="2019.7" r="2.64"/>
<circle cx="1816.1" cy="1995.5" r="2.64"/>
<circle cx="1816.9" cy="1993.0" r="2.64"/>
<circle cx="1817.0" cy="2009.8" r="2.64"/>
<circle cx="1820.3" cy="1986.5" r="2.64"/>
<circle cx="1821.2" cy="1987.7" r="2.64"/>
<circle cx="1821.2" cy="1983.7" r="2.64"/>
<circle cx="1821.4" cy="2040.4" r="2.64"/>
<circle cx="1830.1" cy="1991.7" r="2.64"/>
<circle cx="1830.9" cy="2040.4" r="2.64"/>
<circle cx="1834.5" cy="2040.4" r="2.64"/>
<circle cx="1835.3" cy="2040.4" r="2.64"/>
<circle cx="1839.2" cy="2040.4" r="2.64"/>
<circle cx="1840.0" cy="2040.4" r="2.64"/>
<circle cx="1842.0" cy="1988.0" r="2.64"/>
<circle cx="1842.9" cy="1977.7" r="2.64"/>
<circle cx="1842.9" cy="2040.4" r="2.64"/>
<circle cx="1846.3" cy="2040.4" r="2.64"/>
<circle cx="1849.7" cy="2040.4" r="2.64"/>
<circle cx="1853.2" cy="1974.6" r="2.64"/>
<circle cx="1854.3" cy="1996.5" r="2.64"/>
<circle cx="1855.0" cy="2020.4" r="2.64"/>
<circle cx="1855.4" cy="1992.9" r="2.64"/>
<circle cx="1865.2" cy="2012.5" r="2.64"/>
<circle cx="1868.4" cy="1975.7" r="2.64"/>
<circle cx="1875.3" cy="1987.9" r="2.64"/>
<circle cx="1875.4" cy="2040.4" r="2.64"/>
<circle cx="1876.2" cy="1996.4" r="2.64"/>
<circle cx="1878.2" cy="2040.4" r="2.64"/>
<circle cx="1879.0" cy="2040.4" r="2.64"/>
<circle cx="1881.5" cy="2003.4" r="2.64"/>
<circle cx="1885.0" cy="2040.4" r="2.64"/>
<circle cx="1886.6" cy="2009.0" r="2.64"/>
<circle cx="1887.1" cy="1986.0" r="2.64"/>
<circle cx="1887.3" cy="1997.7" r="2.64"/>
<circle cx="1887.7" cy="2016.7" r="2.64"/>
<circle cx="1888.7" cy="1993.1" r="2.64"/>
<circle cx="1888.8" cy="2014.2" r="2.64"/>
<circle cx="1890.7" cy="1976.5" r="2.64"/>
<circle cx="1893.1" cy="1966.1" r="2.64"/>
<circle cx="1893.7" cy="1979.9" r="2.64"/>
<circle cx="1895.2" cy="2040.4" r="2.64"/>
<circle cx="1896.0" cy="1965.3" r="2.64"/>
<circle cx="1898.3" cy="1981.0" r="2.64"/>
<circle cx="1902.2" cy="2040.4" r="2.64"/>
<circle cx="1902.6" cy="1994.4" r="2.64"/>
<circle cx="1902.6" cy="1971.9" r="2.64"/>
<circle cx="1905.5" cy="2040.4" r="2.64"/>
<circle cx="1907.4" cy="1980.9" r="2.64"/>
<circle cx="1908.2" cy="1989.4" r="2.64"/>
<circle cx="1912.0" cy="1993.8" r="2.64"/>
<circle cx="1913.2" cy="2005.6" r="2.64"/>
</g>
<path d="M1458.5 2040.0C1486.5 2040.0 1588.5 2039.9 1626.2 2040.0C1663.8 2040.1 1665.7 2042.0 1684.5 2040.7C1703.3 2039.5 1720.3 2037.1 1739.2 2032.7C1758.0 2028.4 1778.4 2018.8 1797.5 2014.5C1816.6 2010.2 1834.7 2008.2 1854.0 2007.2C1873.3 2006.2 1903.5 2008.1 1913.4 2008.3" stroke="#8a9a9a" stroke-opacity="0.22" stroke-width="13.5" fill="none"/>
<path d="M1458.5 2031.2L1488.5 2034.7L1488.5 2045.3L1458.5 2048.8Z" fill="#6f7c7c" fill-opacity="0.38"/>
<path d="M1913.4 1999.5L1883.4 2002.5L1883.4 2013.1L1913.4 2017.1Z" fill="#6f7c7c" fill-opacity="0.38"/>
<path d="M1458.5 2040.0C1486.5 2040.0 1588.5 2039.9 1626.2 2040.0C1663.8 2040.1 1665.7 2042.0 1684.5 2040.7C1703.3 2039.5 1720.3 2037.1 1739.2 2032.7C1758.0 2028.4 1778.4 2018.8 1797.5 2014.5C1816.6 2010.2 1834.7 2008.2 1854.0 2007.2C1873.3 2006.2 1903.5 2008.1 1913.4 2008.3" stroke="#ff0000" stroke-width="10.2" fill="none"/>
<rect x="1433.4" y="2038.9" width="2.4" height="3.0" fill="#111" />
<text x="1432.0" y="2043.8" font-size="9.6" text-anchor="end" fill="#222" >0</text>
<rect x="1433.4" y="2017.8" width="2.4" height="3.0" fill="#111" />
<text x="1432.0" y="2022.7" font-size="9.6" text-anchor="end" fill="#222" >1</text>
<rect x="1433.4" y="1996.7" width="2.4" height="3.0" fill="#111" />
<text x="1432.0" y="2001.6" font-size="9.6" text-anchor="end" fill="#222" >2</text>
<rect x="1433.4" y="1975.6" width="2.4" height="3.0" fill="#111" />
<text x="1432.0" y="1980.5" font-size="9.6" text-anchor="end" fill="#222" >3</text>
<rect x="1433.4" y="1954.5" width="2.4" height="3.0" fill="#111" />
<text x="1432.0" y="1959.4" font-size="9.6" text-anchor="end" fill="#222" >4</text>
<text x="1418.5" y="2004.3" font-size="23.7" text-anchor="end" font-style="italic" fill="#000" >Cnn1</text>
<rect x="1436.0" y="2055.3" width="500.0" height="97.0" fill="#ebebeb" />
<path d="M1436.0 2127.3H1936.0M1436.0 2100.1H1936.0M1436.0 2072.8H1936.0M1513.5 2055.3V2152.3M1628.5 2055.3V2152.3M1743.5 2055.3V2152.3M1858.5 2055.3V2152.3" stroke="#fff" stroke-width="2.3" fill="none"/>
<path d="M1436.0 2141.0H1936.0M1436.0 2113.7H1936.0M1436.0 2086.4H1936.0M1436.0 2059.1H1936.0M1456.0 2055.3V2152.3M1571.0 2055.3V2152.3M1686.0 2055.3V2152.3M1801.0 2055.3V2152.3M1916.0 2055.3V2152.3" stroke="#fff" stroke-width="3.4" fill="none"/>
<g fill="#d5b5da" fill-opacity="0.85" stroke="#d5b5da" stroke-opacity="0.90" stroke-width="0.93">
<circle cx="1459.3" cy="2141.0" r="2.64"/>
<circle cx="1460.0" cy="2141.0" r="2.64"/>
<circle cx="1462.6" cy="2141.0" r="2.64"/>
<circle cx="1463.8" cy="2141.0" r="2.64"/>
<circle cx="1464.5" cy="2141.0" r="2.64"/>
<circle cx="1466.7" cy="2141.0" r="2.64"/>
<circle cx="1468.9" cy="2141.0" r="2.64"/>
<circle cx="1471.1" cy="2141.0" r="2.64"/>
<circle cx="1471.7" cy="2141.0" r="2.64"/>
<circle cx="1473.4" cy="2141.0" r="2.64"/>
<circle cx="1475.2" cy="2141.0" r="2.64"/>
<circle cx="1477.5" cy="2141.0" r="2.64"/>
<circle cx="1479.8" cy="2141.0" r="2.64"/>
<circle cx="1480.6" cy="2141.0" r="2.64"/>
<circle cx="1483.8" cy="2141.0" r="2.64"/>
<circle cx="1484.4" cy="2141.0" r="2.64"/>
<circle cx="1488.1" cy="2141.0" r="2.64"/>
<circle cx="1494.1" cy="2141.0" r="2.64"/>
<circle cx="1499.1" cy="2141.0" r="2.64"/>
<circle cx="1500.0" cy="2141.0" r="2.64"/>
<circle cx="1507.0" cy="2141.0" r="2.64"/>
<circle cx="1507.7" cy="2141.0" r="2.64"/>
<circle cx="1510.0" cy="2141.0" r="2.64"/>
<circle cx="1516.1" cy="2141.0" r="2.64"/>
<circle cx="1517.9" cy="2141.0" r="2.64"/>
<circle cx="1521.6" cy="2141.0" r="2.64"/>
<circle cx="1524.8" cy="2141.0" r="2.64"/>
<circle cx="1525.2" cy="2141.0" r="2.64"/>
<circle cx="1526.2" cy="2141.0" r="2.64"/>
<circle cx="1526.4" cy="2141.0" r="2.64"/>
<circle cx="1531.1" cy="2141.0" r="2.64"/>
<circle cx="1531.3" cy="2141.0" r="2.64"/>
<circle cx="1532.0" cy="2141.0" r="2.64"/>
<circle cx="1534.0" cy="2141.0" r="2.64"/>
<circle cx="1534.1" cy="2141.0" r="2.64"/>
<circle cx="1536.7" cy="2141.0" r="2.64"/>
<circle cx="1539.3" cy="2141.0" r="2.64"/>
<circle cx="1540.8" cy="2141.0" r="2.64"/>
<circle cx="1547.9" cy="2141.0" r="2.64"/>
<circle cx="1551.7" cy="2141.0" r="2.64"/>
<circle cx="1553.8" cy="2141.0" r="2.64"/>
<circle cx="1556.5" cy="2141.0" r="2.64"/>
<circle cx="1557.1" cy="2141.0" r="2.64"/>
<circle cx="1558.2" cy="2141.0" r="2.64"/>
<circle cx="1566.5" cy="2141.0" r="2.64"/>
<circle cx="1570.7" cy="2141.0" r="2.64"/>
<circle cx="1572.6" cy="2141.0" r="2.64"/>
</g>
<g fill="#e36fba" fill-opacity="0.85" stroke="#e36fba" stroke-opacity="0.90" stroke-width="0.93">
<circle cx="1582.4" cy="2141.0" r="2.64"/>
<circle cx="1585.7" cy="2141.0" r="2.64"/>
<circle cx="1586.3" cy="2141.0" r="2.64"/>
<circle cx="1590.1" cy="2141.0" r="2.64"/>
<circle cx="1590.9" cy="2141.0" r="2.64"/>
<circle cx="1592.2" cy="2141.0" r="2.64"/>
<circle cx="1592.6" cy="2141.0" r="2.64"/>
<circle cx="1594.4" cy="2141.0" r="2.64"/>
<circle cx="1595.6" cy="2141.0" r="2.64"/>
<circle cx="1599.5" cy="2141.0" r="2.64"/>
<circle cx="1600.7" cy="2141.0" r="2.64"/>
<circle cx="1602.2" cy="2141.0" r="2.64"/>
<circle cx="1602.6" cy="2141.0" r="2.64"/>
<circle cx="1612.2" cy="2141.0" r="2.64"/>
<circle cx="1612.5" cy="2141.0" r="2.64"/>
<circle cx="1613.2" cy="2141.0" r="2.64"/>
<circle cx="1613.5" cy="2141.0" r="2.64"/>
<circle cx="1615.2" cy="2141.0" r="2.64"/>
<circle cx="1616.8" cy="2141.0" r="2.64"/>
<circle cx="1617.8" cy="2141.0" r="2.64"/>
<circle cx="1619.9" cy="2141.0" r="2.64"/>
<circle cx="1622.8" cy="2141.0" r="2.64"/>
<circle cx="1622.9" cy="2141.0" r="2.64"/>
<circle cx="1623.9" cy="2141.0" r="2.64"/>
<circle cx="1625.1" cy="2141.0" r="2.64"/>
<circle cx="1630.0" cy="2141.0" r="2.64"/>
<circle cx="1642.2" cy="2141.0" r="2.64"/>
<circle cx="1643.2" cy="2141.0" r="2.64"/>
<circle cx="1650.0" cy="2141.0" r="2.64"/>
<circle cx="1650.4" cy="2141.0" r="2.64"/>
<circle cx="1656.2" cy="2141.0" r="2.64"/>
<circle cx="1659.2" cy="2141.0" r="2.64"/>
<circle cx="1664.7" cy="2141.0" r="2.64"/>
<circle cx="1664.9" cy="2141.0" r="2.64"/>
<circle cx="1665.8" cy="2141.0" r="2.64"/>
<circle cx="1669.1" cy="2141.0" r="2.64"/>
<circle cx="1670.4" cy="2141.0" r="2.64"/>
<circle cx="1671.9" cy="2141.0" r="2.64"/>
<circle cx="1675.6" cy="2141.0" r="2.64"/>
<circle cx="1676.5" cy="2141.0" r="2.64"/>
<circle cx="1677.2" cy="2141.0" r="2.64"/>
<circle cx="1677.5" cy="2141.0" r="2.64"/>
<circle cx="1679.5" cy="2107.7" r="2.64"/>
<circle cx="1680.6" cy="2141.0" r="2.64"/>
<circle cx="1683.1" cy="2141.0" r="2.64"/>
<circle cx="1685.7" cy="2141.0" r="2.64"/>
<circle cx="1694.3" cy="2141.0" r="2.64"/>
<circle cx="1697.2" cy="2141.0" r="2.64"/>
<circle cx="1699.3" cy="2141.0" r="2.64"/>
<circle cx="1701.3" cy="2113.6" r="2.64"/>
<circle cx="1703.8" cy="2141.0" r="2.64"/>
<circle cx="1705.9" cy="2141.0" r="2.64"/>
<circle cx="1706.5" cy="2141.0" r="2.64"/>
<circle cx="1707.4" cy="2141.0" r="2.64"/>
<circle cx="1719.6" cy="2141.0" r="2.64"/>
<circle cx="1721.7" cy="2141.0" r="2.64"/>
<circle cx="1722.7" cy="2124.5" r="2.64"/>
<circle cx="1722.8" cy="2141.0" r="2.64"/>
<circle cx="1728.8" cy="2141.0" r="2.64"/>
<circle cx="1732.9" cy="2123.2" r="2.64"/>
<circle cx="1736.4" cy="2119.9" r="2.64"/>
<circle cx="1739.4" cy="2141.0" r="2.64"/>
<circle cx="1741.9" cy="2141.0" r="2.64"/>
<circle cx="1742.3" cy="2141.0" r="2.64"/>
<circle cx="1743.8" cy="2141.0" r="2.64"/>
<circle cx="1745.3" cy="2116.6" r="2.64"/>
<circle cx="1745.5" cy="2141.0" r="2.64"/>
<circle cx="1748.3" cy="2141.0" r="2.64"/>
<circle cx="1751.5" cy="2121.2" r="2.64"/>
<circle cx="1753.1" cy="2121.4" r="2.64"/>
<circle cx="1753.8" cy="2141.0" r="2.64"/>
<circle cx="1754.1" cy="2141.0" r="2.64"/>
<circle cx="1754.3" cy="2141.0" r="2.64"/>
</g>
<g fill="#e4277f" fill-opacity="0.85" stroke="#e4277f" stroke-opacity="0.90" stroke-width="0.93">
<circle cx="1760.6" cy="2141.0" r="2.64"/>
<circle cx="1761.3" cy="2141.0" r="2.64"/>
<circle cx="1764.1" cy="2141.0" r="2.64"/>
<circle cx="1766.9" cy="2141.0" r="2.64"/>
<circle cx="1767.0" cy="2141.0" r="2.64"/>
<circle cx="1770.6" cy="2118.3" r="2.64"/>
<circle cx="1771.7" cy="2117.6" r="2.64"/>
<circle cx="1772.1" cy="2141.0" r="2.64"/>
<circle cx="1772.7" cy="2112.9" r="2.64"/>
<circle cx="1772.9" cy="2141.0" r="2.64"/>
<circle cx="1773.1" cy="2120.4" r="2.64"/>
<circle cx="1774.5" cy="2130.3" r="2.64"/>
<circle cx="1779.0" cy="2122.8" r="2.64"/>
<circle cx="1779.1" cy="2141.0" r="2.64"/>
<circle cx="1786.0" cy="2109.5" r="2.64"/>
<circle cx="1786.3" cy="2141.0" r="2.64"/>
<circle cx="1790.4" cy="2103.4" r="2.64"/>
<circle cx="1790.8" cy="2141.0" r="2.64"/>
<circle cx="1791.4" cy="2111.6" r="2.64"/>
<circle cx="1794.2" cy="2141.0" r="2.64"/>
<circle cx="1795.2" cy="2141.0" r="2.64"/>
<circle cx="1796.0" cy="2087.5" r="2.64"/>
<circle cx="1799.0" cy="2071.8" r="2.64"/>
<circle cx="1799.7" cy="2090.4" r="2.64"/>
<circle cx="1802.4" cy="2106.4" r="2.64"/>
<circle cx="1804.1" cy="2097.9" r="2.64"/>
<circle cx="1806.9" cy="2100.0" r="2.64"/>
<circle cx="1808.7" cy="2141.0" r="2.64"/>
<circle cx="1811.0" cy="2096.3" r="2.64"/>
<circle cx="1811.1" cy="2093.6" r="2.64"/>
<circle cx="1811.4" cy="2141.0" r="2.64"/>
<circle cx="1813.6" cy="2141.0" r="2.64"/>
<circle cx="1814.3" cy="2141.0" r="2.64"/>
<circle cx="1816.1" cy="2141.0" r="2.64"/>
<circle cx="1816.9" cy="2077.6" r="2.64"/>
<circle cx="1817.0" cy="2110.5" r="2.64"/>
<circle cx="1820.3" cy="2120.7" r="2.64"/>
<circle cx="1821.2" cy="2079.5" r="2.64"/>
<circle cx="1821.2" cy="2141.0" r="2.64"/>
<circle cx="1821.4" cy="2082.5" r="2.64"/>
<circle cx="1830.1" cy="2141.0" r="2.64"/>
<circle cx="1830.9" cy="2141.0" r="2.64"/>
<circle cx="1834.5" cy="2113.7" r="2.64"/>
<circle cx="1835.3" cy="2141.0" r="2.64"/>
<circle cx="1839.2" cy="2141.0" r="2.64"/>
<circle cx="1840.0" cy="2101.6" r="2.64"/>
<circle cx="1842.0" cy="2141.0" r="2.64"/>
<circle cx="1842.9" cy="2102.8" r="2.64"/>
<circle cx="1842.9" cy="2141.0" r="2.64"/>
<circle cx="1846.3" cy="2108.1" r="2.64"/>
<circle cx="1849.7" cy="2141.0" r="2.64"/>
<circle cx="1853.2" cy="2118.0" r="2.64"/>
<circle cx="1854.3" cy="2127.5" r="2.64"/>
<circle cx="1855.0" cy="2141.0" r="2.64"/>
<circle cx="1855.4" cy="2141.0" r="2.64"/>
<circle cx="1865.2" cy="2087.8" r="2.64"/>
<circle cx="1868.4" cy="2071.1" r="2.64"/>
<circle cx="1875.3" cy="2141.0" r="2.64"/>
<circle cx="1875.4" cy="2076.3" r="2.64"/>
<circle cx="1876.2" cy="2141.0" r="2.64"/>
<circle cx="1878.2" cy="2085.3" r="2.64"/>
<circle cx="1879.0" cy="2141.0" r="2.64"/>
<circle cx="1881.5" cy="2141.0" r="2.64"/>
<circle cx="1885.0" cy="2141.0" r="2.64"/>
<circle cx="1886.6" cy="2107.2" r="2.64"/>
<circle cx="1887.1" cy="2112.1" r="2.64"/>
<circle cx="1887.3" cy="2114.4" r="2.64"/>
<circle cx="1887.7" cy="2141.0" r="2.64"/>
<circle cx="1888.7" cy="2119.1" r="2.64"/>
<circle cx="1888.8" cy="2141.0" r="2.64"/>
<circle cx="1890.7" cy="2093.9" r="2.64"/>
<circle cx="1893.1" cy="2141.0" r="2.64"/>
<circle cx="1893.7" cy="2141.0" r="2.64"/>
<circle cx="1895.2" cy="2108.4" r="2.64"/>
<circle cx="1896.0" cy="2096.1" r="2.64"/>
<circle cx="1898.3" cy="2110.2" r="2.64"/>
<circle cx="1902.2" cy="2082.8" r="2.64"/>
<circle cx="1902.6" cy="2097.2" r="2.64"/>
<circle cx="1902.6" cy="2104.1" r="2.64"/>
<circle cx="1905.5" cy="2141.0" r="2.64"/>
<circle cx="1907.4" cy="2141.0" r="2.64"/>
<circle cx="1908.2" cy="2094.5" r="2.64"/>
<circle cx="1912.0" cy="2094.0" r="2.64"/>
<circle cx="1913.2" cy="2100.7" r="2.64"/>
<circle cx="1913.5" cy="2057.7" r="2.64"/>
<circle cx="1804.3" cy="2068.7" r="2.64"/>
</g>
<path d="M1458.5 2140.3C1496.2 2140.3 1637.7 2140.7 1684.5 2140.3C1731.3 2139.8 1720.3 2140.4 1739.2 2137.7C1758.0 2135.0 1778.4 2128.0 1797.5 2123.8C1816.6 2119.7 1834.7 2116.7 1854.0 2112.9C1873.3 2109.1 1903.5 2103.2 1913.4 2101.3" stroke="#8a9a9a" stroke-opacity="0.22" stroke-width="13.5" fill="none"/>
<path d="M1458.5 2131.5L1488.5 2135.0L1488.5 2145.6L1458.5 2149.1Z" fill="#6f7c7c" fill-opacity="0.38"/>
<path d="M1913.4 2092.5L1883.4 2101.8L1883.4 2112.4L1913.4 2110.1Z" fill="#6f7c7c" fill-opacity="0.38"/>
<path d="M1458.5 2140.3C1496.2 2140.3 1637.7 2140.7 1684.5 2140.3C1731.3 2139.8 1720.3 2140.4 1739.2 2137.7C1758.0 2135.0 1778.4 2128.0 1797.5 2123.8C1816.6 2119.7 1834.7 2116.7 1854.0 2112.9C1873.3 2109.1 1903.5 2103.2 1913.4 2101.3" stroke="#ff0000" stroke-width="10.2" fill="none"/>
<rect x="1433.4" y="2139.5" width="2.4" height="3.0" fill="#111" />
<text x="1432.0" y="2144.4" font-size="9.6" text-anchor="end" fill="#222" >0</text>
<rect x="1433.4" y="2112.2" width="2.4" height="3.0" fill="#111" />
<text x="1432.0" y="2117.1" font-size="9.6" text-anchor="end" fill="#222" >1</text>
<rect x="1433.4" y="2084.9" width="2.4" height="3.0" fill="#111" />
<text x="1432.0" y="2089.8" font-size="9.6" text-anchor="end" fill="#222" >2</text>
<rect x="1433.4" y="2057.6" width="2.4" height="3.0" fill="#111" />
<text x="1432.0" y="2062.5" font-size="9.6" text-anchor="end" fill="#222" >3</text>
<text x="1418.5" y="2104.5" font-size="23.7" text-anchor="end" font-style="italic" fill="#000" >Mcam</text>
<rect x="1436.0" y="2154.0" width="500.0" height="97.4" fill="#ebebeb" />
<path d="M1436.0 2224.2H1936.0M1436.0 2196.0H1936.0M1436.0 2167.8H1936.0M1513.5 2154.0V2251.4M1628.5 2154.0V2251.4M1743.5 2154.0V2251.4M1858.5 2154.0V2251.4" stroke="#fff" stroke-width="2.3" fill="none"/>
<path d="M1436.0 2238.3H1936.0M1436.0 2210.1H1936.0M1436.0 2181.9H1936.0M1436.0 2153.7H1936.0M1456.0 2154.0V2251.4M1571.0 2154.0V2251.4M1686.0 2154.0V2251.4M1801.0 2154.0V2251.4M1916.0 2154.0V2251.4" stroke="#fff" stroke-width="3.4" fill="none"/>
<g fill="#d5b5da" fill-opacity="0.85" stroke="#d5b5da" stroke-opacity="0.90" stroke-width="0.93">
<circle cx="1459.3" cy="2238.3" r="2.64"/>
<circle cx="1460.0" cy="2238.3" r="2.64"/>
<circle cx="1462.6" cy="2238.3" r="2.64"/>
<circle cx="1463.8" cy="2204.2" r="2.64"/>
<circle cx="1464.5" cy="2238.3" r="2.64"/>
<circle cx="1466.7" cy="2238.3" r="2.64"/>
<circle cx="1468.9" cy="2238.3" r="2.64"/>
<circle cx="1471.1" cy="2238.3" r="2.64"/>
<circle cx="1471.7" cy="2238.3" r="2.64"/>
<circle cx="1473.4" cy="2238.3" r="2.64"/>
<circle cx="1475.2" cy="2238.3" r="2.64"/>
<circle cx="1477.5" cy="2238.3" r="2.64"/>
<circle cx="1479.8" cy="2238.3" r="2.64"/>
<circle cx="1480.6" cy="2238.3" r="2.64"/>
<circle cx="1483.8" cy="2238.3" r="2.64"/>
<circle cx="1484.4" cy="2194.9" r="2.64"/>
<circle cx="1488.1" cy="2238.3" r="2.64"/>
<circle cx="1494.1" cy="2238.3" r="2.64"/>
<circle cx="1499.1" cy="2238.3" r="2.64"/>
<circle cx="1500.0" cy="2205.0" r="2.64"/>
<circle cx="1507.0" cy="2238.3" r="2.64"/>
<circle cx="1507.7" cy="2238.3" r="2.64"/>
<circle cx="1510.0" cy="2238.3" r="2.64"/>
<circle cx="1516.1" cy="2238.3" r="2.64"/>
<circle cx="1517.9" cy="2238.3" r="2.64"/>
<circle cx="1521.6" cy="2195.7" r="2.64"/>
<circle cx="1524.8" cy="2238.3" r="2.64"/>
<circle cx="1525.2" cy="2238.3" r="2.64"/>
<circle cx="1526.2" cy="2238.3" r="2.64"/>
<circle cx="1526.4" cy="2238.3" r="2.64"/>
<circle cx="1531.1" cy="2238.3" r="2.64"/>
<circle cx="1531.3" cy="2238.3" r="2.64"/>
<circle cx="1532.0" cy="2238.3" r="2.64"/>
<circle cx="1534.0" cy="2238.3" r="2.64"/>
<circle cx="1534.1" cy="2238.3" r="2.64"/>
<circle cx="1536.7" cy="2238.3" r="2.64"/>
<circle cx="1539.3" cy="2238.3" r="2.64"/>
<circle cx="1540.8" cy="2238.3" r="2.64"/>
<circle cx="1547.9" cy="2238.3" r="2.64"/>
<circle cx="1551.7" cy="2238.3" r="2.64"/>
<circle cx="1553.8" cy="2238.3" r="2.64"/>
<circle cx="1556.5" cy="2238.3" r="2.64"/>
<circle cx="1557.1" cy="2200.3" r="2.64"/>
<circle cx="1558.2" cy="2238.3" r="2.64"/>
<circle cx="1566.5" cy="2238.3" r="2.64"/>
<circle cx="1570.7" cy="2238.3" r="2.64"/>
<circle cx="1572.6" cy="2238.3" r="2.64"/>
</g>
<g fill="#e36fba" fill-opacity="0.85" stroke="#e36fba" stroke-opacity="0.90" stroke-width="0.93">
<circle cx="1582.4" cy="2219.4" r="2.64"/>
<circle cx="1585.7" cy="2238.3" r="2.64"/>
<circle cx="1586.3" cy="2238.3" r="2.64"/>
<circle cx="1590.1" cy="2238.3" r="2.64"/>
<circle cx="1590.9" cy="2205.4" r="2.64"/>
<circle cx="1592.2" cy="2198.8" r="2.64"/>
<circle cx="1592.6" cy="2208.6" r="2.64"/>
<circle cx="1594.4" cy="2238.3" r="2.64"/>
<circle cx="1595.6" cy="2238.3" r="2.64"/>
<circle cx="1599.5" cy="2238.3" r="2.64"/>
<circle cx="1600.7" cy="2201.2" r="2.64"/>
<circle cx="1602.2" cy="2238.3" r="2.64"/>
<circle cx="1602.6" cy="2238.3" r="2.64"/>
<circle cx="1612.2" cy="2199.6" r="2.64"/>
<circle cx="1612.5" cy="2208.6" r="2.64"/>
<circle cx="1613.2" cy="2238.3" r="2.64"/>
<circle cx="1613.5" cy="2207.5" r="2.64"/>
<circle cx="1615.2" cy="2238.3" r="2.64"/>
<circle cx="1616.8" cy="2238.3" r="2.64"/>
<circle cx="1617.8" cy="2238.3" r="2.64"/>
<circle cx="1619.9" cy="2238.3" r="2.64"/>
<circle cx="1622.8" cy="2238.3" r="2.64"/>
<circle cx="1622.9" cy="2238.3" r="2.64"/>
<circle cx="1623.9" cy="2217.0" r="2.64"/>
<circle cx="1625.1" cy="2205.3" r="2.64"/>
<circle cx="1630.0" cy="2238.3" r="2.64"/>
<circle cx="1642.2" cy="2238.3" r="2.64"/>
<circle cx="1643.2" cy="2204.6" r="2.64"/>
<circle cx="1650.0" cy="2238.3" r="2.64"/>
<circle cx="1650.4" cy="2200.5" r="2.64"/>
<circle cx="1656.2" cy="2198.9" r="2.64"/>
<circle cx="1659.2" cy="2238.3" r="2.64"/>
<circle cx="1664.7" cy="2238.3" r="2.64"/>
<circle cx="1664.9" cy="2214.5" r="2.64"/>
<circle cx="1665.8" cy="2220.9" r="2.64"/>
<circle cx="1669.1" cy="2202.9" r="2.64"/>
<circle cx="1670.4" cy="2209.7" r="2.64"/>
<circle cx="1671.9" cy="2238.3" r="2.64"/>
<circle cx="1675.6" cy="2206.9" r="2.64"/>
<circle cx="1676.5" cy="2210.8" r="2.64"/>
<circle cx="1677.2" cy="2238.3" r="2.64"/>
<circle cx="1677.5" cy="2210.0" r="2.64"/>
<circle cx="1679.5" cy="2238.3" r="2.64"/>
<circle cx="1680.6" cy="2238.3" r="2.64"/>
<circle cx="1683.1" cy="2238.3" r="2.64"/>
<circle cx="1685.7" cy="2238.3" r="2.64"/>
<circle cx="1694.3" cy="2194.8" r="2.64"/>
<circle cx="1697.2" cy="2238.3" r="2.64"/>
<circle cx="1699.3" cy="2207.9" r="2.64"/>
<circle cx="1701.3" cy="2201.9" r="2.64"/>
<circle cx="1703.8" cy="2215.4" r="2.64"/>
<circle cx="1705.9" cy="2238.3" r="2.64"/>
<circle cx="1706.5" cy="2213.6" r="2.64"/>
<circle cx="1707.4" cy="2238.3" r="2.64"/>
<circle cx="1719.6" cy="2203.2" r="2.64"/>
<circle cx="1721.7" cy="2218.3" r="2.64"/>
<circle cx="1722.7" cy="2238.3" r="2.64"/>
<circle cx="1722.8" cy="2238.3" r="2.64"/>
<circle cx="1728.8" cy="2238.3" r="2.64"/>
<circle cx="1732.9" cy="2209.4" r="2.64"/>
<circle cx="1736.4" cy="2201.1" r="2.64"/>
<circle cx="1739.4" cy="2209.9" r="2.64"/>
<circle cx="1741.9" cy="2238.3" r="2.64"/>
<circle cx="1742.3" cy="2204.7" r="2.64"/>
<circle cx="1743.8" cy="2199.1" r="2.64"/>
<circle cx="1745.3" cy="2238.3" r="2.64"/>
<circle cx="1745.5" cy="2204.7" r="2.64"/>
<circle cx="1748.3" cy="2212.6" r="2.64"/>
<circle cx="1751.5" cy="2204.4" r="2.64"/>
<circle cx="1753.1" cy="2238.3" r="2.64"/>
<circle cx="1753.8" cy="2238.3" r="2.64"/>
<circle cx="1754.1" cy="2208.0" r="2.64"/>
<circle cx="1754.3" cy="2238.3" r="2.64"/>
</g>
<g fill="#e4277f" fill-opacity="0.85" stroke="#e4277f" stroke-opacity="0.90" stroke-width="0.93">
<circle cx="1760.6" cy="2238.3" r="2.64"/>
<circle cx="1761.3" cy="2213.4" r="2.64"/>
<circle cx="1764.1" cy="2238.3" r="2.64"/>
<circle cx="1766.9" cy="2208.8" r="2.64"/>
<circle cx="1767.0" cy="2238.3" r="2.64"/>
<circle cx="1770.6" cy="2211.3" r="2.64"/>
<circle cx="1771.7" cy="2210.9" r="2.64"/>
<circle cx="1772.1" cy="2202.6" r="2.64"/>
<circle cx="1772.7" cy="2211.7" r="2.64"/>
<circle cx="1772.9" cy="2238.3" r="2.64"/>
<circle cx="1773.1" cy="2238.3" r="2.64"/>
<circle cx="1774.5" cy="2216.2" r="2.64"/>
<circle cx="1779.0" cy="2238.3" r="2.64"/>
<circle cx="1779.1" cy="2205.8" r="2.64"/>
<circle cx="1786.0" cy="2197.7" r="2.64"/>
<circle cx="1786.3" cy="2238.3" r="2.64"/>
<circle cx="1790.4" cy="2191.6" r="2.64"/>
<circle cx="1790.8" cy="2238.3" r="2.64"/>
<circle cx="1791.4" cy="2186.8" r="2.64"/>
<circle cx="1794.2" cy="2202.8" r="2.64"/>
<circle cx="1795.2" cy="2238.3" r="2.64"/>
<circle cx="1796.0" cy="2188.8" r="2.64"/>
<circle cx="1799.0" cy="2189.2" r="2.64"/>
<circle cx="1799.7" cy="2238.3" r="2.64"/>
<circle cx="1802.4" cy="2193.2" r="2.64"/>
<circle cx="1804.1" cy="2188.2" r="2.64"/>
<circle cx="1806.9" cy="2238.3" r="2.64"/>
<circle cx="1808.7" cy="2187.8" r="2.64"/>
<circle cx="1811.0" cy="2238.3" r="2.64"/>
<circle cx="1811.1" cy="2199.3" r="2.64"/>
<circle cx="1811.4" cy="2238.3" r="2.64"/>
<circle cx="1813.6" cy="2181.8" r="2.64"/>
<circle cx="1814.3" cy="2238.3" r="2.64"/>
<circle cx="1816.1" cy="2179.9" r="2.64"/>
<circle cx="1816.9" cy="2203.1" r="2.64"/>
<circle cx="1817.0" cy="2238.3" r="2.64"/>
<circle cx="1820.3" cy="2195.9" r="2.64"/>
<circle cx="1821.2" cy="2238.3" r="2.64"/>
<circle cx="1821.2" cy="2198.6" r="2.64"/>
<circle cx="1821.4" cy="2188.1" r="2.64"/>
<circle cx="1830.1" cy="2207.9" r="2.64"/>
<circle cx="1830.9" cy="2238.3" r="2.64"/>
<circle cx="1834.5" cy="2210.8" r="2.64"/>
<circle cx="1835.3" cy="2191.1" r="2.64"/>
<circle cx="1839.2" cy="2185.4" r="2.64"/>
<circle cx="1840.0" cy="2193.0" r="2.64"/>
<circle cx="1842.0" cy="2197.1" r="2.64"/>
<circle cx="1842.9" cy="2202.0" r="2.64"/>
<circle cx="1842.9" cy="2196.5" r="2.64"/>
<circle cx="1846.3" cy="2187.8" r="2.64"/>
<circle cx="1849.7" cy="2197.1" r="2.64"/>
<circle cx="1853.2" cy="2238.3" r="2.64"/>
<circle cx="1854.3" cy="2212.1" r="2.64"/>
<circle cx="1855.0" cy="2238.3" r="2.64"/>
<circle cx="1855.4" cy="2199.3" r="2.64"/>
<circle cx="1865.2" cy="2201.7" r="2.64"/>
<circle cx="1868.4" cy="2180.0" r="2.64"/>
<circle cx="1875.3" cy="2204.8" r="2.64"/>
<circle cx="1875.4" cy="2180.5" r="2.64"/>
<circle cx="1876.2" cy="2238.3" r="2.64"/>
<circle cx="1878.2" cy="2180.9" r="2.64"/>
<circle cx="1879.0" cy="2238.3" r="2.64"/>
<circle cx="1881.5" cy="2238.3" r="2.64"/>
<circle cx="1885.0" cy="2238.3" r="2.64"/>
<circle cx="1886.6" cy="2182.3" r="2.64"/>
<circle cx="1887.1" cy="2238.3" r="2.64"/>
<circle cx="1887.3" cy="2192.7" r="2.64"/>
<circle cx="1887.7" cy="2190.3" r="2.64"/>
<circle cx="1888.7" cy="2238.3" r="2.64"/>
<circle cx="1888.8" cy="2200.4" r="2.64"/>
<circle cx="1890.7" cy="2185.6" r="2.64"/>
<circle cx="1893.1" cy="2238.3" r="2.64"/>
<circle cx="1893.7" cy="2212.2" r="2.64"/>
<circle cx="1895.2" cy="2186.2" r="2.64"/>
<circle cx="1896.0" cy="2238.3" r="2.64"/>
<circle cx="1898.3" cy="2204.3" r="2.64"/>
<circle cx="1902.2" cy="2202.7" r="2.64"/>
<circle cx="1902.6" cy="2202.8" r="2.64"/>
<circle cx="1902.6" cy="2199.8" r="2.64"/>
<circle cx="1905.5" cy="2238.3" r="2.64"/>
<circle cx="1907.4" cy="2238.3" r="2.64"/>
<circle cx="1908.2" cy="2206.8" r="2.64"/>
<circle cx="1912.0" cy="2238.3" r="2.64"/>
<circle cx="1913.2" cy="2188.2" r="2.64"/>
<circle cx="1868.0" cy="2155.1" r="2.64"/>
<circle cx="1890.8" cy="2163.6" r="2.64"/>
</g>
<path d="M1458.5 2237.6C1476.7 2237.1 1539.9 2235.9 1567.9 2235.0C1595.8 2234.2 1606.7 2234.0 1626.2 2232.5C1645.6 2231.0 1665.7 2228.9 1684.5 2225.9C1703.3 2222.9 1720.3 2217.6 1739.2 2214.2C1758.0 2210.9 1782.3 2207.4 1797.5 2205.9C1812.7 2204.3 1818.8 2204.8 1830.3 2205.1C1841.8 2205.4 1852.9 2205.9 1866.8 2207.7C1880.6 2209.5 1905.6 2214.7 1913.4 2216.1" stroke="#8a9a9a" stroke-opacity="0.22" stroke-width="13.5" fill="none"/>
<path d="M1458.5 2228.8L1488.5 2231.6L1488.5 2242.2L1458.5 2246.4Z" fill="#6f7c7c" fill-opacity="0.38"/>
<path d="M1913.4 2207.3L1883.4 2205.4L1883.4 2216.0L1913.4 2224.9Z" fill="#6f7c7c" fill-opacity="0.38"/>
<path d="M1458.5 2237.6C1476.7 2237.1 1539.9 2235.9 1567.9 2235.0C1595.8 2234.2 1606.7 2234.0 1626.2 2232.5C1645.6 2231.0 1665.7 2228.9 1684.5 2225.9C1703.3 2222.9 1720.3 2217.6 1739.2 2214.2C1758.0 2210.9 1782.3 2207.4 1797.5 2205.9C1812.7 2204.3 1818.8 2204.8 1830.3 2205.1C1841.8 2205.4 1852.9 2205.9 1866.8 2207.7C1880.6 2209.5 1905.6 2214.7 1913.4 2216.1" stroke="#ff0000" stroke-width="10.2" fill="none"/>
<rect x="1433.4" y="2236.8" width="2.4" height="3.0" fill="#111" />
<text x="1432.0" y="2241.7" font-size="9.6" text-anchor="end" fill="#222" >0</text>
<rect x="1433.4" y="2208.6" width="2.4" height="3.0" fill="#111" />
<text x="1432.0" y="2213.5" font-size="9.6" text-anchor="end" fill="#222" >1</text>
<rect x="1433.4" y="2180.4" width="2.4" height="3.0" fill="#111" />
<text x="1432.0" y="2185.3" font-size="9.6" text-anchor="end" fill="#222" >2</text>
<rect x="1433.4" y="2152.2" width="2.4" height="3.0" fill="#111" />
<text x="1432.0" y="2157.1" font-size="9.6" text-anchor="end" fill="#222" >3</text>
<text x="1418.5" y="2195.7" font-size="23.7" text-anchor="end" font-style="italic" fill="#000" >Cd248</text>
<rect x="1436.0" y="2253.3" width="500.0" height="98.4" fill="#ebebeb" />
<path d="M1436.0 2346.9H1936.0M1436.0 2329.5H1936.0M1436.0 2312.1H1936.0M1436.0 2294.7H1936.0M1436.0 2277.3H1936.0M1436.0 2259.9H1936.0M1513.5 2253.3V2351.7M1628.5 2253.3V2351.7M1743.5 2253.3V2351.7M1858.5 2253.3V2351.7" stroke="#fff" stroke-width="2.3" fill="none"/>
<path d="M1436.0 2338.2H1936.0M1436.0 2320.8H1936.0M1436.0 2303.4H1936.0M1436.0 2286.0H1936.0M1436.0 2268.6H1936.0M1456.0 2253.3V2351.7M1571.0 2253.3V2351.7M1686.0 2253.3V2351.7M1801.0 2253.3V2351.7M1916.0 2253.3V2351.7" stroke="#fff" stroke-width="3.4" fill="none"/>
<g fill="#d5b5da" fill-opacity="0.85" stroke="#d5b5da" stroke-opacity="0.90" stroke-width="0.93">
<circle cx="1459.3" cy="2338.2" r="2.64"/>
<circle cx="1460.0" cy="2294.9" r="2.64"/>
<circle cx="1462.6" cy="2277.8" r="2.64"/>
<circle cx="1463.8" cy="2281.4" r="2.64"/>
<circle cx="1464.5" cy="2291.8" r="2.64"/>
<circle cx="1466.7" cy="2285.8" r="2.64"/>
<circle cx="1468.9" cy="2285.5" r="2.64"/>
<circle cx="1471.1" cy="2274.5" r="2.64"/>
<circle cx="1471.7" cy="2275.8" r="2.64"/>
<circle cx="1473.4" cy="2282.5" r="2.64"/>
<circle cx="1475.2" cy="2282.3" r="2.64"/>
<circle cx="1477.5" cy="2277.5" r="2.64"/>
<circle cx="1479.8" cy="2306.1" r="2.64"/>
<circle cx="1480.6" cy="2277.8" r="2.64"/>
<circle cx="1483.8" cy="2285.2" r="2.64"/>
<circle cx="1484.4" cy="2288.6" r="2.64"/>
<circle cx="1488.1" cy="2289.3" r="2.64"/>
<circle cx="1494.1" cy="2275.9" r="2.64"/>
<circle cx="1499.1" cy="2295.0" r="2.64"/>
<circle cx="1500.0" cy="2278.2" r="2.64"/>
<circle cx="1507.0" cy="2278.9" r="2.64"/>
<circle cx="1507.7" cy="2291.4" r="2.64"/>
<circle cx="1510.0" cy="2268.3" r="2.64"/>
<circle cx="1516.1" cy="2297.2" r="2.64"/>
<circle cx="1517.9" cy="2281.6" r="2.64"/>
<circle cx="1521.6" cy="2287.4" r="2.64"/>
<circle cx="1524.8" cy="2276.5" r="2.64"/>
<circle cx="1525.2" cy="2298.4" r="2.64"/>
<circle cx="1526.2" cy="2304.0" r="2.64"/>
<circle cx="1526.4" cy="2268.8" r="2.64"/>
<circle cx="1531.1" cy="2295.3" r="2.64"/>
<circle cx="1531.3" cy="2275.3" r="2.64"/>
<circle cx="1532.0" cy="2284.2" r="2.64"/>
<circle cx="1534.0" cy="2284.6" r="2.64"/>
<circle cx="1534.1" cy="2282.1" r="2.64"/>
<circle cx="1536.7" cy="2279.9" r="2.64"/>
<circle cx="1539.3" cy="2275.2" r="2.64"/>
<circle cx="1540.8" cy="2295.9" r="2.64"/>
<circle cx="1547.9" cy="2278.0" r="2.64"/>
<circle cx="1551.7" cy="2281.6" r="2.64"/>
<circle cx="1553.8" cy="2298.9" r="2.64"/>
<circle cx="1556.5" cy="2280.1" r="2.64"/>
<circle cx="1557.1" cy="2276.8" r="2.64"/>
<circle cx="1558.2" cy="2292.0" r="2.64"/>
<circle cx="1566.5" cy="2280.3" r="2.64"/>
<circle cx="1570.7" cy="2274.3" r="2.64"/>
<circle cx="1572.6" cy="2307.9" r="2.64"/>
<circle cx="1458.5" cy="2338.2" r="2.64"/>
</g>
<g fill="#e36fba" fill-opacity="0.85" stroke="#e36fba" stroke-opacity="0.90" stroke-width="0.93">
<circle cx="1582.4" cy="2338.2" r="2.64"/>
<circle cx="1585.7" cy="2338.2" r="2.64"/>
<circle cx="1586.3" cy="2315.1" r="2.64"/>
<circle cx="1590.1" cy="2338.2" r="2.64"/>
<circle cx="1590.9" cy="2338.2" r="2.64"/>
<circle cx="1592.2" cy="2303.5" r="2.64"/>
<circle cx="1592.6" cy="2338.2" r="2.64"/>
<circle cx="1594.4" cy="2338.2" r="2.64"/>
<circle cx="1595.6" cy="2296.8" r="2.64"/>
<circle cx="1599.5" cy="2309.5" r="2.64"/>
<circle cx="1600.7" cy="2323.0" r="2.64"/>
<circle cx="1602.2" cy="2338.2" r="2.64"/>
<circle cx="1602.6" cy="2304.4" r="2.64"/>
<circle cx="1612.2" cy="2320.6" r="2.64"/>
<circle cx="1612.5" cy="2338.2" r="2.64"/>
<circle cx="1613.2" cy="2338.2" r="2.64"/>
<circle cx="1613.5" cy="2310.4" r="2.64"/>
<circle cx="1615.2" cy="2307.6" r="2.64"/>
<circle cx="1616.8" cy="2338.2" r="2.64"/>
<circle cx="1617.8" cy="2338.2" r="2.64"/>
<circle cx="1619.9" cy="2338.2" r="2.64"/>
<circle cx="1622.8" cy="2310.1" r="2.64"/>
<circle cx="1622.9" cy="2316.0" r="2.64"/>
<circle cx="1623.9" cy="2338.2" r="2.64"/>
<circle cx="1625.1" cy="2338.2" r="2.64"/>
<circle cx="1630.0" cy="2338.2" r="2.64"/>
<circle cx="1642.2" cy="2307.1" r="2.64"/>
<circle cx="1643.2" cy="2310.4" r="2.64"/>
<circle cx="1650.0" cy="2338.2" r="2.64"/>
<circle cx="1650.4" cy="2338.2" r="2.64"/>
<circle cx="1656.2" cy="2338.2" r="2.64"/>
<circle cx="1659.2" cy="2321.5" r="2.64"/>
<circle cx="1664.7" cy="2338.2" r="2.64"/>
<circle cx="1664.9" cy="2338.2" r="2.64"/>
<circle cx="1665.8" cy="2338.2" r="2.64"/>
<circle cx="1669.1" cy="2338.2" r="2.64"/>
<circle cx="1670.4" cy="2308.9" r="2.64"/>
<circle cx="1671.9" cy="2338.2" r="2.64"/>
<circle cx="1675.6" cy="2338.2" r="2.64"/>
<circle cx="1676.5" cy="2303.4" r="2.64"/>
<circle cx="1677.2" cy="2317.9" r="2.64"/>
<circle cx="1677.5" cy="2338.2" r="2.64"/>
<circle cx="1679.5" cy="2338.2" r="2.64"/>
<circle cx="1680.6" cy="2314.1" r="2.64"/>
<circle cx="1683.1" cy="2299.8" r="2.64"/>
<circle cx="1685.7" cy="2338.2" r="2.64"/>
<circle cx="1694.3" cy="2318.3" r="2.64"/>
<circle cx="1697.2" cy="2295.3" r="2.64"/>
<circle cx="1699.3" cy="2338.2" r="2.64"/>
<circle cx="1701.3" cy="2338.2" r="2.64"/>
<circle cx="1703.8" cy="2290.9" r="2.64"/>
<circle cx="1705.9" cy="2315.4" r="2.64"/>
<circle cx="1706.5" cy="2311.1" r="2.64"/>
<circle cx="1707.4" cy="2338.2" r="2.64"/>
<circle cx="1719.6" cy="2338.2" r="2.64"/>
<circle cx="1721.7" cy="2324.2" r="2.64"/>
<circle cx="1722.7" cy="2304.6" r="2.64"/>
<circle cx="1722.8" cy="2320.7" r="2.64"/>
<circle cx="1728.8" cy="2338.2" r="2.64"/>
<circle cx="1732.9" cy="2324.9" r="2.64"/>
<circle cx="1736.4" cy="2338.2" r="2.64"/>
<circle cx="1739.4" cy="2338.2" r="2.64"/>
<circle cx="1741.9" cy="2338.2" r="2.64"/>
<circle cx="1742.3" cy="2338.2" r="2.64"/>
<circle cx="1743.8" cy="2325.7" r="2.64"/>
<circle cx="1745.3" cy="2338.2" r="2.64"/>
<circle cx="1745.5" cy="2338.2" r="2.64"/>
<circle cx="1748.3" cy="2338.2" r="2.64"/>
<circle cx="1751.5" cy="2338.2" r="2.64"/>
<circle cx="1753.1" cy="2338.2" r="2.64"/>
<circle cx="1753.8" cy="2338.2" r="2.64"/>
<circle cx="1754.1" cy="2338.2" r="2.64"/>
<circle cx="1754.3" cy="2338.2" r="2.64"/>
</g>
<g fill="#e4277f" fill-opacity="0.85" stroke="#e4277f" stroke-opacity="0.90" stroke-width="0.93">
<circle cx="1760.6" cy="2338.2" r="2.64"/>
<circle cx="1761.3" cy="2322.0" r="2.64"/>
<circle cx="1764.1" cy="2338.2" r="2.64"/>
<circle cx="1766.9" cy="2338.2" r="2.64"/>
<circle cx="1767.0" cy="2325.8" r="2.64"/>
<circle cx="1770.6" cy="2338.2" r="2.64"/>
<circle cx="1771.7" cy="2338.2" r="2.64"/>
<circle cx="1772.1" cy="2319.9" r="2.64"/>
<circle cx="1772.7" cy="2338.2" r="2.64"/>
<circle cx="1772.9" cy="2324.0" r="2.64"/>
<circle cx="1773.1" cy="2338.2" r="2.64"/>
<circle cx="1774.5" cy="2338.2" r="2.64"/>
<circle cx="1779.0" cy="2325.3" r="2.64"/>
<circle cx="1779.1" cy="2338.2" r="2.64"/>
<circle cx="1786.0" cy="2330.1" r="2.64"/>
<circle cx="1786.3" cy="2338.2" r="2.64"/>
<circle cx="1790.4" cy="2338.2" r="2.64"/>
<circle cx="1790.8" cy="2338.2" r="2.64"/>
<circle cx="1791.4" cy="2338.2" r="2.64"/>
<circle cx="1794.2" cy="2338.2" r="2.64"/>
<circle cx="1795.2" cy="2319.7" r="2.64"/>
<circle cx="1796.0" cy="2338.2" r="2.64"/>
<circle cx="1799.0" cy="2324.4" r="2.64"/>
<circle cx="1799.7" cy="2338.2" r="2.64"/>
<circle cx="1802.4" cy="2328.0" r="2.64"/>
<circle cx="1804.1" cy="2328.8" r="2.64"/>
<circle cx="1806.9" cy="2323.5" r="2.64"/>
<circle cx="1808.7" cy="2338.2" r="2.64"/>
<circle cx="1811.0" cy="2338.2" r="2.64"/>
<circle cx="1811.1" cy="2338.2" r="2.64"/>
<circle cx="1811.4" cy="2338.2" r="2.64"/>
<circle cx="1813.6" cy="2338.2" r="2.64"/>
<circle cx="1814.3" cy="2338.2" r="2.64"/>
<circle cx="1816.1" cy="2338.2" r="2.64"/>
<circle cx="1816.9" cy="2338.2" r="2.64"/>
<circle cx="1817.0" cy="2338.2" r="2.64"/>
<circle cx="1820.3" cy="2323.3" r="2.64"/>
<circle cx="1821.2" cy="2338.2" r="2.64"/>
<circle cx="1821.2" cy="2338.2" r="2.64"/>
<circle cx="1821.4" cy="2338.2" r="2.64"/>
<circle cx="1830.1" cy="2338.2" r="2.64"/>
<circle cx="1830.9" cy="2338.2" r="2.64"/>
<circle cx="1834.5" cy="2338.2" r="2.64"/>
<circle cx="1835.3" cy="2338.2" r="2.64"/>
<circle cx="1839.2" cy="2338.2" r="2.64"/>
<circle cx="1840.0" cy="2330.2" r="2.64"/>
<circle cx="1842.0" cy="2338.2" r="2.64"/>
<circle cx="1842.9" cy="2338.2" r="2.64"/>
<circle cx="1842.9" cy="2338.2" r="2.64"/>
<circle cx="1846.3" cy="2338.2" r="2.64"/>
<circle cx="1849.7" cy="2338.2" r="2.64"/>
<circle cx="1853.2" cy="2338.2" r="2.64"/>
<circle cx="1854.3" cy="2338.2" r="2.64"/>
<circle cx="1855.0" cy="2323.0" r="2.64"/>
<circle cx="1855.4" cy="2338.2" r="2.64"/>
<circle cx="1865.2" cy="2338.2" r="2.64"/>
<circle cx="1868.4" cy="2338.2" r="2.64"/>
<circle cx="1875.3" cy="2338.2" r="2.64"/>
<circle cx="1875.4" cy="2328.6" r="2.64"/>
<circle cx="1876.2" cy="2338.2" r="2.64"/>
<circle cx="1878.2" cy="2338.2" r="2.64"/>
<circle cx="1879.0" cy="2326.0" r="2.64"/>
<circle cx="1881.5" cy="2326.6" r="2.64"/>
<circle cx="1885.0" cy="2338.2" r="2.64"/>
<circle cx="1886.6" cy="2322.8" r="2.64"/>
<circle cx="1887.1" cy="2321.4" r="2.64"/>
<circle cx="1887.3" cy="2338.2" r="2.64"/>
<circle cx="1887.7" cy="2338.2" r="2.64"/>
<circle cx="1888.7" cy="2338.2" r="2.64"/>
<circle cx="1888.8" cy="2321.2" r="2.64"/>
<circle cx="1890.7" cy="2338.2" r="2.64"/>
<circle cx="1893.1" cy="2338.2" r="2.64"/>
<circle cx="1893.7" cy="2338.2" r="2.64"/>
<circle cx="1895.2" cy="2318.6" r="2.64"/>
<circle cx="1896.0" cy="2338.2" r="2.64"/>
<circle cx="1898.3" cy="2338.2" r="2.64"/>
<circle cx="1902.2" cy="2338.2" r="2.64"/>
<circle cx="1902.6" cy="2324.4" r="2.64"/>
<circle cx="1902.6" cy="2338.2" r="2.64"/>
<circle cx="1905.5" cy="2338.2" r="2.64"/>
<circle cx="1907.4" cy="2323.7" r="2.64"/>
<circle cx="1908.2" cy="2327.7" r="2.64"/>
<circle cx="1912.0" cy="2338.2" r="2.64"/>
<circle cx="1913.2" cy="2338.2" r="2.64"/>
<circle cx="1840.7" cy="2291.2" r="2.64"/>
<circle cx="1868.0" cy="2319.1" r="2.64"/>
</g>
<path d="M1458.5 2281.3C1467.0 2282.7 1491.3 2285.9 1509.5 2289.7C1527.8 2293.5 1548.4 2298.5 1567.9 2304.3C1587.3 2310.0 1606.7 2319.8 1626.2 2324.3C1645.6 2328.9 1665.7 2330.5 1684.5 2331.6C1703.3 2332.7 1720.3 2330.8 1739.2 2330.9C1758.0 2331.0 1778.4 2331.6 1797.5 2332.3C1816.6 2333.1 1834.7 2334.2 1854.0 2335.3C1873.3 2336.4 1903.5 2338.3 1913.4 2338.9" stroke="#8a9a9a" stroke-opacity="0.22" stroke-width="13.5" fill="none"/>
<path d="M1458.5 2272.5L1488.5 2280.9L1488.5 2291.5L1458.5 2290.1Z" fill="#6f7c7c" fill-opacity="0.38"/>
<path d="M1913.4 2330.1L1883.4 2331.8L1883.4 2342.4L1913.4 2347.7Z" fill="#6f7c7c" fill-opacity="0.38"/>
<path d="M1458.5 2281.3C1467.0 2282.7 1491.3 2285.9 1509.5 2289.7C1527.8 2293.5 1548.4 2298.5 1567.9 2304.3C1587.3 2310.0 1606.7 2319.8 1626.2 2324.3C1645.6 2328.9 1665.7 2330.5 1684.5 2331.6C1703.3 2332.7 1720.3 2330.8 1739.2 2330.9C1758.0 2331.0 1778.4 2331.6 1797.5 2332.3C1816.6 2333.1 1834.7 2334.2 1854.0 2335.3C1873.3 2336.4 1903.5 2338.3 1913.4 2338.9" stroke="#ff0000" stroke-width="10.2" fill="none"/>
<rect x="1433.4" y="2336.7" width="2.4" height="3.0" fill="#111" />
<text x="1432.0" y="2341.6" font-size="9.6" text-anchor="end" fill="#222" >0</text>
<rect x="1433.4" y="2319.3" width="2.4" height="3.0" fill="#111" />
<text x="1432.0" y="2324.2" font-size="9.6" text-anchor="end" fill="#222" >1</text>
<rect x="1433.4" y="2301.9" width="2.4" height="3.0" fill="#111" />
<text x="1432.0" y="2306.8" font-size="9.6" text-anchor="end" fill="#222" >2</text>
<rect x="1433.4" y="2284.5" width="2.4" height="3.0" fill="#111" />
<text x="1432.0" y="2289.4" font-size="9.6" text-anchor="end" fill="#222" >3</text>
<rect x="1433.4" y="2267.1" width="2.4" height="3.0" fill="#111" />
<text x="1432.0" y="2272.0" font-size="9.6" text-anchor="end" fill="#222" >4</text>
<text x="1418.5" y="2300.6" font-size="23.7" text-anchor="end" font-style="italic" fill="#000" >Sox9</text>
<text x="749.5" y="1693.0" font-size="33.6" text-anchor="start" font-weight="bold" fill="#000" >g</text>
</svg></body></html>
